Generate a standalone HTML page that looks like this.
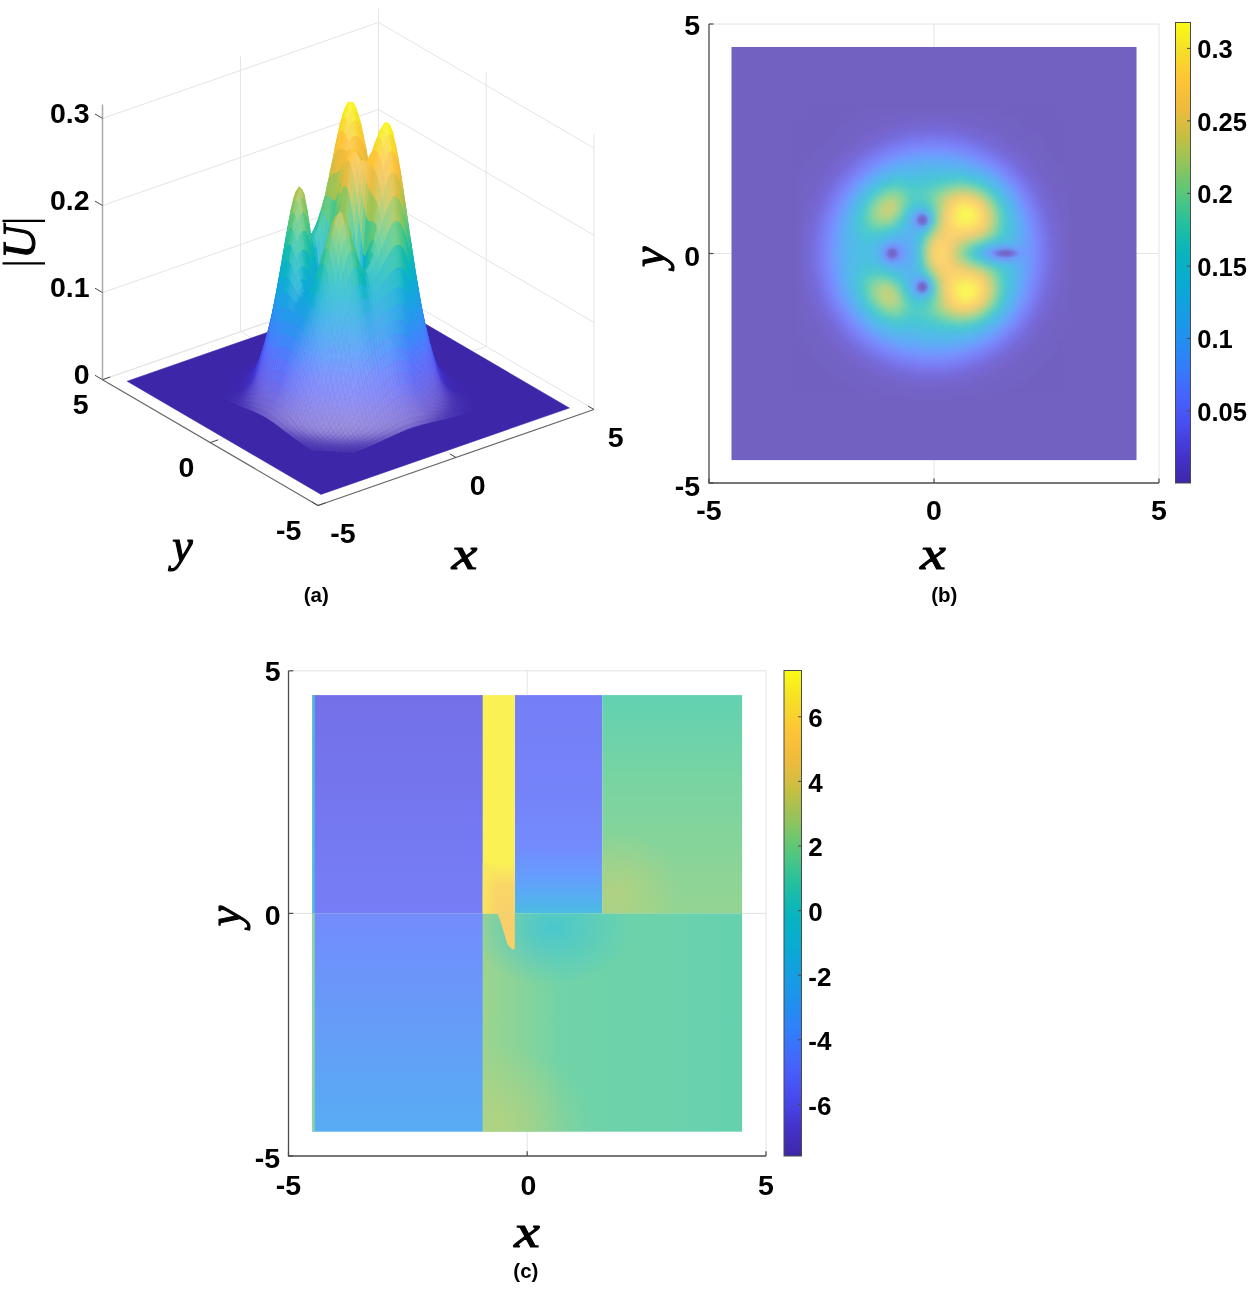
<!DOCTYPE html><html><head><meta charset="utf-8"><title>figure</title><style>html,body{margin:0;padding:0;background:#fff}svg{display:block}</style></head><body><svg width="1248" height="1289" viewBox="0 0 1248 1289"><line x1="934" y1="24.0" x2="934" y2="483.0" stroke="#e4e4e4" stroke-width="1"/><line x1="1159" y1="24.0" x2="1159" y2="483.0" stroke="#e4e4e4" stroke-width="1"/><line x1="709.0" y1="24" x2="1159.0" y2="24" stroke="#e4e4e4" stroke-width="1"/><line x1="709.0" y1="253.5" x2="1159.0" y2="253.5" stroke="#e4e4e4" stroke-width="1"/><rect x="731.5" y="47" width="405" height="413.1" fill="#7261c0"/><defs><filter id="bl" x="-5%" y="-5%" width="110%" height="110%"><feGaussianBlur stdDeviation="2.6"/></filter></defs><g filter="url(#bl)" shape-rendering="crispEdges"><rect x="799" y="111.2" width="6" height="6" fill="#7261c0"/><rect x="805" y="111.2" width="6" height="6" fill="#7261c0"/><rect x="811" y="111.2" width="6" height="6" fill="#7261c0"/><rect x="817" y="111.2" width="6" height="6" fill="#7261c0"/><rect x="823" y="111.2" width="6" height="6" fill="#7261c0"/><rect x="829" y="111.2" width="6" height="6" fill="#7261c0"/><rect x="835" y="111.2" width="6" height="6" fill="#7261c0"/><rect x="841" y="111.2" width="6" height="6" fill="#7261c1"/><rect x="847" y="111.2" width="6" height="6" fill="#7261c1"/><rect x="853" y="111.2" width="6" height="6" fill="#7261c1"/><rect x="859" y="111.2" width="6" height="6" fill="#7262c2"/><rect x="865" y="111.2" width="6" height="6" fill="#7262c2"/><rect x="871" y="111.2" width="6" height="6" fill="#7262c3"/><rect x="877" y="111.2" width="6" height="6" fill="#7362c3"/><rect x="883" y="111.2" width="6" height="6" fill="#7362c4"/><rect x="889" y="111.2" width="6" height="6" fill="#7362c4"/><rect x="895" y="111.2" width="6" height="6" fill="#7363c5"/><rect x="901" y="111.2" width="6" height="6" fill="#7363c6"/><rect x="907" y="111.2" width="6" height="6" fill="#7363c6"/><rect x="913" y="111.2" width="6" height="6" fill="#7363c6"/><rect x="919" y="111.2" width="6" height="6" fill="#7363c7"/><rect x="925" y="111.2" width="6" height="6" fill="#7363c7"/><rect x="931" y="111.2" width="6" height="6" fill="#7363c7"/><rect x="937" y="111.2" width="6" height="6" fill="#7363c7"/><rect x="943" y="111.2" width="6" height="6" fill="#7363c7"/><rect x="949" y="111.2" width="6" height="6" fill="#7363c6"/><rect x="955" y="111.2" width="6" height="6" fill="#7363c6"/><rect x="961" y="111.2" width="6" height="6" fill="#7363c5"/><rect x="967" y="111.2" width="6" height="6" fill="#7363c5"/><rect x="973" y="111.2" width="6" height="6" fill="#7362c4"/><rect x="979" y="111.2" width="6" height="6" fill="#7362c3"/><rect x="985" y="111.2" width="6" height="6" fill="#7262c3"/><rect x="991" y="111.2" width="6" height="6" fill="#7262c2"/><rect x="997" y="111.2" width="6" height="6" fill="#7262c2"/><rect x="1003" y="111.2" width="6" height="6" fill="#7261c1"/><rect x="1009" y="111.2" width="6" height="6" fill="#7261c1"/><rect x="1015" y="111.2" width="6" height="6" fill="#7261c1"/><rect x="1021" y="111.2" width="6" height="6" fill="#7261c0"/><rect x="1027" y="111.2" width="6" height="6" fill="#7261c0"/><rect x="1033" y="111.2" width="6" height="6" fill="#7261c0"/><rect x="1039" y="111.2" width="6" height="6" fill="#7261c0"/><rect x="1045" y="111.2" width="6" height="6" fill="#7261c0"/><rect x="1051" y="111.2" width="6" height="6" fill="#7261c0"/><rect x="1057" y="111.2" width="6" height="6" fill="#7261c0"/><rect x="1063" y="111.2" width="6" height="6" fill="#7261c0"/><rect x="799" y="117.2" width="6" height="6" fill="#7261c0"/><rect x="805" y="117.2" width="6" height="6" fill="#7261c0"/><rect x="811" y="117.2" width="6" height="6" fill="#7261c0"/><rect x="817" y="117.2" width="6" height="6" fill="#7261c0"/><rect x="823" y="117.2" width="6" height="6" fill="#7261c0"/><rect x="829" y="117.2" width="6" height="6" fill="#7261c0"/><rect x="835" y="117.2" width="6" height="6" fill="#7261c1"/><rect x="841" y="117.2" width="6" height="6" fill="#7261c1"/><rect x="847" y="117.2" width="6" height="6" fill="#7261c2"/><rect x="853" y="117.2" width="6" height="6" fill="#7262c2"/><rect x="859" y="117.2" width="6" height="6" fill="#7262c3"/><rect x="865" y="117.2" width="6" height="6" fill="#7362c3"/><rect x="871" y="117.2" width="6" height="6" fill="#7362c4"/><rect x="877" y="117.2" width="6" height="6" fill="#7363c5"/><rect x="883" y="117.2" width="6" height="6" fill="#7363c6"/><rect x="889" y="117.2" width="6" height="6" fill="#7363c7"/><rect x="895" y="117.2" width="6" height="6" fill="#7364c8"/><rect x="901" y="117.2" width="6" height="6" fill="#7364c9"/><rect x="907" y="117.2" width="6" height="6" fill="#7464ca"/><rect x="913" y="117.2" width="6" height="6" fill="#7465ca"/><rect x="919" y="117.2" width="6" height="6" fill="#7465cb"/><rect x="925" y="117.2" width="6" height="6" fill="#7465cb"/><rect x="931" y="117.2" width="6" height="6" fill="#7465cb"/><rect x="937" y="117.2" width="6" height="6" fill="#7465cb"/><rect x="943" y="117.2" width="6" height="6" fill="#7465cb"/><rect x="949" y="117.2" width="6" height="6" fill="#7464ca"/><rect x="955" y="117.2" width="6" height="6" fill="#7364c9"/><rect x="961" y="117.2" width="6" height="6" fill="#7364c8"/><rect x="967" y="117.2" width="6" height="6" fill="#7363c7"/><rect x="973" y="117.2" width="6" height="6" fill="#7363c6"/><rect x="979" y="117.2" width="6" height="6" fill="#7363c5"/><rect x="985" y="117.2" width="6" height="6" fill="#7362c4"/><rect x="991" y="117.2" width="6" height="6" fill="#7362c4"/><rect x="997" y="117.2" width="6" height="6" fill="#7262c3"/><rect x="1003" y="117.2" width="6" height="6" fill="#7262c2"/><rect x="1009" y="117.2" width="6" height="6" fill="#7262c2"/><rect x="1015" y="117.2" width="6" height="6" fill="#7261c1"/><rect x="1021" y="117.2" width="6" height="6" fill="#7261c1"/><rect x="1027" y="117.2" width="6" height="6" fill="#7261c1"/><rect x="1033" y="117.2" width="6" height="6" fill="#7261c0"/><rect x="1039" y="117.2" width="6" height="6" fill="#7261c0"/><rect x="1045" y="117.2" width="6" height="6" fill="#7261c0"/><rect x="1051" y="117.2" width="6" height="6" fill="#7261c0"/><rect x="1057" y="117.2" width="6" height="6" fill="#7261c0"/><rect x="1063" y="117.2" width="6" height="6" fill="#7261c0"/><rect x="799" y="123.2" width="6" height="6" fill="#7261c0"/><rect x="805" y="123.2" width="6" height="6" fill="#7261c0"/><rect x="811" y="123.2" width="6" height="6" fill="#7261c0"/><rect x="817" y="123.2" width="6" height="6" fill="#7261c0"/><rect x="823" y="123.2" width="6" height="6" fill="#7261c1"/><rect x="829" y="123.2" width="6" height="6" fill="#7261c1"/><rect x="835" y="123.2" width="6" height="6" fill="#7261c1"/><rect x="841" y="123.2" width="6" height="6" fill="#7262c2"/><rect x="847" y="123.2" width="6" height="6" fill="#7262c2"/><rect x="853" y="123.2" width="6" height="6" fill="#7362c3"/><rect x="859" y="123.2" width="6" height="6" fill="#7362c4"/><rect x="865" y="123.2" width="6" height="6" fill="#7363c5"/><rect x="871" y="123.2" width="6" height="6" fill="#7363c6"/><rect x="877" y="123.2" width="6" height="6" fill="#7364c8"/><rect x="883" y="123.2" width="6" height="6" fill="#7464c9"/><rect x="889" y="123.2" width="6" height="6" fill="#7465cb"/><rect x="895" y="123.2" width="6" height="6" fill="#7465cd"/><rect x="901" y="123.2" width="6" height="6" fill="#7466ce"/><rect x="907" y="123.2" width="6" height="6" fill="#7566d0"/><rect x="913" y="123.2" width="6" height="6" fill="#7567d1"/><rect x="919" y="123.2" width="6" height="6" fill="#7567d2"/><rect x="925" y="123.2" width="6" height="6" fill="#7567d3"/><rect x="931" y="123.2" width="6" height="6" fill="#7567d3"/><rect x="937" y="123.2" width="6" height="6" fill="#7567d2"/><rect x="943" y="123.2" width="6" height="6" fill="#7567d1"/><rect x="949" y="123.2" width="6" height="6" fill="#7567d0"/><rect x="955" y="123.2" width="6" height="6" fill="#7466cf"/><rect x="961" y="123.2" width="6" height="6" fill="#7466cd"/><rect x="967" y="123.2" width="6" height="6" fill="#7465cc"/><rect x="973" y="123.2" width="6" height="6" fill="#7464ca"/><rect x="979" y="123.2" width="6" height="6" fill="#7364c8"/><rect x="985" y="123.2" width="6" height="6" fill="#7363c7"/><rect x="991" y="123.2" width="6" height="6" fill="#7363c6"/><rect x="997" y="123.2" width="6" height="6" fill="#7362c4"/><rect x="1003" y="123.2" width="6" height="6" fill="#7362c3"/><rect x="1009" y="123.2" width="6" height="6" fill="#7262c3"/><rect x="1015" y="123.2" width="6" height="6" fill="#7262c2"/><rect x="1021" y="123.2" width="6" height="6" fill="#7261c1"/><rect x="1027" y="123.2" width="6" height="6" fill="#7261c1"/><rect x="1033" y="123.2" width="6" height="6" fill="#7261c1"/><rect x="1039" y="123.2" width="6" height="6" fill="#7261c0"/><rect x="1045" y="123.2" width="6" height="6" fill="#7261c0"/><rect x="1051" y="123.2" width="6" height="6" fill="#7261c0"/><rect x="1057" y="123.2" width="6" height="6" fill="#7261c0"/><rect x="1063" y="123.2" width="6" height="6" fill="#7261c0"/><rect x="799" y="129.2" width="6" height="6" fill="#7261c0"/><rect x="805" y="129.2" width="6" height="6" fill="#7261c0"/><rect x="811" y="129.2" width="6" height="6" fill="#7261c0"/><rect x="817" y="129.2" width="6" height="6" fill="#7261c1"/><rect x="823" y="129.2" width="6" height="6" fill="#7261c1"/><rect x="829" y="129.2" width="6" height="6" fill="#7261c1"/><rect x="835" y="129.2" width="6" height="6" fill="#7262c2"/><rect x="841" y="129.2" width="6" height="6" fill="#7262c3"/><rect x="847" y="129.2" width="6" height="6" fill="#7362c4"/><rect x="853" y="129.2" width="6" height="6" fill="#7363c5"/><rect x="859" y="129.2" width="6" height="6" fill="#7363c6"/><rect x="865" y="129.2" width="6" height="6" fill="#7364c8"/><rect x="871" y="129.2" width="6" height="6" fill="#7464ca"/><rect x="877" y="129.2" width="6" height="6" fill="#7465cc"/><rect x="883" y="129.2" width="6" height="6" fill="#7466cf"/><rect x="889" y="129.2" width="6" height="6" fill="#7567d2"/><rect x="895" y="129.2" width="6" height="6" fill="#7568d5"/><rect x="901" y="129.2" width="6" height="6" fill="#7669d7"/><rect x="907" y="129.2" width="6" height="6" fill="#766ad9"/><rect x="913" y="129.2" width="6" height="6" fill="#766bdb"/><rect x="919" y="129.2" width="6" height="6" fill="#766cdc"/><rect x="925" y="129.2" width="6" height="6" fill="#776cdd"/><rect x="931" y="129.2" width="6" height="6" fill="#776cdd"/><rect x="937" y="129.2" width="6" height="6" fill="#776cdd"/><rect x="943" y="129.2" width="6" height="6" fill="#766bdc"/><rect x="949" y="129.2" width="6" height="6" fill="#766ada"/><rect x="955" y="129.2" width="6" height="6" fill="#7669d8"/><rect x="961" y="129.2" width="6" height="6" fill="#7568d5"/><rect x="967" y="129.2" width="6" height="6" fill="#7567d3"/><rect x="973" y="129.2" width="6" height="6" fill="#7566d0"/><rect x="979" y="129.2" width="6" height="6" fill="#7465cd"/><rect x="985" y="129.2" width="6" height="6" fill="#7465cb"/><rect x="991" y="129.2" width="6" height="6" fill="#7364c9"/><rect x="997" y="129.2" width="6" height="6" fill="#7363c7"/><rect x="1003" y="129.2" width="6" height="6" fill="#7363c5"/><rect x="1009" y="129.2" width="6" height="6" fill="#7362c4"/><rect x="1015" y="129.2" width="6" height="6" fill="#7262c3"/><rect x="1021" y="129.2" width="6" height="6" fill="#7262c2"/><rect x="1027" y="129.2" width="6" height="6" fill="#7261c2"/><rect x="1033" y="129.2" width="6" height="6" fill="#7261c1"/><rect x="1039" y="129.2" width="6" height="6" fill="#7261c1"/><rect x="1045" y="129.2" width="6" height="6" fill="#7261c0"/><rect x="1051" y="129.2" width="6" height="6" fill="#7261c0"/><rect x="1057" y="129.2" width="6" height="6" fill="#7261c0"/><rect x="1063" y="129.2" width="6" height="6" fill="#7261c0"/><rect x="799" y="135.2" width="6" height="6" fill="#7261c0"/><rect x="805" y="135.2" width="6" height="6" fill="#7261c0"/><rect x="811" y="135.2" width="6" height="6" fill="#7261c1"/><rect x="817" y="135.2" width="6" height="6" fill="#7261c1"/><rect x="823" y="135.2" width="6" height="6" fill="#7261c1"/><rect x="829" y="135.2" width="6" height="6" fill="#7262c2"/><rect x="835" y="135.2" width="6" height="6" fill="#7262c3"/><rect x="841" y="135.2" width="6" height="6" fill="#7362c4"/><rect x="847" y="135.2" width="6" height="6" fill="#7363c5"/><rect x="853" y="135.2" width="6" height="6" fill="#7363c7"/><rect x="859" y="135.2" width="6" height="6" fill="#7464ca"/><rect x="865" y="135.2" width="6" height="6" fill="#7465cc"/><rect x="871" y="135.2" width="6" height="6" fill="#7566d0"/><rect x="877" y="135.2" width="6" height="6" fill="#7568d4"/><rect x="883" y="135.2" width="6" height="6" fill="#7669d8"/><rect x="889" y="135.2" width="6" height="6" fill="#766bdc"/><rect x="895" y="135.2" width="6" height="6" fill="#776edf"/><rect x="901" y="135.2" width="6" height="6" fill="#7770e3"/><rect x="907" y="135.2" width="6" height="6" fill="#7873e6"/><rect x="913" y="135.2" width="6" height="6" fill="#7874e9"/><rect x="919" y="135.2" width="6" height="6" fill="#7876eb"/><rect x="925" y="135.2" width="6" height="6" fill="#7877ec"/><rect x="931" y="135.2" width="6" height="6" fill="#7877ec"/><rect x="937" y="135.2" width="6" height="6" fill="#7876eb"/><rect x="943" y="135.2" width="6" height="6" fill="#7875ea"/><rect x="949" y="135.2" width="6" height="6" fill="#7873e7"/><rect x="955" y="135.2" width="6" height="6" fill="#7771e4"/><rect x="961" y="135.2" width="6" height="6" fill="#776fe1"/><rect x="967" y="135.2" width="6" height="6" fill="#776cdd"/><rect x="973" y="135.2" width="6" height="6" fill="#766ad9"/><rect x="979" y="135.2" width="6" height="6" fill="#7568d5"/><rect x="985" y="135.2" width="6" height="6" fill="#7567d1"/><rect x="991" y="135.2" width="6" height="6" fill="#7466cd"/><rect x="997" y="135.2" width="6" height="6" fill="#7465ca"/><rect x="1003" y="135.2" width="6" height="6" fill="#7364c8"/><rect x="1009" y="135.2" width="6" height="6" fill="#7363c6"/><rect x="1015" y="135.2" width="6" height="6" fill="#7362c4"/><rect x="1021" y="135.2" width="6" height="6" fill="#7362c3"/><rect x="1027" y="135.2" width="6" height="6" fill="#7262c2"/><rect x="1033" y="135.2" width="6" height="6" fill="#7262c2"/><rect x="1039" y="135.2" width="6" height="6" fill="#7261c1"/><rect x="1045" y="135.2" width="6" height="6" fill="#7261c1"/><rect x="1051" y="135.2" width="6" height="6" fill="#7261c0"/><rect x="1057" y="135.2" width="6" height="6" fill="#7261c0"/><rect x="1063" y="135.2" width="6" height="6" fill="#7261c0"/><rect x="799" y="141.2" width="6" height="6" fill="#7261c0"/><rect x="805" y="141.2" width="6" height="6" fill="#7261c1"/><rect x="811" y="141.2" width="6" height="6" fill="#7261c1"/><rect x="817" y="141.2" width="6" height="6" fill="#7261c1"/><rect x="823" y="141.2" width="6" height="6" fill="#7262c2"/><rect x="829" y="141.2" width="6" height="6" fill="#7262c3"/><rect x="835" y="141.2" width="6" height="6" fill="#7362c4"/><rect x="841" y="141.2" width="6" height="6" fill="#7363c6"/><rect x="847" y="141.2" width="6" height="6" fill="#7364c8"/><rect x="853" y="141.2" width="6" height="6" fill="#7465cb"/><rect x="859" y="141.2" width="6" height="6" fill="#7466cf"/><rect x="865" y="141.2" width="6" height="6" fill="#7568d3"/><rect x="871" y="141.2" width="6" height="6" fill="#7669d8"/><rect x="877" y="141.2" width="6" height="6" fill="#776cdd"/><rect x="883" y="141.2" width="6" height="6" fill="#7771e3"/><rect x="889" y="141.2" width="6" height="6" fill="#7875e9"/><rect x="895" y="141.2" width="6" height="6" fill="#7978ee"/><rect x="901" y="141.2" width="6" height="6" fill="#797cf3"/><rect x="907" y="141.2" width="6" height="6" fill="#797ef5"/><rect x="913" y="141.2" width="6" height="6" fill="#7980f6"/><rect x="919" y="141.2" width="6" height="6" fill="#7982f7"/><rect x="925" y="141.2" width="6" height="6" fill="#7983f7"/><rect x="931" y="141.2" width="6" height="6" fill="#7983f7"/><rect x="937" y="141.2" width="6" height="6" fill="#7982f7"/><rect x="943" y="141.2" width="6" height="6" fill="#7981f6"/><rect x="949" y="141.2" width="6" height="6" fill="#797ff5"/><rect x="955" y="141.2" width="6" height="6" fill="#797df4"/><rect x="961" y="141.2" width="6" height="6" fill="#797af0"/><rect x="967" y="141.2" width="6" height="6" fill="#7876eb"/><rect x="973" y="141.2" width="6" height="6" fill="#7772e5"/><rect x="979" y="141.2" width="6" height="6" fill="#776edf"/><rect x="985" y="141.2" width="6" height="6" fill="#766ada"/><rect x="991" y="141.2" width="6" height="6" fill="#7568d4"/><rect x="997" y="141.2" width="6" height="6" fill="#7566d0"/><rect x="1003" y="141.2" width="6" height="6" fill="#7465cc"/><rect x="1009" y="141.2" width="6" height="6" fill="#7364c9"/><rect x="1015" y="141.2" width="6" height="6" fill="#7363c7"/><rect x="1021" y="141.2" width="6" height="6" fill="#7363c5"/><rect x="1027" y="141.2" width="6" height="6" fill="#7362c3"/><rect x="1033" y="141.2" width="6" height="6" fill="#7262c2"/><rect x="1039" y="141.2" width="6" height="6" fill="#7262c2"/><rect x="1045" y="141.2" width="6" height="6" fill="#7261c1"/><rect x="1051" y="141.2" width="6" height="6" fill="#7261c1"/><rect x="1057" y="141.2" width="6" height="6" fill="#7261c0"/><rect x="1063" y="141.2" width="6" height="6" fill="#7261c0"/><rect x="799" y="147.2" width="6" height="6" fill="#7261c0"/><rect x="805" y="147.2" width="6" height="6" fill="#7261c1"/><rect x="811" y="147.2" width="6" height="6" fill="#7261c1"/><rect x="817" y="147.2" width="6" height="6" fill="#7262c2"/><rect x="823" y="147.2" width="6" height="6" fill="#7262c3"/><rect x="829" y="147.2" width="6" height="6" fill="#7362c4"/><rect x="835" y="147.2" width="6" height="6" fill="#7363c6"/><rect x="841" y="147.2" width="6" height="6" fill="#7364c9"/><rect x="847" y="147.2" width="6" height="6" fill="#7465cc"/><rect x="853" y="147.2" width="6" height="6" fill="#7567d0"/><rect x="859" y="147.2" width="6" height="6" fill="#7669d6"/><rect x="865" y="147.2" width="6" height="6" fill="#766cdc"/><rect x="871" y="147.2" width="6" height="6" fill="#7771e3"/><rect x="877" y="147.2" width="6" height="6" fill="#7876eb"/><rect x="883" y="147.2" width="6" height="6" fill="#797bf2"/><rect x="889" y="147.2" width="6" height="6" fill="#7980f6"/><rect x="895" y="147.2" width="6" height="6" fill="#7984f8"/><rect x="901" y="147.2" width="6" height="6" fill="#7988fa"/><rect x="907" y="147.2" width="6" height="6" fill="#788bfc"/><rect x="913" y="147.2" width="6" height="6" fill="#788dfd"/><rect x="919" y="147.2" width="6" height="6" fill="#778ffd"/><rect x="925" y="147.2" width="6" height="6" fill="#7690fd"/><rect x="931" y="147.2" width="6" height="6" fill="#7690fd"/><rect x="937" y="147.2" width="6" height="6" fill="#7690fd"/><rect x="943" y="147.2" width="6" height="6" fill="#778efd"/><rect x="949" y="147.2" width="6" height="6" fill="#788cfc"/><rect x="955" y="147.2" width="6" height="6" fill="#7889fb"/><rect x="961" y="147.2" width="6" height="6" fill="#7986f9"/><rect x="967" y="147.2" width="6" height="6" fill="#7982f7"/><rect x="973" y="147.2" width="6" height="6" fill="#797df4"/><rect x="979" y="147.2" width="6" height="6" fill="#7878ed"/><rect x="985" y="147.2" width="6" height="6" fill="#7872e6"/><rect x="991" y="147.2" width="6" height="6" fill="#776dde"/><rect x="997" y="147.2" width="6" height="6" fill="#7669d8"/><rect x="1003" y="147.2" width="6" height="6" fill="#7567d2"/><rect x="1009" y="147.2" width="6" height="6" fill="#7466cd"/><rect x="1015" y="147.2" width="6" height="6" fill="#7464ca"/><rect x="1021" y="147.2" width="6" height="6" fill="#7363c7"/><rect x="1027" y="147.2" width="6" height="6" fill="#7363c5"/><rect x="1033" y="147.2" width="6" height="6" fill="#7362c3"/><rect x="1039" y="147.2" width="6" height="6" fill="#7262c2"/><rect x="1045" y="147.2" width="6" height="6" fill="#7261c2"/><rect x="1051" y="147.2" width="6" height="6" fill="#7261c1"/><rect x="1057" y="147.2" width="6" height="6" fill="#7261c1"/><rect x="1063" y="147.2" width="6" height="6" fill="#7261c0"/><rect x="799" y="153.2" width="6" height="6" fill="#7261c1"/><rect x="805" y="153.2" width="6" height="6" fill="#7261c1"/><rect x="811" y="153.2" width="6" height="6" fill="#7262c2"/><rect x="817" y="153.2" width="6" height="6" fill="#7262c3"/><rect x="823" y="153.2" width="6" height="6" fill="#7362c4"/><rect x="829" y="153.2" width="6" height="6" fill="#7363c6"/><rect x="835" y="153.2" width="6" height="6" fill="#7364c9"/><rect x="841" y="153.2" width="6" height="6" fill="#7465cd"/><rect x="847" y="153.2" width="6" height="6" fill="#7567d2"/><rect x="853" y="153.2" width="6" height="6" fill="#7669d8"/><rect x="859" y="153.2" width="6" height="6" fill="#776edf"/><rect x="865" y="153.2" width="6" height="6" fill="#7874e8"/><rect x="871" y="153.2" width="6" height="6" fill="#797bf2"/><rect x="877" y="153.2" width="6" height="6" fill="#7981f6"/><rect x="883" y="153.2" width="6" height="6" fill="#7987fa"/><rect x="889" y="153.2" width="6" height="6" fill="#788dfd"/><rect x="895" y="153.2" width="6" height="6" fill="#7592fd"/><rect x="901" y="153.2" width="6" height="6" fill="#7296fd"/><rect x="907" y="153.2" width="6" height="6" fill="#6f99fd"/><rect x="913" y="153.2" width="6" height="6" fill="#6d9cfd"/><rect x="919" y="153.2" width="6" height="6" fill="#6b9efd"/><rect x="925" y="153.2" width="6" height="6" fill="#6aa0fd"/><rect x="931" y="153.2" width="6" height="6" fill="#69a0fd"/><rect x="937" y="153.2" width="6" height="6" fill="#6a9ffd"/><rect x="943" y="153.2" width="6" height="6" fill="#6b9efd"/><rect x="949" y="153.2" width="6" height="6" fill="#6d9cfd"/><rect x="955" y="153.2" width="6" height="6" fill="#6f99fd"/><rect x="961" y="153.2" width="6" height="6" fill="#7394fd"/><rect x="967" y="153.2" width="6" height="6" fill="#778ffd"/><rect x="973" y="153.2" width="6" height="6" fill="#788afb"/><rect x="979" y="153.2" width="6" height="6" fill="#7984f8"/><rect x="985" y="153.2" width="6" height="6" fill="#797ef4"/><rect x="991" y="153.2" width="6" height="6" fill="#7877ec"/><rect x="997" y="153.2" width="6" height="6" fill="#7770e3"/><rect x="1003" y="153.2" width="6" height="6" fill="#766adb"/><rect x="1009" y="153.2" width="6" height="6" fill="#7568d4"/><rect x="1015" y="153.2" width="6" height="6" fill="#7466ce"/><rect x="1021" y="153.2" width="6" height="6" fill="#7464ca"/><rect x="1027" y="153.2" width="6" height="6" fill="#7363c7"/><rect x="1033" y="153.2" width="6" height="6" fill="#7363c5"/><rect x="1039" y="153.2" width="6" height="6" fill="#7362c3"/><rect x="1045" y="153.2" width="6" height="6" fill="#7262c2"/><rect x="1051" y="153.2" width="6" height="6" fill="#7261c1"/><rect x="1057" y="153.2" width="6" height="6" fill="#7261c1"/><rect x="1063" y="153.2" width="6" height="6" fill="#7261c0"/><rect x="799" y="159.2" width="6" height="6" fill="#7261c1"/><rect x="805" y="159.2" width="6" height="6" fill="#7262c2"/><rect x="811" y="159.2" width="6" height="6" fill="#7262c3"/><rect x="817" y="159.2" width="6" height="6" fill="#7362c4"/><rect x="823" y="159.2" width="6" height="6" fill="#7363c6"/><rect x="829" y="159.2" width="6" height="6" fill="#7364c9"/><rect x="835" y="159.2" width="6" height="6" fill="#7465cd"/><rect x="841" y="159.2" width="6" height="6" fill="#7567d2"/><rect x="847" y="159.2" width="6" height="6" fill="#766ad9"/><rect x="853" y="159.2" width="6" height="6" fill="#776fe2"/><rect x="859" y="159.2" width="6" height="6" fill="#7877ec"/><rect x="865" y="159.2" width="6" height="6" fill="#797ff5"/><rect x="871" y="159.2" width="6" height="6" fill="#7986f9"/><rect x="877" y="159.2" width="6" height="6" fill="#788efd"/><rect x="883" y="159.2" width="6" height="6" fill="#7296fd"/><rect x="889" y="159.2" width="6" height="6" fill="#6c9dfd"/><rect x="895" y="159.2" width="6" height="6" fill="#68a2fc"/><rect x="901" y="159.2" width="6" height="6" fill="#65a5f9"/><rect x="907" y="159.2" width="6" height="6" fill="#63a7f8"/><rect x="913" y="159.2" width="6" height="6" fill="#61a9f7"/><rect x="919" y="159.2" width="6" height="6" fill="#5fabf5"/><rect x="925" y="159.2" width="6" height="6" fill="#5eacf4"/><rect x="931" y="159.2" width="6" height="6" fill="#5dadf4"/><rect x="937" y="159.2" width="6" height="6" fill="#5dadf4"/><rect x="943" y="159.2" width="6" height="6" fill="#5eacf5"/><rect x="949" y="159.2" width="6" height="6" fill="#60aaf6"/><rect x="955" y="159.2" width="6" height="6" fill="#62a8f7"/><rect x="961" y="159.2" width="6" height="6" fill="#65a5fa"/><rect x="967" y="159.2" width="6" height="6" fill="#69a0fc"/><rect x="973" y="159.2" width="6" height="6" fill="#6e9afd"/><rect x="979" y="159.2" width="6" height="6" fill="#7492fd"/><rect x="985" y="159.2" width="6" height="6" fill="#788afb"/><rect x="991" y="159.2" width="6" height="6" fill="#7982f7"/><rect x="997" y="159.2" width="6" height="6" fill="#797af1"/><rect x="1003" y="159.2" width="6" height="6" fill="#7872e6"/><rect x="1009" y="159.2" width="6" height="6" fill="#766cdc"/><rect x="1015" y="159.2" width="6" height="6" fill="#7568d4"/><rect x="1021" y="159.2" width="6" height="6" fill="#7466ce"/><rect x="1027" y="159.2" width="6" height="6" fill="#7464ca"/><rect x="1033" y="159.2" width="6" height="6" fill="#7363c7"/><rect x="1039" y="159.2" width="6" height="6" fill="#7363c5"/><rect x="1045" y="159.2" width="6" height="6" fill="#7262c3"/><rect x="1051" y="159.2" width="6" height="6" fill="#7262c2"/><rect x="1057" y="159.2" width="6" height="6" fill="#7261c1"/><rect x="1063" y="159.2" width="6" height="6" fill="#7261c1"/><rect x="799" y="165.2" width="6" height="6" fill="#7261c2"/><rect x="805" y="165.2" width="6" height="6" fill="#7262c2"/><rect x="811" y="165.2" width="6" height="6" fill="#7362c4"/><rect x="817" y="165.2" width="6" height="6" fill="#7363c5"/><rect x="823" y="165.2" width="6" height="6" fill="#7364c8"/><rect x="829" y="165.2" width="6" height="6" fill="#7465cc"/><rect x="835" y="165.2" width="6" height="6" fill="#7567d2"/><rect x="841" y="165.2" width="6" height="6" fill="#766ad9"/><rect x="847" y="165.2" width="6" height="6" fill="#7770e2"/><rect x="853" y="165.2" width="6" height="6" fill="#7978ee"/><rect x="859" y="165.2" width="6" height="6" fill="#7981f6"/><rect x="865" y="165.2" width="6" height="6" fill="#788afb"/><rect x="871" y="165.2" width="6" height="6" fill="#7394fd"/><rect x="877" y="165.2" width="6" height="6" fill="#6b9efd"/><rect x="883" y="165.2" width="6" height="6" fill="#64a6f9"/><rect x="889" y="165.2" width="6" height="6" fill="#5eacf5"/><rect x="895" y="165.2" width="6" height="6" fill="#5baff2"/><rect x="901" y="165.2" width="6" height="6" fill="#5ab1f1"/><rect x="907" y="165.2" width="6" height="6" fill="#59b2f0"/><rect x="913" y="165.2" width="6" height="6" fill="#58b3ef"/><rect x="919" y="165.2" width="6" height="6" fill="#57b4ee"/><rect x="925" y="165.2" width="6" height="6" fill="#56b6ed"/><rect x="931" y="165.2" width="6" height="6" fill="#55b6ec"/><rect x="937" y="165.2" width="6" height="6" fill="#55b7ec"/><rect x="943" y="165.2" width="6" height="6" fill="#55b6ec"/><rect x="949" y="165.2" width="6" height="6" fill="#56b6ec"/><rect x="955" y="165.2" width="6" height="6" fill="#57b5ee"/><rect x="961" y="165.2" width="6" height="6" fill="#59b3ef"/><rect x="967" y="165.2" width="6" height="6" fill="#5baff2"/><rect x="973" y="165.2" width="6" height="6" fill="#60aaf6"/><rect x="979" y="165.2" width="6" height="6" fill="#66a3fb"/><rect x="985" y="165.2" width="6" height="6" fill="#6e9afd"/><rect x="991" y="165.2" width="6" height="6" fill="#7690fd"/><rect x="997" y="165.2" width="6" height="6" fill="#7986f9"/><rect x="1003" y="165.2" width="6" height="6" fill="#797df4"/><rect x="1009" y="165.2" width="6" height="6" fill="#7873e7"/><rect x="1015" y="165.2" width="6" height="6" fill="#776cdd"/><rect x="1021" y="165.2" width="6" height="6" fill="#7568d4"/><rect x="1027" y="165.2" width="6" height="6" fill="#7466ce"/><rect x="1033" y="165.2" width="6" height="6" fill="#7364c9"/><rect x="1039" y="165.2" width="6" height="6" fill="#7363c6"/><rect x="1045" y="165.2" width="6" height="6" fill="#7362c4"/><rect x="1051" y="165.2" width="6" height="6" fill="#7262c3"/><rect x="1057" y="165.2" width="6" height="6" fill="#7262c2"/><rect x="1063" y="165.2" width="6" height="6" fill="#7261c1"/><rect x="799" y="171.2" width="6" height="6" fill="#7262c2"/><rect x="805" y="171.2" width="6" height="6" fill="#7262c3"/><rect x="811" y="171.2" width="6" height="6" fill="#7363c5"/><rect x="817" y="171.2" width="6" height="6" fill="#7363c7"/><rect x="823" y="171.2" width="6" height="6" fill="#7465cb"/><rect x="829" y="171.2" width="6" height="6" fill="#7567d0"/><rect x="835" y="171.2" width="6" height="6" fill="#7669d8"/><rect x="841" y="171.2" width="6" height="6" fill="#7770e2"/><rect x="847" y="171.2" width="6" height="6" fill="#7978ee"/><rect x="853" y="171.2" width="6" height="6" fill="#7982f7"/><rect x="859" y="171.2" width="6" height="6" fill="#788cfd"/><rect x="865" y="171.2" width="6" height="6" fill="#7098fd"/><rect x="871" y="171.2" width="6" height="6" fill="#66a3fa"/><rect x="877" y="171.2" width="6" height="6" fill="#5dadf4"/><rect x="883" y="171.2" width="6" height="6" fill="#58b3ef"/><rect x="889" y="171.2" width="6" height="6" fill="#54b8eb"/><rect x="895" y="171.2" width="6" height="6" fill="#52bae8"/><rect x="901" y="171.2" width="6" height="6" fill="#51bbe7"/><rect x="907" y="171.2" width="6" height="6" fill="#51bbe7"/><rect x="913" y="171.2" width="6" height="6" fill="#51bce6"/><rect x="919" y="171.2" width="6" height="6" fill="#4fbde4"/><rect x="925" y="171.2" width="6" height="6" fill="#4ebee3"/><rect x="931" y="171.2" width="6" height="6" fill="#4dbfe1"/><rect x="937" y="171.2" width="6" height="6" fill="#4dc0e0"/><rect x="943" y="171.2" width="6" height="6" fill="#4cc1e0"/><rect x="949" y="171.2" width="6" height="6" fill="#4cc1df"/><rect x="955" y="171.2" width="6" height="6" fill="#4cc1e0"/><rect x="961" y="171.2" width="6" height="6" fill="#4ebfe2"/><rect x="967" y="171.2" width="6" height="6" fill="#50bce5"/><rect x="973" y="171.2" width="6" height="6" fill="#54b8eb"/><rect x="979" y="171.2" width="6" height="6" fill="#59b2f0"/><rect x="985" y="171.2" width="6" height="6" fill="#5fabf6"/><rect x="991" y="171.2" width="6" height="6" fill="#69a0fc"/><rect x="997" y="171.2" width="6" height="6" fill="#7394fd"/><rect x="1003" y="171.2" width="6" height="6" fill="#7988fa"/><rect x="1009" y="171.2" width="6" height="6" fill="#797df4"/><rect x="1015" y="171.2" width="6" height="6" fill="#7873e7"/><rect x="1021" y="171.2" width="6" height="6" fill="#766bdc"/><rect x="1027" y="171.2" width="6" height="6" fill="#7568d3"/><rect x="1033" y="171.2" width="6" height="6" fill="#7465cd"/><rect x="1039" y="171.2" width="6" height="6" fill="#7364c8"/><rect x="1045" y="171.2" width="6" height="6" fill="#7363c5"/><rect x="1051" y="171.2" width="6" height="6" fill="#7362c4"/><rect x="1057" y="171.2" width="6" height="6" fill="#7262c2"/><rect x="1063" y="171.2" width="6" height="6" fill="#7261c1"/><rect x="799" y="177.2" width="6" height="6" fill="#7262c3"/><rect x="805" y="177.2" width="6" height="6" fill="#7362c4"/><rect x="811" y="177.2" width="6" height="6" fill="#7363c6"/><rect x="817" y="177.2" width="6" height="6" fill="#7464ca"/><rect x="823" y="177.2" width="6" height="6" fill="#7466cf"/><rect x="829" y="177.2" width="6" height="6" fill="#7669d6"/><rect x="835" y="177.2" width="6" height="6" fill="#776ee0"/><rect x="841" y="177.2" width="6" height="6" fill="#7877ec"/><rect x="847" y="177.2" width="6" height="6" fill="#7981f7"/><rect x="853" y="177.2" width="6" height="6" fill="#788dfd"/><rect x="859" y="177.2" width="6" height="6" fill="#6e9afd"/><rect x="865" y="177.2" width="6" height="6" fill="#63a7f8"/><rect x="871" y="177.2" width="6" height="6" fill="#5ab1f1"/><rect x="877" y="177.2" width="6" height="6" fill="#53b9ea"/><rect x="883" y="177.2" width="6" height="6" fill="#4dbfe2"/><rect x="889" y="177.2" width="6" height="6" fill="#4ac3db"/><rect x="895" y="177.2" width="6" height="6" fill="#4ac5d9"/><rect x="901" y="177.2" width="6" height="6" fill="#4ac4d9"/><rect x="907" y="177.2" width="6" height="6" fill="#4ac3db"/><rect x="913" y="177.2" width="6" height="6" fill="#4ac3db"/><rect x="919" y="177.2" width="6" height="6" fill="#4ac4da"/><rect x="925" y="177.2" width="6" height="6" fill="#4ac5d7"/><rect x="931" y="177.2" width="6" height="6" fill="#4ac7d4"/><rect x="937" y="177.2" width="6" height="6" fill="#4ac8d1"/><rect x="943" y="177.2" width="6" height="6" fill="#4bc9cf"/><rect x="949" y="177.2" width="6" height="6" fill="#4dcacb"/><rect x="955" y="177.2" width="6" height="6" fill="#4fcbca"/><rect x="961" y="177.2" width="6" height="6" fill="#4dcacc"/><rect x="967" y="177.2" width="6" height="6" fill="#4ac8d1"/><rect x="973" y="177.2" width="6" height="6" fill="#4ac5d8"/><rect x="979" y="177.2" width="6" height="6" fill="#4dc0e1"/><rect x="985" y="177.2" width="6" height="6" fill="#54b8ea"/><rect x="991" y="177.2" width="6" height="6" fill="#5baff2"/><rect x="997" y="177.2" width="6" height="6" fill="#66a3fa"/><rect x="1003" y="177.2" width="6" height="6" fill="#7295fd"/><rect x="1009" y="177.2" width="6" height="6" fill="#7988fa"/><rect x="1015" y="177.2" width="6" height="6" fill="#797cf3"/><rect x="1021" y="177.2" width="6" height="6" fill="#7772e5"/><rect x="1027" y="177.2" width="6" height="6" fill="#766ada"/><rect x="1033" y="177.2" width="6" height="6" fill="#7567d1"/><rect x="1039" y="177.2" width="6" height="6" fill="#7465cb"/><rect x="1045" y="177.2" width="6" height="6" fill="#7363c7"/><rect x="1051" y="177.2" width="6" height="6" fill="#7363c5"/><rect x="1057" y="177.2" width="6" height="6" fill="#7262c3"/><rect x="1063" y="177.2" width="6" height="6" fill="#7262c2"/><rect x="799" y="183.2" width="6" height="6" fill="#7362c3"/><rect x="805" y="183.2" width="6" height="6" fill="#7363c5"/><rect x="811" y="183.2" width="6" height="6" fill="#7364c8"/><rect x="817" y="183.2" width="6" height="6" fill="#7465cc"/><rect x="823" y="183.2" width="6" height="6" fill="#7568d3"/><rect x="829" y="183.2" width="6" height="6" fill="#766cdc"/><rect x="835" y="183.2" width="6" height="6" fill="#7875e9"/><rect x="841" y="183.2" width="6" height="6" fill="#797ff5"/><rect x="847" y="183.2" width="6" height="6" fill="#788bfc"/><rect x="853" y="183.2" width="6" height="6" fill="#6f99fd"/><rect x="859" y="183.2" width="6" height="6" fill="#63a7f8"/><rect x="865" y="183.2" width="6" height="6" fill="#58b3ef"/><rect x="871" y="183.2" width="6" height="6" fill="#50bde5"/><rect x="877" y="183.2" width="6" height="6" fill="#4ac4d9"/><rect x="883" y="183.2" width="6" height="6" fill="#4bc9ce"/><rect x="889" y="183.2" width="6" height="6" fill="#54cdc4"/><rect x="895" y="183.2" width="6" height="6" fill="#55cdc3"/><rect x="901" y="183.2" width="6" height="6" fill="#51cbc8"/><rect x="907" y="183.2" width="6" height="6" fill="#4bc9ce"/><rect x="913" y="183.2" width="6" height="6" fill="#4ac8d0"/><rect x="919" y="183.2" width="6" height="6" fill="#4bc9ce"/><rect x="925" y="183.2" width="6" height="6" fill="#4fcbc9"/><rect x="931" y="183.2" width="6" height="6" fill="#55cdc3"/><rect x="937" y="183.2" width="6" height="6" fill="#5cd0bc"/><rect x="943" y="183.2" width="6" height="6" fill="#67d2b3"/><rect x="949" y="183.2" width="6" height="6" fill="#73d4ab"/><rect x="955" y="183.2" width="6" height="6" fill="#7ad5a6"/><rect x="961" y="183.2" width="6" height="6" fill="#7ad5a6"/><rect x="967" y="183.2" width="6" height="6" fill="#71d3ac"/><rect x="973" y="183.2" width="6" height="6" fill="#5fd1b9"/><rect x="979" y="183.2" width="6" height="6" fill="#50cbc9"/><rect x="985" y="183.2" width="6" height="6" fill="#4ac5d9"/><rect x="991" y="183.2" width="6" height="6" fill="#51bce6"/><rect x="997" y="183.2" width="6" height="6" fill="#5ab1f1"/><rect x="1003" y="183.2" width="6" height="6" fill="#66a3fa"/><rect x="1009" y="183.2" width="6" height="6" fill="#7394fd"/><rect x="1015" y="183.2" width="6" height="6" fill="#7985f9"/><rect x="1021" y="183.2" width="6" height="6" fill="#7979ef"/><rect x="1027" y="183.2" width="6" height="6" fill="#776fe1"/><rect x="1033" y="183.2" width="6" height="6" fill="#7669d6"/><rect x="1039" y="183.2" width="6" height="6" fill="#7466ce"/><rect x="1045" y="183.2" width="6" height="6" fill="#7364c9"/><rect x="1051" y="183.2" width="6" height="6" fill="#7363c6"/><rect x="1057" y="183.2" width="6" height="6" fill="#7362c4"/><rect x="1063" y="183.2" width="6" height="6" fill="#7262c2"/><rect x="799" y="189.2" width="6" height="6" fill="#7362c4"/><rect x="805" y="189.2" width="6" height="6" fill="#7363c6"/><rect x="811" y="189.2" width="6" height="6" fill="#7464ca"/><rect x="817" y="189.2" width="6" height="6" fill="#7566d0"/><rect x="823" y="189.2" width="6" height="6" fill="#7669d8"/><rect x="829" y="189.2" width="6" height="6" fill="#7771e4"/><rect x="835" y="189.2" width="6" height="6" fill="#797cf3"/><rect x="841" y="189.2" width="6" height="6" fill="#7987fa"/><rect x="847" y="189.2" width="6" height="6" fill="#7296fd"/><rect x="853" y="189.2" width="6" height="6" fill="#65a5f9"/><rect x="859" y="189.2" width="6" height="6" fill="#59b2f0"/><rect x="865" y="189.2" width="6" height="6" fill="#4fbde4"/><rect x="871" y="189.2" width="6" height="6" fill="#4ac6d5"/><rect x="877" y="189.2" width="6" height="6" fill="#56cec2"/><rect x="883" y="189.2" width="6" height="6" fill="#6cd3b0"/><rect x="889" y="189.2" width="6" height="6" fill="#7ad5a6"/><rect x="895" y="189.2" width="6" height="6" fill="#77d4a8"/><rect x="901" y="189.2" width="6" height="6" fill="#65d2b5"/><rect x="907" y="189.2" width="6" height="6" fill="#56cec1"/><rect x="913" y="189.2" width="6" height="6" fill="#52ccc7"/><rect x="919" y="189.2" width="6" height="6" fill="#54cdc4"/><rect x="925" y="189.2" width="6" height="6" fill="#5bd0bc"/><rect x="931" y="189.2" width="6" height="6" fill="#6ad2b1"/><rect x="937" y="189.2" width="6" height="6" fill="#7fd6a3"/><rect x="943" y="189.2" width="6" height="6" fill="#96d595"/><rect x="949" y="189.2" width="6" height="6" fill="#add488"/><rect x="955" y="189.2" width="6" height="6" fill="#bcd381"/><rect x="961" y="189.2" width="6" height="6" fill="#c1d27f"/><rect x="967" y="189.2" width="6" height="6" fill="#b8d383"/><rect x="973" y="189.2" width="6" height="6" fill="#a0d58f"/><rect x="979" y="189.2" width="6" height="6" fill="#7ed5a3"/><rect x="985" y="189.2" width="6" height="6" fill="#5acfbe"/><rect x="991" y="189.2" width="6" height="6" fill="#4ac6d5"/><rect x="997" y="189.2" width="6" height="6" fill="#51bce6"/><rect x="1003" y="189.2" width="6" height="6" fill="#5baff2"/><rect x="1009" y="189.2" width="6" height="6" fill="#69a0fc"/><rect x="1015" y="189.2" width="6" height="6" fill="#778ffd"/><rect x="1021" y="189.2" width="6" height="6" fill="#7981f6"/><rect x="1027" y="189.2" width="6" height="6" fill="#7875e9"/><rect x="1033" y="189.2" width="6" height="6" fill="#766cdc"/><rect x="1039" y="189.2" width="6" height="6" fill="#7567d2"/><rect x="1045" y="189.2" width="6" height="6" fill="#7465cc"/><rect x="1051" y="189.2" width="6" height="6" fill="#7363c7"/><rect x="1057" y="189.2" width="6" height="6" fill="#7363c5"/><rect x="1063" y="189.2" width="6" height="6" fill="#7262c3"/><rect x="799" y="195.2" width="6" height="6" fill="#7363c5"/><rect x="805" y="195.2" width="6" height="6" fill="#7364c8"/><rect x="811" y="195.2" width="6" height="6" fill="#7465cd"/><rect x="817" y="195.2" width="6" height="6" fill="#7568d4"/><rect x="823" y="195.2" width="6" height="6" fill="#776dde"/><rect x="829" y="195.2" width="6" height="6" fill="#7877ec"/><rect x="835" y="195.2" width="6" height="6" fill="#7982f7"/><rect x="841" y="195.2" width="6" height="6" fill="#7690fd"/><rect x="847" y="195.2" width="6" height="6" fill="#69a0fc"/><rect x="853" y="195.2" width="6" height="6" fill="#5baff2"/><rect x="859" y="195.2" width="6" height="6" fill="#51bbe7"/><rect x="865" y="195.2" width="6" height="6" fill="#4ac6d6"/><rect x="871" y="195.2" width="6" height="6" fill="#59cfbf"/><rect x="877" y="195.2" width="6" height="6" fill="#7bd5a5"/><rect x="883" y="195.2" width="6" height="6" fill="#9ad592"/><rect x="889" y="195.2" width="6" height="6" fill="#a6d48c"/><rect x="895" y="195.2" width="6" height="6" fill="#98d594"/><rect x="901" y="195.2" width="6" height="6" fill="#77d4a8"/><rect x="907" y="195.2" width="6" height="6" fill="#5bcfbd"/><rect x="913" y="195.2" width="6" height="6" fill="#52ccc6"/><rect x="919" y="195.2" width="6" height="6" fill="#54cdc4"/><rect x="925" y="195.2" width="6" height="6" fill="#5ed1b9"/><rect x="931" y="195.2" width="6" height="6" fill="#7ad5a6"/><rect x="937" y="195.2" width="6" height="6" fill="#9fd590"/><rect x="943" y="195.2" width="6" height="6" fill="#c6d27c"/><rect x="949" y="195.2" width="6" height="6" fill="#e3cf73"/><rect x="955" y="195.2" width="6" height="6" fill="#f3cd71"/><rect x="961" y="195.2" width="6" height="6" fill="#f5cf70"/><rect x="967" y="195.2" width="6" height="6" fill="#f3cd71"/><rect x="973" y="195.2" width="6" height="6" fill="#e1cf74"/><rect x="979" y="195.2" width="6" height="6" fill="#bdd380"/><rect x="985" y="195.2" width="6" height="6" fill="#89d69c"/><rect x="991" y="195.2" width="6" height="6" fill="#59cfbe"/><rect x="997" y="195.2" width="6" height="6" fill="#4ac5d9"/><rect x="1003" y="195.2" width="6" height="6" fill="#54b8ea"/><rect x="1009" y="195.2" width="6" height="6" fill="#60aaf6"/><rect x="1015" y="195.2" width="6" height="6" fill="#6f99fd"/><rect x="1021" y="195.2" width="6" height="6" fill="#7989fa"/><rect x="1027" y="195.2" width="6" height="6" fill="#797cf3"/><rect x="1033" y="195.2" width="6" height="6" fill="#7770e2"/><rect x="1039" y="195.2" width="6" height="6" fill="#7669d7"/><rect x="1045" y="195.2" width="6" height="6" fill="#7466ce"/><rect x="1051" y="195.2" width="6" height="6" fill="#7364c9"/><rect x="1057" y="195.2" width="6" height="6" fill="#7363c6"/><rect x="1063" y="195.2" width="6" height="6" fill="#7362c4"/><rect x="799" y="201.2" width="6" height="6" fill="#7363c6"/><rect x="805" y="201.2" width="6" height="6" fill="#7464ca"/><rect x="811" y="201.2" width="6" height="6" fill="#7466cf"/><rect x="817" y="201.2" width="6" height="6" fill="#7669d8"/><rect x="823" y="201.2" width="6" height="6" fill="#7771e4"/><rect x="829" y="201.2" width="6" height="6" fill="#797df4"/><rect x="835" y="201.2" width="6" height="6" fill="#7889fb"/><rect x="841" y="201.2" width="6" height="6" fill="#6f99fd"/><rect x="847" y="201.2" width="6" height="6" fill="#61a9f7"/><rect x="853" y="201.2" width="6" height="6" fill="#55b6ec"/><rect x="859" y="201.2" width="6" height="6" fill="#4ac3dd"/><rect x="865" y="201.2" width="6" height="6" fill="#52ccc7"/><rect x="871" y="201.2" width="6" height="6" fill="#76d4a9"/><rect x="877" y="201.2" width="6" height="6" fill="#a1d58f"/><rect x="883" y="201.2" width="6" height="6" fill="#bed380"/><rect x="889" y="201.2" width="6" height="6" fill="#c2d27e"/><rect x="895" y="201.2" width="6" height="6" fill="#a8d48a"/><rect x="901" y="201.2" width="6" height="6" fill="#77d4a8"/><rect x="907" y="201.2" width="6" height="6" fill="#52ccc6"/><rect x="913" y="201.2" width="6" height="6" fill="#4ac7d3"/><rect x="919" y="201.2" width="6" height="6" fill="#4ac7d3"/><rect x="925" y="201.2" width="6" height="6" fill="#53ccc5"/><rect x="931" y="201.2" width="6" height="6" fill="#75d4aa"/><rect x="937" y="201.2" width="6" height="6" fill="#abd489"/><rect x="943" y="201.2" width="6" height="6" fill="#dfcf74"/><rect x="949" y="201.2" width="6" height="6" fill="#f8d16f"/><rect x="955" y="201.2" width="6" height="6" fill="#fcdb68"/><rect x="961" y="201.2" width="6" height="6" fill="#fae264"/><rect x="967" y="201.2" width="6" height="6" fill="#fbde66"/><rect x="973" y="201.2" width="6" height="6" fill="#fdd36d"/><rect x="979" y="201.2" width="6" height="6" fill="#eccd72"/><rect x="985" y="201.2" width="6" height="6" fill="#bad382"/><rect x="991" y="201.2" width="6" height="6" fill="#7bd5a5"/><rect x="997" y="201.2" width="6" height="6" fill="#4fcbca"/><rect x="1003" y="201.2" width="6" height="6" fill="#4dc0e1"/><rect x="1009" y="201.2" width="6" height="6" fill="#59b2f0"/><rect x="1015" y="201.2" width="6" height="6" fill="#67a2fb"/><rect x="1021" y="201.2" width="6" height="6" fill="#7690fd"/><rect x="1027" y="201.2" width="6" height="6" fill="#7981f7"/><rect x="1033" y="201.2" width="6" height="6" fill="#7875e9"/><rect x="1039" y="201.2" width="6" height="6" fill="#766bdc"/><rect x="1045" y="201.2" width="6" height="6" fill="#7567d2"/><rect x="1051" y="201.2" width="6" height="6" fill="#7465cb"/><rect x="1057" y="201.2" width="6" height="6" fill="#7363c7"/><rect x="1063" y="201.2" width="6" height="6" fill="#7362c4"/><rect x="799" y="207.2" width="6" height="6" fill="#7363c7"/><rect x="805" y="207.2" width="6" height="6" fill="#7465cb"/><rect x="811" y="207.2" width="6" height="6" fill="#7567d2"/><rect x="817" y="207.2" width="6" height="6" fill="#766cdc"/><rect x="823" y="207.2" width="6" height="6" fill="#7876ea"/><rect x="829" y="207.2" width="6" height="6" fill="#7982f7"/><rect x="835" y="207.2" width="6" height="6" fill="#7690fd"/><rect x="841" y="207.2" width="6" height="6" fill="#69a0fc"/><rect x="847" y="207.2" width="6" height="6" fill="#5baff2"/><rect x="853" y="207.2" width="6" height="6" fill="#50bce6"/><rect x="859" y="207.2" width="6" height="6" fill="#4ac7d4"/><rect x="865" y="207.2" width="6" height="6" fill="#5dd1ba"/><rect x="871" y="207.2" width="6" height="6" fill="#8bd69b"/><rect x="877" y="207.2" width="6" height="6" fill="#b4d485"/><rect x="883" y="207.2" width="6" height="6" fill="#cad17a"/><rect x="889" y="207.2" width="6" height="6" fill="#c7d27c"/><rect x="895" y="207.2" width="6" height="6" fill="#9fd590"/><rect x="901" y="207.2" width="6" height="6" fill="#60d1b8"/><rect x="907" y="207.2" width="6" height="6" fill="#4ac5d7"/><rect x="913" y="207.2" width="6" height="6" fill="#51bbe7"/><rect x="919" y="207.2" width="6" height="6" fill="#55b6ec"/><rect x="925" y="207.2" width="6" height="6" fill="#4ac3dc"/><rect x="931" y="207.2" width="6" height="6" fill="#64d1b6"/><rect x="937" y="207.2" width="6" height="6" fill="#add488"/><rect x="943" y="207.2" width="6" height="6" fill="#ecce72"/><rect x="949" y="207.2" width="6" height="6" fill="#fdd76b"/><rect x="955" y="207.2" width="6" height="6" fill="#f9e960"/><rect x="961" y="207.2" width="6" height="6" fill="#faf459"/><rect x="967" y="207.2" width="6" height="6" fill="#faf35a"/><rect x="973" y="207.2" width="6" height="6" fill="#fae463"/><rect x="979" y="207.2" width="6" height="6" fill="#fad26e"/><rect x="985" y="207.2" width="6" height="6" fill="#dad075"/><rect x="991" y="207.2" width="6" height="6" fill="#98d594"/><rect x="997" y="207.2" width="6" height="6" fill="#5bd0bc"/><rect x="1003" y="207.2" width="6" height="6" fill="#4ac4d9"/><rect x="1009" y="207.2" width="6" height="6" fill="#55b7eb"/><rect x="1015" y="207.2" width="6" height="6" fill="#61a9f7"/><rect x="1021" y="207.2" width="6" height="6" fill="#7097fd"/><rect x="1027" y="207.2" width="6" height="6" fill="#7987fa"/><rect x="1033" y="207.2" width="6" height="6" fill="#797af0"/><rect x="1039" y="207.2" width="6" height="6" fill="#776ee0"/><rect x="1045" y="207.2" width="6" height="6" fill="#7568d5"/><rect x="1051" y="207.2" width="6" height="6" fill="#7465cd"/><rect x="1057" y="207.2" width="6" height="6" fill="#7364c8"/><rect x="1063" y="207.2" width="6" height="6" fill="#7363c5"/><rect x="799" y="213.2" width="6" height="6" fill="#7364c8"/><rect x="805" y="213.2" width="6" height="6" fill="#7466cd"/><rect x="811" y="213.2" width="6" height="6" fill="#7568d5"/><rect x="817" y="213.2" width="6" height="6" fill="#776fe1"/><rect x="823" y="213.2" width="6" height="6" fill="#797af0"/><rect x="829" y="213.2" width="6" height="6" fill="#7987f9"/><rect x="835" y="213.2" width="6" height="6" fill="#7296fd"/><rect x="841" y="213.2" width="6" height="6" fill="#64a6f9"/><rect x="847" y="213.2" width="6" height="6" fill="#58b4ee"/><rect x="853" y="213.2" width="6" height="6" fill="#4dc0e1"/><rect x="859" y="213.2" width="6" height="6" fill="#4ac9cf"/><rect x="865" y="213.2" width="6" height="6" fill="#65d2b4"/><rect x="871" y="213.2" width="6" height="6" fill="#8dd69a"/><rect x="877" y="213.2" width="6" height="6" fill="#add488"/><rect x="883" y="213.2" width="6" height="6" fill="#bcd381"/><rect x="889" y="213.2" width="6" height="6" fill="#aed487"/><rect x="895" y="213.2" width="6" height="6" fill="#7dd5a4"/><rect x="901" y="213.2" width="6" height="6" fill="#4dcacc"/><rect x="907" y="213.2" width="6" height="6" fill="#50bce6"/><rect x="913" y="213.2" width="6" height="6" fill="#6aa0fd"/><rect x="919" y="213.2" width="6" height="6" fill="#797bf1"/><rect x="925" y="213.2" width="6" height="6" fill="#63a7f8"/><rect x="931" y="213.2" width="6" height="6" fill="#55cdc3"/><rect x="937" y="213.2" width="6" height="6" fill="#add488"/><rect x="943" y="213.2" width="6" height="6" fill="#f2cd72"/><rect x="949" y="213.2" width="6" height="6" fill="#fcdc68"/><rect x="955" y="213.2" width="6" height="6" fill="#f9ee5d"/><rect x="961" y="213.2" width="6" height="6" fill="#faf856"/><rect x="967" y="213.2" width="6" height="6" fill="#faf857"/><rect x="973" y="213.2" width="6" height="6" fill="#f9ec5e"/><rect x="979" y="213.2" width="6" height="6" fill="#fed56b"/><rect x="985" y="213.2" width="6" height="6" fill="#e6ce73"/><rect x="991" y="213.2" width="6" height="6" fill="#a7d48b"/><rect x="997" y="213.2" width="6" height="6" fill="#67d2b3"/><rect x="1003" y="213.2" width="6" height="6" fill="#4ac7d4"/><rect x="1009" y="213.2" width="6" height="6" fill="#51bbe7"/><rect x="1015" y="213.2" width="6" height="6" fill="#5daef3"/><rect x="1021" y="213.2" width="6" height="6" fill="#6c9dfd"/><rect x="1027" y="213.2" width="6" height="6" fill="#788cfc"/><rect x="1033" y="213.2" width="6" height="6" fill="#797ef5"/><rect x="1039" y="213.2" width="6" height="6" fill="#7772e5"/><rect x="1045" y="213.2" width="6" height="6" fill="#7669d8"/><rect x="1051" y="213.2" width="6" height="6" fill="#7466cf"/><rect x="1057" y="213.2" width="6" height="6" fill="#7364c9"/><rect x="1063" y="213.2" width="6" height="6" fill="#7363c6"/><rect x="799" y="219.2" width="6" height="6" fill="#7364c9"/><rect x="805" y="219.2" width="6" height="6" fill="#7466cf"/><rect x="811" y="219.2" width="6" height="6" fill="#7669d8"/><rect x="817" y="219.2" width="6" height="6" fill="#7772e5"/><rect x="823" y="219.2" width="6" height="6" fill="#797ef4"/><rect x="829" y="219.2" width="6" height="6" fill="#788bfc"/><rect x="835" y="219.2" width="6" height="6" fill="#6e9bfd"/><rect x="841" y="219.2" width="6" height="6" fill="#60aaf6"/><rect x="847" y="219.2" width="6" height="6" fill="#55b6ec"/><rect x="853" y="219.2" width="6" height="6" fill="#4bc1df"/><rect x="859" y="219.2" width="6" height="6" fill="#4bc9ce"/><rect x="865" y="219.2" width="6" height="6" fill="#5fd1b8"/><rect x="871" y="219.2" width="6" height="6" fill="#7cd5a4"/><rect x="877" y="219.2" width="6" height="6" fill="#90d599"/><rect x="883" y="219.2" width="6" height="6" fill="#93d597"/><rect x="889" y="219.2" width="6" height="6" fill="#7dd5a4"/><rect x="895" y="219.2" width="6" height="6" fill="#59cfbf"/><rect x="901" y="219.2" width="6" height="6" fill="#4ac4da"/><rect x="907" y="219.2" width="6" height="6" fill="#56b5ed"/><rect x="913" y="219.2" width="6" height="6" fill="#7395fd"/><rect x="919" y="219.2" width="6" height="6" fill="#766cdc"/><rect x="925" y="219.2" width="6" height="6" fill="#69a0fd"/><rect x="931" y="219.2" width="6" height="6" fill="#57cec1"/><rect x="937" y="219.2" width="6" height="6" fill="#b7d383"/><rect x="943" y="219.2" width="6" height="6" fill="#f4ce71"/><rect x="949" y="219.2" width="6" height="6" fill="#fcdb68"/><rect x="955" y="219.2" width="6" height="6" fill="#f9e960"/><rect x="961" y="219.2" width="6" height="6" fill="#f9f05c"/><rect x="967" y="219.2" width="6" height="6" fill="#f9ef5c"/><rect x="973" y="219.2" width="6" height="6" fill="#f9e562"/><rect x="979" y="219.2" width="6" height="6" fill="#fdd36d"/><rect x="985" y="219.2" width="6" height="6" fill="#e2cf74"/><rect x="991" y="219.2" width="6" height="6" fill="#a7d48c"/><rect x="997" y="219.2" width="6" height="6" fill="#69d2b2"/><rect x="1003" y="219.2" width="6" height="6" fill="#4ac8d1"/><rect x="1009" y="219.2" width="6" height="6" fill="#50bde5"/><rect x="1015" y="219.2" width="6" height="6" fill="#5bb0f1"/><rect x="1021" y="219.2" width="6" height="6" fill="#68a1fc"/><rect x="1027" y="219.2" width="6" height="6" fill="#7690fd"/><rect x="1033" y="219.2" width="6" height="6" fill="#7981f7"/><rect x="1039" y="219.2" width="6" height="6" fill="#7875e9"/><rect x="1045" y="219.2" width="6" height="6" fill="#766bdb"/><rect x="1051" y="219.2" width="6" height="6" fill="#7567d1"/><rect x="1057" y="219.2" width="6" height="6" fill="#7465ca"/><rect x="1063" y="219.2" width="6" height="6" fill="#7363c6"/><rect x="799" y="225.2" width="6" height="6" fill="#7464ca"/><rect x="805" y="225.2" width="6" height="6" fill="#7567d1"/><rect x="811" y="225.2" width="6" height="6" fill="#766bdb"/><rect x="817" y="225.2" width="6" height="6" fill="#7874e8"/><rect x="823" y="225.2" width="6" height="6" fill="#7981f6"/><rect x="829" y="225.2" width="6" height="6" fill="#788efd"/><rect x="835" y="225.2" width="6" height="6" fill="#6b9ffd"/><rect x="841" y="225.2" width="6" height="6" fill="#5dadf4"/><rect x="847" y="225.2" width="6" height="6" fill="#54b8eb"/><rect x="853" y="225.2" width="6" height="6" fill="#4cc1df"/><rect x="859" y="225.2" width="6" height="6" fill="#4ac8d2"/><rect x="865" y="225.2" width="6" height="6" fill="#55cdc3"/><rect x="871" y="225.2" width="6" height="6" fill="#5ed1ba"/><rect x="877" y="225.2" width="6" height="6" fill="#64d2b5"/><rect x="883" y="225.2" width="6" height="6" fill="#5cd0bb"/><rect x="889" y="225.2" width="6" height="6" fill="#52ccc7"/><rect x="895" y="225.2" width="6" height="6" fill="#4ac6d6"/><rect x="901" y="225.2" width="6" height="6" fill="#50bde5"/><rect x="907" y="225.2" width="6" height="6" fill="#58b4ee"/><rect x="913" y="225.2" width="6" height="6" fill="#5eacf4"/><rect x="919" y="225.2" width="6" height="6" fill="#60aaf6"/><rect x="925" y="225.2" width="6" height="6" fill="#4cc1e0"/><rect x="931" y="225.2" width="6" height="6" fill="#7ad5a6"/><rect x="937" y="225.2" width="6" height="6" fill="#cfd178"/><rect x="943" y="225.2" width="6" height="6" fill="#f6cf70"/><rect x="949" y="225.2" width="6" height="6" fill="#fed56b"/><rect x="955" y="225.2" width="6" height="6" fill="#fcdd67"/><rect x="961" y="225.2" width="6" height="6" fill="#fbdf66"/><rect x="967" y="225.2" width="6" height="6" fill="#fcdc67"/><rect x="973" y="225.2" width="6" height="6" fill="#fed46c"/><rect x="979" y="225.2" width="6" height="6" fill="#f4ce70"/><rect x="985" y="225.2" width="6" height="6" fill="#d0d177"/><rect x="991" y="225.2" width="6" height="6" fill="#98d594"/><rect x="997" y="225.2" width="6" height="6" fill="#62d1b7"/><rect x="1003" y="225.2" width="6" height="6" fill="#4ac7d2"/><rect x="1009" y="225.2" width="6" height="6" fill="#4fbde4"/><rect x="1015" y="225.2" width="6" height="6" fill="#59b2f0"/><rect x="1021" y="225.2" width="6" height="6" fill="#66a4fa"/><rect x="1027" y="225.2" width="6" height="6" fill="#7493fd"/><rect x="1033" y="225.2" width="6" height="6" fill="#7984f8"/><rect x="1039" y="225.2" width="6" height="6" fill="#7878ed"/><rect x="1045" y="225.2" width="6" height="6" fill="#776dde"/><rect x="1051" y="225.2" width="6" height="6" fill="#7568d3"/><rect x="1057" y="225.2" width="6" height="6" fill="#7465cc"/><rect x="1063" y="225.2" width="6" height="6" fill="#7363c7"/><rect x="799" y="231.2" width="6" height="6" fill="#7465cb"/><rect x="805" y="231.2" width="6" height="6" fill="#7567d2"/><rect x="811" y="231.2" width="6" height="6" fill="#776cdd"/><rect x="817" y="231.2" width="6" height="6" fill="#7876eb"/><rect x="823" y="231.2" width="6" height="6" fill="#7983f7"/><rect x="829" y="231.2" width="6" height="6" fill="#7591fd"/><rect x="835" y="231.2" width="6" height="6" fill="#68a1fc"/><rect x="841" y="231.2" width="6" height="6" fill="#5caef3"/><rect x="847" y="231.2" width="6" height="6" fill="#54b8eb"/><rect x="853" y="231.2" width="6" height="6" fill="#4dc0e1"/><rect x="859" y="231.2" width="6" height="6" fill="#4ac5d7"/><rect x="865" y="231.2" width="6" height="6" fill="#4ac8d1"/><rect x="871" y="231.2" width="6" height="6" fill="#4ac9cf"/><rect x="877" y="231.2" width="6" height="6" fill="#4ac8d2"/><rect x="883" y="231.2" width="6" height="6" fill="#4ac5d9"/><rect x="889" y="231.2" width="6" height="6" fill="#4cc1e0"/><rect x="895" y="231.2" width="6" height="6" fill="#51bbe7"/><rect x="901" y="231.2" width="6" height="6" fill="#57b5ed"/><rect x="907" y="231.2" width="6" height="6" fill="#59b2f0"/><rect x="913" y="231.2" width="6" height="6" fill="#55b6ec"/><rect x="919" y="231.2" width="6" height="6" fill="#4ac2de"/><rect x="925" y="231.2" width="6" height="6" fill="#5fd1b9"/><rect x="931" y="231.2" width="6" height="6" fill="#afd487"/><rect x="937" y="231.2" width="6" height="6" fill="#e8ce73"/><rect x="943" y="231.2" width="6" height="6" fill="#f8d06f"/><rect x="949" y="231.2" width="6" height="6" fill="#fad26e"/><rect x="955" y="231.2" width="6" height="6" fill="#fad16e"/><rect x="961" y="231.2" width="6" height="6" fill="#f8d06f"/><rect x="967" y="231.2" width="6" height="6" fill="#f4ce71"/><rect x="973" y="231.2" width="6" height="6" fill="#e8ce73"/><rect x="979" y="231.2" width="6" height="6" fill="#d1d177"/><rect x="985" y="231.2" width="6" height="6" fill="#a9d48a"/><rect x="991" y="231.2" width="6" height="6" fill="#7ad5a6"/><rect x="997" y="231.2" width="6" height="6" fill="#56cec2"/><rect x="1003" y="231.2" width="6" height="6" fill="#4ac6d7"/><rect x="1009" y="231.2" width="6" height="6" fill="#50bce5"/><rect x="1015" y="231.2" width="6" height="6" fill="#59b2f0"/><rect x="1021" y="231.2" width="6" height="6" fill="#64a5f9"/><rect x="1027" y="231.2" width="6" height="6" fill="#7296fd"/><rect x="1033" y="231.2" width="6" height="6" fill="#7987f9"/><rect x="1039" y="231.2" width="6" height="6" fill="#797af0"/><rect x="1045" y="231.2" width="6" height="6" fill="#776ee0"/><rect x="1051" y="231.2" width="6" height="6" fill="#7568d5"/><rect x="1057" y="231.2" width="6" height="6" fill="#7465cd"/><rect x="1063" y="231.2" width="6" height="6" fill="#7364c8"/><rect x="799" y="237.2" width="6" height="6" fill="#7465cc"/><rect x="805" y="237.2" width="6" height="6" fill="#7568d3"/><rect x="811" y="237.2" width="6" height="6" fill="#776dde"/><rect x="817" y="237.2" width="6" height="6" fill="#7978ee"/><rect x="823" y="237.2" width="6" height="6" fill="#7985f8"/><rect x="829" y="237.2" width="6" height="6" fill="#7493fd"/><rect x="835" y="237.2" width="6" height="6" fill="#67a2fb"/><rect x="841" y="237.2" width="6" height="6" fill="#5caff2"/><rect x="847" y="237.2" width="6" height="6" fill="#54b7eb"/><rect x="853" y="237.2" width="6" height="6" fill="#4ebee3"/><rect x="859" y="237.2" width="6" height="6" fill="#4ac3dd"/><rect x="865" y="237.2" width="6" height="6" fill="#4ac4db"/><rect x="871" y="237.2" width="6" height="6" fill="#4ac3dd"/><rect x="877" y="237.2" width="6" height="6" fill="#4fbee3"/><rect x="883" y="237.2" width="6" height="6" fill="#54b7eb"/><rect x="889" y="237.2" width="6" height="6" fill="#59b2f0"/><rect x="895" y="237.2" width="6" height="6" fill="#5baff2"/><rect x="901" y="237.2" width="6" height="6" fill="#5daef3"/><rect x="907" y="237.2" width="6" height="6" fill="#5baff2"/><rect x="913" y="237.2" width="6" height="6" fill="#53bae9"/><rect x="919" y="237.2" width="6" height="6" fill="#4ac9cf"/><rect x="925" y="237.2" width="6" height="6" fill="#8fd699"/><rect x="931" y="237.2" width="6" height="6" fill="#ddcf74"/><rect x="937" y="237.2" width="6" height="6" fill="#f7d06f"/><rect x="943" y="237.2" width="6" height="6" fill="#f9d16e"/><rect x="949" y="237.2" width="6" height="6" fill="#f5cf70"/><rect x="955" y="237.2" width="6" height="6" fill="#e9ce73"/><rect x="961" y="237.2" width="6" height="6" fill="#d8d075"/><rect x="967" y="237.2" width="6" height="6" fill="#c1d27e"/><rect x="973" y="237.2" width="6" height="6" fill="#a4d58d"/><rect x="979" y="237.2" width="6" height="6" fill="#85d69f"/><rect x="985" y="237.2" width="6" height="6" fill="#68d2b3"/><rect x="991" y="237.2" width="6" height="6" fill="#51ccc7"/><rect x="997" y="237.2" width="6" height="6" fill="#4ac6d5"/><rect x="1003" y="237.2" width="6" height="6" fill="#4cc1e0"/><rect x="1009" y="237.2" width="6" height="6" fill="#53b9e9"/><rect x="1015" y="237.2" width="6" height="6" fill="#5ab1f1"/><rect x="1021" y="237.2" width="6" height="6" fill="#64a6f9"/><rect x="1027" y="237.2" width="6" height="6" fill="#7197fd"/><rect x="1033" y="237.2" width="6" height="6" fill="#7988fa"/><rect x="1039" y="237.2" width="6" height="6" fill="#797bf2"/><rect x="1045" y="237.2" width="6" height="6" fill="#7770e2"/><rect x="1051" y="237.2" width="6" height="6" fill="#7669d6"/><rect x="1057" y="237.2" width="6" height="6" fill="#7466cd"/><rect x="1063" y="237.2" width="6" height="6" fill="#7364c8"/><rect x="799" y="243.2" width="6" height="6" fill="#7465cc"/><rect x="805" y="243.2" width="6" height="6" fill="#7568d4"/><rect x="811" y="243.2" width="6" height="6" fill="#776edf"/><rect x="817" y="243.2" width="6" height="6" fill="#7979ef"/><rect x="823" y="243.2" width="6" height="6" fill="#7986f9"/><rect x="829" y="243.2" width="6" height="6" fill="#7394fd"/><rect x="835" y="243.2" width="6" height="6" fill="#66a3fa"/><rect x="841" y="243.2" width="6" height="6" fill="#5caff2"/><rect x="847" y="243.2" width="6" height="6" fill="#55b7ec"/><rect x="853" y="243.2" width="6" height="6" fill="#50bde5"/><rect x="859" y="243.2" width="6" height="6" fill="#4dc0e1"/><rect x="865" y="243.2" width="6" height="6" fill="#4dbfe2"/><rect x="871" y="243.2" width="6" height="6" fill="#50bce6"/><rect x="877" y="243.2" width="6" height="6" fill="#57b4ee"/><rect x="883" y="243.2" width="6" height="6" fill="#65a4fa"/><rect x="889" y="243.2" width="6" height="6" fill="#7690fd"/><rect x="895" y="243.2" width="6" height="6" fill="#6d9bfd"/><rect x="901" y="243.2" width="6" height="6" fill="#64a5f9"/><rect x="907" y="243.2" width="6" height="6" fill="#5dadf4"/><rect x="913" y="243.2" width="6" height="6" fill="#52bbe7"/><rect x="919" y="243.2" width="6" height="6" fill="#54cdc4"/><rect x="925" y="243.2" width="6" height="6" fill="#b1d486"/><rect x="931" y="243.2" width="6" height="6" fill="#f4ce71"/><rect x="937" y="243.2" width="6" height="6" fill="#fdd36d"/><rect x="943" y="243.2" width="6" height="6" fill="#fad26e"/><rect x="949" y="243.2" width="6" height="6" fill="#edcd72"/><rect x="955" y="243.2" width="6" height="6" fill="#cdd179"/><rect x="961" y="243.2" width="6" height="6" fill="#a5d58c"/><rect x="967" y="243.2" width="6" height="6" fill="#7cd5a4"/><rect x="973" y="243.2" width="6" height="6" fill="#59cfbf"/><rect x="979" y="243.2" width="6" height="6" fill="#4ac7d4"/><rect x="985" y="243.2" width="6" height="6" fill="#4ebfe2"/><rect x="991" y="243.2" width="6" height="6" fill="#56b6ed"/><rect x="997" y="243.2" width="6" height="6" fill="#5baff2"/><rect x="1003" y="243.2" width="6" height="6" fill="#5eacf5"/><rect x="1009" y="243.2" width="6" height="6" fill="#5facf5"/><rect x="1015" y="243.2" width="6" height="6" fill="#60aaf6"/><rect x="1021" y="243.2" width="6" height="6" fill="#66a3fa"/><rect x="1027" y="243.2" width="6" height="6" fill="#7197fd"/><rect x="1033" y="243.2" width="6" height="6" fill="#7889fb"/><rect x="1039" y="243.2" width="6" height="6" fill="#797cf4"/><rect x="1045" y="243.2" width="6" height="6" fill="#7770e3"/><rect x="1051" y="243.2" width="6" height="6" fill="#7669d7"/><rect x="1057" y="243.2" width="6" height="6" fill="#7466ce"/><rect x="1063" y="243.2" width="6" height="6" fill="#7364c8"/><rect x="799" y="249.2" width="6" height="6" fill="#7465cc"/><rect x="805" y="249.2" width="6" height="6" fill="#7568d4"/><rect x="811" y="249.2" width="6" height="6" fill="#776ee0"/><rect x="817" y="249.2" width="6" height="6" fill="#797af0"/><rect x="823" y="249.2" width="6" height="6" fill="#7986f9"/><rect x="829" y="249.2" width="6" height="6" fill="#7295fd"/><rect x="835" y="249.2" width="6" height="6" fill="#66a4fa"/><rect x="841" y="249.2" width="6" height="6" fill="#5baff2"/><rect x="847" y="249.2" width="6" height="6" fill="#55b7ec"/><rect x="853" y="249.2" width="6" height="6" fill="#50bce6"/><rect x="859" y="249.2" width="6" height="6" fill="#4ebee3"/><rect x="865" y="249.2" width="6" height="6" fill="#4fbde4"/><rect x="871" y="249.2" width="6" height="6" fill="#53b9e9"/><rect x="877" y="249.2" width="6" height="6" fill="#5baff2"/><rect x="883" y="249.2" width="6" height="6" fill="#788afb"/><rect x="889" y="249.2" width="6" height="6" fill="#7466cf"/><rect x="895" y="249.2" width="6" height="6" fill="#7982f7"/><rect x="901" y="249.2" width="6" height="6" fill="#69a0fc"/><rect x="907" y="249.2" width="6" height="6" fill="#5fabf5"/><rect x="913" y="249.2" width="6" height="6" fill="#51bbe7"/><rect x="919" y="249.2" width="6" height="6" fill="#58cfbf"/><rect x="925" y="249.2" width="6" height="6" fill="#bfd380"/><rect x="931" y="249.2" width="6" height="6" fill="#f8d06f"/><rect x="937" y="249.2" width="6" height="6" fill="#fdd66b"/><rect x="943" y="249.2" width="6" height="6" fill="#fad26e"/><rect x="949" y="249.2" width="6" height="6" fill="#e6ce73"/><rect x="955" y="249.2" width="6" height="6" fill="#bad381"/><rect x="961" y="249.2" width="6" height="6" fill="#88d69d"/><rect x="967" y="249.2" width="6" height="6" fill="#5acfbd"/><rect x="973" y="249.2" width="6" height="6" fill="#4ac5d8"/><rect x="979" y="249.2" width="6" height="6" fill="#55b7eb"/><rect x="985" y="249.2" width="6" height="6" fill="#65a5f9"/><rect x="991" y="249.2" width="6" height="6" fill="#7889fb"/><rect x="997" y="249.2" width="6" height="6" fill="#7772e5"/><rect x="1003" y="249.2" width="6" height="6" fill="#766bdc"/><rect x="1009" y="249.2" width="6" height="6" fill="#797df4"/><rect x="1015" y="249.2" width="6" height="6" fill="#7493fd"/><rect x="1021" y="249.2" width="6" height="6" fill="#6d9cfd"/><rect x="1027" y="249.2" width="6" height="6" fill="#7296fd"/><rect x="1033" y="249.2" width="6" height="6" fill="#7889fb"/><rect x="1039" y="249.2" width="6" height="6" fill="#797df4"/><rect x="1045" y="249.2" width="6" height="6" fill="#7771e3"/><rect x="1051" y="249.2" width="6" height="6" fill="#7669d7"/><rect x="1057" y="249.2" width="6" height="6" fill="#7466ce"/><rect x="1063" y="249.2" width="6" height="6" fill="#7364c8"/><rect x="799" y="255.2" width="6" height="6" fill="#7465cc"/><rect x="805" y="255.2" width="6" height="6" fill="#7568d4"/><rect x="811" y="255.2" width="6" height="6" fill="#776ee0"/><rect x="817" y="255.2" width="6" height="6" fill="#7979f0"/><rect x="823" y="255.2" width="6" height="6" fill="#7986f9"/><rect x="829" y="255.2" width="6" height="6" fill="#7395fd"/><rect x="835" y="255.2" width="6" height="6" fill="#66a4fa"/><rect x="841" y="255.2" width="6" height="6" fill="#5baff2"/><rect x="847" y="255.2" width="6" height="6" fill="#55b7ec"/><rect x="853" y="255.2" width="6" height="6" fill="#50bde5"/><rect x="859" y="255.2" width="6" height="6" fill="#4dbfe1"/><rect x="865" y="255.2" width="6" height="6" fill="#4ebfe2"/><rect x="871" y="255.2" width="6" height="6" fill="#51bbe7"/><rect x="877" y="255.2" width="6" height="6" fill="#59b2f0"/><rect x="883" y="255.2" width="6" height="6" fill="#7098fd"/><rect x="889" y="255.2" width="6" height="6" fill="#797af1"/><rect x="895" y="255.2" width="6" height="6" fill="#778efd"/><rect x="901" y="255.2" width="6" height="6" fill="#66a3fa"/><rect x="907" y="255.2" width="6" height="6" fill="#5eacf4"/><rect x="913" y="255.2" width="6" height="6" fill="#51bbe7"/><rect x="919" y="255.2" width="6" height="6" fill="#57cec1"/><rect x="925" y="255.2" width="6" height="6" fill="#b9d382"/><rect x="931" y="255.2" width="6" height="6" fill="#f6cf70"/><rect x="937" y="255.2" width="6" height="6" fill="#fed56c"/><rect x="943" y="255.2" width="6" height="6" fill="#fad26e"/><rect x="949" y="255.2" width="6" height="6" fill="#e9ce73"/><rect x="955" y="255.2" width="6" height="6" fill="#c2d27e"/><rect x="961" y="255.2" width="6" height="6" fill="#94d596"/><rect x="967" y="255.2" width="6" height="6" fill="#68d2b3"/><rect x="973" y="255.2" width="6" height="6" fill="#4ac9cf"/><rect x="979" y="255.2" width="6" height="6" fill="#4ebfe2"/><rect x="985" y="255.2" width="6" height="6" fill="#59b2ef"/><rect x="991" y="255.2" width="6" height="6" fill="#67a3fb"/><rect x="997" y="255.2" width="6" height="6" fill="#7493fd"/><rect x="1003" y="255.2" width="6" height="6" fill="#778ffd"/><rect x="1009" y="255.2" width="6" height="6" fill="#7098fd"/><rect x="1015" y="255.2" width="6" height="6" fill="#69a1fc"/><rect x="1021" y="255.2" width="6" height="6" fill="#69a0fc"/><rect x="1027" y="255.2" width="6" height="6" fill="#7196fd"/><rect x="1033" y="255.2" width="6" height="6" fill="#7889fb"/><rect x="1039" y="255.2" width="6" height="6" fill="#797df4"/><rect x="1045" y="255.2" width="6" height="6" fill="#7771e3"/><rect x="1051" y="255.2" width="6" height="6" fill="#7669d7"/><rect x="1057" y="255.2" width="6" height="6" fill="#7466ce"/><rect x="1063" y="255.2" width="6" height="6" fill="#7364c8"/><rect x="799" y="261.2" width="6" height="6" fill="#7465cc"/><rect x="805" y="261.2" width="6" height="6" fill="#7568d4"/><rect x="811" y="261.2" width="6" height="6" fill="#776edf"/><rect x="817" y="261.2" width="6" height="6" fill="#7979ef"/><rect x="823" y="261.2" width="6" height="6" fill="#7985f9"/><rect x="829" y="261.2" width="6" height="6" fill="#7394fd"/><rect x="835" y="261.2" width="6" height="6" fill="#66a3fb"/><rect x="841" y="261.2" width="6" height="6" fill="#5baff2"/><rect x="847" y="261.2" width="6" height="6" fill="#54b8eb"/><rect x="853" y="261.2" width="6" height="6" fill="#4ebee3"/><rect x="859" y="261.2" width="6" height="6" fill="#4bc2de"/><rect x="865" y="261.2" width="6" height="6" fill="#4ac3dd"/><rect x="871" y="261.2" width="6" height="6" fill="#4cc1e0"/><rect x="877" y="261.2" width="6" height="6" fill="#51bbe7"/><rect x="883" y="261.2" width="6" height="6" fill="#59b2ef"/><rect x="889" y="261.2" width="6" height="6" fill="#60aaf6"/><rect x="895" y="261.2" width="6" height="6" fill="#60aaf6"/><rect x="901" y="261.2" width="6" height="6" fill="#5fabf5"/><rect x="907" y="261.2" width="6" height="6" fill="#5baff2"/><rect x="913" y="261.2" width="6" height="6" fill="#52bbe7"/><rect x="919" y="261.2" width="6" height="6" fill="#50cbc8"/><rect x="925" y="261.2" width="6" height="6" fill="#a1d58f"/><rect x="931" y="261.2" width="6" height="6" fill="#eace73"/><rect x="937" y="261.2" width="6" height="6" fill="#fad26e"/><rect x="943" y="261.2" width="6" height="6" fill="#fad16e"/><rect x="949" y="261.2" width="6" height="6" fill="#f3cd71"/><rect x="955" y="261.2" width="6" height="6" fill="#ddcf74"/><rect x="961" y="261.2" width="6" height="6" fill="#c2d27e"/><rect x="967" y="261.2" width="6" height="6" fill="#a2d58e"/><rect x="973" y="261.2" width="6" height="6" fill="#80d6a2"/><rect x="979" y="261.2" width="6" height="6" fill="#61d1b8"/><rect x="985" y="261.2" width="6" height="6" fill="#4fcbc9"/><rect x="991" y="261.2" width="6" height="6" fill="#4ac5d7"/><rect x="997" y="261.2" width="6" height="6" fill="#4cc0e0"/><rect x="1003" y="261.2" width="6" height="6" fill="#51bbe7"/><rect x="1009" y="261.2" width="6" height="6" fill="#56b6ec"/><rect x="1015" y="261.2" width="6" height="6" fill="#5baff2"/><rect x="1021" y="261.2" width="6" height="6" fill="#64a5f9"/><rect x="1027" y="261.2" width="6" height="6" fill="#7097fd"/><rect x="1033" y="261.2" width="6" height="6" fill="#7989fb"/><rect x="1039" y="261.2" width="6" height="6" fill="#797cf3"/><rect x="1045" y="261.2" width="6" height="6" fill="#7770e2"/><rect x="1051" y="261.2" width="6" height="6" fill="#7669d6"/><rect x="1057" y="261.2" width="6" height="6" fill="#7466ce"/><rect x="1063" y="261.2" width="6" height="6" fill="#7364c8"/><rect x="799" y="267.2" width="6" height="6" fill="#7465cb"/><rect x="805" y="267.2" width="6" height="6" fill="#7567d3"/><rect x="811" y="267.2" width="6" height="6" fill="#776ddd"/><rect x="817" y="267.2" width="6" height="6" fill="#7877ed"/><rect x="823" y="267.2" width="6" height="6" fill="#7984f8"/><rect x="829" y="267.2" width="6" height="6" fill="#7592fd"/><rect x="835" y="267.2" width="6" height="6" fill="#68a2fb"/><rect x="841" y="267.2" width="6" height="6" fill="#5caff2"/><rect x="847" y="267.2" width="6" height="6" fill="#54b8eb"/><rect x="853" y="267.2" width="6" height="6" fill="#4dc0e1"/><rect x="859" y="267.2" width="6" height="6" fill="#4ac5d8"/><rect x="865" y="267.2" width="6" height="6" fill="#4ac7d2"/><rect x="871" y="267.2" width="6" height="6" fill="#4ac8d2"/><rect x="877" y="267.2" width="6" height="6" fill="#4ac6d6"/><rect x="883" y="267.2" width="6" height="6" fill="#4bc2de"/><rect x="889" y="267.2" width="6" height="6" fill="#50bde5"/><rect x="895" y="267.2" width="6" height="6" fill="#54b8eb"/><rect x="901" y="267.2" width="6" height="6" fill="#58b3ef"/><rect x="907" y="267.2" width="6" height="6" fill="#59b2f0"/><rect x="913" y="267.2" width="6" height="6" fill="#53b9ea"/><rect x="919" y="267.2" width="6" height="6" fill="#4ac6d5"/><rect x="925" y="267.2" width="6" height="6" fill="#76d4a9"/><rect x="931" y="267.2" width="6" height="6" fill="#c6d27c"/><rect x="937" y="267.2" width="6" height="6" fill="#f2cd71"/><rect x="943" y="267.2" width="6" height="6" fill="#f8d16f"/><rect x="949" y="267.2" width="6" height="6" fill="#f8d06f"/><rect x="955" y="267.2" width="6" height="6" fill="#f5cf70"/><rect x="961" y="267.2" width="6" height="6" fill="#f0cd72"/><rect x="967" y="267.2" width="6" height="6" fill="#e3cf73"/><rect x="973" y="267.2" width="6" height="6" fill="#d1d177"/><rect x="979" y="267.2" width="6" height="6" fill="#b4d484"/><rect x="985" y="267.2" width="6" height="6" fill="#90d599"/><rect x="991" y="267.2" width="6" height="6" fill="#68d2b2"/><rect x="997" y="267.2" width="6" height="6" fill="#4fcbc9"/><rect x="1003" y="267.2" width="6" height="6" fill="#4ac4da"/><rect x="1009" y="267.2" width="6" height="6" fill="#51bbe6"/><rect x="1015" y="267.2" width="6" height="6" fill="#59b2f0"/><rect x="1021" y="267.2" width="6" height="6" fill="#64a6f9"/><rect x="1027" y="267.2" width="6" height="6" fill="#7196fd"/><rect x="1033" y="267.2" width="6" height="6" fill="#7987fa"/><rect x="1039" y="267.2" width="6" height="6" fill="#797bf1"/><rect x="1045" y="267.2" width="6" height="6" fill="#776fe1"/><rect x="1051" y="267.2" width="6" height="6" fill="#7568d5"/><rect x="1057" y="267.2" width="6" height="6" fill="#7465cd"/><rect x="1063" y="267.2" width="6" height="6" fill="#7364c8"/><rect x="799" y="273.2" width="6" height="6" fill="#7465cb"/><rect x="805" y="273.2" width="6" height="6" fill="#7567d1"/><rect x="811" y="273.2" width="6" height="6" fill="#766bdc"/><rect x="817" y="273.2" width="6" height="6" fill="#7875ea"/><rect x="823" y="273.2" width="6" height="6" fill="#7982f7"/><rect x="829" y="273.2" width="6" height="6" fill="#7790fd"/><rect x="835" y="273.2" width="6" height="6" fill="#69a0fd"/><rect x="841" y="273.2" width="6" height="6" fill="#5caef3"/><rect x="847" y="273.2" width="6" height="6" fill="#54b8eb"/><rect x="853" y="273.2" width="6" height="6" fill="#4bc2df"/><rect x="859" y="273.2" width="6" height="6" fill="#4ac8d2"/><rect x="865" y="273.2" width="6" height="6" fill="#53ccc5"/><rect x="871" y="273.2" width="6" height="6" fill="#5acfbe"/><rect x="877" y="273.2" width="6" height="6" fill="#5bd0bc"/><rect x="883" y="273.2" width="6" height="6" fill="#55cdc3"/><rect x="889" y="273.2" width="6" height="6" fill="#4ac9cf"/><rect x="895" y="273.2" width="6" height="6" fill="#4ac4db"/><rect x="901" y="273.2" width="6" height="6" fill="#51bbe7"/><rect x="907" y="273.2" width="6" height="6" fill="#57b4ee"/><rect x="913" y="273.2" width="6" height="6" fill="#58b3ef"/><rect x="919" y="273.2" width="6" height="6" fill="#53b9ea"/><rect x="925" y="273.2" width="6" height="6" fill="#4ac9cf"/><rect x="931" y="273.2" width="6" height="6" fill="#91d598"/><rect x="937" y="273.2" width="6" height="6" fill="#dbd074"/><rect x="943" y="273.2" width="6" height="6" fill="#f7d06f"/><rect x="949" y="273.2" width="6" height="6" fill="#fdd46c"/><rect x="955" y="273.2" width="6" height="6" fill="#fdd66b"/><rect x="961" y="273.2" width="6" height="6" fill="#fdd66b"/><rect x="967" y="273.2" width="6" height="6" fill="#fdd46c"/><rect x="973" y="273.2" width="6" height="6" fill="#f8d06f"/><rect x="979" y="273.2" width="6" height="6" fill="#eace73"/><rect x="985" y="273.2" width="6" height="6" fill="#c2d27e"/><rect x="991" y="273.2" width="6" height="6" fill="#8dd69a"/><rect x="997" y="273.2" width="6" height="6" fill="#5dd0bb"/><rect x="1003" y="273.2" width="6" height="6" fill="#4ac7d4"/><rect x="1009" y="273.2" width="6" height="6" fill="#4fbde4"/><rect x="1015" y="273.2" width="6" height="6" fill="#59b2f0"/><rect x="1021" y="273.2" width="6" height="6" fill="#65a4fa"/><rect x="1027" y="273.2" width="6" height="6" fill="#7394fd"/><rect x="1033" y="273.2" width="6" height="6" fill="#7985f9"/><rect x="1039" y="273.2" width="6" height="6" fill="#7979ee"/><rect x="1045" y="273.2" width="6" height="6" fill="#776ddf"/><rect x="1051" y="273.2" width="6" height="6" fill="#7568d4"/><rect x="1057" y="273.2" width="6" height="6" fill="#7465cc"/><rect x="1063" y="273.2" width="6" height="6" fill="#7363c7"/><rect x="799" y="279.2" width="6" height="6" fill="#7464ca"/><rect x="805" y="279.2" width="6" height="6" fill="#7566d0"/><rect x="811" y="279.2" width="6" height="6" fill="#766ad9"/><rect x="817" y="279.2" width="6" height="6" fill="#7873e6"/><rect x="823" y="279.2" width="6" height="6" fill="#797ff5"/><rect x="829" y="279.2" width="6" height="6" fill="#788cfc"/><rect x="835" y="279.2" width="6" height="6" fill="#6c9dfd"/><rect x="841" y="279.2" width="6" height="6" fill="#5eacf5"/><rect x="847" y="279.2" width="6" height="6" fill="#55b7eb"/><rect x="853" y="279.2" width="6" height="6" fill="#4bc2de"/><rect x="859" y="279.2" width="6" height="6" fill="#4bc9ce"/><rect x="865" y="279.2" width="6" height="6" fill="#5ed1b9"/><rect x="871" y="279.2" width="6" height="6" fill="#77d4a8"/><rect x="877" y="279.2" width="6" height="6" fill="#87d69d"/><rect x="883" y="279.2" width="6" height="6" fill="#86d69e"/><rect x="889" y="279.2" width="6" height="6" fill="#71d3ac"/><rect x="895" y="279.2" width="6" height="6" fill="#54cdc4"/><rect x="901" y="279.2" width="6" height="6" fill="#4ac3dd"/><rect x="907" y="279.2" width="6" height="6" fill="#56b6ed"/><rect x="913" y="279.2" width="6" height="6" fill="#69a0fc"/><rect x="919" y="279.2" width="6" height="6" fill="#7985f9"/><rect x="925" y="279.2" width="6" height="6" fill="#5baff2"/><rect x="931" y="279.2" width="6" height="6" fill="#61d1b8"/><rect x="937" y="279.2" width="6" height="6" fill="#c0d27f"/><rect x="943" y="279.2" width="6" height="6" fill="#f4ce70"/><rect x="949" y="279.2" width="6" height="6" fill="#fdd969"/><rect x="955" y="279.2" width="6" height="6" fill="#f9e463"/><rect x="961" y="279.2" width="6" height="6" fill="#f9e960"/><rect x="967" y="279.2" width="6" height="6" fill="#f9e761"/><rect x="973" y="279.2" width="6" height="6" fill="#fbde66"/><rect x="979" y="279.2" width="6" height="6" fill="#fad26e"/><rect x="985" y="279.2" width="6" height="6" fill="#dccf74"/><rect x="991" y="279.2" width="6" height="6" fill="#a2d58e"/><rect x="997" y="279.2" width="6" height="6" fill="#67d2b3"/><rect x="1003" y="279.2" width="6" height="6" fill="#4ac8d2"/><rect x="1009" y="279.2" width="6" height="6" fill="#4fbde4"/><rect x="1015" y="279.2" width="6" height="6" fill="#5ab1f1"/><rect x="1021" y="279.2" width="6" height="6" fill="#67a2fb"/><rect x="1027" y="279.2" width="6" height="6" fill="#7591fd"/><rect x="1033" y="279.2" width="6" height="6" fill="#7983f7"/><rect x="1039" y="279.2" width="6" height="6" fill="#7876eb"/><rect x="1045" y="279.2" width="6" height="6" fill="#766cdc"/><rect x="1051" y="279.2" width="6" height="6" fill="#7567d2"/><rect x="1057" y="279.2" width="6" height="6" fill="#7465cb"/><rect x="1063" y="279.2" width="6" height="6" fill="#7363c7"/><rect x="799" y="285.2" width="6" height="6" fill="#7364c9"/><rect x="805" y="285.2" width="6" height="6" fill="#7466ce"/><rect x="811" y="285.2" width="6" height="6" fill="#7669d6"/><rect x="817" y="285.2" width="6" height="6" fill="#7770e2"/><rect x="823" y="285.2" width="6" height="6" fill="#797cf3"/><rect x="829" y="285.2" width="6" height="6" fill="#7988fa"/><rect x="835" y="285.2" width="6" height="6" fill="#7098fd"/><rect x="841" y="285.2" width="6" height="6" fill="#62a8f7"/><rect x="847" y="285.2" width="6" height="6" fill="#57b5ed"/><rect x="853" y="285.2" width="6" height="6" fill="#4cc1e0"/><rect x="859" y="285.2" width="6" height="6" fill="#4bc9ce"/><rect x="865" y="285.2" width="6" height="6" fill="#66d2b4"/><rect x="871" y="285.2" width="6" height="6" fill="#8bd69b"/><rect x="877" y="285.2" width="6" height="6" fill="#a9d48a"/><rect x="883" y="285.2" width="6" height="6" fill="#b5d384"/><rect x="889" y="285.2" width="6" height="6" fill="#a3d58e"/><rect x="895" y="285.2" width="6" height="6" fill="#74d4aa"/><rect x="901" y="285.2" width="6" height="6" fill="#4ac8d0"/><rect x="907" y="285.2" width="6" height="6" fill="#53bae9"/><rect x="913" y="285.2" width="6" height="6" fill="#7395fd"/><rect x="919" y="285.2" width="6" height="6" fill="#7568d4"/><rect x="925" y="285.2" width="6" height="6" fill="#6d9cfd"/><rect x="931" y="285.2" width="6" height="6" fill="#53cdc5"/><rect x="937" y="285.2" width="6" height="6" fill="#b0d486"/><rect x="943" y="285.2" width="6" height="6" fill="#f3cd71"/><rect x="949" y="285.2" width="6" height="6" fill="#fcdc68"/><rect x="955" y="285.2" width="6" height="6" fill="#f9ed5d"/><rect x="961" y="285.2" width="6" height="6" fill="#faf658"/><rect x="967" y="285.2" width="6" height="6" fill="#faf558"/><rect x="973" y="285.2" width="6" height="6" fill="#f9eb5f"/><rect x="979" y="285.2" width="6" height="6" fill="#fed56c"/><rect x="985" y="285.2" width="6" height="6" fill="#e6ce73"/><rect x="991" y="285.2" width="6" height="6" fill="#a9d48a"/><rect x="997" y="285.2" width="6" height="6" fill="#69d2b2"/><rect x="1003" y="285.2" width="6" height="6" fill="#4ac7d2"/><rect x="1009" y="285.2" width="6" height="6" fill="#50bce6"/><rect x="1015" y="285.2" width="6" height="6" fill="#5caff2"/><rect x="1021" y="285.2" width="6" height="6" fill="#6a9ffd"/><rect x="1027" y="285.2" width="6" height="6" fill="#788dfd"/><rect x="1033" y="285.2" width="6" height="6" fill="#7980f5"/><rect x="1039" y="285.2" width="6" height="6" fill="#7873e7"/><rect x="1045" y="285.2" width="6" height="6" fill="#766ada"/><rect x="1051" y="285.2" width="6" height="6" fill="#7566d0"/><rect x="1057" y="285.2" width="6" height="6" fill="#7464ca"/><rect x="1063" y="285.2" width="6" height="6" fill="#7363c6"/><rect x="799" y="291.2" width="6" height="6" fill="#7364c7"/><rect x="805" y="291.2" width="6" height="6" fill="#7465cc"/><rect x="811" y="291.2" width="6" height="6" fill="#7568d4"/><rect x="817" y="291.2" width="6" height="6" fill="#776dde"/><rect x="823" y="291.2" width="6" height="6" fill="#7877ed"/><rect x="829" y="291.2" width="6" height="6" fill="#7984f8"/><rect x="835" y="291.2" width="6" height="6" fill="#7592fd"/><rect x="841" y="291.2" width="6" height="6" fill="#67a3fb"/><rect x="847" y="291.2" width="6" height="6" fill="#5ab1f1"/><rect x="853" y="291.2" width="6" height="6" fill="#4fbde4"/><rect x="859" y="291.2" width="6" height="6" fill="#4ac7d2"/><rect x="865" y="291.2" width="6" height="6" fill="#60d1b8"/><rect x="871" y="291.2" width="6" height="6" fill="#8cd69b"/><rect x="877" y="291.2" width="6" height="6" fill="#b2d485"/><rect x="883" y="291.2" width="6" height="6" fill="#c7d27b"/><rect x="889" y="291.2" width="6" height="6" fill="#c2d27e"/><rect x="895" y="291.2" width="6" height="6" fill="#95d596"/><rect x="901" y="291.2" width="6" height="6" fill="#59cfbf"/><rect x="907" y="291.2" width="6" height="6" fill="#4ac3dd"/><rect x="913" y="291.2" width="6" height="6" fill="#59b2f0"/><rect x="919" y="291.2" width="6" height="6" fill="#66a3fa"/><rect x="925" y="291.2" width="6" height="6" fill="#53b9e9"/><rect x="931" y="291.2" width="6" height="6" fill="#5cd0bc"/><rect x="937" y="291.2" width="6" height="6" fill="#add488"/><rect x="943" y="291.2" width="6" height="6" fill="#efcd72"/><rect x="949" y="291.2" width="6" height="6" fill="#fdda69"/><rect x="955" y="291.2" width="6" height="6" fill="#f9ec5e"/><rect x="961" y="291.2" width="6" height="6" fill="#faf757"/><rect x="967" y="291.2" width="6" height="6" fill="#faf757"/><rect x="973" y="291.2" width="6" height="6" fill="#f9e960"/><rect x="979" y="291.2" width="6" height="6" fill="#fdd46c"/><rect x="985" y="291.2" width="6" height="6" fill="#e1cf74"/><rect x="991" y="291.2" width="6" height="6" fill="#a1d58f"/><rect x="997" y="291.2" width="6" height="6" fill="#61d1b7"/><rect x="1003" y="291.2" width="6" height="6" fill="#4ac6d6"/><rect x="1009" y="291.2" width="6" height="6" fill="#53b9e9"/><rect x="1015" y="291.2" width="6" height="6" fill="#5fabf5"/><rect x="1021" y="291.2" width="6" height="6" fill="#6e9afd"/><rect x="1027" y="291.2" width="6" height="6" fill="#7889fb"/><rect x="1033" y="291.2" width="6" height="6" fill="#797cf3"/><rect x="1039" y="291.2" width="6" height="6" fill="#7770e2"/><rect x="1045" y="291.2" width="6" height="6" fill="#7669d6"/><rect x="1051" y="291.2" width="6" height="6" fill="#7466ce"/><rect x="1057" y="291.2" width="6" height="6" fill="#7364c8"/><rect x="1063" y="291.2" width="6" height="6" fill="#7363c5"/><rect x="799" y="297.2" width="6" height="6" fill="#7363c6"/><rect x="805" y="297.2" width="6" height="6" fill="#7464ca"/><rect x="811" y="297.2" width="6" height="6" fill="#7567d1"/><rect x="817" y="297.2" width="6" height="6" fill="#766ada"/><rect x="823" y="297.2" width="6" height="6" fill="#7873e7"/><rect x="829" y="297.2" width="6" height="6" fill="#797ff5"/><rect x="835" y="297.2" width="6" height="6" fill="#788cfc"/><rect x="841" y="297.2" width="6" height="6" fill="#6d9cfd"/><rect x="847" y="297.2" width="6" height="6" fill="#5fabf5"/><rect x="853" y="297.2" width="6" height="6" fill="#54b8eb"/><rect x="859" y="297.2" width="6" height="6" fill="#4ac4db"/><rect x="865" y="297.2" width="6" height="6" fill="#54cdc4"/><rect x="871" y="297.2" width="6" height="6" fill="#79d5a7"/><rect x="877" y="297.2" width="6" height="6" fill="#a3d58e"/><rect x="883" y="297.2" width="6" height="6" fill="#bed380"/><rect x="889" y="297.2" width="6" height="6" fill="#c1d27e"/><rect x="895" y="297.2" width="6" height="6" fill="#a4d58d"/><rect x="901" y="297.2" width="6" height="6" fill="#6dd3af"/><rect x="907" y="297.2" width="6" height="6" fill="#4bc9ce"/><rect x="913" y="297.2" width="6" height="6" fill="#4ac4db"/><rect x="919" y="297.2" width="6" height="6" fill="#4ac3dc"/><rect x="925" y="297.2" width="6" height="6" fill="#4bc9ce"/><rect x="931" y="297.2" width="6" height="6" fill="#6fd3ae"/><rect x="937" y="297.2" width="6" height="6" fill="#add488"/><rect x="943" y="297.2" width="6" height="6" fill="#e5ce73"/><rect x="949" y="297.2" width="6" height="6" fill="#fcd36d"/><rect x="955" y="297.2" width="6" height="6" fill="#fae264"/><rect x="961" y="297.2" width="6" height="6" fill="#f9eb5f"/><rect x="967" y="297.2" width="6" height="6" fill="#f9e861"/><rect x="973" y="297.2" width="6" height="6" fill="#fcdb68"/><rect x="979" y="297.2" width="6" height="6" fill="#f5cf70"/><rect x="985" y="297.2" width="6" height="6" fill="#cbd17a"/><rect x="991" y="297.2" width="6" height="6" fill="#89d69c"/><rect x="997" y="297.2" width="6" height="6" fill="#55cdc3"/><rect x="1003" y="297.2" width="6" height="6" fill="#4bc2de"/><rect x="1009" y="297.2" width="6" height="6" fill="#57b4ee"/><rect x="1015" y="297.2" width="6" height="6" fill="#65a5f9"/><rect x="1021" y="297.2" width="6" height="6" fill="#7493fd"/><rect x="1027" y="297.2" width="6" height="6" fill="#7984f8"/><rect x="1033" y="297.2" width="6" height="6" fill="#7877ec"/><rect x="1039" y="297.2" width="6" height="6" fill="#776ddd"/><rect x="1045" y="297.2" width="6" height="6" fill="#7568d3"/><rect x="1051" y="297.2" width="6" height="6" fill="#7465cc"/><rect x="1057" y="297.2" width="6" height="6" fill="#7363c7"/><rect x="1063" y="297.2" width="6" height="6" fill="#7363c5"/><rect x="799" y="303.2" width="6" height="6" fill="#7363c5"/><rect x="805" y="303.2" width="6" height="6" fill="#7364c9"/><rect x="811" y="303.2" width="6" height="6" fill="#7466ce"/><rect x="817" y="303.2" width="6" height="6" fill="#7568d6"/><rect x="823" y="303.2" width="6" height="6" fill="#776fe0"/><rect x="829" y="303.2" width="6" height="6" fill="#7979ef"/><rect x="835" y="303.2" width="6" height="6" fill="#7985f9"/><rect x="841" y="303.2" width="6" height="6" fill="#7493fd"/><rect x="847" y="303.2" width="6" height="6" fill="#66a3fb"/><rect x="853" y="303.2" width="6" height="6" fill="#5ab1f1"/><rect x="859" y="303.2" width="6" height="6" fill="#50bde5"/><rect x="865" y="303.2" width="6" height="6" fill="#4ac7d4"/><rect x="871" y="303.2" width="6" height="6" fill="#5bd0bc"/><rect x="877" y="303.2" width="6" height="6" fill="#7fd6a2"/><rect x="883" y="303.2" width="6" height="6" fill="#9ed590"/><rect x="889" y="303.2" width="6" height="6" fill="#a8d48b"/><rect x="895" y="303.2" width="6" height="6" fill="#97d594"/><rect x="901" y="303.2" width="6" height="6" fill="#74d4aa"/><rect x="907" y="303.2" width="6" height="6" fill="#57cec1"/><rect x="913" y="303.2" width="6" height="6" fill="#4dcacc"/><rect x="919" y="303.2" width="6" height="6" fill="#4fcbca"/><rect x="925" y="303.2" width="6" height="6" fill="#5acfbd"/><rect x="931" y="303.2" width="6" height="6" fill="#79d5a6"/><rect x="937" y="303.2" width="6" height="6" fill="#a6d58c"/><rect x="943" y="303.2" width="6" height="6" fill="#d4d075"/><rect x="949" y="303.2" width="6" height="6" fill="#f2cd71"/><rect x="955" y="303.2" width="6" height="6" fill="#fad26e"/><rect x="961" y="303.2" width="6" height="6" fill="#fdd46c"/><rect x="967" y="303.2" width="6" height="6" fill="#fbd26d"/><rect x="973" y="303.2" width="6" height="6" fill="#f4ce71"/><rect x="979" y="303.2" width="6" height="6" fill="#d5d075"/><rect x="985" y="303.2" width="6" height="6" fill="#a0d590"/><rect x="991" y="303.2" width="6" height="6" fill="#67d2b3"/><rect x="997" y="303.2" width="6" height="6" fill="#4ac7d2"/><rect x="1003" y="303.2" width="6" height="6" fill="#51bce6"/><rect x="1009" y="303.2" width="6" height="6" fill="#5caef3"/><rect x="1015" y="303.2" width="6" height="6" fill="#6b9dfd"/><rect x="1021" y="303.2" width="6" height="6" fill="#788cfc"/><rect x="1027" y="303.2" width="6" height="6" fill="#797ef5"/><rect x="1033" y="303.2" width="6" height="6" fill="#7872e5"/><rect x="1039" y="303.2" width="6" height="6" fill="#766ad9"/><rect x="1045" y="303.2" width="6" height="6" fill="#7566d0"/><rect x="1051" y="303.2" width="6" height="6" fill="#7464ca"/><rect x="1057" y="303.2" width="6" height="6" fill="#7363c6"/><rect x="1063" y="303.2" width="6" height="6" fill="#7362c4"/><rect x="799" y="309.2" width="6" height="6" fill="#7362c5"/><rect x="805" y="309.2" width="6" height="6" fill="#7363c7"/><rect x="811" y="309.2" width="6" height="6" fill="#7465cb"/><rect x="817" y="309.2" width="6" height="6" fill="#7567d1"/><rect x="823" y="309.2" width="6" height="6" fill="#766bdb"/><rect x="829" y="309.2" width="6" height="6" fill="#7873e7"/><rect x="835" y="309.2" width="6" height="6" fill="#797ef5"/><rect x="841" y="309.2" width="6" height="6" fill="#788afb"/><rect x="847" y="309.2" width="6" height="6" fill="#6f99fd"/><rect x="853" y="309.2" width="6" height="6" fill="#62a8f7"/><rect x="859" y="309.2" width="6" height="6" fill="#57b4ee"/><rect x="865" y="309.2" width="6" height="6" fill="#4dbfe2"/><rect x="871" y="309.2" width="6" height="6" fill="#4ac8d2"/><rect x="877" y="309.2" width="6" height="6" fill="#59cfbe"/><rect x="883" y="309.2" width="6" height="6" fill="#71d3ac"/><rect x="889" y="309.2" width="6" height="6" fill="#7ed5a3"/><rect x="895" y="309.2" width="6" height="6" fill="#79d5a6"/><rect x="901" y="309.2" width="6" height="6" fill="#65d2b5"/><rect x="907" y="309.2" width="6" height="6" fill="#56cdc2"/><rect x="913" y="309.2" width="6" height="6" fill="#51ccc7"/><rect x="919" y="309.2" width="6" height="6" fill="#54cdc4"/><rect x="925" y="309.2" width="6" height="6" fill="#5dd0ba"/><rect x="931" y="309.2" width="6" height="6" fill="#73d4ab"/><rect x="937" y="309.2" width="6" height="6" fill="#8ed699"/><rect x="943" y="309.2" width="6" height="6" fill="#acd488"/><rect x="949" y="309.2" width="6" height="6" fill="#c6d27c"/><rect x="955" y="309.2" width="6" height="6" fill="#d8d075"/><rect x="961" y="309.2" width="6" height="6" fill="#ddcf74"/><rect x="967" y="309.2" width="6" height="6" fill="#d6d075"/><rect x="973" y="309.2" width="6" height="6" fill="#bfd37f"/><rect x="979" y="309.2" width="6" height="6" fill="#99d593"/><rect x="985" y="309.2" width="6" height="6" fill="#6cd3af"/><rect x="991" y="309.2" width="6" height="6" fill="#4ccacc"/><rect x="997" y="309.2" width="6" height="6" fill="#4dc0e1"/><rect x="1003" y="309.2" width="6" height="6" fill="#58b3ef"/><rect x="1009" y="309.2" width="6" height="6" fill="#65a5fa"/><rect x="1015" y="309.2" width="6" height="6" fill="#7393fd"/><rect x="1021" y="309.2" width="6" height="6" fill="#7984f8"/><rect x="1027" y="309.2" width="6" height="6" fill="#7878ed"/><rect x="1033" y="309.2" width="6" height="6" fill="#776ddf"/><rect x="1039" y="309.2" width="6" height="6" fill="#7568d4"/><rect x="1045" y="309.2" width="6" height="6" fill="#7465cd"/><rect x="1051" y="309.2" width="6" height="6" fill="#7364c8"/><rect x="1057" y="309.2" width="6" height="6" fill="#7363c5"/><rect x="1063" y="309.2" width="6" height="6" fill="#7362c3"/><rect x="799" y="315.2" width="6" height="6" fill="#7362c4"/><rect x="805" y="315.2" width="6" height="6" fill="#7363c6"/><rect x="811" y="315.2" width="6" height="6" fill="#7364c9"/><rect x="817" y="315.2" width="6" height="6" fill="#7466ce"/><rect x="823" y="315.2" width="6" height="6" fill="#7568d5"/><rect x="829" y="315.2" width="6" height="6" fill="#776edf"/><rect x="835" y="315.2" width="6" height="6" fill="#7877ed"/><rect x="841" y="315.2" width="6" height="6" fill="#7982f7"/><rect x="847" y="315.2" width="6" height="6" fill="#778efd"/><rect x="853" y="315.2" width="6" height="6" fill="#6c9dfd"/><rect x="859" y="315.2" width="6" height="6" fill="#5faaf6"/><rect x="865" y="315.2" width="6" height="6" fill="#56b5ed"/><rect x="871" y="315.2" width="6" height="6" fill="#4ebfe2"/><rect x="877" y="315.2" width="6" height="6" fill="#4ac6d6"/><rect x="883" y="315.2" width="6" height="6" fill="#4fcbca"/><rect x="889" y="315.2" width="6" height="6" fill="#57cec1"/><rect x="895" y="315.2" width="6" height="6" fill="#58cec0"/><rect x="901" y="315.2" width="6" height="6" fill="#52ccc6"/><rect x="907" y="315.2" width="6" height="6" fill="#4ccacd"/><rect x="913" y="315.2" width="6" height="6" fill="#4ac9cf"/><rect x="919" y="315.2" width="6" height="6" fill="#4dcacb"/><rect x="925" y="315.2" width="6" height="6" fill="#54cdc4"/><rect x="931" y="315.2" width="6" height="6" fill="#5bd0bc"/><rect x="937" y="315.2" width="6" height="6" fill="#69d2b1"/><rect x="943" y="315.2" width="6" height="6" fill="#7ad5a6"/><rect x="949" y="315.2" width="6" height="6" fill="#8ad69c"/><rect x="955" y="315.2" width="6" height="6" fill="#95d595"/><rect x="961" y="315.2" width="6" height="6" fill="#97d594"/><rect x="967" y="315.2" width="6" height="6" fill="#8dd69a"/><rect x="973" y="315.2" width="6" height="6" fill="#79d5a7"/><rect x="979" y="315.2" width="6" height="6" fill="#5dd0ba"/><rect x="985" y="315.2" width="6" height="6" fill="#4ac9cf"/><rect x="991" y="315.2" width="6" height="6" fill="#4cc1e0"/><rect x="997" y="315.2" width="6" height="6" fill="#56b6ed"/><rect x="1003" y="315.2" width="6" height="6" fill="#61a9f7"/><rect x="1009" y="315.2" width="6" height="6" fill="#6f99fd"/><rect x="1015" y="315.2" width="6" height="6" fill="#7889fb"/><rect x="1021" y="315.2" width="6" height="6" fill="#797df4"/><rect x="1027" y="315.2" width="6" height="6" fill="#7771e4"/><rect x="1033" y="315.2" width="6" height="6" fill="#766ad9"/><rect x="1039" y="315.2" width="6" height="6" fill="#7566d0"/><rect x="1045" y="315.2" width="6" height="6" fill="#7464ca"/><rect x="1051" y="315.2" width="6" height="6" fill="#7363c6"/><rect x="1057" y="315.2" width="6" height="6" fill="#7362c4"/><rect x="1063" y="315.2" width="6" height="6" fill="#7262c3"/><rect x="799" y="321.2" width="6" height="6" fill="#7262c3"/><rect x="805" y="321.2" width="6" height="6" fill="#7363c5"/><rect x="811" y="321.2" width="6" height="6" fill="#7363c7"/><rect x="817" y="321.2" width="6" height="6" fill="#7465cb"/><rect x="823" y="321.2" width="6" height="6" fill="#7567d0"/><rect x="829" y="321.2" width="6" height="6" fill="#7669d9"/><rect x="835" y="321.2" width="6" height="6" fill="#7771e3"/><rect x="841" y="321.2" width="6" height="6" fill="#797af1"/><rect x="847" y="321.2" width="6" height="6" fill="#7985f8"/><rect x="853" y="321.2" width="6" height="6" fill="#7691fd"/><rect x="859" y="321.2" width="6" height="6" fill="#6b9efd"/><rect x="865" y="321.2" width="6" height="6" fill="#60aaf6"/><rect x="871" y="321.2" width="6" height="6" fill="#58b4ee"/><rect x="877" y="321.2" width="6" height="6" fill="#51bbe7"/><rect x="883" y="321.2" width="6" height="6" fill="#4bc2df"/><rect x="889" y="321.2" width="6" height="6" fill="#4ac5d8"/><rect x="895" y="321.2" width="6" height="6" fill="#4ac6d6"/><rect x="901" y="321.2" width="6" height="6" fill="#4ac5d7"/><rect x="907" y="321.2" width="6" height="6" fill="#4ac5d9"/><rect x="913" y="321.2" width="6" height="6" fill="#4ac5d9"/><rect x="919" y="321.2" width="6" height="6" fill="#4ac6d6"/><rect x="925" y="321.2" width="6" height="6" fill="#4ac7d2"/><rect x="931" y="321.2" width="6" height="6" fill="#4ac9cf"/><rect x="937" y="321.2" width="6" height="6" fill="#4fcbc9"/><rect x="943" y="321.2" width="6" height="6" fill="#54cdc4"/><rect x="949" y="321.2" width="6" height="6" fill="#59cfbf"/><rect x="955" y="321.2" width="6" height="6" fill="#5bd0bc"/><rect x="961" y="321.2" width="6" height="6" fill="#5acfbd"/><rect x="967" y="321.2" width="6" height="6" fill="#55cdc3"/><rect x="973" y="321.2" width="6" height="6" fill="#4ccacd"/><rect x="979" y="321.2" width="6" height="6" fill="#4ac5d8"/><rect x="985" y="321.2" width="6" height="6" fill="#4fbee3"/><rect x="991" y="321.2" width="6" height="6" fill="#57b5ee"/><rect x="997" y="321.2" width="6" height="6" fill="#60a9f6"/><rect x="1003" y="321.2" width="6" height="6" fill="#6d9cfd"/><rect x="1009" y="321.2" width="6" height="6" fill="#788cfd"/><rect x="1015" y="321.2" width="6" height="6" fill="#7980f6"/><rect x="1021" y="321.2" width="6" height="6" fill="#7875e9"/><rect x="1027" y="321.2" width="6" height="6" fill="#766cdc"/><rect x="1033" y="321.2" width="6" height="6" fill="#7568d3"/><rect x="1039" y="321.2" width="6" height="6" fill="#7465cc"/><rect x="1045" y="321.2" width="6" height="6" fill="#7364c8"/><rect x="1051" y="321.2" width="6" height="6" fill="#7363c5"/><rect x="1057" y="321.2" width="6" height="6" fill="#7362c3"/><rect x="1063" y="321.2" width="6" height="6" fill="#7262c2"/><rect x="799" y="327.2" width="6" height="6" fill="#7262c2"/><rect x="805" y="327.2" width="6" height="6" fill="#7362c4"/><rect x="811" y="327.2" width="6" height="6" fill="#7363c5"/><rect x="817" y="327.2" width="6" height="6" fill="#7364c8"/><rect x="823" y="327.2" width="6" height="6" fill="#7465cc"/><rect x="829" y="327.2" width="6" height="6" fill="#7567d3"/><rect x="835" y="327.2" width="6" height="6" fill="#766bdb"/><rect x="841" y="327.2" width="6" height="6" fill="#7872e6"/><rect x="847" y="327.2" width="6" height="6" fill="#797cf3"/><rect x="853" y="327.2" width="6" height="6" fill="#7986f9"/><rect x="859" y="327.2" width="6" height="6" fill="#7691fd"/><rect x="865" y="327.2" width="6" height="6" fill="#6c9dfd"/><rect x="871" y="327.2" width="6" height="6" fill="#63a7f8"/><rect x="877" y="327.2" width="6" height="6" fill="#5bb0f2"/><rect x="883" y="327.2" width="6" height="6" fill="#56b6ed"/><rect x="889" y="327.2" width="6" height="6" fill="#52bae8"/><rect x="895" y="327.2" width="6" height="6" fill="#50bde5"/><rect x="901" y="327.2" width="6" height="6" fill="#4fbde4"/><rect x="907" y="327.2" width="6" height="6" fill="#4fbde4"/><rect x="913" y="327.2" width="6" height="6" fill="#4fbee3"/><rect x="919" y="327.2" width="6" height="6" fill="#4dc0e1"/><rect x="925" y="327.2" width="6" height="6" fill="#4bc1df"/><rect x="931" y="327.2" width="6" height="6" fill="#4ac3dd"/><rect x="937" y="327.2" width="6" height="6" fill="#4ac4db"/><rect x="943" y="327.2" width="6" height="6" fill="#4ac5d9"/><rect x="949" y="327.2" width="6" height="6" fill="#4ac5d8"/><rect x="955" y="327.2" width="6" height="6" fill="#4ac5d8"/><rect x="961" y="327.2" width="6" height="6" fill="#4ac4da"/><rect x="967" y="327.2" width="6" height="6" fill="#4bc2de"/><rect x="973" y="327.2" width="6" height="6" fill="#4fbee3"/><rect x="979" y="327.2" width="6" height="6" fill="#54b8eb"/><rect x="985" y="327.2" width="6" height="6" fill="#5ab1f1"/><rect x="991" y="327.2" width="6" height="6" fill="#63a7f8"/><rect x="997" y="327.2" width="6" height="6" fill="#6e9bfd"/><rect x="1003" y="327.2" width="6" height="6" fill="#788dfd"/><rect x="1009" y="327.2" width="6" height="6" fill="#7982f7"/><rect x="1015" y="327.2" width="6" height="6" fill="#7877ec"/><rect x="1021" y="327.2" width="6" height="6" fill="#776edf"/><rect x="1027" y="327.2" width="6" height="6" fill="#7668d6"/><rect x="1033" y="327.2" width="6" height="6" fill="#7466ce"/><rect x="1039" y="327.2" width="6" height="6" fill="#7364c9"/><rect x="1045" y="327.2" width="6" height="6" fill="#7363c6"/><rect x="1051" y="327.2" width="6" height="6" fill="#7362c4"/><rect x="1057" y="327.2" width="6" height="6" fill="#7262c3"/><rect x="1063" y="327.2" width="6" height="6" fill="#7261c2"/><rect x="799" y="333.2" width="6" height="6" fill="#7262c2"/><rect x="805" y="333.2" width="6" height="6" fill="#7262c3"/><rect x="811" y="333.2" width="6" height="6" fill="#7362c4"/><rect x="817" y="333.2" width="6" height="6" fill="#7363c6"/><rect x="823" y="333.2" width="6" height="6" fill="#7364c9"/><rect x="829" y="333.2" width="6" height="6" fill="#7466ce"/><rect x="835" y="333.2" width="6" height="6" fill="#7568d4"/><rect x="841" y="333.2" width="6" height="6" fill="#766cdc"/><rect x="847" y="333.2" width="6" height="6" fill="#7873e7"/><rect x="853" y="333.2" width="6" height="6" fill="#797cf3"/><rect x="859" y="333.2" width="6" height="6" fill="#7985f9"/><rect x="865" y="333.2" width="6" height="6" fill="#778ffd"/><rect x="871" y="333.2" width="6" height="6" fill="#6f99fd"/><rect x="877" y="333.2" width="6" height="6" fill="#67a2fb"/><rect x="883" y="333.2" width="6" height="6" fill="#60aaf6"/><rect x="889" y="333.2" width="6" height="6" fill="#5baff2"/><rect x="895" y="333.2" width="6" height="6" fill="#59b2f0"/><rect x="901" y="333.2" width="6" height="6" fill="#58b4ee"/><rect x="907" y="333.2" width="6" height="6" fill="#57b5ee"/><rect x="913" y="333.2" width="6" height="6" fill="#56b6ed"/><rect x="919" y="333.2" width="6" height="6" fill="#54b8eb"/><rect x="925" y="333.2" width="6" height="6" fill="#53b9ea"/><rect x="931" y="333.2" width="6" height="6" fill="#52bae8"/><rect x="937" y="333.2" width="6" height="6" fill="#52bbe8"/><rect x="943" y="333.2" width="6" height="6" fill="#51bbe7"/><rect x="949" y="333.2" width="6" height="6" fill="#52bbe7"/><rect x="955" y="333.2" width="6" height="6" fill="#52bae9"/><rect x="961" y="333.2" width="6" height="6" fill="#54b8eb"/><rect x="967" y="333.2" width="6" height="6" fill="#57b5ed"/><rect x="973" y="333.2" width="6" height="6" fill="#5ab0f1"/><rect x="979" y="333.2" width="6" height="6" fill="#60aaf6"/><rect x="985" y="333.2" width="6" height="6" fill="#68a1fc"/><rect x="991" y="333.2" width="6" height="6" fill="#7197fd"/><rect x="997" y="333.2" width="6" height="6" fill="#788bfc"/><rect x="1003" y="333.2" width="6" height="6" fill="#7981f6"/><rect x="1009" y="333.2" width="6" height="6" fill="#7877ed"/><rect x="1015" y="333.2" width="6" height="6" fill="#776fe1"/><rect x="1021" y="333.2" width="6" height="6" fill="#7669d7"/><rect x="1027" y="333.2" width="6" height="6" fill="#7566d0"/><rect x="1033" y="333.2" width="6" height="6" fill="#7465ca"/><rect x="1039" y="333.2" width="6" height="6" fill="#7363c7"/><rect x="1045" y="333.2" width="6" height="6" fill="#7363c5"/><rect x="1051" y="333.2" width="6" height="6" fill="#7262c3"/><rect x="1057" y="333.2" width="6" height="6" fill="#7262c2"/><rect x="1063" y="333.2" width="6" height="6" fill="#7261c1"/><rect x="799" y="339.2" width="6" height="6" fill="#7261c1"/><rect x="805" y="339.2" width="6" height="6" fill="#7262c2"/><rect x="811" y="339.2" width="6" height="6" fill="#7262c3"/><rect x="817" y="339.2" width="6" height="6" fill="#7363c5"/><rect x="823" y="339.2" width="6" height="6" fill="#7363c7"/><rect x="829" y="339.2" width="6" height="6" fill="#7464ca"/><rect x="835" y="339.2" width="6" height="6" fill="#7466cf"/><rect x="841" y="339.2" width="6" height="6" fill="#7568d5"/><rect x="847" y="339.2" width="6" height="6" fill="#776cdd"/><rect x="853" y="339.2" width="6" height="6" fill="#7873e6"/><rect x="859" y="339.2" width="6" height="6" fill="#797bf2"/><rect x="865" y="339.2" width="6" height="6" fill="#7983f7"/><rect x="871" y="339.2" width="6" height="6" fill="#788bfc"/><rect x="877" y="339.2" width="6" height="6" fill="#7493fd"/><rect x="883" y="339.2" width="6" height="6" fill="#6d9bfd"/><rect x="889" y="339.2" width="6" height="6" fill="#68a2fb"/><rect x="895" y="339.2" width="6" height="6" fill="#64a6f9"/><rect x="901" y="339.2" width="6" height="6" fill="#61a9f7"/><rect x="907" y="339.2" width="6" height="6" fill="#5fabf5"/><rect x="913" y="339.2" width="6" height="6" fill="#5dadf4"/><rect x="919" y="339.2" width="6" height="6" fill="#5caff2"/><rect x="925" y="339.2" width="6" height="6" fill="#5bb0f1"/><rect x="931" y="339.2" width="6" height="6" fill="#5ab1f1"/><rect x="937" y="339.2" width="6" height="6" fill="#5ab1f1"/><rect x="943" y="339.2" width="6" height="6" fill="#5ab0f1"/><rect x="949" y="339.2" width="6" height="6" fill="#5bb0f2"/><rect x="955" y="339.2" width="6" height="6" fill="#5caef3"/><rect x="961" y="339.2" width="6" height="6" fill="#5fabf5"/><rect x="967" y="339.2" width="6" height="6" fill="#63a7f8"/><rect x="973" y="339.2" width="6" height="6" fill="#68a1fc"/><rect x="979" y="339.2" width="6" height="6" fill="#6f99fd"/><rect x="985" y="339.2" width="6" height="6" fill="#7691fd"/><rect x="991" y="339.2" width="6" height="6" fill="#7988fa"/><rect x="997" y="339.2" width="6" height="6" fill="#797ff5"/><rect x="1003" y="339.2" width="6" height="6" fill="#7877eb"/><rect x="1009" y="339.2" width="6" height="6" fill="#776fe1"/><rect x="1015" y="339.2" width="6" height="6" fill="#7669d8"/><rect x="1021" y="339.2" width="6" height="6" fill="#7567d1"/><rect x="1027" y="339.2" width="6" height="6" fill="#7465cb"/><rect x="1033" y="339.2" width="6" height="6" fill="#7364c8"/><rect x="1039" y="339.2" width="6" height="6" fill="#7363c5"/><rect x="1045" y="339.2" width="6" height="6" fill="#7362c4"/><rect x="1051" y="339.2" width="6" height="6" fill="#7262c2"/><rect x="1057" y="339.2" width="6" height="6" fill="#7261c1"/><rect x="1063" y="339.2" width="6" height="6" fill="#7261c1"/><rect x="799" y="345.2" width="6" height="6" fill="#7261c1"/><rect x="805" y="345.2" width="6" height="6" fill="#7261c1"/><rect x="811" y="345.2" width="6" height="6" fill="#7262c2"/><rect x="817" y="345.2" width="6" height="6" fill="#7362c3"/><rect x="823" y="345.2" width="6" height="6" fill="#7363c5"/><rect x="829" y="345.2" width="6" height="6" fill="#7363c7"/><rect x="835" y="345.2" width="6" height="6" fill="#7464ca"/><rect x="841" y="345.2" width="6" height="6" fill="#7466cf"/><rect x="847" y="345.2" width="6" height="6" fill="#7568d5"/><rect x="853" y="345.2" width="6" height="6" fill="#766bdc"/><rect x="859" y="345.2" width="6" height="6" fill="#7771e4"/><rect x="865" y="345.2" width="6" height="6" fill="#7978ee"/><rect x="871" y="345.2" width="6" height="6" fill="#797ff5"/><rect x="877" y="345.2" width="6" height="6" fill="#7986f9"/><rect x="883" y="345.2" width="6" height="6" fill="#788cfd"/><rect x="889" y="345.2" width="6" height="6" fill="#7492fd"/><rect x="895" y="345.2" width="6" height="6" fill="#7098fd"/><rect x="901" y="345.2" width="6" height="6" fill="#6d9cfd"/><rect x="907" y="345.2" width="6" height="6" fill="#6a9ffd"/><rect x="913" y="345.2" width="6" height="6" fill="#68a1fc"/><rect x="919" y="345.2" width="6" height="6" fill="#66a3fa"/><rect x="925" y="345.2" width="6" height="6" fill="#65a5f9"/><rect x="931" y="345.2" width="6" height="6" fill="#64a5f9"/><rect x="937" y="345.2" width="6" height="6" fill="#65a5f9"/><rect x="943" y="345.2" width="6" height="6" fill="#65a4fa"/><rect x="949" y="345.2" width="6" height="6" fill="#67a2fb"/><rect x="955" y="345.2" width="6" height="6" fill="#6aa0fd"/><rect x="961" y="345.2" width="6" height="6" fill="#6d9cfd"/><rect x="967" y="345.2" width="6" height="6" fill="#7196fd"/><rect x="973" y="345.2" width="6" height="6" fill="#7690fd"/><rect x="979" y="345.2" width="6" height="6" fill="#788afb"/><rect x="985" y="345.2" width="6" height="6" fill="#7983f7"/><rect x="991" y="345.2" width="6" height="6" fill="#797cf3"/><rect x="997" y="345.2" width="6" height="6" fill="#7874e8"/><rect x="1003" y="345.2" width="6" height="6" fill="#776edf"/><rect x="1009" y="345.2" width="6" height="6" fill="#7669d7"/><rect x="1015" y="345.2" width="6" height="6" fill="#7567d1"/><rect x="1021" y="345.2" width="6" height="6" fill="#7465cc"/><rect x="1027" y="345.2" width="6" height="6" fill="#7364c8"/><rect x="1033" y="345.2" width="6" height="6" fill="#7363c6"/><rect x="1039" y="345.2" width="6" height="6" fill="#7362c4"/><rect x="1045" y="345.2" width="6" height="6" fill="#7262c3"/><rect x="1051" y="345.2" width="6" height="6" fill="#7262c2"/><rect x="1057" y="345.2" width="6" height="6" fill="#7261c1"/><rect x="1063" y="345.2" width="6" height="6" fill="#7261c1"/><rect x="799" y="351.2" width="6" height="6" fill="#7261c1"/><rect x="805" y="351.2" width="6" height="6" fill="#7261c1"/><rect x="811" y="351.2" width="6" height="6" fill="#7262c2"/><rect x="817" y="351.2" width="6" height="6" fill="#7262c2"/><rect x="823" y="351.2" width="6" height="6" fill="#7362c4"/><rect x="829" y="351.2" width="6" height="6" fill="#7363c5"/><rect x="835" y="351.2" width="6" height="6" fill="#7363c7"/><rect x="841" y="351.2" width="6" height="6" fill="#7464ca"/><rect x="847" y="351.2" width="6" height="6" fill="#7466ce"/><rect x="853" y="351.2" width="6" height="6" fill="#7568d3"/><rect x="859" y="351.2" width="6" height="6" fill="#766ada"/><rect x="865" y="351.2" width="6" height="6" fill="#776fe1"/><rect x="871" y="351.2" width="6" height="6" fill="#7874e9"/><rect x="877" y="351.2" width="6" height="6" fill="#797bf1"/><rect x="883" y="351.2" width="6" height="6" fill="#7980f6"/><rect x="889" y="351.2" width="6" height="6" fill="#7985f9"/><rect x="895" y="351.2" width="6" height="6" fill="#7889fb"/><rect x="901" y="351.2" width="6" height="6" fill="#788dfd"/><rect x="907" y="351.2" width="6" height="6" fill="#7690fd"/><rect x="913" y="351.2" width="6" height="6" fill="#7493fd"/><rect x="919" y="351.2" width="6" height="6" fill="#7295fd"/><rect x="925" y="351.2" width="6" height="6" fill="#7196fd"/><rect x="931" y="351.2" width="6" height="6" fill="#7197fd"/><rect x="937" y="351.2" width="6" height="6" fill="#7196fd"/><rect x="943" y="351.2" width="6" height="6" fill="#7295fd"/><rect x="949" y="351.2" width="6" height="6" fill="#7493fd"/><rect x="955" y="351.2" width="6" height="6" fill="#7790fd"/><rect x="961" y="351.2" width="6" height="6" fill="#788cfc"/><rect x="967" y="351.2" width="6" height="6" fill="#7987fa"/><rect x="973" y="351.2" width="6" height="6" fill="#7982f7"/><rect x="979" y="351.2" width="6" height="6" fill="#797df4"/><rect x="985" y="351.2" width="6" height="6" fill="#7877ec"/><rect x="991" y="351.2" width="6" height="6" fill="#7771e4"/><rect x="997" y="351.2" width="6" height="6" fill="#766cdc"/><rect x="1003" y="351.2" width="6" height="6" fill="#7568d5"/><rect x="1009" y="351.2" width="6" height="6" fill="#7566d0"/><rect x="1015" y="351.2" width="6" height="6" fill="#7465cb"/><rect x="1021" y="351.2" width="6" height="6" fill="#7364c8"/><rect x="1027" y="351.2" width="6" height="6" fill="#7363c6"/><rect x="1033" y="351.2" width="6" height="6" fill="#7362c4"/><rect x="1039" y="351.2" width="6" height="6" fill="#7262c3"/><rect x="1045" y="351.2" width="6" height="6" fill="#7262c2"/><rect x="1051" y="351.2" width="6" height="6" fill="#7261c1"/><rect x="1057" y="351.2" width="6" height="6" fill="#7261c1"/><rect x="1063" y="351.2" width="6" height="6" fill="#7261c0"/><rect x="799" y="357.2" width="6" height="6" fill="#7261c0"/><rect x="805" y="357.2" width="6" height="6" fill="#7261c1"/><rect x="811" y="357.2" width="6" height="6" fill="#7261c1"/><rect x="817" y="357.2" width="6" height="6" fill="#7262c2"/><rect x="823" y="357.2" width="6" height="6" fill="#7262c3"/><rect x="829" y="357.2" width="6" height="6" fill="#7362c4"/><rect x="835" y="357.2" width="6" height="6" fill="#7363c5"/><rect x="841" y="357.2" width="6" height="6" fill="#7363c7"/><rect x="847" y="357.2" width="6" height="6" fill="#7464ca"/><rect x="853" y="357.2" width="6" height="6" fill="#7465cd"/><rect x="859" y="357.2" width="6" height="6" fill="#7567d1"/><rect x="865" y="357.2" width="6" height="6" fill="#7669d7"/><rect x="871" y="357.2" width="6" height="6" fill="#766cdc"/><rect x="877" y="357.2" width="6" height="6" fill="#7770e2"/><rect x="883" y="357.2" width="6" height="6" fill="#7875e9"/><rect x="889" y="357.2" width="6" height="6" fill="#7979ef"/><rect x="895" y="357.2" width="6" height="6" fill="#797df4"/><rect x="901" y="357.2" width="6" height="6" fill="#7980f6"/><rect x="907" y="357.2" width="6" height="6" fill="#7983f7"/><rect x="913" y="357.2" width="6" height="6" fill="#7985f9"/><rect x="919" y="357.2" width="6" height="6" fill="#7987fa"/><rect x="925" y="357.2" width="6" height="6" fill="#7988fa"/><rect x="931" y="357.2" width="6" height="6" fill="#7989fa"/><rect x="937" y="357.2" width="6" height="6" fill="#7988fa"/><rect x="943" y="357.2" width="6" height="6" fill="#7987f9"/><rect x="949" y="357.2" width="6" height="6" fill="#7985f8"/><rect x="955" y="357.2" width="6" height="6" fill="#7982f7"/><rect x="961" y="357.2" width="6" height="6" fill="#797ff5"/><rect x="967" y="357.2" width="6" height="6" fill="#797bf2"/><rect x="973" y="357.2" width="6" height="6" fill="#7876eb"/><rect x="979" y="357.2" width="6" height="6" fill="#7772e5"/><rect x="985" y="357.2" width="6" height="6" fill="#776dde"/><rect x="991" y="357.2" width="6" height="6" fill="#7669d8"/><rect x="997" y="357.2" width="6" height="6" fill="#7568d3"/><rect x="1003" y="357.2" width="6" height="6" fill="#7466ce"/><rect x="1009" y="357.2" width="6" height="6" fill="#7465cb"/><rect x="1015" y="357.2" width="6" height="6" fill="#7364c8"/><rect x="1021" y="357.2" width="6" height="6" fill="#7363c6"/><rect x="1027" y="357.2" width="6" height="6" fill="#7362c4"/><rect x="1033" y="357.2" width="6" height="6" fill="#7262c3"/><rect x="1039" y="357.2" width="6" height="6" fill="#7262c2"/><rect x="1045" y="357.2" width="6" height="6" fill="#7261c1"/><rect x="1051" y="357.2" width="6" height="6" fill="#7261c1"/><rect x="1057" y="357.2" width="6" height="6" fill="#7261c0"/><rect x="1063" y="357.2" width="6" height="6" fill="#7261c0"/><rect x="799" y="363.2" width="6" height="6" fill="#7261c0"/><rect x="805" y="363.2" width="6" height="6" fill="#7261c0"/><rect x="811" y="363.2" width="6" height="6" fill="#7261c1"/><rect x="817" y="363.2" width="6" height="6" fill="#7261c1"/><rect x="823" y="363.2" width="6" height="6" fill="#7262c2"/><rect x="829" y="363.2" width="6" height="6" fill="#7262c3"/><rect x="835" y="363.2" width="6" height="6" fill="#7362c4"/><rect x="841" y="363.2" width="6" height="6" fill="#7363c5"/><rect x="847" y="363.2" width="6" height="6" fill="#7363c6"/><rect x="853" y="363.2" width="6" height="6" fill="#7364c9"/><rect x="859" y="363.2" width="6" height="6" fill="#7465cb"/><rect x="865" y="363.2" width="6" height="6" fill="#7466cf"/><rect x="871" y="363.2" width="6" height="6" fill="#7568d3"/><rect x="877" y="363.2" width="6" height="6" fill="#7669d7"/><rect x="883" y="363.2" width="6" height="6" fill="#766bdc"/><rect x="889" y="363.2" width="6" height="6" fill="#776fe1"/><rect x="895" y="363.2" width="6" height="6" fill="#7872e5"/><rect x="901" y="363.2" width="6" height="6" fill="#7875e9"/><rect x="907" y="363.2" width="6" height="6" fill="#7877ed"/><rect x="913" y="363.2" width="6" height="6" fill="#7979f0"/><rect x="919" y="363.2" width="6" height="6" fill="#797bf2"/><rect x="925" y="363.2" width="6" height="6" fill="#797cf3"/><rect x="931" y="363.2" width="6" height="6" fill="#797cf3"/><rect x="937" y="363.2" width="6" height="6" fill="#797cf3"/><rect x="943" y="363.2" width="6" height="6" fill="#797af1"/><rect x="949" y="363.2" width="6" height="6" fill="#7978ee"/><rect x="955" y="363.2" width="6" height="6" fill="#7876eb"/><rect x="961" y="363.2" width="6" height="6" fill="#7873e7"/><rect x="967" y="363.2" width="6" height="6" fill="#7770e2"/><rect x="973" y="363.2" width="6" height="6" fill="#776cdd"/><rect x="979" y="363.2" width="6" height="6" fill="#766ad9"/><rect x="985" y="363.2" width="6" height="6" fill="#7568d4"/><rect x="991" y="363.2" width="6" height="6" fill="#7567d0"/><rect x="997" y="363.2" width="6" height="6" fill="#7465cc"/><rect x="1003" y="363.2" width="6" height="6" fill="#7464c9"/><rect x="1009" y="363.2" width="6" height="6" fill="#7363c7"/><rect x="1015" y="363.2" width="6" height="6" fill="#7363c5"/><rect x="1021" y="363.2" width="6" height="6" fill="#7362c4"/><rect x="1027" y="363.2" width="6" height="6" fill="#7262c3"/><rect x="1033" y="363.2" width="6" height="6" fill="#7262c2"/><rect x="1039" y="363.2" width="6" height="6" fill="#7261c1"/><rect x="1045" y="363.2" width="6" height="6" fill="#7261c1"/><rect x="1051" y="363.2" width="6" height="6" fill="#7261c0"/><rect x="1057" y="363.2" width="6" height="6" fill="#7261c0"/><rect x="1063" y="363.2" width="6" height="6" fill="#7261c0"/><rect x="799" y="369.2" width="6" height="6" fill="#7261c0"/><rect x="805" y="369.2" width="6" height="6" fill="#7261c0"/><rect x="811" y="369.2" width="6" height="6" fill="#7261c0"/><rect x="817" y="369.2" width="6" height="6" fill="#7261c1"/><rect x="823" y="369.2" width="6" height="6" fill="#7261c1"/><rect x="829" y="369.2" width="6" height="6" fill="#7262c2"/><rect x="835" y="369.2" width="6" height="6" fill="#7262c2"/><rect x="841" y="369.2" width="6" height="6" fill="#7362c3"/><rect x="847" y="369.2" width="6" height="6" fill="#7362c4"/><rect x="853" y="369.2" width="6" height="6" fill="#7363c6"/><rect x="859" y="369.2" width="6" height="6" fill="#7364c7"/><rect x="865" y="369.2" width="6" height="6" fill="#7464ca"/><rect x="871" y="369.2" width="6" height="6" fill="#7465cc"/><rect x="877" y="369.2" width="6" height="6" fill="#7466cf"/><rect x="883" y="369.2" width="6" height="6" fill="#7567d2"/><rect x="889" y="369.2" width="6" height="6" fill="#7668d6"/><rect x="895" y="369.2" width="6" height="6" fill="#766ad9"/><rect x="901" y="369.2" width="6" height="6" fill="#766bdc"/><rect x="907" y="369.2" width="6" height="6" fill="#776dde"/><rect x="913" y="369.2" width="6" height="6" fill="#776fe0"/><rect x="919" y="369.2" width="6" height="6" fill="#7770e2"/><rect x="925" y="369.2" width="6" height="6" fill="#7770e3"/><rect x="931" y="369.2" width="6" height="6" fill="#7770e3"/><rect x="937" y="369.2" width="6" height="6" fill="#7770e2"/><rect x="943" y="369.2" width="6" height="6" fill="#776fe1"/><rect x="949" y="369.2" width="6" height="6" fill="#776edf"/><rect x="955" y="369.2" width="6" height="6" fill="#776cdd"/><rect x="961" y="369.2" width="6" height="6" fill="#766ada"/><rect x="967" y="369.2" width="6" height="6" fill="#7669d7"/><rect x="973" y="369.2" width="6" height="6" fill="#7568d3"/><rect x="979" y="369.2" width="6" height="6" fill="#7566d0"/><rect x="985" y="369.2" width="6" height="6" fill="#7465cd"/><rect x="991" y="369.2" width="6" height="6" fill="#7465ca"/><rect x="997" y="369.2" width="6" height="6" fill="#7364c8"/><rect x="1003" y="369.2" width="6" height="6" fill="#7363c6"/><rect x="1009" y="369.2" width="6" height="6" fill="#7363c5"/><rect x="1015" y="369.2" width="6" height="6" fill="#7362c4"/><rect x="1021" y="369.2" width="6" height="6" fill="#7262c3"/><rect x="1027" y="369.2" width="6" height="6" fill="#7262c2"/><rect x="1033" y="369.2" width="6" height="6" fill="#7261c1"/><rect x="1039" y="369.2" width="6" height="6" fill="#7261c1"/><rect x="1045" y="369.2" width="6" height="6" fill="#7261c0"/><rect x="1051" y="369.2" width="6" height="6" fill="#7261c0"/><rect x="1057" y="369.2" width="6" height="6" fill="#7261c0"/><rect x="1063" y="369.2" width="6" height="6" fill="#7261c0"/><rect x="799" y="375.2" width="6" height="6" fill="#7261c0"/><rect x="805" y="375.2" width="6" height="6" fill="#7261c0"/><rect x="811" y="375.2" width="6" height="6" fill="#7261c0"/><rect x="817" y="375.2" width="6" height="6" fill="#7261c0"/><rect x="823" y="375.2" width="6" height="6" fill="#7261c1"/><rect x="829" y="375.2" width="6" height="6" fill="#7261c1"/><rect x="835" y="375.2" width="6" height="6" fill="#7261c2"/><rect x="841" y="375.2" width="6" height="6" fill="#7262c2"/><rect x="847" y="375.2" width="6" height="6" fill="#7262c3"/><rect x="853" y="375.2" width="6" height="6" fill="#7362c4"/><rect x="859" y="375.2" width="6" height="6" fill="#7363c5"/><rect x="865" y="375.2" width="6" height="6" fill="#7363c6"/><rect x="871" y="375.2" width="6" height="6" fill="#7364c8"/><rect x="877" y="375.2" width="6" height="6" fill="#7464ca"/><rect x="883" y="375.2" width="6" height="6" fill="#7465cc"/><rect x="889" y="375.2" width="6" height="6" fill="#7466ce"/><rect x="895" y="375.2" width="6" height="6" fill="#7566d0"/><rect x="901" y="375.2" width="6" height="6" fill="#7567d2"/><rect x="907" y="375.2" width="6" height="6" fill="#7568d4"/><rect x="913" y="375.2" width="6" height="6" fill="#7568d5"/><rect x="919" y="375.2" width="6" height="6" fill="#7669d6"/><rect x="925" y="375.2" width="6" height="6" fill="#7669d7"/><rect x="931" y="375.2" width="6" height="6" fill="#7669d7"/><rect x="937" y="375.2" width="6" height="6" fill="#7669d6"/><rect x="943" y="375.2" width="6" height="6" fill="#7568d5"/><rect x="949" y="375.2" width="6" height="6" fill="#7568d4"/><rect x="955" y="375.2" width="6" height="6" fill="#7567d2"/><rect x="961" y="375.2" width="6" height="6" fill="#7567d0"/><rect x="967" y="375.2" width="6" height="6" fill="#7466ce"/><rect x="973" y="375.2" width="6" height="6" fill="#7465cc"/><rect x="979" y="375.2" width="6" height="6" fill="#7464ca"/><rect x="985" y="375.2" width="6" height="6" fill="#7364c8"/><rect x="991" y="375.2" width="6" height="6" fill="#7363c7"/><rect x="997" y="375.2" width="6" height="6" fill="#7363c5"/><rect x="1003" y="375.2" width="6" height="6" fill="#7362c4"/><rect x="1009" y="375.2" width="6" height="6" fill="#7262c3"/><rect x="1015" y="375.2" width="6" height="6" fill="#7262c2"/><rect x="1021" y="375.2" width="6" height="6" fill="#7262c2"/><rect x="1027" y="375.2" width="6" height="6" fill="#7261c1"/><rect x="1033" y="375.2" width="6" height="6" fill="#7261c1"/><rect x="1039" y="375.2" width="6" height="6" fill="#7261c0"/><rect x="1045" y="375.2" width="6" height="6" fill="#7261c0"/><rect x="1051" y="375.2" width="6" height="6" fill="#7261c0"/><rect x="1057" y="375.2" width="6" height="6" fill="#7261c0"/><rect x="1063" y="375.2" width="6" height="6" fill="#7261c0"/><rect x="799" y="381.2" width="6" height="6" fill="#7261c0"/><rect x="805" y="381.2" width="6" height="6" fill="#7261c0"/><rect x="811" y="381.2" width="6" height="6" fill="#7261c0"/><rect x="817" y="381.2" width="6" height="6" fill="#7261c0"/><rect x="823" y="381.2" width="6" height="6" fill="#7261c0"/><rect x="829" y="381.2" width="6" height="6" fill="#7261c1"/><rect x="835" y="381.2" width="6" height="6" fill="#7261c1"/><rect x="841" y="381.2" width="6" height="6" fill="#7261c1"/><rect x="847" y="381.2" width="6" height="6" fill="#7262c2"/><rect x="853" y="381.2" width="6" height="6" fill="#7262c3"/><rect x="859" y="381.2" width="6" height="6" fill="#7362c3"/><rect x="865" y="381.2" width="6" height="6" fill="#7362c4"/><rect x="871" y="381.2" width="6" height="6" fill="#7363c5"/><rect x="877" y="381.2" width="6" height="6" fill="#7363c6"/><rect x="883" y="381.2" width="6" height="6" fill="#7363c7"/><rect x="889" y="381.2" width="6" height="6" fill="#7364c8"/><rect x="895" y="381.2" width="6" height="6" fill="#7464ca"/><rect x="901" y="381.2" width="6" height="6" fill="#7465cb"/><rect x="907" y="381.2" width="6" height="6" fill="#7465cc"/><rect x="913" y="381.2" width="6" height="6" fill="#7465cd"/><rect x="919" y="381.2" width="6" height="6" fill="#7466ce"/><rect x="925" y="381.2" width="6" height="6" fill="#7466ce"/><rect x="931" y="381.2" width="6" height="6" fill="#7466ce"/><rect x="937" y="381.2" width="6" height="6" fill="#7466ce"/><rect x="943" y="381.2" width="6" height="6" fill="#7466cd"/><rect x="949" y="381.2" width="6" height="6" fill="#7465cc"/><rect x="955" y="381.2" width="6" height="6" fill="#7465cb"/><rect x="961" y="381.2" width="6" height="6" fill="#7464ca"/><rect x="967" y="381.2" width="6" height="6" fill="#7364c9"/><rect x="973" y="381.2" width="6" height="6" fill="#7364c8"/><rect x="979" y="381.2" width="6" height="6" fill="#7363c6"/><rect x="985" y="381.2" width="6" height="6" fill="#7363c5"/><rect x="991" y="381.2" width="6" height="6" fill="#7362c4"/><rect x="997" y="381.2" width="6" height="6" fill="#7362c3"/><rect x="1003" y="381.2" width="6" height="6" fill="#7262c3"/><rect x="1009" y="381.2" width="6" height="6" fill="#7262c2"/><rect x="1015" y="381.2" width="6" height="6" fill="#7261c2"/><rect x="1021" y="381.2" width="6" height="6" fill="#7261c1"/><rect x="1027" y="381.2" width="6" height="6" fill="#7261c1"/><rect x="1033" y="381.2" width="6" height="6" fill="#7261c0"/><rect x="1039" y="381.2" width="6" height="6" fill="#7261c0"/><rect x="1045" y="381.2" width="6" height="6" fill="#7261c0"/><rect x="1051" y="381.2" width="6" height="6" fill="#7261c0"/><rect x="1057" y="381.2" width="6" height="6" fill="#7261c0"/><rect x="1063" y="381.2" width="6" height="6" fill="#7261c0"/><rect x="799" y="387.2" width="6" height="6" fill="#7261c0"/><rect x="805" y="387.2" width="6" height="6" fill="#7261c0"/><rect x="811" y="387.2" width="6" height="6" fill="#7261c0"/><rect x="817" y="387.2" width="6" height="6" fill="#7261c0"/><rect x="823" y="387.2" width="6" height="6" fill="#7261c0"/><rect x="829" y="387.2" width="6" height="6" fill="#7261c0"/><rect x="835" y="387.2" width="6" height="6" fill="#7261c1"/><rect x="841" y="387.2" width="6" height="6" fill="#7261c1"/><rect x="847" y="387.2" width="6" height="6" fill="#7261c1"/><rect x="853" y="387.2" width="6" height="6" fill="#7261c2"/><rect x="859" y="387.2" width="6" height="6" fill="#7262c2"/><rect x="865" y="387.2" width="6" height="6" fill="#7262c3"/><rect x="871" y="387.2" width="6" height="6" fill="#7362c3"/><rect x="877" y="387.2" width="6" height="6" fill="#7362c4"/><rect x="883" y="387.2" width="6" height="6" fill="#7363c5"/><rect x="889" y="387.2" width="6" height="6" fill="#7363c5"/><rect x="895" y="387.2" width="6" height="6" fill="#7363c6"/><rect x="901" y="387.2" width="6" height="6" fill="#7363c7"/><rect x="907" y="387.2" width="6" height="6" fill="#7364c7"/><rect x="913" y="387.2" width="6" height="6" fill="#7364c8"/><rect x="919" y="387.2" width="6" height="6" fill="#7364c8"/><rect x="925" y="387.2" width="6" height="6" fill="#7364c9"/><rect x="931" y="387.2" width="6" height="6" fill="#7364c9"/><rect x="937" y="387.2" width="6" height="6" fill="#7364c8"/><rect x="943" y="387.2" width="6" height="6" fill="#7364c8"/><rect x="949" y="387.2" width="6" height="6" fill="#7364c8"/><rect x="955" y="387.2" width="6" height="6" fill="#7363c7"/><rect x="961" y="387.2" width="6" height="6" fill="#7363c6"/><rect x="967" y="387.2" width="6" height="6" fill="#7363c6"/><rect x="973" y="387.2" width="6" height="6" fill="#7363c5"/><rect x="979" y="387.2" width="6" height="6" fill="#7362c4"/><rect x="985" y="387.2" width="6" height="6" fill="#7362c3"/><rect x="991" y="387.2" width="6" height="6" fill="#7262c3"/><rect x="997" y="387.2" width="6" height="6" fill="#7262c2"/><rect x="1003" y="387.2" width="6" height="6" fill="#7262c2"/><rect x="1009" y="387.2" width="6" height="6" fill="#7261c1"/><rect x="1015" y="387.2" width="6" height="6" fill="#7261c1"/><rect x="1021" y="387.2" width="6" height="6" fill="#7261c1"/><rect x="1027" y="387.2" width="6" height="6" fill="#7261c0"/><rect x="1033" y="387.2" width="6" height="6" fill="#7261c0"/><rect x="1039" y="387.2" width="6" height="6" fill="#7261c0"/><rect x="1045" y="387.2" width="6" height="6" fill="#7261c0"/><rect x="1051" y="387.2" width="6" height="6" fill="#7261c0"/><rect x="1057" y="387.2" width="6" height="6" fill="#7261c0"/><rect x="1063" y="387.2" width="6" height="6" fill="#7261c0"/><rect x="799" y="393.2" width="6" height="6" fill="#7261c0"/><rect x="805" y="393.2" width="6" height="6" fill="#7261c0"/><rect x="811" y="393.2" width="6" height="6" fill="#7261c0"/><rect x="817" y="393.2" width="6" height="6" fill="#7261c0"/><rect x="823" y="393.2" width="6" height="6" fill="#7261c0"/><rect x="829" y="393.2" width="6" height="6" fill="#7261c0"/><rect x="835" y="393.2" width="6" height="6" fill="#7261c0"/><rect x="841" y="393.2" width="6" height="6" fill="#7261c0"/><rect x="847" y="393.2" width="6" height="6" fill="#7261c1"/><rect x="853" y="393.2" width="6" height="6" fill="#7261c1"/><rect x="859" y="393.2" width="6" height="6" fill="#7261c1"/><rect x="865" y="393.2" width="6" height="6" fill="#7262c2"/><rect x="871" y="393.2" width="6" height="6" fill="#7262c2"/><rect x="877" y="393.2" width="6" height="6" fill="#7262c2"/><rect x="883" y="393.2" width="6" height="6" fill="#7262c3"/><rect x="889" y="393.2" width="6" height="6" fill="#7362c3"/><rect x="895" y="393.2" width="6" height="6" fill="#7362c4"/><rect x="901" y="393.2" width="6" height="6" fill="#7362c4"/><rect x="907" y="393.2" width="6" height="6" fill="#7363c5"/><rect x="913" y="393.2" width="6" height="6" fill="#7363c5"/><rect x="919" y="393.2" width="6" height="6" fill="#7363c5"/><rect x="925" y="393.2" width="6" height="6" fill="#7363c5"/><rect x="931" y="393.2" width="6" height="6" fill="#7363c5"/><rect x="937" y="393.2" width="6" height="6" fill="#7363c5"/><rect x="943" y="393.2" width="6" height="6" fill="#7363c5"/><rect x="949" y="393.2" width="6" height="6" fill="#7363c5"/><rect x="955" y="393.2" width="6" height="6" fill="#7362c4"/><rect x="961" y="393.2" width="6" height="6" fill="#7362c4"/><rect x="967" y="393.2" width="6" height="6" fill="#7362c4"/><rect x="973" y="393.2" width="6" height="6" fill="#7262c3"/><rect x="979" y="393.2" width="6" height="6" fill="#7262c3"/><rect x="985" y="393.2" width="6" height="6" fill="#7262c2"/><rect x="991" y="393.2" width="6" height="6" fill="#7262c2"/><rect x="997" y="393.2" width="6" height="6" fill="#7261c1"/><rect x="1003" y="393.2" width="6" height="6" fill="#7261c1"/><rect x="1009" y="393.2" width="6" height="6" fill="#7261c1"/><rect x="1015" y="393.2" width="6" height="6" fill="#7261c0"/><rect x="1021" y="393.2" width="6" height="6" fill="#7261c0"/><rect x="1027" y="393.2" width="6" height="6" fill="#7261c0"/><rect x="1033" y="393.2" width="6" height="6" fill="#7261c0"/><rect x="1039" y="393.2" width="6" height="6" fill="#7261c0"/><rect x="1045" y="393.2" width="6" height="6" fill="#7261c0"/><rect x="1051" y="393.2" width="6" height="6" fill="#7261c0"/><rect x="1057" y="393.2" width="6" height="6" fill="#7261c0"/><rect x="1063" y="393.2" width="6" height="6" fill="#7261c0"/></g><defs><radialGradient id="dot"><stop offset="0" stop-color="#7261c0" stop-opacity="0.95"/><stop offset="0.45" stop-color="#7261c0" stop-opacity="0.6"/><stop offset="1" stop-color="#7261c0" stop-opacity="0"/></radialGradient></defs><ellipse cx="922.3" cy="220" rx="6.8" ry="6.9" fill="url(#dot)"/><ellipse cx="922.3" cy="287" rx="6.8" ry="6.9" fill="url(#dot)"/><ellipse cx="892.1" cy="253.5" rx="6.8" ry="6.9" fill="url(#dot)"/><ellipse cx="1006" cy="253.5" rx="13.5" ry="4.6" fill="url(#dot)"/><path d="M709.0 24.0V483.0H1159.0" fill="none" stroke="#4a4a4a" stroke-width="1.3"/><line x1="709.0" y1="483" x2="713.5" y2="483" stroke="#4a4a4a" stroke-width="1.2"/><line x1="709" y1="483.0" x2="709" y2="478.5" stroke="#4a4a4a" stroke-width="1.2"/><line x1="709.0" y1="253.5" x2="713.5" y2="253.5" stroke="#4a4a4a" stroke-width="1.2"/><line x1="934" y1="483.0" x2="934" y2="478.5" stroke="#4a4a4a" stroke-width="1.2"/><line x1="709.0" y1="24" x2="713.5" y2="24" stroke="#4a4a4a" stroke-width="1.2"/><line x1="1159" y1="483.0" x2="1159" y2="478.5" stroke="#4a4a4a" stroke-width="1.2"/><text x="700" y="35" font-size="28.5" text-anchor="end" style="font-family:'Liberation Sans',Arial,sans-serif;font-weight:bold" >5</text><text x="700" y="265.5" font-size="28.5" text-anchor="end" style="font-family:'Liberation Sans',Arial,sans-serif;font-weight:bold" >0</text><text x="700" y="495.5" font-size="28.5" text-anchor="end" style="font-family:'Liberation Sans',Arial,sans-serif;font-weight:bold" >-5</text><text x="709" y="520" font-size="28.5" text-anchor="middle" style="font-family:'Liberation Sans',Arial,sans-serif;font-weight:bold" >-5</text><text x="934" y="520" font-size="28.5" text-anchor="middle" style="font-family:'Liberation Sans',Arial,sans-serif;font-weight:bold" >0</text><text x="1159" y="520" font-size="28.5" text-anchor="middle" style="font-family:'Liberation Sans',Arial,sans-serif;font-weight:bold" >5</text><defs><linearGradient id="cbg" x1="0" y1="0" x2="0" y2="1"><stop offset="0.0000" stop-color="#f9fb15"/><stop offset="0.0312" stop-color="#f8ec1e"/><stop offset="0.0625" stop-color="#f6de27"/><stop offset="0.0938" stop-color="#fad12e"/><stop offset="0.1250" stop-color="#fec436"/><stop offset="0.1562" stop-color="#f6bf39"/><stop offset="0.1875" stop-color="#eebb3d"/><stop offset="0.2188" stop-color="#dabd40"/><stop offset="0.2500" stop-color="#c4bf42"/><stop offset="0.2812" stop-color="#a8c250"/><stop offset="0.3125" stop-color="#8dc45d"/><stop offset="0.3438" stop-color="#70c66d"/><stop offset="0.3750" stop-color="#54c77d"/><stop offset="0.4062" stop-color="#3cc38e"/><stop offset="0.4375" stop-color="#23c09f"/><stop offset="0.4688" stop-color="#15baae"/><stop offset="0.5000" stop-color="#08b5bd"/><stop offset="0.5312" stop-color="#08b0c7"/><stop offset="0.5625" stop-color="#08acd2"/><stop offset="0.5938" stop-color="#0ea5da"/><stop offset="0.6250" stop-color="#149ee3"/><stop offset="0.6562" stop-color="#1b97e9"/><stop offset="0.6875" stop-color="#218fef"/><stop offset="0.7188" stop-color="#2a86f6"/><stop offset="0.7500" stop-color="#337cfc"/><stop offset="0.7812" stop-color="#3d6ffc"/><stop offset="0.8125" stop-color="#4663fc"/><stop offset="0.8438" stop-color="#4757f6"/><stop offset="0.8750" stop-color="#484cf0"/><stop offset="0.9062" stop-color="#4640de"/><stop offset="0.9375" stop-color="#4434cd"/><stop offset="0.9688" stop-color="#412dbb"/><stop offset="1.0000" stop-color="#3e26a8"/></linearGradient></defs><rect x="1175.5" y="22.5" width="15.0" height="460.5" fill="url(#cbg)" stroke="#4a4a4a" stroke-width="1"/><line x1="1187.0" y1="48.4" x2="1190.5" y2="48.4" stroke="#4a4a4a" stroke-width="1"/><text x="1197.3" y="58" font-size="25.5" text-anchor="start" style="font-family:'Liberation Sans',Arial,sans-serif;font-weight:bold" >0.3</text><line x1="1187.0" y1="120.9" x2="1190.5" y2="120.9" stroke="#4a4a4a" stroke-width="1"/><text x="1197.3" y="130.5" font-size="25.5" text-anchor="start" style="font-family:'Liberation Sans',Arial,sans-serif;font-weight:bold" >0.25</text><line x1="1187.0" y1="193.4" x2="1190.5" y2="193.4" stroke="#4a4a4a" stroke-width="1"/><text x="1197.3" y="203" font-size="25.5" text-anchor="start" style="font-family:'Liberation Sans',Arial,sans-serif;font-weight:bold" >0.2</text><line x1="1187.0" y1="266" x2="1190.5" y2="266" stroke="#4a4a4a" stroke-width="1"/><text x="1197.3" y="275.6" font-size="25.5" text-anchor="start" style="font-family:'Liberation Sans',Arial,sans-serif;font-weight:bold" >0.15</text><line x1="1187.0" y1="338.5" x2="1190.5" y2="338.5" stroke="#4a4a4a" stroke-width="1"/><text x="1197.3" y="348.1" font-size="25.5" text-anchor="start" style="font-family:'Liberation Sans',Arial,sans-serif;font-weight:bold" >0.1</text><line x1="1187.0" y1="411.1" x2="1190.5" y2="411.1" stroke="#4a4a4a" stroke-width="1"/><text x="1197.3" y="420.7" font-size="25.5" text-anchor="start" style="font-family:'Liberation Sans',Arial,sans-serif;font-weight:bold" >0.05</text><text transform="translate(933,569) scale(1.25,1)" font-size="46" text-anchor="middle" style="font-family:'Liberation Serif','Times New Roman',serif;font-style:italic;stroke:#000;stroke-width:1.1px">x</text><text transform="translate(664,256.7) rotate(-90)" font-size="46" text-anchor="middle" style="font-family:'Liberation Serif','Times New Roman',serif;font-style:italic;stroke:#000;stroke-width:1.1px">y</text><text x="944.3" y="602.3" font-size="20.5" text-anchor="middle" style="font-family:'Liberation Sans',Arial,sans-serif;font-weight:bold" >(b)</text><line x1="527.2" y1="670.8" x2="527.2" y2="1156.0" stroke="#e4e4e4" stroke-width="1"/><line x1="766" y1="670.8" x2="766" y2="1156.0" stroke="#e4e4e4" stroke-width="1"/><line x1="288.5" y1="670.8" x2="766.0" y2="670.8" stroke="#e4e4e4" stroke-width="1"/><line x1="288.5" y1="913.4" x2="766.0" y2="913.4" stroke="#e4e4e4" stroke-width="1"/><defs><linearGradient id="cA" x1="0" y1="0" x2="0" y2="1"><stop offset="0" stop-color="#7470e8"/><stop offset="1" stop-color="#757ef6"/></linearGradient><linearGradient id="cB" x1="0" y1="0" x2="0" y2="1"><stop offset="0" stop-color="#738cfd"/><stop offset="1" stop-color="#58acf3"/></linearGradient><linearGradient id="cM" x1="0" y1="0" x2="0" y2="1"><stop offset="0" stop-color="#757ef6"/><stop offset="0.45" stop-color="#7583f9"/><stop offset="0.7" stop-color="#738cfd"/><stop offset="0.82" stop-color="#669cfd"/><stop offset="0.9" stop-color="#5aa9f5"/><stop offset="1" stop-color="#4abce3"/></linearGradient><linearGradient id="cR" x1="0" y1="0" x2="0" y2="1"><stop offset="0" stop-color="#62d1b2"/><stop offset="0.4" stop-color="#79d4a1"/><stop offset="1" stop-color="#94d492"/></linearGradient><linearGradient id="cL" x1="0" y1="0" x2="1" y2="0"><stop offset="0" stop-color="#9dd48d"/><stop offset="0.3" stop-color="#71d3a7"/><stop offset="1" stop-color="#66d1af"/></linearGradient><linearGradient id="cSo" x1="0" y1="0" x2="1" y2="0"><stop offset="0" stop-color="#f8e85c"/><stop offset="0.5" stop-color="#fdd765"/><stop offset="1" stop-color="#f9d06a"/></linearGradient><linearGradient id="cSf" x1="0" y1="0" x2="0" y2="1"><stop offset="0" stop-color="#f9f156"/><stop offset="1" stop-color="#fed368"/></linearGradient><radialGradient id="gCy" cx="0.5" cy="0.5" r="0.5"><stop offset="0" stop-color="#45c6d2" stop-opacity="0.9"/><stop offset="1" stop-color="#45c6d2" stop-opacity="0"/></radialGradient><radialGradient id="gYg" cx="0.5" cy="0.5" r="0.5"><stop offset="0" stop-color="#b7d27f" stop-opacity="0.8"/><stop offset="1" stop-color="#b7d27f" stop-opacity="0"/></radialGradient><radialGradient id="gRy" cx="0.5" cy="0.5" r="0.5"><stop offset="0" stop-color="#bcd17c" stop-opacity="0.75"/><stop offset="1" stop-color="#bcd17c" stop-opacity="0"/></radialGradient><clipPath id="kL"><rect x="482.8" y="913.4" width="259.3" height="218.3"/></clipPath><clipPath id="kR"><rect x="602.2" y="695.1" width="139.9" height="218.3"/></clipPath></defs><rect x="312.4" y="695.1" width="170.5" height="218.3" fill="url(#cA)"/><rect x="312.4" y="913.4" width="170.5" height="218.3" fill="url(#cB)"/><rect x="514.8" y="695.1" width="87.4" height="218.3" fill="url(#cM)"/><rect x="602.2" y="695.1" width="139.9" height="218.3" fill="url(#cR)"/><rect x="482.8" y="913.4" width="259.3" height="218.3" fill="url(#cL)"/><g clip-path="url(#kL)"><ellipse cx="551.1" cy="928" rx="81.2" ry="58.2" fill="url(#gCy)"/><ellipse cx="498.6" cy="1122" rx="90.7" ry="77.6" fill="url(#gYg)"/></g><g clip-path="url(#kR)"><ellipse cx="618" cy="894" rx="62.1" ry="63.1" fill="url(#gRy)"/></g><rect x="482.8" y="695.1" width="32" height="218.3" fill="#faf255"/><defs><linearGradient id="cSo2" x1="0" y1="0" x2="0" y2="1"><stop offset="0" stop-color="#fad16a" stop-opacity="0"/><stop offset="0.45" stop-color="#fad16a" stop-opacity="0.85"/><stop offset="1" stop-color="#f9d06a" stop-opacity="1"/></linearGradient><linearGradient id="cSo3" x1="0" y1="0" x2="1" y2="0"><stop offset="0" stop-color="#f8e85c" stop-opacity="0.9"/><stop offset="0.45" stop-color="#f8e85c" stop-opacity="0"/></linearGradient></defs><rect x="482.8" y="862.5" width="32" height="50.9" fill="url(#cSo2)"/><rect x="482.8" y="862.5" width="32" height="50.9" fill="url(#cSo3)"/><path d="M497.6 913.4H514.8V948.3Q512.9 952.2 507.2 943.5L501 923.1Z" fill="#f8cf6b"/><rect x="312.4" y="695.1" width="2.4" height="218.3" fill="#4bbbe4"/><rect x="312.4" y="913.4" width="2.4" height="218.3" fill="#86d599"/><path d="M288.5 670.8V1156.0H766.0" fill="none" stroke="#4a4a4a" stroke-width="1.3"/><line x1="288.5" y1="1156" x2="293.3" y2="1156" stroke="#4a4a4a" stroke-width="1.2"/><line x1="288.5" y1="1156.0" x2="288.5" y2="1151.2" stroke="#4a4a4a" stroke-width="1.2"/><line x1="288.5" y1="913.4" x2="293.3" y2="913.4" stroke="#4a4a4a" stroke-width="1.2"/><line x1="527.2" y1="1156.0" x2="527.2" y2="1151.2" stroke="#4a4a4a" stroke-width="1.2"/><line x1="288.5" y1="670.8" x2="293.3" y2="670.8" stroke="#4a4a4a" stroke-width="1.2"/><line x1="766" y1="1156.0" x2="766" y2="1151.2" stroke="#4a4a4a" stroke-width="1.2"/><text x="280.5" y="681.3" font-size="28.5" text-anchor="end" style="font-family:'Liberation Sans',Arial,sans-serif;font-weight:bold" >5</text><text x="280.5" y="924.8" font-size="28.5" text-anchor="end" style="font-family:'Liberation Sans',Arial,sans-serif;font-weight:bold" >0</text><text x="280" y="1168.2" font-size="28.5" text-anchor="end" style="font-family:'Liberation Sans',Arial,sans-serif;font-weight:bold" >-5</text><text x="288.5" y="1194.6" font-size="28.5" text-anchor="middle" style="font-family:'Liberation Sans',Arial,sans-serif;font-weight:bold" >-5</text><text x="528.5" y="1194.6" font-size="28.5" text-anchor="middle" style="font-family:'Liberation Sans',Arial,sans-serif;font-weight:bold" >0</text><text x="766" y="1195" font-size="28.5" text-anchor="middle" style="font-family:'Liberation Sans',Arial,sans-serif;font-weight:bold" >5</text><defs><linearGradient id="ccg" x1="0" y1="0" x2="0" y2="1"><stop offset="0.0000" stop-color="#f9fb15"/><stop offset="0.0312" stop-color="#f8ec1e"/><stop offset="0.0625" stop-color="#f6de27"/><stop offset="0.0938" stop-color="#fad12e"/><stop offset="0.1250" stop-color="#fec436"/><stop offset="0.1562" stop-color="#f6bf39"/><stop offset="0.1875" stop-color="#eebb3d"/><stop offset="0.2188" stop-color="#dabd40"/><stop offset="0.2500" stop-color="#c4bf42"/><stop offset="0.2812" stop-color="#a8c250"/><stop offset="0.3125" stop-color="#8dc45d"/><stop offset="0.3438" stop-color="#70c66d"/><stop offset="0.3750" stop-color="#54c77d"/><stop offset="0.4062" stop-color="#3cc38e"/><stop offset="0.4375" stop-color="#23c09f"/><stop offset="0.4688" stop-color="#15baae"/><stop offset="0.5000" stop-color="#08b5bd"/><stop offset="0.5312" stop-color="#08b0c7"/><stop offset="0.5625" stop-color="#08acd2"/><stop offset="0.5938" stop-color="#0ea5da"/><stop offset="0.6250" stop-color="#149ee3"/><stop offset="0.6562" stop-color="#1b97e9"/><stop offset="0.6875" stop-color="#218fef"/><stop offset="0.7188" stop-color="#2a86f6"/><stop offset="0.7500" stop-color="#337cfc"/><stop offset="0.7812" stop-color="#3d6ffc"/><stop offset="0.8125" stop-color="#4663fc"/><stop offset="0.8438" stop-color="#4757f6"/><stop offset="0.8750" stop-color="#484cf0"/><stop offset="0.9062" stop-color="#4640de"/><stop offset="0.9375" stop-color="#4434cd"/><stop offset="0.9688" stop-color="#412dbb"/><stop offset="1.0000" stop-color="#3e26a8"/></linearGradient></defs><rect x="784.0" y="670.5" width="17.5" height="485.5" fill="url(#ccg)" stroke="#4a4a4a" stroke-width="1"/><line x1="798.0" y1="716.8" x2="801.5" y2="716.8" stroke="#4a4a4a" stroke-width="1"/><text x="808.3" y="727.1" font-size="26" text-anchor="start" style="font-family:'Liberation Sans',Arial,sans-serif;font-weight:bold" >6</text><line x1="798.0" y1="781.4" x2="801.5" y2="781.4" stroke="#4a4a4a" stroke-width="1"/><text x="808.3" y="791.7" font-size="26" text-anchor="start" style="font-family:'Liberation Sans',Arial,sans-serif;font-weight:bold" >4</text><line x1="798.0" y1="846" x2="801.5" y2="846" stroke="#4a4a4a" stroke-width="1"/><text x="808.3" y="856.3" font-size="26" text-anchor="start" style="font-family:'Liberation Sans',Arial,sans-serif;font-weight:bold" >2</text><line x1="798.0" y1="910.6" x2="801.5" y2="910.6" stroke="#4a4a4a" stroke-width="1"/><text x="808.3" y="920.9" font-size="26" text-anchor="start" style="font-family:'Liberation Sans',Arial,sans-serif;font-weight:bold" >0</text><line x1="798.0" y1="975.2" x2="801.5" y2="975.2" stroke="#4a4a4a" stroke-width="1"/><text x="808.3" y="985.5" font-size="26" text-anchor="start" style="font-family:'Liberation Sans',Arial,sans-serif;font-weight:bold" >-2</text><line x1="798.0" y1="1039.8" x2="801.5" y2="1039.8" stroke="#4a4a4a" stroke-width="1"/><text x="808.3" y="1050.1" font-size="26" text-anchor="start" style="font-family:'Liberation Sans',Arial,sans-serif;font-weight:bold" >-4</text><line x1="798.0" y1="1104.4" x2="801.5" y2="1104.4" stroke="#4a4a4a" stroke-width="1"/><text x="808.3" y="1114.7" font-size="26" text-anchor="start" style="font-family:'Liberation Sans',Arial,sans-serif;font-weight:bold" >-6</text><text transform="translate(527,1246.5) scale(1.25,1)" font-size="46" text-anchor="middle" style="font-family:'Liberation Serif','Times New Roman',serif;font-style:italic;stroke:#000;stroke-width:1.1px">x</text><text transform="translate(240.2,916.1) rotate(-90)" font-size="46" text-anchor="middle" style="font-family:'Liberation Serif','Times New Roman',serif;font-style:italic;stroke:#000;stroke-width:1.1px">y</text><text x="525.9" y="1277.5" font-size="20.5" text-anchor="middle" style="font-family:'Liberation Sans',Arial,sans-serif;font-weight:bold" >(c)</text><path d="M102.5 292.6L378.5 196.6L594 322.4" stroke="#e4e4e4" stroke-width="1" fill="none"/><path d="M102.5 205.5L378.5 109.5L594 235.3" stroke="#e4e4e4" stroke-width="1" fill="none"/><path d="M102.5 118.4L378.5 22.4L594 148.2" stroke="#e4e4e4" stroke-width="1" fill="none"/><path d="M240.5 331.7L240.5 56.5" stroke="#e4e4e4" stroke-width="1.0" fill="none"/><path d="M378.5 283.7L378.5 8.5" stroke="#e4e4e4" stroke-width="1.0" fill="none"/><path d="M486.2 346.6L486.2 71.4" stroke="#e4e4e4" stroke-width="1.0" fill="none"/><path d="M594 409.5L594 134.3" stroke="#e4e4e4" stroke-width="1.0" fill="none"/><path d="M456 457.5L240.5 331.7" stroke="#e4e4e4" stroke-width="1.0" fill="none"/><path d="M210.2 442.6L486.2 346.6" stroke="#e4e4e4" stroke-width="1.0" fill="none"/><path d="M594 409.5L378.5 283.7" stroke="#e4e4e4" stroke-width="1.0" fill="none"/><path d="M102.5 379.7L378.5 283.7" stroke="#e4e4e4" stroke-width="1.0" fill="none"/><path d="M102.5 379.7L378.5 283.7" stroke="#e4e4e4" stroke-width="1.0" fill="none"/><path d="M321 494.4L569.4 408L375.5 294.8L127.1 381.2Z" fill="#3e26a8" stroke="#3e26a8" stroke-width="0.5"/><g fill="currentColor" stroke="currentColor" stroke-width="0.5" stroke-linejoin="round"><path color="#3e27aa" d="M341 338.2l2.7-0.8-2.1-1.1-2.8 0.9z"/><path color="#3e27aa" d="M345.9 338.4l2.7-0.7-2.1-1.1-2.8 0.8z"/><path color="#3e27aa" d="M350.8 338.7l2.7-0.8-2.1-1-2.8 0.8z"/><path color="#3e27aa" d="M355.7 339l2.8-0.8-2.2-1.1-2.8 0.8z"/><path color="#3e27aa" d="M338.2 339l2.8-0.8-2.2-1-2.8 0.8z"/><path color="#3e27aa" d="M360.6 339.2l2.8-0.7-2.2-1.1-2.7 0.8z"/><path color="#3e27aa" d="M343.1 339.2l2.8-0.8-2.2-1-2.7 0.8z"/><path color="#3e27aa" d="M365.5 339.5l2.8-0.7-2.2-1.1-2.7 0.8z"/><path color="#3e27aa" d="M348 339.4l2.8-0.7-2.2-1-2.7 0.7z"/><path color="#3e27aa" d="M370.4 339.9l2.8-0.8-2.2-1.1-2.7 0.8z"/><path color="#3e27aa" d="M352.9 339.7l2.8-0.7-2.2-1.1-2.7 0.8z"/><path color="#3e27aa" d="M335.4 339.7l2.8-0.7-2.2-1-2.7 0.8z"/><path color="#3e27aa" d="M375.4 340.2l2.7-0.7-2.1-1.1-2.8 0.7z"/><path color="#3e27aa" d="M357.9 339.9l2.7-0.7-2.1-1-2.8 0.8z"/><path color="#3e27aa" d="M340.3 339.9l2.8-0.7-2.1-1-2.8 0.8z"/><path color="#3e27aa" d="M380.3 340.6l2.7-0.8-2.1-1.1-2.8 0.8z"/><path color="#3e27aa" d="M362.8 340.2l2.7-0.7-2.1-1-2.8 0.7z"/><path color="#3e27ab" d="M345.3 340.1l2.7-0.7-2.1-1-2.8 0.8z"/><path color="#3e27aa" d="M367.7 340.5l2.7-0.6-2.1-1.1-2.8 0.7z"/><path color="#3e27ab" d="M350.2 340.3l2.7-0.6-2.1-1-2.8 0.7z"/><path color="#3e27ab" d="M332.7 340.5l2.7-0.8-2.1-0.9-2.8 0.8z"/><path color="#3e27aa" d="M372.6 340.9l2.8-0.7-2.2-1.1-2.8 0.8z"/><path color="#3e27ab" d="M355.1 340.6l2.8-0.7-2.2-0.9-2.8 0.7z"/><path color="#3e27ab" d="M337.6 340.6l2.7-0.7-2.1-0.9-2.8 0.7z"/><path color="#3e27aa" d="M377.5 341.2l2.8-0.6-2.2-1.1-2.7 0.7z"/><path color="#3e27ab" d="M360 340.8l2.8-0.6-2.2-1-2.7 0.7z"/><path color="#3e27ab" d="M342.5 340.7l2.8-0.6-2.2-0.9-2.8 0.7z"/><path color="#3e27aa" d="M382.4 341.6l2.8-0.7-2.2-1.1-2.7 0.8z"/><path color="#3e27ab" d="M364.9 341.1l2.8-0.6-2.2-1-2.7 0.7z"/><path color="#3e27ab" d="M347.4 340.9l2.8-0.6-2.2-0.9-2.7 0.7z"/><path color="#3e27ab" d="M329.9 341.1l2.8-0.6-2.2-0.9-2.7 0.7z"/><path color="#3e27aa" d="M387.3 342l2.8-0.7-2.1-1.1-2.8 0.7z"/><path color="#3e27ab" d="M369.8 341.5l2.8-0.6-2.2-1-2.7 0.6z"/><path color="#3e27ac" d="M352.3 341.1l2.8-0.5-2.2-0.9-2.7 0.6z"/><path color="#3e27ab" d="M334.8 341.2l2.8-0.6-2.2-0.9-2.7 0.8z"/><path color="#3e27ab" d="M374.8 341.8l2.7-0.6-2.1-1-2.8 0.7z"/><path color="#3e27ac" d="M357.2 341.4l2.8-0.6-2.1-0.9-2.8 0.7z"/><path color="#3e28ac" d="M339.7 341.3l2.8-0.6-2.2-0.8-2.7 0.7z"/><path color="#3e27ab" d="M379.7 342.2l2.7-0.6-2.1-1-2.8 0.6z"/><path color="#3e27ac" d="M362.2 341.7l2.7-0.6-2.1-0.9-2.8 0.6z"/><path color="#3e28ac" d="M344.7 341.5l2.7-0.6-2.1-0.8-2.8 0.6z"/><path color="#3e27ac" d="M327.2 341.8l2.7-0.7-2.1-0.8-2.8 0.8z"/><path color="#3e27aa" d="M384.6 342.6l2.7-0.6-2.1-1.1-2.8 0.7z"/><path color="#3e27ac" d="M367.1 342l2.7-0.5-2.1-1-2.8 0.6z"/><path color="#3e28ac" d="M349.6 341.6l2.7-0.5-2.1-0.8-2.8 0.6z"/><path color="#3e28ac" d="M332.1 341.8l2.7-0.6-2.1-0.7-2.8 0.6z"/><path color="#3e27aa" d="M389.5 343.1l2.8-0.7-2.2-1.1-2.8 0.7z"/><path color="#3e27ab" d="M372 342.4l2.8-0.6-2.2-0.9-2.8 0.6z"/><path color="#3e28ad" d="M354.5 341.8l2.7-0.4-2.1-0.8-2.8 0.5z"/><path color="#3e28ad" d="M337 341.9l2.7-0.6-2.1-0.7-2.8 0.6z"/><path color="#3e27ab" d="M376.9 342.8l2.8-0.6-2.2-1-2.7 0.6z"/><path color="#3e28ad" d="M359.4 342.1l2.8-0.4-2.2-0.9-2.8 0.6z"/><path color="#3f28ad" d="M341.9 341.9l2.8-0.4-2.2-0.8-2.8 0.6z"/><path color="#3e28ac" d="M324.4 342.4l2.8-0.6-2.2-0.7-2.8 0.7z"/><path color="#3e27ab" d="M381.8 343.2l2.8-0.6-2.2-1-2.7 0.6z"/><path color="#3e28ad" d="M364.3 342.4l2.8-0.4-2.2-0.9-2.7 0.6z"/><path color="#3f28ad" d="M346.8 342l2.8-0.4-2.2-0.7-2.7 0.6z"/><path color="#3e28ad" d="M329.3 342.4l2.8-0.6-2.2-0.7-2.7 0.7z"/><path color="#3e27ab" d="M386.7 343.6l2.8-0.5-2.2-1.1-2.7 0.6z"/><path color="#3e28ac" d="M369.2 342.7l2.8-0.3-2.2-0.9-2.7 0.5z"/><path color="#3f28ae" d="M351.7 342.2l2.8-0.4-2.2-0.7-2.7 0.5z"/><path color="#3f28ad" d="M334.2 342.3l2.8-0.4-2.2-0.7-2.7 0.6z"/><path color="#3e27ab" d="M391.7 344.1l2.7-0.6-2.1-1.1-2.8 0.7z"/><path color="#3e28ac" d="M374.1 343.2l2.7-0.4-2.1-1-2.8 0.6z"/><path color="#3f28ae" d="M356.6 342.4l2.8-0.3-2.2-0.7-2.7 0.4z"/><path color="#3f28ae" d="M339.1 342.3l2.8-0.4-2.2-0.6-2.7 0.6z"/><path color="#3f28ad" d="M321.6 343l2.8-0.6-2.2-0.6-2.7 0.7z"/><path color="#3e28ac" d="M379.1 343.6l2.7-0.4-2.1-1-2.8 0.6z"/><path color="#3f28ae" d="M361.6 342.6l2.7-0.2-2.1-0.7-2.8 0.4z"/><path color="#3f28af" d="M344.1 342.3l2.7-0.3-2.1-0.5-2.8 0.4z"/><path color="#3f28ae" d="M326.5 342.9l2.8-0.5-2.1-0.6-2.8 0.6z"/><path color="#3e28ac" d="M384 344.1l2.7-0.5-2.1-1-2.8 0.6z"/><path color="#3f28ae" d="M366.5 343l2.7-0.3-2.1-0.7-2.8 0.4z"/><path color="#3f29af" d="M349 342.4l2.7-0.2-2.1-0.6-2.8 0.4z"/><path color="#3f28ae" d="M331.5 342.7l2.7-0.4-2.1-0.5-2.8 0.6z"/><path color="#3e27ab" d="M388.9 344.6l2.8-0.5-2.2-1-2.8 0.5z"/><path color="#3f28ad" d="M371.4 343.4l2.8-0.2-2.2-0.8-2.8 0.3z"/><path color="#3f29af" d="M353.9 342.5l2.7-0.1-2.1-0.6-2.8 0.4z"/><path color="#3f29af" d="M336.4 342.6l2.7-0.3-2.1-0.4-2.8 0.4z"/><path color="#3f28ae" d="M318.9 343.6l2.7-0.6-2.1-0.5-2.8 0.7z"/><path color="#3e27ab" d="M393.8 345.1l2.8-0.5-2.2-1.1-2.7 0.6z"/><path color="#3f28ad" d="M376.3 343.9l2.8-0.3-2.2-0.8-2.7 0.4z"/><path color="#3f29af" d="M358.8 342.7l2.8-0.1-2.2-0.5-2.8 0.3z"/><path color="#3f29b0" d="M341.3 342.4l2.8-0.1-2.2-0.4-2.8 0.4z"/><path color="#3f29af" d="M323.8 343.3l2.7-0.4-2.1-0.5-2.8 0.6z"/><path color="#3e28ad" d="M381.2 344.4l2.8-0.3-2.2-0.9-2.7 0.4z"/><path color="#3f29af" d="M363.7 343l2.8 0-2.2-0.6-2.7 0.2z"/><path color="#3f29b0" d="M346.2 342.4l2.8 0-2.2-0.4-2.7 0.3z"/><path color="#3f29b0" d="M328.7 343l2.8-0.3-2.2-0.3-2.8 0.5z"/><path color="#3e28ac" d="M386.1 345l2.8-0.4-2.2-1-2.7 0.5z"/><path color="#3f29af" d="M368.6 343.4l2.8 0-2.2-0.7-2.7 0.3z"/><path color="#3f29b1" d="M351.1 342.4l2.8 0.1-2.2-0.3-2.7 0.2z"/><path color="#3f29b1" d="M333.6 342.7l2.8-0.1-2.2-0.3-2.7 0.4z"/><path color="#3f28ae" d="M316.1 344.1l2.8-0.5-2.2-0.4-2.7 0.6z"/><path color="#3e28ac" d="M391.1 345.5l2.8-0.4-2.1-1-2.8 0.5z"/><path color="#3f29af" d="M373.5 343.9l2.8 0-2.1-0.7-2.8 0.2z"/><path color="#3f29b1" d="M356 342.5l2.8 0.2-2.2-0.3-2.7 0.1z"/><path color="#3f2ab2" d="M338.5 342.4l2.8 0-2.2-0.1-2.7 0.3z"/><path color="#3f29b0" d="M321 343.7l2.8-0.4-2.2-0.3-2.7 0.6z"/><path color="#3e27ab" d="M396 346.1l2.7-0.5-2.1-1-2.8 0.5z"/><path color="#3f28ae" d="M378.5 344.5l2.7-0.1-2.1-0.8-2.8 0.3z"/><path color="#3f29b1" d="M361 342.8l2.7 0.2-2.1-0.4-2.8 0.1z"/><path color="#3f2ab2" d="M343.4 342.2l2.8 0.2-2.1-0.1-2.8 0.1z"/><path color="#3f29b1" d="M325.9 343.2l2.8-0.2-2.2-0.1-2.7 0.4z"/><path color="#3f28ae" d="M383.4 345.1l2.7-0.1-2.1-0.9-2.8 0.3z"/><path color="#3f29b1" d="M365.9 343.2l2.7 0.2-2.1-0.4-2.8 0z"/><path color="#402ab3" d="M348.4 342l2.7 0.4-2.1 0-2.8 0z"/><path color="#3f2ab2" d="M330.9 342.7l2.7 0-2.1 0-2.8 0.3z"/><path color="#3f29af" d="M313.4 344.6l2.7-0.5-2.1-0.3-2.8 0.7z"/><path color="#3f28ad" d="M388.3 345.8l2.7-0.3-2.1-0.9-2.8 0.4z"/><path color="#3f29b1" d="M370.8 343.7l2.7 0.2-2.1-0.5-2.8 0z"/><path color="#402ab4" d="M353.3 342l2.7 0.5-2.1 0-2.8-0.1z"/><path color="#402ab4" d="M335.8 342.2l2.7 0.2-2.1 0.2-2.8 0.1z"/><path color="#3f29b1" d="M318.3 344.1l2.7-0.4-2.1-0.1-2.8 0.5z"/><path color="#3e28ad" d="M393.2 346.4l2.8-0.3-2.2-1-2.8 0.4z"/><path color="#3f29b0" d="M375.7 344.3l2.8 0.2-2.2-0.6-2.8 0z"/><path color="#402ab4" d="M358.2 342.1l2.8 0.7-2.2-0.1-2.8-0.2z"/><path color="#402bb5" d="M340.7 341.7l2.7 0.5-2.1 0.2-2.8 0z"/><path color="#3f2ab2" d="M323.2 343.4l2.7-0.2-2.1 0.1-2.8 0.4z"/><path color="#3e28ac" d="M398.1 347.1l2.8-0.4-2.2-1.1-2.7 0.5z"/><path color="#3f29b0" d="M380.6 345l2.8 0.1-2.2-0.7-2.7 0.1z"/><path color="#402ab4" d="M363.1 342.5l2.8 0.7-2.2-0.2-2.7-0.2z"/><path color="#402bb6" d="M345.6 341.3l2.8 0.7-2.2 0.4-2.8-0.2z"/><path color="#402ab4" d="M328.1 342.6l2.8 0.1-2.2 0.3-2.8 0.2z"/><path color="#3f29b0" d="M310.6 345.1l2.8-0.5-2.2-0.1-2.8 0.6z"/><path color="#3f29af" d="M385.5 345.7l2.8 0.1-2.2-0.8-2.7 0.1z"/><path color="#402ab4" d="M368 343l2.8 0.7-2.2-0.3-2.7-0.2z"/><path color="#402bb7" d="M350.5 341.1l2.8 0.9-2.2 0.4-2.7-0.4z"/><path color="#402bb6" d="M333 341.8l2.8 0.4-2.2 0.5-2.7 0z"/><path color="#3f2ab2" d="M315.5 344.3l2.8-0.2-2.2 0-2.7 0.5z"/><path color="#3f28ae" d="M390.4 346.5l2.8-0.1-2.2-0.9-2.7 0.3z"/><path color="#3f2ab3" d="M372.9 343.6l2.8 0.7-2.2-0.4-2.7-0.2z"/><path color="#402cb7" d="M355.4 341l2.8 1.1-2.2 0.4-2.7-0.5z"/><path color="#402cb8" d="M337.9 340.9l2.8 0.8-2.2 0.7-2.7-0.2z"/><path color="#402ab4" d="M320.4 343.4l2.8 0-2.2 0.3-2.7 0.4z"/><path color="#3f28ad" d="M395.4 347.2l2.7-0.1-2.1-1-2.8 0.3z"/><path color="#3f2ab2" d="M377.9 344.4l2.7 0.6-2.1-0.5-2.8-0.2z"/><path color="#402cb7" d="M360.3 341.2l2.8 1.3-2.1 0.3-2.8-0.7z"/><path color="#412cb9" d="M342.8 340.2l2.8 1.1-2.2 0.9-2.7-0.5z"/><path color="#402bb6" d="M325.3 342.3l2.8 0.3-2.2 0.6-2.7 0.2z"/><path color="#3e28ad" d="M400.3 348l2.7-0.3-2.1-1-2.8 0.4z"/><path color="#3f29b1" d="M307.8 345.6l2.8-0.5-2.2 0-2.7 0.6z"/><path color="#3f29b1" d="M382.8 345.3l2.7 0.4-2.1-0.6-2.8-0.1z"/><path color="#402bb7" d="M365.3 341.7l2.7 1.3-2.1 0.2-2.8-0.7z"/><path color="#412dbb" d="M347.8 339.7l2.7 1.4-2.1 0.9-2.8-0.7z"/><path color="#402cb9" d="M330.3 341.1l2.7 0.7-2.1 0.9-2.8-0.1z"/><path color="#402ab3" d="M312.8 344.6l2.7-0.3-2.1 0.3-2.8 0.5z"/><path color="#3f29b0" d="M387.7 346.2l2.7 0.3-2.1-0.7-2.8-0.1z"/><path color="#402bb7" d="M370.2 342.4l2.7 1.2-2.1 0.1-2.8-0.7z"/><path color="#412dbc" d="M352.7 339.4l2.7 1.6-2.1 1-2.8-0.9z"/><path color="#412dbb" d="M335.2 339.9l2.7 1-2.1 1.3-2.8-0.4z"/><path color="#402bb6" d="M317.7 343.3l2.7 0.1-2.1 0.7-2.8 0.2z"/><path color="#3f29af" d="M392.6 347.2l2.8 0-2.2-0.8-2.8 0.1z"/><path color="#402bb6" d="M375.1 343.3l2.8 1.1-2.2-0.1-2.8-0.7z"/><path color="#412dbc" d="M357.6 339.4l2.7 1.8-2.1 0.9-2.8-1.1z"/><path color="#412ebd" d="M340.1 338.8l2.7 1.4-2.1 1.5-2.8-0.8z"/><path color="#402cb9" d="M322.6 341.9l2.7 0.4-2.1 1.1-2.8 0z"/><path color="#3f28ae" d="M397.5 348.1l2.8-0.1-2.2-0.9-2.7 0.1z"/><path color="#3f2ab2" d="M305.1 346.1l2.7-0.5-2.1 0.1-2.8 0.7z"/><path color="#402bb4" d="M380 344.3l2.8 1-2.2-0.3-2.7-0.6z"/><path color="#412dbc" d="M362.5 339.7l2.8 2-2.2 0.8-2.8-1.3z"/><path color="#4532c1" d="M345 337.9l2.8 1.8-2.2 1.6-2.8-1.1z"/><path color="#412dbc" d="M327.5 340.3l2.8 0.8-2.2 1.5-2.8-0.3z"/><path color="#3f28ad" d="M402.4 348.9l2.8-0.2-2.2-1-2.7 0.3z"/><path color="#402bb4" d="M310 344.8l2.8-0.2-2.2 0.5-2.8 0.5z"/><path color="#3f2ab3" d="M384.9 345.5l2.8 0.7-2.2-0.5-2.7-0.4z"/><path color="#412dbb" d="M367.4 340.4l2.8 2-2.2 0.6-2.7-1.3z"/><path color="#4936c3" d="M349.9 337.3l2.8 2.1-2.2 1.7-2.7-1.4z"/><path color="#4330bf" d="M332.4 338.7l2.8 1.2-2.2 1.9-2.7-0.7z"/><path color="#402cb7" d="M314.9 343.2l2.8 0.1-2.2 1-2.7 0.3z"/><path color="#3f2ab2" d="M389.8 346.6l2.8 0.6-2.2-0.7-2.7-0.3z"/><path color="#412dba" d="M372.3 341.4l2.8 1.9-2.2 0.3-2.7-1.2z"/><path color="#4b39c5" d="M354.8 337l2.8 2.4-2.2 1.6-2.7-1.6z"/><path color="#4a38c5" d="M337.3 337.1l2.8 1.7-2.2 2.1-2.7-1z"/><path color="#412dbb" d="M319.8 341.4l2.8 0.5-2.2 1.5-2.7-0.1z"/><path color="#3f29b0" d="M394.8 347.8l2.7 0.3-2.1-0.9-2.8 0z"/><path color="#3f2ab3" d="M302.3 346.6l2.8-0.5-2.2 0.3-2.7 0.6z"/><path color="#402cb9" d="M377.2 342.6l2.8 1.7-2.1 0.1-2.8-1.1z"/><path color="#4a38c5" d="M359.7 337.1l2.8 2.6-2.2 1.5-2.7-1.8z"/><path color="#5140c9" d="M342.2 335.7l2.8 2.2-2.2 2.3-2.7-1.4z"/><path color="#422fbf" d="M324.7 339.3l2.8 1-2.2 2-2.7-0.4z"/><path color="#3f29af" d="M399.7 348.8l2.7 0.1-2.1-0.9-2.8 0.1z"/><path color="#402bb6" d="M307.2 345l2.8-0.2-2.2 0.8-2.7 0.5z"/><path color="#402bb7" d="M382.2 344l2.7 1.5-2.1-0.2-2.8-1z"/><path color="#4835c4" d="M364.7 337.6l2.7 2.8-2.1 1.3-2.8-2z"/><path color="#5646cd" d="M347.2 334.6l2.7 2.7-2.1 2.4-2.8-1.8z"/><path color="#4a38c6" d="M329.6 337.2l2.8 1.5-2.1 2.4-2.8-0.8z"/><path color="#3f28ae" d="M404.6 349.8l2.7-0.1-2.1-1-2.8 0.2z"/><path color="#412cb9" d="M312.1 343.1l2.8 0.1-2.1 1.4-2.8 0.2z"/><path color="#402bb5" d="M387.1 345.4l2.7 1.2-2.1-0.4-2.8-0.7z"/><path color="#4330c1" d="M369.6 338.6l2.7 2.8-2.1 1-2.8-2z"/><path color="#5949cf" d="M352.1 333.8l2.7 3.2-2.1 2.4-2.8-2.1z"/><path color="#5343cc" d="M334.6 335.1l2.7 2-2.1 2.8-2.8-1.2z"/><path color="#412ebe" d="M317.1 340.8l2.7 0.6-2.1 1.9-2.8-0.1z"/><path color="#402ab3" d="M392 346.9l2.8 0.9-2.2-0.6-2.8-0.6z"/><path color="#402ab3" d="M299.6 347.1l2.7-0.5-2.1 0.4-2.8 0.7z"/><path color="#412ebf" d="M374.5 339.9l2.7 2.7-2.1 0.7-2.8-1.9z"/><path color="#594ad0" d="M357 333.6l2.7 3.5-2.1 2.3-2.8-2.4z"/><path color="#5b4cd2" d="M339.5 333l2.7 2.7-2.1 3.1-2.8-1.7z"/><path color="#4634c4" d="M322 338.3l2.7 1-2.1 2.6-2.8-0.5z"/><path color="#3f2ab2" d="M396.9 348.3l2.8 0.5-2.2-0.7-2.7-0.3z"/><path color="#402bb7" d="M304.5 345.3l2.7-0.3-2.1 1.1-2.8 0.5z"/><path color="#412dbd" d="M379.4 341.6l2.8 2.4-2.2 0.3-2.8-1.7z"/><path color="#5849d0" d="M361.9 333.9l2.8 3.7-2.2 2.1-2.8-2.6z"/><path color="#6053d6" d="M344.4 331.3l2.8 3.3-2.2 3.3-2.8-2.2z"/><path color="#5141cc" d="M326.9 335.6l2.7 1.6-2.1 3.1-2.8-1z"/><path color="#3f29b0" d="M401.8 349.5l2.8 0.3-2.2-0.9-2.7-0.1z"/><path color="#412dbb" d="M309.4 343l2.7 0.1-2.1 1.7-2.8 0.2z"/><path color="#412dba" d="M384.3 343.4l2.8 2-2.2 0.1-2.7-1.5z"/><path color="#5545ce" d="M366.8 334.8l2.8 3.8-2.2 1.8-2.7-2.8z"/><path color="#6357d9" d="M349.3 329.9l2.8 3.9-2.2 3.5-2.7-2.7z"/><path color="#5b4dd3" d="M331.8 332.7l2.8 2.4-2.2 3.6-2.8-1.5z"/><path color="#3f28af" d="M406.7 350.7l2.8 0-2.2-1-2.7 0.1z"/><path color="#422fc1" d="M314.3 340.2l2.8 0.6-2.2 2.4-2.8-0.1z"/><path color="#402cb8" d="M389.2 345.2l2.8 1.7-2.2-0.3-2.7-1.2z"/><path color="#402ab4" d="M296.8 347.6l2.8-0.5-2.2 0.6-2.8 0.7z"/><path color="#4e3eca" d="M371.7 336.3l2.8 3.6-2.2 1.5-2.7-2.8z"/><path color="#645ada" d="M354.2 329.1l2.8 4.5-2.2 3.4-2.7-3.2z"/><path color="#6257d9" d="M336.7 329.9l2.8 3.1-2.2 4.1-2.7-2z"/><path color="#4b3ac9" d="M319.2 337.2l2.8 1.1-2.2 3.1-2.7-0.6z"/><path color="#402bb5" d="M394.1 347l2.7 1.3-2.1-0.5-2.8-0.9z"/><path color="#402cb8" d="M301.7 345.6l2.8-0.3-2.2 1.3-2.7 0.5z"/><path color="#4634c5" d="M376.6 338.1l2.8 3.5-2.2 1-2.7-2.7z"/><path color="#645adb" d="M359.1 329.1l2.8 4.8-2.2 3.2-2.7-3.5z"/><path color="#665ede" d="M341.6 327.4l2.8 3.9-2.2 4.4-2.7-2.7z"/><path color="#5748d2" d="M324.1 333.8l2.8 1.8-2.2 3.7-2.7-1z"/><path color="#3f2ab3" d="M399.1 348.7l2.7 0.8-2.1-0.7-2.8-0.5z"/><path color="#412ebd" d="M306.6 342.9l2.8 0.1-2.2 2-2.7 0.3z"/><path color="#422fc1" d="M381.6 340.2l2.7 3.2-2.1 0.6-2.8-2.4z"/><path color="#6257da" d="M364.1 329.8l2.7 5-2.1 2.8-2.8-3.7z"/><path color="#6963e1" d="M346.5 325.3l2.8 4.6-2.1 4.7-2.8-3.3z"/><path color="#6055da" d="M329 330.1l2.8 2.6-2.2 4.5-2.7-1.6z"/><path color="#3f29b1" d="M404 350.2l2.7 0.5-2.1-0.9-2.8-0.3z"/><path color="#4230c3" d="M311.5 339.7l2.8 0.5-2.2 2.9-2.7-0.1z"/><path color="#412ebe" d="M386.5 342.5l2.7 2.7-2.1 0.2-2.8-2z"/><path color="#402bb5" d="M294 348.2l2.8-0.6-2.2 0.8-2.7 0.7z"/><path color="#5e52d7" d="M369 331.2l2.7 5.1-2.1 2.3-2.8-3.8z"/><path color="#6b66e4" d="M351.5 323.8l2.7 5.3-2.1 4.7-2.8-3.9z"/><path color="#665fe0" d="M334 326.5l2.7 3.4-2.1 5.2-2.8-2.4z"/><path color="#3f29af" d="M408.9 351.5l2.8 0.2-2.2-1-2.8 0z"/><path color="#4f3fce" d="M316.5 336l2.7 1.2-2.1 3.6-2.8-0.6z"/><path color="#412dba" d="M391.4 344.9l2.8 2.1-2.2-0.1-2.8-1.7z"/><path color="#412cb9" d="M298.9 345.9l2.7-0.3-2.1 1.5-2.8 0.5z"/><path color="#584ad3" d="M373.9 333.3l2.7 4.8-2.1 1.8-2.8-3.6z"/><path color="#6b67e5" d="M356.4 323.2l2.7 5.9-2.1 4.5-2.8-4.5z"/><path color="#6b66e6" d="M338.9 323.1l2.7 4.3-2.1 5.6-2.8-3.1z"/><path color="#5a4fd7" d="M321.4 331.9l2.7 1.9-2.1 4.5-2.8-1.1z"/><path color="#402cb7" d="M396.3 347.1l2.8 1.6-2.2-0.4-2.7-1.3z"/><path color="#412ebf" d="M303.9 342.9l2.7 0-2.1 2.4-2.8 0.3z"/><path color="#4f3ece" d="M378.8 335.9l2.8 4.3-2.2 1.4-2.8-3.5z"/><path color="#6a65e5" d="M361.3 323.5l2.8 6.3-2.2 4.1-2.8-4.8z"/><path color="#6d6cea" d="M343.8 320.2l2.7 5.1-2.1 6-2.8-3.9z"/><path color="#635cdf" d="M326.3 327.4l2.7 2.7-2.1 5.5-2.8-1.8z"/><path color="#402bb4" d="M401.2 349.1l2.8 1.1-2.2-0.7-2.7-0.8z"/><path color="#4432c6" d="M308.8 339.2l2.7 0.5-2.1 3.3-2.8-0.1z"/><path color="#4331c6" d="M383.7 338.7l2.8 3.8-2.2 0.9-2.7-3.2z"/><path color="#402bb5" d="M291.3 348.9l2.7-0.7-2.1 0.9-2.8 0.8z"/><path color="#6862e3" d="M366.2 324.8l2.8 6.4-2.2 3.6-2.7-5z"/><path color="#6f6fee" d="M348.7 318l2.8 5.8-2.2 6.1-2.8-4.6z"/><path color="#6965e7" d="M331.2 323l2.8 3.5-2.2 6.2-2.8-2.6z"/><path color="#3f2ab2" d="M406.1 350.9l2.8 0.6-2.2-0.8-2.7-0.5z"/><path color="#5143d2" d="M313.7 334.9l2.8 1.1-2.2 4.2-2.8-0.5z"/><path color="#422fc2" d="M388.6 341.6l2.8 3.3-2.2 0.3-2.7-2.7z"/><path color="#412dba" d="M296.2 346.3l2.8-0.4-2.2 1.7-2.8 0.6z"/><path color="#645de0" d="M371.1 326.9l2.8 6.4-2.2 3-2.7-5.1z"/><path color="#6f71f0" d="M353.6 316.7l2.8 6.5-2.2 5.9-2.7-5.3z"/><path color="#6d6ded" d="M336.1 318.9l2.8 4.2-2.2 6.8-2.7-3.4z"/><path color="#3f29b0" d="M411.1 352.4l2.8 0.3-2.1-1-2.8-0.2z"/><path color="#5d54dc" d="M318.6 330l2.8 1.9-2.2 5.3-2.7-1.2z"/><path color="#412ebe" d="M393.5 344.4l2.8 2.7-2.1-0.1-2.8-2.1z"/><path color="#422fc1" d="M301.1 343l2.8-0.1-2.2 2.7-2.7 0.3z"/><path color="#5e54db" d="M376 329.8l2.8 6.1-2.2 2.2-2.7-4.8z"/><path color="#6f71f0" d="M358.5 316.3l2.8 7.2-2.2 5.6-2.7-5.9z"/><path color="#6f73f3" d="M341 315.1l2.8 5.1-2.2 7.2-2.7-4.3z"/><path color="#6560e5" d="M323.5 324.8l2.8 2.6-2.2 6.4-2.7-1.9z"/><path color="#412cba" d="M398.5 347.1l2.7 2-2.1-0.4-2.8-1.6z"/><path color="#4533c9" d="M306 338.9l2.8 0.3-2.2 3.7-2.7 0z"/><path color="#5548d5" d="M381 333.2l2.7 5.5-2.1 1.5-2.8-4.3z"/><path color="#402bb6" d="M288.5 349.7l2.8-0.8-2.2 1-2.7 0.8z"/><path color="#6d6fef" d="M363.4 317.2l2.8 7.6-2.1 5-2.8-6.3z"/><path color="#7177f5" d="M345.9 311.9l2.8 6.1-2.2 7.3-2.7-5.1z"/><path color="#6a6aed" d="M328.4 319.7l2.8 3.3-2.2 7.1-2.7-2.7z"/><path color="#402bb6" d="M403.4 349.5l2.7 1.4-2.1-0.7-2.8-1.1z"/><path color="#5246d5" d="M310.9 333.9l2.8 1-2.2 4.8-2.7-0.5z"/><path color="#4838cd" d="M385.9 336.9l2.7 4.7-2.1 0.9-2.8-3.8z"/><path color="#412dbb" d="M293.4 346.9l2.8-0.6-2.2 1.9-2.7 0.7z"/><path color="#6b6bed" d="M368.4 319.1l2.7 7.8-2.1 4.3-2.8-6.4z"/><path color="#717af6" d="M350.9 309.6l2.7 7.1-2.1 7.1-2.8-5.8z"/><path color="#6d72f4" d="M333.4 314.6l2.7 4.3-2.1 7.6-2.8-3.5z"/><path color="#402ab3" d="M408.3 351.5l2.7 0.9-2.1-0.9-2.8-0.6z"/><path color="#5d57e0" d="M315.8 328.2l2.8 1.8-2.1 6-2.8-1.1z"/><path color="#4331c6" d="M390.8 340.5l2.7 3.9-2.1 0.5-2.8-3.3z"/><path color="#422fc2" d="M298.3 343.2l2.8-0.2-2.1 2.9-2.8 0.4z"/><path color="#6764e9" d="M373.3 322.1l2.7 7.7-2.1 3.5-2.8-6.4z"/><path color="#717bf7" d="M355.8 308.5l2.7 7.8-2.1 6.9-2.8-6.5z"/><path color="#7079f6" d="M338.3 309.9l2.7 5.2-2.1 8-2.8-4.2z"/><path color="#3f29b1" d="M413.2 353.3l2.8 0.4-2.2-1-2.8-0.3z"/><path color="#6564ea" d="M320.8 322.4l2.7 2.4-2.1 7.1-2.8-1.9z"/><path color="#422fc1" d="M395.7 343.9l2.8 3.2-2.2 0-2.8-2.7z"/><path color="#4534cb" d="M303.3 338.6l2.7 0.3-2.1 4-2.8 0.1z"/><path color="#615be3" d="M378.2 326l2.8 7.2-2.2 2.7-2.8-6.1z"/><path color="#402bb6" d="M285.8 350.6l2.7-0.9-2.1 1-2.8 0.9z"/><path color="#707af7" d="M360.7 308.7l2.7 8.5-2.1 6.3-2.8-7.2z"/><path color="#717ef8" d="M343.2 305.6l2.7 6.3-2.1 8.3-2.8-5.1z"/><path color="#6a6ef3" d="M325.7 316.5l2.7 3.2-2.1 7.7-2.8-2.6z"/><path color="#412dbc" d="M400.6 347l2.8 2.5-2.2-0.4-2.7-2z"/><path color="#5348d8" d="M308.2 333l2.7 0.9-2.1 5.3-2.8-0.3z"/><path color="#584fdc" d="M383.1 330.3l2.8 6.6-2.2 1.8-2.7-5.5z"/><path color="#412dbc" d="M290.7 347.6l2.7-0.7-2.1 2-2.8 0.8z"/><path color="#6e77f6" d="M365.6 310.3l2.8 8.8-2.2 5.7-2.8-7.6z"/><path color="#7282fa" d="M348.1 302.2l2.8 7.4-2.2 8.4-2.8-6.1z"/><path color="#6d77f6" d="M330.6 310.6l2.8 4-2.2 8.4-2.8-3.3z"/><path color="#402cb8" d="M405.5 349.8l2.8 1.7-2.2-0.6-2.7-1.4z"/><path color="#5d59e4" d="M313.1 326.7l2.7 1.5-2.1 6.7-2.8-1z"/><path color="#4c3fd3" d="M388 334.9l2.8 5.6-2.2 1.1-2.7-4.7z"/><path color="#4230c4" d="M295.6 343.6l2.7-0.4-2.1 3.1-2.8 0.6z"/><path color="#6b72f4" d="M370.5 313.2l2.8 8.9-2.2 4.8-2.7-7.8z"/><path color="#7285fb" d="M353 300l2.8 8.5-2.2 8.2-2.7-7.1z"/><path color="#6f7ff9" d="M335.5 304.8l2.8 5.1-2.2 9-2.7-4.3z"/><path color="#402ab4" d="M410.4 352.2l2.8 1.1-2.2-0.9-2.7-0.9z"/><path color="#6466ef" d="M318 320.2l2.8 2.2-2.2 7.6-2.8-1.8z"/><path color="#4332cb" d="M392.9 339.3l2.8 4.6-2.2 0.5-2.7-3.9z"/><path color="#4434cd" d="M300.5 338.6l2.8 0-2.2 4.4-2.8 0.2z"/><path color="#676bf2" d="M375.4 317.3l2.8 8.7-2.2 3.8-2.7-7.7z"/><path color="#402bb6" d="M283 351.5l2.8-0.9-2.2 1-2.8 1z"/><path color="#7185fc" d="M357.9 299.4l2.8 9.3-2.2 7.6-2.7-7.8z"/><path color="#7185fc" d="M340.4 299.6l2.8 6-2.2 9.5-2.7-5.2z"/><path color="#3f29b1" d="M415.4 354.2l2.7 0.5-2.1-1-2.8-0.4z"/><path color="#6971f5" d="M322.9 313.5l2.8 3-2.2 8.3-2.7-2.4z"/><path color="#4230c4" d="M397.9 343.3l2.7 3.7-2.1 0.1-2.8-3.2z"/><path color="#5249db" d="M305.4 332.4l2.8 0.6-2.2 5.9-2.7-0.3z"/><path color="#6161eb" d="M380.4 322l2.7 8.3-2.1 2.9-2.8-7.2z"/><path color="#412dbc" d="M287.9 348.4l2.8-0.8-2.2 2.1-2.7 0.9z"/><path color="#7083fb" d="M362.8 300.3l2.8 10-2.2 6.9-2.7-8.5z"/><path color="#708bfd" d="M345.3 295l2.8 7.2-2.2 9.7-2.7-6.3z"/><path color="#6c7bf9" d="M327.8 306.8l2.8 3.8-2.2 9.1-2.7-3.2z"/><path color="#412ebe" d="M402.8 347l2.7 2.8-2.1-0.3-2.8-2.5z"/><path color="#5c5ae7" d="M310.3 325.5l2.8 1.2-2.2 7.2-2.7-0.9z"/><path color="#5954e3" d="M385.3 327.3l2.7 7.6-2.1 2-2.8-6.6z"/><path color="#4230c4" d="M292.8 344.2l2.8-0.6-2.2 3.3-2.7 0.7z"/><path color="#6d7ffa" d="M367.8 303l2.7 10.2-2.1 5.9-2.8-8.8z"/><path color="#6d8ffd" d="M350.3 291.6l2.7 8.4-2.1 9.6-2.8-7.4z"/><path color="#6e83fc" d="M332.8 300.3l2.7 4.5-2.1 9.8-2.8-4z"/><path color="#412cb9" d="M407.7 350.2l2.7 2-2.1-0.7-2.8-1.7z"/><path color="#6368f3" d="M315.2 318.3l2.8 1.9-2.2 8-2.7-1.5z"/><path color="#4d44d9" d="M390.2 332.8l2.7 6.5-2.1 1.2-2.8-5.6z"/><path color="#4435cf" d="M297.7 338.7l2.8-0.1-2.2 4.6-2.7 0.4z"/><path color="#6a78f8" d="M372.7 307.2l2.7 10.1-2.1 4.8-2.8-8.9z"/><path color="#402bb6" d="M280.2 352.6l2.8-1.1-2.2 1.1-2.7 1z"/><path color="#6c91fd" d="M355.2 289.7l2.7 9.7-2.1 9.1-2.8-8.5z"/><path color="#6c8cfd" d="M337.7 293.9l2.7 5.7-2.1 10.3-2.8-5.1z"/><path color="#402bb5" d="M412.6 352.9l2.8 1.3-2.2-0.9-2.8-1.1z"/><path color="#6773f7" d="M320.2 311l2.7 2.5-2.1 8.9-2.8-2.2z"/><path color="#4435cf" d="M395.1 338l2.8 5.3-2.2 0.6-2.8-4.6z"/><path color="#5048dd" d="M302.7 332l2.7 0.4-2.1 6.2-2.8 0z"/><path color="#6670f5" d="M377.6 312.4l2.8 9.6-2.2 4-2.8-8.7z"/><path color="#412dbc" d="M285.1 349.4l2.7-1-2.1 2.2-2.8 0.9z"/><path color="#6b90fd" d="M360.1 289.8l2.7 10.5-2.1 8.4-2.8-9.3z"/><path color="#6993fd" d="M342.6 287.9l2.7 7.1-2.1 10.6-2.8-6z"/><path color="#3f2ab2" d="M417.5 355.1l2.8 0.6-2.2-1-2.7-0.5z"/><path color="#6a7efb" d="M325.1 303.6l2.7 3.2-2.1 9.7-2.8-3z"/><path color="#4331c7" d="M400 342.8l2.8 4.2-2.2 0-2.7-3.7z"/><path color="#5a5aea" d="M307.6 324.6l2.7 0.9-2.1 7.5-2.8-0.6z"/><path color="#6065f2" d="M382.5 318.3l2.8 9-2.2 3-2.7-8.3z"/><path color="#4230c5" d="M290.1 345l2.7-0.8-2.1 3.4-2.8 0.8z"/><path color="#6a8dfd" d="M365 291.9l2.8 11.1-2.2 7.3-2.8-10z"/><path color="#6699fd" d="M347.5 282.9l2.8 8.7-2.2 10.6-2.8-7.2z"/><path color="#6988fd" d="M330 296.2l2.8 4.1-2.2 10.3-2.8-3.8z"/><path color="#422fc1" d="M404.9 347l2.8 3.2-2.2-0.4-2.7-2.8z"/><path color="#6068f4" d="M312.5 316.8l2.7 1.5-2.1 8.4-2.8-1.2z"/><path color="#5857e9" d="M387.4 324.5l2.8 8.3-2.2 2.1-2.7-7.6z"/><path color="#4435d0" d="M295 339.2l2.7-0.5-2.1 4.9-2.8 0.6z"/><path color="#6986fd" d="M369.9 295.8l2.8 11.4-2.2 6-2.7-10.2z"/><path color="#402bb6" d="M277.5 353.7l2.7-1.1-2.1 1-2.8 1.1z"/><path color="#649cfd" d="M352.4 279.6l2.8 10.1-2.2 10.3-2.7-8.4z"/><path color="#6592fd" d="M334.9 288.6l2.8 5.3-2.2 10.9-2.7-4.5z"/><path color="#412dbb" d="M409.8 350.6l2.8 2.3-2.2-0.7-2.7-2z"/><path color="#6475f9" d="M317.4 308.8l2.8 2.2-2.2 9.2-2.8-1.9z"/><path color="#4d46de" d="M392.3 330.8l2.8 7.2-2.2 1.3-2.7-6.5z"/><path color="#4d46de" d="M299.9 331.9l2.8 0.1-2.2 6.6-2.8 0.1z"/><path color="#687efc" d="M374.8 301.3l2.8 11.1-2.2 4.9-2.7-10.1z"/><path color="#412dbc" d="M282.4 350.5l2.8-1.1-2.2 2.1-2.8 1.1z"/><path color="#629dfc" d="M357.3 278.4l2.8 11.4-2.2 9.6-2.7-9.7z"/><path color="#619bfd" d="M339.8 281.1l2.8 6.8-2.2 11.7-2.7-5.7z"/><path color="#402bb6" d="M414.8 353.6l2.7 1.5-2.1-0.9-2.8-1.3z"/><path color="#6780fd" d="M322.3 300.9l2.8 2.7-2.2 9.9-2.7-2.5z"/><path color="#4438d3" d="M397.2 336.9l2.8 5.9-2.1 0.5-2.8-5.3z"/><path color="#5759ed" d="M304.8 324l2.8 0.6-2.2 7.8-2.7-0.4z"/><path color="#6373f9" d="M379.7 307.7l2.8 10.6-2.1 3.7-2.8-9.6z"/><path color="#4230c5" d="M287.3 345.9l2.8-0.9-2.2 3.4-2.7 1z"/><path color="#619bfc" d="M362.2 279.6l2.8 12.3-2.2 8.4-2.7-10.5z"/><path color="#5ea1f9" d="M344.7 274.4l2.8 8.5-2.2 12.1-2.7-7.1z"/><path color="#3f2ab3" d="M419.7 356l2.7 0.8-2.1-1.1-2.8-0.6z"/><path color="#638cfd" d="M327.2 292.6l2.8 3.6-2.2 10.6-2.7-3.2z"/><path color="#4332cb" d="M402.2 342.4l2.7 4.6-2.1 0-2.8-4.2z"/><path color="#5d68f5" d="M309.7 315.6l2.8 1.2-2.2 8.7-2.7-0.9z"/><path color="#5d67f5" d="M384.7 314.8l2.7 9.7-2.1 2.8-2.8-9z"/><path color="#4436d0" d="M292.2 339.9l2.8-0.7-2.2 5-2.7 0.8z"/><path color="#6096fd" d="M367.2 283.3l2.7 12.5-2.1 7.2-2.8-11.1z"/><path color="#402bb5" d="M274.7 355l2.8-1.3-2.2 1-2.7 1.2z"/><path color="#5ca6f7" d="M349.6 269.2l2.8 10.4-2.1 12-2.8-8.7z"/><path color="#5e97fd" d="M332.1 283.8l2.8 4.8-2.1 11.7-2.8-4.1z"/><path color="#4230c3" d="M407.1 347.1l2.7 3.5-2.1-0.4-2.8-3.2z"/><path color="#6175fa" d="M314.6 307.2l2.8 1.6-2.2 9.5-2.7-1.5z"/><path color="#5559ef" d="M389.6 322l2.7 8.8-2.1 2-2.8-8.3z"/><path color="#4a44df" d="M297.1 332.2l2.8-0.3-2.2 6.8-2.7 0.5z"/><path color="#608efd" d="M372.1 289l2.7 12.3-2.1 5.9-2.8-11.4z"/><path color="#412dbc" d="M279.6 351.7l2.8-1.2-2.2 2.1-2.7 1.1z"/><path color="#59a8f5" d="M354.6 266.3l2.7 12.1-2.1 11.3-2.8-10.1z"/><path color="#5aa0f8" d="M337.1 274.9l2.7 6.2-2.1 12.8-2.8-5.3z"/><path color="#412dbc" d="M412 351.1l2.8 2.5-2.2-0.7-2.8-2.3z"/><path color="#6182fd" d="M319.6 298.6l2.7 2.3-2.1 10.1-2.8-2.2z"/><path color="#4b47e3" d="M394.5 329l2.7 7.9-2.1 1.1-2.8-7.2z"/><path color="#5457ef" d="M302 323.8l2.8 0.2-2.1 8-2.8-0.1z"/><path color="#6083fd" d="M377 295.9l2.7 11.8-2.1 4.7-2.8-11.1z"/><path color="#4230c5" d="M284.5 347.1l2.8-1.2-2.1 3.5-2.8 1.1z"/><path color="#58a7f5" d="M359.5 266.3l2.7 13.3-2.1 10.2-2.8-11.4z"/><path color="#57a8f4" d="M342 266.4l2.7 8-2.1 13.5-2.8-6.8z"/><path color="#402bb7" d="M416.9 354.4l2.8 1.6-2.2-0.9-2.7-1.5z"/><path color="#5c8ffd" d="M324.5 289.5l2.7 3.1-2.1 11-2.8-2.7z"/><path color="#453bd7" d="M399.4 335.8l2.8 6.6-2.2 0.4-2.8-5.9z"/><path color="#5a67f6" d="M307 314.9l2.7 0.7-2.1 9-2.8-0.6z"/><path color="#5f76fc" d="M381.9 303.6l2.8 11.2-2.2 3.5-2.8-10.6z"/><path color="#4436d1" d="M289.5 340.8l2.7-0.9-2.1 5.1-2.8 0.9z"/><path color="#57a4f6" d="M364.4 269.3l2.8 14-2.2 8.6-2.8-12.3z"/><path color="#402bb5" d="M272 356.3l2.7-1.3-2.1 0.9-2.8 1.1z"/><path color="#55adf1" d="M346.9 259.2l2.7 10-2.1 13.7-2.8-8.5z"/><path color="#402ab3" d="M421.8 357l2.8 0.9-2.2-1.1-2.7-0.8z"/><path color="#589bfa" d="M329.4 279.8l2.7 4-2.1 12.4-2.8-3.6z"/><path color="#4434ce" d="M404.3 342l2.8 5.1-2.2-0.1-2.7-4.6z"/><path color="#5e75fc" d="M311.9 306l2.7 1.2-2.1 9.6-2.8-1.2z"/><path color="#5968f7" d="M386.8 311.7l2.8 10.3-2.2 2.5-2.7-9.7z"/><path color="#4640df" d="M294.4 332.8l2.7-0.6-2.1 7-2.8 0.7z"/><path color="#569df8" d="M369.3 274.9l2.8 14.1-2.2 6.8-2.7-12.5z"/><path color="#412dbb" d="M276.9 353.1l2.7-1.4-2.1 2-2.8 1.3z"/><path color="#53b1ee" d="M351.8 254.2l2.8 12.1-2.2 13.3-2.8-10.4z"/><path color="#53a5f4" d="M334.3 269.6l2.8 5.3-2.2 13.7-2.8-4.8z"/><path color="#4230c5" d="M409.2 347.3l2.8 3.8-2.2-0.5-2.7-3.5z"/><path color="#5b84fd" d="M316.8 296.9l2.8 1.7-2.2 10.2-2.8-1.6z"/><path color="#5259f2" d="M391.7 319.7l2.8 9.3-2.2 1.8-2.7-8.8z"/><path color="#5054f0" d="M299.3 324l2.7-0.2-2.1 8.1-2.8 0.3z"/><path color="#5594fc" d="M374.2 282.5l2.8 13.4-2.2 5.4-2.7-12.3z"/><path color="#4230c4" d="M281.8 348.5l2.7-1.4-2.1 3.4-2.8 1.2z"/><path color="#51b1ed" d="M356.7 252.4l2.8 13.9-2.2 12.1-2.7-12.1z"/><path color="#50adf0" d="M339.2 259.4l2.8 7-2.2 14.7-2.7-6.2z"/><path color="#412ebe" d="M414.1 351.7l2.7 2.7-2.1-0.8-2.8-2.5z"/><path color="#5692fd" d="M321.7 287.1l2.8 2.4-2.2 11.4-2.7-2.3z"/><path color="#4747e8" d="M396.6 327.5l2.8 8.3-2.2 1.1-2.7-7.9z"/><path color="#5665f7" d="M304.2 314.6l2.8 0.3-2.2 9.1-2.8-0.2z"/><path color="#5687fd" d="M379.1 291.2l2.8 12.4-2.2 4.1-2.7-11.8z"/><path color="#4436d0" d="M286.7 342.1l2.8-1.3-2.2 5.1-2.8 1.2z"/><path color="#4fb0ee" d="M361.6 254.1l2.8 15.2-2.2 10.3-2.7-13.3z"/><path color="#402ab4" d="M269.2 357.7l2.8-1.4-2.2 0.7-2.8 1.3z"/><path color="#4eb3eb" d="M344.1 250l2.8 9.2-2.2 15.2-2.7-8z"/><path color="#402cb8" d="M419.1 355.3l2.7 1.7-2.1-1-2.8-1.6z"/><path color="#519df7" d="M326.6 276.6l2.8 3.2-2.2 12.8-2.7-3.1z"/><path color="#453edb" d="M401.6 334.9l2.7 7.1-2.1 0.4-2.8-6.6z"/><path color="#5a74fd" d="M309.1 305.3l2.8 0.7-2.2 9.6-2.7-0.7z"/><path color="#5778fd" d="M384.1 300.2l2.7 11.5-2.1 3.1-2.8-11.2z"/><path color="#4640df" d="M291.6 333.8l2.8-1-2.2 7.1-2.7 0.9z"/><path color="#4dabf0" d="M366.6 259.3l2.7 15.6-2.1 8.4-2.8-14z"/><path color="#412dba" d="M274.1 354.6l2.8-1.5-2.2 1.9-2.7 1.3z"/><path color="#4cb8e7" d="M349 242.7l2.8 11.5-2.2 15-2.7-10z"/><path color="#402ab3" d="M424 358.1l2.7 0.9-2.1-1.1-2.8-0.9z"/><path color="#4ca8f1" d="M331.5 265.3l2.8 4.3-2.2 14.2-2.7-4z"/><path color="#4436d0" d="M406.5 341.8l2.7 5.5-2.1-0.2-2.8-5.1z"/><path color="#5584fd" d="M314 295.6l2.8 1.3-2.2 10.3-2.7-1.2z"/><path color="#5368fa" d="M389 309.1l2.7 10.6-2.1 2.3-2.8-10.3z"/><path color="#4b50f0" d="M296.5 324.6l2.8-0.6-2.2 8.2-2.7 0.6z"/><path color="#4ba3f3" d="M371.5 267.2l2.7 15.3-2.1 6.5-2.8-14.1z"/><path color="#4230c3" d="M279 350l2.8-1.5-2.2 3.2-2.7 1.4z"/><path color="#4bbae4" d="M354 238.6l2.7 13.8-2.1 13.9-2.8-12.1z"/><path color="#4ab0eb" d="M336.5 253.7l2.7 5.7-2.1 15.5-2.8-5.3z"/><path color="#4331c7" d="M411.4 347.7l2.8 4-2.2-0.6-2.8-3.8z"/><path color="#4f92fb" d="M318.9 285.3l2.7 1.8-2.1 11.5-2.8-1.7z"/><path color="#4c58f4" d="M393.9 317.9l2.7 9.6-2.1 1.5-2.8-9.3z"/><path color="#5163f7" d="M301.4 314.7l2.8-0.1-2.2 9.2-2.7 0.2z"/><path color="#4a97f7" d="M376.4 276.9l2.7 14.3-2.1 4.7-2.8-13.4z"/><path color="#4435d0" d="M283.9 343.7l2.8-1.6-2.2 5-2.7 1.4z"/><path color="#49bae4" d="M358.9 238.6l2.7 15.5-2.1 12.2-2.8-13.9z"/><path color="#402ab3" d="M266.4 359.1l2.8-1.4-2.2 0.6-2.7 1.2z"/><path color="#48b8e5" d="M341.4 242.2l2.7 7.8-2.1 16.4-2.8-7z"/><path color="#412ebf" d="M416.3 352.4l2.8 2.9-2.2-0.9-2.7-2.7z"/><path color="#499ef4" d="M323.9 274.3l2.7 2.3-2.1 12.9-2.8-2.4z"/><path color="#474aec" d="M398.8 326.4l2.8 8.5-2.2 0.9-2.8-8.3z"/><path color="#5473fd" d="M306.4 305l2.7 0.3-2.1 9.6-2.8-0.3z"/><path color="#4a8afd" d="M381.3 287.2l2.8 13-2.2 3.4-2.8-12.4z"/><path color="#4640df" d="M288.9 335.2l2.7-1.4-2.1 7-2.8 1.3z"/><path color="#46b6e6" d="M363.8 242.8l2.8 16.5-2.2 10-2.8-15.2z"/><path color="#412cb9" d="M271.3 356.2l2.8-1.6-2.1 1.7-2.8 1.4z"/><path color="#46bedf" d="M346.3 232.2l2.7 10.5-2.1 16.5-2.8-9.2z"/><path color="#402cb8" d="M421.2 356.3l2.8 1.8-2.2-1.1-2.7-1.7z"/><path color="#45a9ee" d="M328.8 262.3l2.7 3-2.1 14.5-2.8-3.2z"/><path color="#4640df" d="M403.7 334.4l2.8 7.4-2.2 0.2-2.7-7.1z"/><path color="#4f84fd" d="M311.3 294.9l2.7 0.7-2.1 10.4-2.8-0.7z"/><path color="#4c79fd" d="M386.2 297.5l2.8 11.6-2.2 2.6-2.7-11.5z"/><path color="#484df0" d="M293.8 325.6l2.7-1-2.1 8.2-2.8 1z"/><path color="#43b0e9" d="M368.7 250.6l2.8 16.6-2.2 7.7-2.7-15.6z"/><path color="#422fc2" d="M276.3 351.7l2.7-1.7-2.1 3.1-2.8 1.5z"/><path color="#45c2da" d="M351.2 225.3l2.8 13.3-2.2 15.6-2.8-11.5z"/><path color="#402ab4" d="M426.1 359.3l2.8 0.9-2.2-1.2-2.7-0.9z"/><path color="#42b3e7" d="M333.7 249.3l2.8 4.4-2.2 15.9-2.8-4.3z"/><path color="#4437d3" d="M408.6 341.8l2.8 5.9-2.2-0.4-2.7-5.5z"/><path color="#4992f9" d="M316.2 284.2l2.8 1.1-2.2 11.6-2.8-1.3z"/><path color="#4c67fc" d="M391.1 307.2l2.8 10.7-2.2 1.8-2.7-10.6z"/><path color="#4d5ff7" d="M298.7 315.3l2.7-0.6-2.1 9.3-2.8 0.6z"/><path color="#40a6ee" d="M373.6 260.8l2.8 16.1-2.2 5.6-2.7-15.3z"/><path color="#4434ce" d="M281.2 345.5l2.7-1.8-2.1 4.8-2.8 1.5z"/><path color="#44c3d7" d="M356.1 222.9l2.8 15.7-2.2 13.8-2.7-13.8z"/><path color="#3f2ab3" d="M263.7 360.5l2.7-1.4-2.1 0.4-2.8 1.3z"/><path color="#40bcde" d="M338.6 235.7l2.8 6.5-2.2 17.2-2.7-5.7z"/><path color="#4331c8" d="M413.5 348.2l2.8 4.2-2.1-0.7-2.8-4z"/><path color="#429ff2" d="M321.1 272.9l2.8 1.4-2.2 12.8-2.7-1.8z"/><path color="#4757f6" d="M396 316.5l2.8 9.9-2.2 1.1-2.7-9.6z"/><path color="#4f71fd" d="M303.6 305.2l2.8-0.2-2.2 9.6-2.8 0.1z"/><path color="#3d99f3" d="M378.5 272.4l2.8 14.8-2.2 4-2.7-14.3z"/><path color="#463fde" d="M286.1 336.9l2.8-1.7-2.2 6.9-2.8 1.6z"/><path color="#41c1d8" d="M361 225.5l2.8 17.3-2.2 11.3-2.7-15.5z"/><path color="#402cb8" d="M268.6 357.8l2.7-1.6-2.1 1.5-2.8 1.4z"/><path color="#42c3d5" d="M343.5 223l2.8 9.2-2.2 17.8-2.7-7.8z"/><path color="#422ec0" d="M418.5 353.3l2.7 3-2.1-1-2.8-2.9z"/><path color="#3ea9eb" d="M326 260.4l2.8 1.9-2.2 14.3-2.7-2.3z"/><path color="#484df0" d="M401 325.6l2.7 8.8-2.1 0.5-2.8-8.5z"/><path color="#4982fd" d="M308.5 294.6l2.8 0.3-2.2 10.4-2.7-0.3z"/><path color="#3e8afa" d="M383.4 284.1l2.8 13.4-2.1 2.7-2.8-13z"/><path color="#484df0" d="M291 327.1l2.8-1.5-2.2 8.2-2.7 1.4z"/><path color="#3bbcdc" d="M365.9 232.8l2.8 17.8-2.1 8.7-2.8-16.5z"/><path color="#422fc1" d="M273.5 353.5l2.8-1.8-2.2 2.9-2.8 1.6z"/><path color="#45c7ce" d="M348.4 213l2.8 12.3-2.2 17.4-2.7-10.5z"/><path color="#402cb9" d="M423.4 357.4l2.7 1.9-2.1-1.2-2.8-1.8z"/><path color="#3ab3e3" d="M330.9 246.3l2.8 3-2.2 16-2.7-3z"/><path color="#4642e2" d="M405.9 334.1l2.7 7.7-2.1 0-2.8-7.4z"/><path color="#4291f8" d="M313.4 283.6l2.8 0.6-2.2 11.4-2.7-0.7z"/><path color="#4078fd" d="M388.4 295.4l2.7 11.8-2.1 1.9-2.8-11.6z"/><path color="#475af7" d="M295.9 316.4l2.8-1.1-2.2 9.3-2.7 1z"/><path color="#37b2e2" d="M370.9 243.5l2.7 17.3-2.1 6.4-2.8-16.6z"/><path color="#4433cd" d="M278.4 347.5l2.8-2-2.2 4.5-2.7 1.7z"/><path color="#4acac8" d="M353.4 207.6l2.7 15.3-2.1 15.7-2.8-13.3z"/><path color="#3f2ab2" d="M260.9 361.9l2.8-1.4-2.2 0.3-2.7 1.3z"/><path color="#402ab4" d="M428.3 360.5l2.7 0.9-2.1-1.2-2.8-0.9z"/><path color="#39bed8" d="M335.8 231l2.8 4.7-2.1 18-2.8-4.4z"/><path color="#4539d5" d="M410.8 342.1l2.7 6.1-2.1-0.5-2.8-5.9z"/><path color="#3a9ef0" d="M318.3 272.2l2.8 0.7-2.1 12.4-2.8-1.1z"/><path color="#4466fc" d="M393.3 305.9l2.7 10.6-2.1 1.4-2.8-10.7z"/><path color="#496dfd" d="M300.8 305.8l2.8-0.6-2.2 9.5-2.7 0.6z"/><path color="#32a6e9" d="M375.8 256.1l2.7 16.3-2.1 4.5-2.8-16.1z"/><path color="#453edc" d="M283.3 339l2.8-2.1-2.2 6.8-2.7 1.8z"/><path color="#48c9c7" d="M358.3 207.9l2.7 17.6-2.1 13.1-2.8-15.7z"/><path color="#402bb7" d="M265.8 359.5l2.8-1.7-2.2 1.3-2.7 1.4z"/><path color="#3ec5cc" d="M340.8 215.7l2.7 7.3-2.1 19.2-2.8-6.5z"/><path color="#4332c9" d="M415.7 348.9l2.8 4.4-2.2-0.9-2.8-4.2z"/><path color="#35a8e9" d="M323.3 259.5l2.7 0.9-2.1 13.9-2.8-1.4z"/><path color="#475af7" d="M398.2 315.6l2.8 10-2.2 0.8-2.8-9.9z"/><path color="#4381fd" d="M305.8 294.8l2.7-0.2-2.1 10.4-2.8 0.2z"/><path color="#2f99ef" d="M380.7 269.2l2.7 14.9-2.1 3.1-2.8-14.8z"/><path color="#484cef" d="M288.2 329l2.8-1.9-2.1 8.1-2.8 1.7z"/><path color="#3cc5cb" d="M363.2 213.9l2.7 18.9-2.1 10-2.8-17.3z"/><path color="#412ebf" d="M270.7 355.4l2.8-1.9-2.2 2.7-2.7 1.6z"/><path color="#50ccbe" d="M345.7 202.4l2.7 10.6-2.1 19.2-2.8-9.2z"/><path color="#422fc0" d="M420.6 354.3l2.8 3.1-2.2-1.1-2.7-3z"/><path color="#31b3df" d="M328.2 244.7l2.7 1.6-2.1 16-2.8-1.9z"/><path color="#484ff1" d="M403.1 325.2l2.8 8.9-2.2 0.3-2.7-8.8z"/><path color="#3c90f7" d="M310.7 283.6l2.7 0-2.1 11.3-2.8-0.3z"/><path color="#3088f7" d="M385.6 282l2.8 13.4-2.2 2.1-2.8-13.4z"/><path color="#475af7" d="M293.2 318l2.7-1.6-2.1 9.2-2.8 1.5z"/><path color="#32bed1" d="M368.1 224.7l2.8 18.8-2.2 7.1-2.8-17.8z"/><path color="#4332cb" d="M275.7 349.6l2.7-2.1-2.1 4.2-2.8 1.8z"/><path color="#5ed0b4" d="M350.6 193.5l2.8 14.1-2.2 17.7-2.8-12.3z"/><path color="#3f29b1" d="M258.2 363.4l2.7-1.5-2.1 0.2-2.8 1.2z"/><path color="#402cb9" d="M425.5 358.6l2.8 1.9-2.2-1.2-2.7-1.9z"/><path color="#32bdd2" d="M333.1 228.1l2.7 2.9-2.1 18.3-2.8-3z"/><path color="#4644e4" d="M408 334.2l2.8 7.9-2.2-0.3-2.7-7.7z"/><path color="#349cef" d="M315.6 272.2l2.7 0-2.1 12-2.8-0.6z"/><path color="#3678fc" d="M390.5 294l2.8 11.9-2.2 1.3-2.7-11.8z"/><path color="#4369fc" d="M298.1 306.9l2.7-1.1-2.1 9.5-2.8 1.1z"/><path color="#27b3da" d="M373 238.5l2.8 17.6-2.2 4.7-2.7-17.3z"/><path color="#453dda" d="M280.6 341.3l2.7-2.3-2.1 6.5-2.8 2z"/><path color="#64d1b0" d="M355.5 190.6l2.8 17.3-2.2 15-2.7-15.3z"/><path color="#402bb6" d="M263.1 361.2l2.7-1.7-2.1 1-2.8 1.4z"/><path color="#402ab4" d="M430.4 361.8l2.8 0.9-2.2-1.3-2.7-0.9z"/><path color="#40c7c2" d="M338 210.6l2.8 5.1-2.2 20-2.8-4.7z"/><path color="#453ad6" d="M412.9 342.6l2.8 6.3-2.2-0.7-2.7-6.1z"/><path color="#2da6e7" d="M320.5 259.4l2.8 0.1-2.2 13.4-2.8-0.7z"/><path color="#4269fc" d="M395.4 305.1l2.8 10.5-2.2 0.9-2.7-10.6z"/><path color="#3d7efd" d="M303 295.5l2.8-0.7-2.2 10.4-2.8 0.6z"/><path color="#21a4e3" d="M377.9 253.2l2.8 16-2.2 3.2-2.7-16.3z"/><path color="#474aed" d="M285.5 331.2l2.7-2.2-2.1 7.9-2.8 2.1z"/><path color="#58ceb2" d="M360.4 194.6l2.8 19.3-2.2 11.6-2.7-17.6z"/><path color="#412ebd" d="M268 357.4l2.7-2-2.1 2.4-2.8 1.7z"/><path color="#5dcfaf" d="M342.9 194.2l2.8 8.2-2.2 20.6-2.7-7.3z"/><path color="#4332ca" d="M417.9 349.8l2.7 4.5-2.1-1-2.8-4.4z"/><path color="#27b1dc" d="M325.4 244.4l2.8 0.3-2.2 15.7-2.7-0.9z"/><path color="#475cf9" d="M400.4 315.2l2.7 10-2.1 0.4-2.8-10z"/><path color="#368ef6" d="M307.9 284l2.8-0.4-2.2 11-2.7 0.2z"/><path color="#1e95eb" d="M382.8 267.5l2.8 14.5-2.2 2.1-2.7-14.9z"/><path color="#4759f6" d="M290.4 320l2.8-2-2.2 9.1-2.8 1.9z"/><path color="#42c8ba" d="M365.3 204.8l2.8 19.9-2.2 8.1-2.7-18.9z"/><path color="#4332c9" d="M272.9 351.8l2.8-2.2-2.2 3.9-2.8 1.9z"/><path color="#7ad4a0" d="M347.8 181.4l2.8 12.1-2.2 19.5-2.7-10.6z"/><path color="#3f29b0" d="M255.4 364.8l2.8-1.4-2.2-0.1-2.8 1.3z"/><path color="#422fc0" d="M422.8 355.5l2.7 3.1-2.1-1.2-2.8-3.1z"/><path color="#29bccd" d="M330.3 227.1l2.8 1-2.2 18.2-2.7-1.6z"/><path color="#4751f2" d="M405.3 325.2l2.7 9-2.1-0.1-2.8-8.9z"/><path color="#2d9aee" d="M312.8 272.6l2.8-0.4-2.2 11.4-2.7 0z"/><path color="#2788f4" d="M387.8 280.9l2.7 13.1-2.1 1.4-2.8-13.4z"/><path color="#4368fc" d="M295.3 308.6l2.8-1.7-2.2 9.5-2.7 1.6z"/><path color="#25bdc6" d="M370.3 219.2l2.7 19.3-2.1 5-2.8-18.8z"/><path color="#453bd7" d="M277.8 343.9l2.8-2.6-2.2 6.2-2.7 2.1z"/><path color="#89d598" d="M352.8 174.8l2.7 15.8-2.1 17-2.8-14.1z"/><path color="#402bb4" d="M260.3 362.8l2.8-1.6-2.2 0.7-2.7 1.5z"/><path color="#402cb9" d="M427.7 359.9l2.7 1.9-2.1-1.3-2.8-1.9z"/><path color="#3ec7b8" d="M335.2 207.9l2.8 2.7-2.2 20.4-2.7-2.9z"/><path color="#4745e6" d="M410.2 334.6l2.7 8-2.1-0.5-2.8-7.9z"/><path color="#26a4e6" d="M317.7 259.9l2.8-0.5-2.2 12.8-2.7 0z"/><path color="#337bfc" d="M392.7 293.4l2.7 11.7-2.1 0.8-2.8-11.9z"/><path color="#3679fc" d="M300.2 296.7l2.8-1.2-2.2 10.3-2.7 1.1z"/><path color="#12b0d2" d="M375.2 235.6l2.7 17.6-2.1 2.9-2.8-17.6z"/><path color="#4748ea" d="M282.7 333.7l2.8-2.5-2.2 7.8-2.7 2.3z"/><path color="#86d496" d="M357.7 175.8l2.7 18.8-2.1 13.3-2.8-17.3z"/><path color="#412dbb" d="M265.2 359.5l2.8-2.1-2.2 2.1-2.7 1.7z"/><path color="#402ab4" d="M432.6 363.1l2.8 0.9-2.2-1.3-2.8-0.9z"/><path color="#69d0a1" d="M340.2 188.7l2.7 5.5-2.1 21.5-2.8-5.1z"/><path color="#453bd7" d="M415.1 343.4l2.8 6.4-2.2-0.9-2.8-6.3z"/><path color="#1dafd9" d="M322.7 245.2l2.7-0.8-2.1 15.1-2.8-0.1z"/><path color="#406cfc" d="M397.6 304.8l2.8 10.4-2.2 0.4-2.8-10.5z"/><path color="#2f8bf5" d="M305.1 284.9l2.7-0.9-2.1 10.8-2.8 0.7z"/><path color="#11a2de" d="M380.1 252l2.7 15.5-2.1 1.7-2.8-16z"/><path color="#4757f6" d="M287.6 322.4l2.8-2.4-2.2 9-2.7 2.2z"/><path color="#6ed19b" d="M362.6 184.4l2.7 20.4-2.1 9.1-2.8-19.3z"/><path color="#4331c6" d="M270.1 354.2l2.8-2.4-2.2 3.6-2.7 2z"/><path color="#92d38e" d="M345.1 172l2.7 9.4-2.1 21-2.8-8.2z"/><path color="#3f29af" d="M252.6 366.2l2.8-1.4-2.2-0.2-2.7 1.3z"/><path color="#4332cb" d="M420 351l2.8 4.5-2.2-1.2-2.7-4.5z"/><path color="#1db9c8" d="M327.6 227.7l2.7-0.6-2.1 17.6-2.8-0.3z"/><path color="#475efa" d="M402.5 315.3l2.8 9.9-2.2 0-2.7-10z"/><path color="#2798ed" d="M310.1 273.4l2.7-0.8-2.1 11-2.8 0.4z"/><path color="#1b96e9" d="M385 267.1l2.8 13.8-2.2 1.1-2.8-14.5z"/><path color="#4466fc" d="M292.6 310.8l2.7-2.2-2.1 9.4-2.8 2z"/><path color="#43c8a7" d="M367.5 198.7l2.8 20.5-2.2 5.5-2.8-19.9z"/><path color="#4539d5" d="M275.1 346.6l2.7-2.7-2.1 5.7-2.8 2.2z"/><path color="#aed383" d="M350 161.2l2.8 13.6-2.2 18.7-2.8-12.1z"/><path color="#402ab3" d="M257.5 364.5l2.8-1.7-2.1 0.6-2.8 1.4z"/><path color="#422fc0" d="M424.9 356.8l2.8 3.1-2.2-1.3-2.7-3.1z"/><path color="#37c5b0" d="M332.5 207.5l2.7 0.4-2.1 20.2-2.8-1z"/><path color="#4752f3" d="M407.4 325.6l2.8 9-2.2-0.4-2.7-9z"/><path color="#1fa2e5" d="M315 261l2.7-1.1-2.1 12.3-2.8 0.4z"/><path color="#258bf3" d="M389.9 280.8l2.8 12.6-2.2 0.6-2.7-13.1z"/><path color="#3678fc" d="M297.5 298.5l2.7-1.8-2.1 10.2-2.8 1.7z"/><path color="#15bab8" d="M372.4 216.4l2.8 19.2-2.2 2.9-2.7-19.3z"/><path color="#4746e7" d="M280 336.5l2.7-2.8-2.1 7.6-2.8 2.6z"/><path color="#b5d27f" d="M354.9 158.3l2.8 17.5-2.2 14.8-2.7-15.8z"/><path color="#412cb9" d="M262.5 361.5l2.7-2-2.1 1.7-2.8 1.6z"/><path color="#402cb9" d="M429.8 361.3l2.8 1.8-2.2-1.3-2.7-1.9z"/><path color="#6dcf94" d="M337.4 186l2.8 2.7-2.2 21.9-2.8-2.7z"/><path color="#4746e7" d="M412.3 335.4l2.8 8-2.2-0.8-2.7-8z"/><path color="#14acd7" d="M319.9 246.7l2.8-1.5-2.2 14.2-2.8 0.5z"/><path color="#327dfb" d="M394.8 293.4l2.8 11.4-2.2 0.3-2.7-11.7z"/><path color="#2987f5" d="M302.4 286.2l2.8-1.3-2.2 10.6-2.8 1.2z"/><path color="#08aecc" d="M377.3 234.9l2.8 17.1-2.2 1.2-2.7-17.6z"/><path color="#4755f5" d="M284.9 325.2l2.7-2.8-2.1 8.8-2.8 2.5z"/><path color="#a5d17e" d="M359.8 164.3l2.8 20.1-2.2 10.2-2.7-18.8z"/><path color="#4230c3" d="M267.4 356.6l2.7-2.4-2.1 3.2-2.8 2.1z"/><path color="#402ab3" d="M434.8 364.6l2.7 0.8-2.1-1.4-2.8-0.9z"/><path color="#a4d07e" d="M342.3 165.9l2.8 6.1-2.2 22.2-2.7-5.5z"/><path color="#3f28ae" d="M249.9 367.6l2.7-1.4-2.1-0.3-2.8 1.3z"/><path color="#453bd8" d="M417.2 344.5l2.8 6.5-2.1-1.2-2.8-6.4z"/><path color="#11b5c5" d="M324.8 229.6l2.8-1.9-2.2 16.7-2.7 0.8z"/><path color="#3e6efc" d="M399.7 305.2l2.8 10.1-2.1-0.1-2.8-10.4z"/><path color="#2195ec" d="M307.3 274.5l2.8-1.1-2.2 10.6-2.7 0.9z"/><path color="#10a3dc" d="M382.2 252.3l2.8 14.8-2.2 0.4-2.7-15.5z"/><path color="#4665fc" d="M289.8 313.3l2.8-2.5-2.2 9.2-2.8 2.4z"/><path color="#7ccd84" d="M364.7 177.8l2.8 20.9-2.2 6.1-2.7-20.4z"/><path color="#4437d1" d="M272.3 349.5l2.8-2.9-2.2 5.2-2.8 2.4z"/><path color="#cbcf73" d="M347.2 150.7l2.8 10.5-2.2 20.2-2.7-9.4z"/><path color="#3f2ab2" d="M254.8 366.1l2.7-1.6-2.1 0.3-2.8 1.4z"/><path color="#4332cb" d="M422.2 352.3l2.7 4.5-2.1-1.3-2.8-4.5z"/><path color="#2ac2a9" d="M329.7 209.2l2.8-1.7-2.2 19.6-2.7 0.6z"/><path color="#4760fa" d="M404.7 316l2.7 9.6-2.1-0.4-2.8-9.9z"/><path color="#1aa0e4" d="M312.2 262.3l2.8-1.3-2.2 11.6-2.7 0.8z"/><path color="#1a98e8" d="M387.2 267.9l2.7 12.9-2.1 0.1-2.8-13.8z"/><path color="#3777fc" d="M294.7 300.8l2.8-2.3-2.2 10.1-2.7 2.2z"/><path color="#3cc492" d="M369.6 196.2l2.8 20.2-2.1 2.8-2.8-20.5z"/><path color="#4644e4" d="M277.2 339.6l2.8-3.1-2.2 7.4-2.7 2.7z"/><path color="#dbce71" d="M352.1 143.3l2.8 15-2.1 16.5-2.8-13.6z"/><path color="#402cb7" d="M259.7 363.5l2.8-2-2.2 1.3-2.8 1.7z"/><path color="#422fc0" d="M427.1 358.3l2.7 3-2.1-1.4-2.8-3.1z"/><path color="#68cc88" d="M334.6 186.3l2.8-0.3-2.2 21.9-2.7-0.4z"/><path color="#4753f3" d="M409.6 326.4l2.7 9-2.1-0.8-2.8-9z"/><path color="#0da9d6" d="M317.1 248.7l2.8-2-2.2 13.2-2.7 1.1z"/><path color="#248cf2" d="M392.1 281.7l2.7 11.7-2.1 0-2.8-12.6z"/><path color="#2986f5" d="M299.6 288.2l2.8-2-2.2 10.5-2.7 1.8z"/><path color="#12b9b1" d="M374.6 216.5l2.7 18.4-2.1 0.7-2.8-19.2z"/><path color="#4753f3" d="M282.1 328.2l2.8-3-2.2 8.5-2.7 2.8z"/><path color="#d7cd6c" d="M357.1 145.6l2.7 18.7-2.1 11.5-2.8-17.5z"/><path color="#422fc1" d="M264.6 359.1l2.8-2.5-2.2 2.9-2.7 2z"/><path color="#402cb8" d="M432 362.9l2.8 1.7-2.2-1.5-2.8-1.8z"/><path color="#adcc70" d="M339.6 163.5l2.7 2.4-2.1 22.8-2.8-2.7z"/><path color="#3f28ae" d="M247.1 368.9l2.8-1.3-2.2-0.4-2.7 1.2z"/><path color="#4747e8" d="M414.5 336.5l2.7 8-2.1-1.1-2.8-8z"/><path color="#08b2c4" d="M322.1 232.4l2.8-2.8-2.1 15.6-2.8 1.5z"/><path color="#317efb" d="M397 294.4l2.7 10.8-2.1-0.4-2.8-11.4z"/><path color="#1e93ec" d="M304.5 276.1l2.8-1.6-2.1 10.4-2.8 1.3z"/><path color="#08afca" d="M379.5 236.2l2.7 16.1-2.1-0.3-2.8-17.1z"/><path color="#4662fc" d="M287 316.1l2.8-2.8-2.2 9.1-2.7 2.8z"/><path color="#bbca66" d="M362 157l2.7 20.8-2.1 6.6-2.8-20.1z"/><path color="#4434ce" d="M269.5 352.5l2.8-3-2.2 4.7-2.7 2.4z"/><path color="#402ab3" d="M436.9 366.1l2.8 0.7-2.2-1.4-2.7-0.8z"/><path color="#ddcb69" d="M344.5 144.2l2.7 6.5-2.1 21.3-2.8-6.1z"/><path color="#3f29b1" d="M252 367.7l2.8-1.6-2.2 0.1-2.7 1.4z"/><path color="#453bd8" d="M419.4 345.9l2.8 6.4-2.2-1.3-2.8-6.5z"/><path color="#1cbda6" d="M327 212.4l2.7-3.2-2.1 18.5-2.8 1.9z"/><path color="#3d6ffc" d="M401.9 306.3l2.8 9.7-2.2-0.7-2.8-10.1z"/><path color="#159de4" d="M309.5 263.9l2.7-1.6-2.1 11.1-2.8 1.1z"/><path color="#0fa4dc" d="M384.4 254.1l2.8 13.8-2.2-0.8-2.8-14.8z"/><path color="#3974fc" d="M292 303.6l2.7-2.8-2.1 10-2.8 2.5z"/><path color="#7cc668" d="M366.9 175.2l2.7 21-2.1 2.5-2.8-20.9z"/><path color="#4641e0" d="M274.4 342.9l2.8-3.3-2.1 7-2.8 2.9z"/><path color="#f2cc6c" d="M349.4 132.1l2.7 11.2-2.1 17.9-2.8-10.5z"/><path color="#402bb6" d="M256.9 365.5l2.8-2-2.2 1-2.7 1.6z"/><path color="#4332ca" d="M424.3 353.9l2.8 4.4-2.2-1.5-2.7-4.5z"/><path color="#5bc87e" d="M331.9 189.2l2.7-2.9-2.1 21.2-2.8 1.7z"/><path color="#4760fb" d="M406.8 317.3l2.8 9.1-2.2-0.8-2.7-9.6z"/><path color="#0ca8d7" d="M314.4 250.9l2.7-2.2-2.1 12.3-2.8 1.3z"/><path color="#1998e8" d="M389.3 270l2.8 11.7-2.2-0.9-2.7-12.9z"/><path color="#2a85f6" d="M296.9 290.6l2.7-2.4-2.1 10.3-2.8 2.3z"/><path color="#3fc48c" d="M371.8 197l2.8 19.5-2.2-0.1-2.8-20.2z"/><path color="#4850f2" d="M279.4 331.5l2.7-3.3-2.1 8.3-2.8 3.1z"/><path color="#f4cc6a" d="M354.3 129.8l2.8 15.8-2.2 12.7-2.8-15z"/><path color="#412ebe" d="M261.9 361.6l2.7-2.5-2.1 2.4-2.8 2z"/><path color="#422ec0" d="M429.2 360l2.8 2.9-2.2-1.6-2.7-3z"/><path color="#aac75f" d="M336.8 164.7l2.8-1.2-2.2 22.5-2.8 0.3z"/><path color="#3f28ad" d="M244.4 370.3l2.7-1.4-2.1-0.5-2.8 1.2z"/><path color="#4753f4" d="M411.7 327.6l2.8 8.9-2.2-1.1-2.7-9z"/><path color="#08b1c5" d="M319.3 235.6l2.7-3.2-2.1 14.3-2.8 2z"/><path color="#248cf1" d="M394.2 283.8l2.8 10.6-2.2-1-2.7-11.7z"/><path color="#1e92ed" d="M301.8 278.2l2.7-2.1-2.1 10.1-2.8 2z"/><path color="#13bab0" d="M376.7 219.1l2.8 17.1-2.2-1.3-2.7-18.4z"/><path color="#4760fa" d="M284.3 319.1l2.7-3-2.1 9.1-2.8 3z"/><path color="#ebc65e" d="M359.2 137.9l2.8 19.1-2.2 7.3-2.7-18.7z"/><path color="#4332ca" d="M266.8 355.5l2.7-3-2.1 4.1-2.8 2.5z"/><path color="#402cb8" d="M434.2 364.5l2.7 1.6-2.1-1.5-2.8-1.7z"/><path color="#e5c65c" d="M341.7 142.1l2.8 2.1-2.2 21.7-2.7-2.4z"/><path color="#3f29b0" d="M249.3 369.3l2.7-1.6-2.1-0.1-2.8 1.3z"/><path color="#4747e8" d="M416.6 337.9l2.8 8-2.2-1.4-2.7-8z"/><path color="#19bca9" d="M324.2 216.8l2.8-4.4-2.2 17.2-2.8 2.8z"/><path color="#317efb" d="M399.1 296.9l2.8 9.4-2.2-1.1-2.7-10.8z"/><path color="#159de4" d="M306.7 265.8l2.8-1.9-2.2 10.6-2.8 1.6z"/><path color="#08afcb" d="M381.6 239.5l2.8 14.6-2.2-1.8-2.7-16.1z"/><path color="#3b72fc" d="M289.2 306.5l2.8-2.9-2.2 9.7-2.8 2.8z"/><path color="#c2c044" d="M364.1 154.7l2.8 20.5-2.2 2.6-2.7-20.8z"/><path color="#453ddb" d="M271.7 346.5l2.7-3.6-2.1 6.6-2.8 3z"/><path color="#3f2ab3" d="M439.1 367.7l2.7 0.6-2.1-1.5-2.8-0.7z"/><path color="#f9ce64" d="M346.6 125.3l2.8 6.8-2.2 18.6-2.7-6.5z"/><path color="#402ab4" d="M254.2 367.4l2.7-1.9-2.1 0.6-2.8 1.6z"/><path color="#453bd7" d="M421.6 347.6l2.7 6.3-2.1-1.6-2.8-6.4z"/><path color="#51c67f" d="M329.1 194.2l2.8-5-2.2 20-2.7 3.2z"/><path color="#3d6ffc" d="M404.1 309l2.7 8.3-2.1-1.3-2.8-9.7z"/><path color="#0ca7d8" d="M311.6 253.2l2.8-2.3-2.2 11.4-2.7 1.6z"/><path color="#10a3dc" d="M386.6 257.8l2.7 12.2-2.1-2.1-2.8-13.8z"/><path color="#2c83f8" d="M294.1 293.4l2.8-2.8-2.2 10.2-2.7 2.8z"/><path color="#82c563" d="M369 176.9l2.8 20.1-2.2-0.8-2.7-21z"/><path color="#484df0" d="M276.6 335.1l2.8-3.6-2.2 8.1-2.8 3.3z"/><path color="#fed467" d="M351.5 118l2.8 11.8-2.2 13.5-2.7-11.2z"/><path color="#412dbb" d="M259.1 364l2.8-2.4-2.2 1.9-2.8 2z"/><path color="#4332c9" d="M426.5 355.7l2.7 4.3-2.1-1.7-2.8-4.4z"/><path color="#9fc354" d="M334 169.1l2.8-4.4-2.2 21.6-2.7 2.9z"/><path color="#3e28ac" d="M241.6 371.6l2.8-1.3-2.2-0.7-2.8 1.2z"/><path color="#4760fb" d="M409 318.8l2.7 8.8-2.1-1.2-2.8-9.1z"/><path color="#08b0c8" d="M316.5 238.9l2.8-3.3-2.2 13.1-2.7 2.2z"/><path color="#1a97e9" d="M391.5 273.9l2.7 9.9-2.1-2.1-2.8-11.7z"/><path color="#1f91ee" d="M299 280.7l2.8-2.5-2.2 10-2.7 2.4z"/><path color="#3ec48d" d="M374 200.9l2.7 18.2-2.1-2.6-2.8-19.5z"/><path color="#475df9" d="M281.5 322.4l2.8-3.3-2.2 9.1-2.7 3.3z"/><path color="#fcce5c" d="M356.5 121.8l2.7 16.1-2.1 7.7-2.8-15.8z"/><path color="#4331c6" d="M264 358.5l2.8-3-2.2 3.6-2.7 2.5z"/><path color="#412ebf" d="M431.4 361.8l2.8 2.7-2.2-1.6-2.8-2.9z"/><path color="#e5bf48" d="M338.9 143.9l2.7-1.8-2.1 21.4-2.8 1.2z"/><path color="#3f29af" d="M246.5 370.7l2.8-1.4-2.2-0.4-2.7 1.4z"/><path color="#4753f4" d="M413.9 328.9l2.7 9-2.1-1.4-2.8-8.9z"/><path color="#15baae" d="M321.4 221.7l2.8-4.9-2.2 15.6-2.7 3.2z"/><path color="#258bf2" d="M396.4 289l2.7 7.9-2.1-2.5-2.8-10.6z"/><path color="#169ce5" d="M303.9 268.2l2.8-2.4-2.2 10.3-2.7 2.1z"/><path color="#10b8b3" d="M378.9 224.1l2.7 15.4-2.1-3.3-2.8-17.1z"/><path color="#3d6ffc" d="M286.4 309.5l2.8-3-2.2 9.6-2.7 3z"/><path color="#f0bc3c" d="M361.4 136l2.7 18.7-2.1 2.3-2.8-19.1z"/><path color="#453ad6" d="M268.9 350.3l2.8-3.8-2.2 6-2.7 3z"/><path color="#402bb7" d="M436.3 366.2l2.8 1.5-2.2-1.6-2.7-1.6z"/><path color="#fdcd56" d="M343.9 122.9l2.7 2.4-2.1 18.9-2.8-2.1z"/><path color="#3f2ab2" d="M251.4 369.2l2.8-1.8-2.2 0.3-2.7 1.6z"/><path color="#4746e7" d="M418.8 339.6l2.8 8-2.2-1.7-2.8-8z"/><path color="#46c587" d="M326.4 200.6l2.7-6.4-2.1 18.2-2.8 4.4z"/><path color="#337cfc" d="M401.3 303.3l2.8 5.7-2.2-2.7-2.8-9.4z"/><path color="#0da6d9" d="M308.9 255.6l2.7-2.4-2.1 10.7-2.8 1.9z"/><path color="#08aece" d="M383.8 245.4l2.8 12.4-2.2-3.7-2.8-14.6z"/><path color="#2e81f9" d="M291.3 296.2l2.8-2.8-2.1 10.2-2.8 2.9z"/><path color="#c6bf42" d="M366.3 157.4l2.7 19.5-2.1-1.7-2.8-20.5z"/><path color="#4749eb" d="M273.8 339.1l2.8-4-2.2 7.8-2.7 3.6z"/><path color="#3f2ab2" d="M441.2 369.3l2.8 0.5-2.2-1.5-2.7-0.6z"/><path color="#fadf5e" d="M348.8 110.5l2.7 7.5-2.1 14.1-2.8-6.8z"/><path color="#402cb8" d="M256.3 366.3l2.8-2.3-2.2 1.5-2.7 1.9z"/><path color="#453ad6" d="M423.7 349.6l2.8 6.1-2.2-1.8-2.7-6.3z"/><path color="#93c45a" d="M331.3 176l2.7-6.9-2.1 20.1-2.8 5z"/><path color="#3e27ac" d="M238.8 372.8l2.8-1.2-2.2-0.8-2.7 1.2z"/><path color="#3e6dfc" d="M406.2 311.8l2.8 7-2.2-1.5-2.7-8.3z"/><path color="#08afca" d="M313.8 242.2l2.7-3.3-2.1 12-2.8 2.3z"/><path color="#12a1df" d="M388.7 264.4l2.8 9.5-2.2-3.9-2.7-12.2z"/><path color="#2090ef" d="M296.3 283.4l2.7-2.7-2.1 9.9-2.8 2.8z"/><path color="#7cc566" d="M371.2 182.4l2.8 18.5-2.2-3.9-2.8-20.1z"/><path color="#475af7" d="M278.8 326.2l2.7-3.8-2.1 9.1-2.8 3.6z"/><path color="#fae059" d="M353.7 109.3l2.8 12.5-2.2 8-2.8-11.8z"/><path color="#422fc3" d="M261.3 361.5l2.7-3-2.1 3.1-2.8 2.4z"/><path color="#4331c8" d="M428.6 357.7l2.8 4.1-2.2-1.8-2.7-4.3z"/><path color="#debc3f" d="M336.2 149.5l2.8-5.6-2.2 20.8-2.8 4.4z"/><path color="#3f28ae" d="M243.8 372.1l2.7-1.4-2.1-0.4-2.8 1.3z"/><path color="#4760fb" d="M411.1 319.8l2.8 9.1-2.2-1.3-2.7-8.8z"/><path color="#10b8b4" d="M318.7 226.6l2.7-4.9-2.1 13.9-2.8 3.3z"/><path color="#1d94ec" d="M393.6 283.3l2.8 5.7-2.2-5.2-2.7-9.9z"/><path color="#179be6" d="M301.2 270.8l2.7-2.6-2.1 10-2.8 2.5z"/><path color="#34c293" d="M376.1 207.9l2.8 16.2-2.2-5-2.7-18.2z"/><path color="#406cfc" d="M283.7 312.9l2.7-3.4-2.1 9.6-2.8 3.3z"/><path color="#fccb34" d="M358.6 119.6l2.8 16.4-2.2 1.9-2.7-16.1z"/><path color="#4437d1" d="M266.2 354.1l2.7-3.8-2.1 5.2-2.8 3z"/><path color="#412ebe" d="M433.5 363.7l2.8 2.5-2.1-1.7-2.8-2.7z"/><path color="#fdc539" d="M341.1 125.5l2.8-2.6-2.2 19.2-2.7 1.8z"/><path color="#3f29b1" d="M248.7 370.9l2.7-1.7-2.1 0.1-2.8 1.4z"/><path color="#4753f3" d="M416 330.6l2.8 9-2.2-1.7-2.7-9z"/><path color="#38c390" d="M323.6 207.7l2.8-7.1-2.2 16.2-2.8 4.9z"/><path color="#398cf7" d="M398.5 303.1l2.8 0.2-2.2-6.4-2.7-7.9z"/><path color="#0ea5da" d="M306.1 258.2l2.8-2.6-2.2 10.2-2.8 2.4z"/><path color="#09b6bb" d="M381 232.4l2.8 13-2.2-5.9-2.7-15.4z"/><path color="#307efb" d="M288.6 299.1l2.7-2.9-2.1 10.3-2.8 3z"/><path color="#f1bd3b" d="M363.5 139.3l2.8 18.1-2.2-2.7-2.7-18.7z"/><path color="#4745e5" d="M271.1 343.4l2.7-4.3-2.1 7.4-2.8 3.8z"/><path color="#402bb6" d="M438.5 368l2.7 1.3-2.1-1.6-2.8-1.5z"/><path color="#f8e24a" d="M346 108.7l2.8 1.8-2.2 14.8-2.7-2.4z"/><path color="#402bb6" d="M253.6 368.5l2.7-2.2-2.1 1.1-2.8 1.8z"/><path color="#4745e6" d="M421 341.7l2.7 7.9-2.1-2-2.8-8z"/><path color="#80c564" d="M328.5 184.5l2.8-8.5-2.2 18.2-2.7 6.4z"/><path color="#3e27ab" d="M236.1 374.1l2.7-1.3-2.1-0.8-2.8 1.2z"/><path color="#3677fc" d="M403.4 309.3l2.8 2.5-2.1-2.8-2.8-5.7z"/><path color="#08aecc" d="M311 245.4l2.8-3.2-2.2 11-2.7 2.4z"/><path color="#09aad4" d="M385.9 255.3l2.8 9.1-2.1-6.6-2.8-12.4z"/><path color="#228ef0" d="M293.5 286l2.8-2.6-2.2 10-2.8 2.8z"/><path color="#bdc046" d="M368.4 164.5l2.8 17.9-2.2-5.5-2.7-19.5z"/><path color="#4756f5" d="M276 330.6l2.8-4.4-2.2 8.9-2.8 4z"/><path color="#3f29b1" d="M443.4 370.9l2.7 0.4-2.1-1.5-2.8-0.5z"/><path color="#f9ee54" d="M350.9 102.4l2.8 6.9-2.2 8.7-2.7-7.5z"/><path color="#412ebf" d="M258.5 364.4l2.8-2.9-2.2 2.5-2.8 2.3z"/><path color="#4539d5" d="M425.9 351.9l2.7 5.8-2.1-2-2.8-6.1z"/><path color="#d0be41" d="M333.4 158.3l2.8-8.8-2.2 19.6-2.7 6.9z"/><path color="#3e28ad" d="M241 373.5l2.8-1.4-2.2-0.5-2.8 1.2z"/><path color="#3e6dfc" d="M408.4 311.5l2.7 8.3-2.1-1-2.8-7z"/><path color="#0bb6b9" d="M315.9 231.2l2.8-4.6-2.2 12.3-2.7 3.3z"/><path color="#1f9ee7" d="M390.9 279.3l2.7 4-2.1-9.4-2.8-9.5z"/><path color="#1899e7" d="M298.4 273.5l2.8-2.7-2.2 9.9-2.7 2.7z"/><path color="#6bc670" d="M373.4 191.5l2.7 16.4-2.1-7-2.8-18.5z"/><path color="#4368fc" d="M280.9 316.7l2.8-3.8-2.2 9.5-2.7 3.8z"/><path color="#f7e229" d="M355.9 107.8l2.8 11.8-2.1 2.2-2.8-12.5z"/><path color="#4433cd" d="M263.4 357.9l2.8-3.8-2.2 4.4-2.7 3z"/><path color="#4331c7" d="M430.8 359.9l2.7 3.8-2.1-1.9-2.8-4.1z"/><path color="#fac237" d="M338.3 133.1l2.8-7.6-2.1 18.4-2.8 5.6z"/><path color="#3f29b0" d="M245.9 372.5l2.8-1.6-2.2-0.2-2.7 1.4z"/><path color="#4760fb" d="M413.3 321l2.7 9.6-2.1-1.7-2.8-9.1z"/><path color="#2ac19a" d="M320.8 214.8l2.8-7.1-2.2 14-2.7 4.9z"/><path color="#4b9bf6" d="M395.8 309.3l2.7-6.2-2.1-14.1-2.8-5.7z"/><path color="#0fa4dc" d="M303.3 261l2.8-2.8-2.2 10-2.7 2.6z"/><path color="#21bfa1" d="M378.3 219l2.7 13.4-2.1-8.3-2.8-16.2z"/><path color="#337cfc" d="M285.8 302.3l2.8-3.2-2.2 10.4-2.7 3.4z"/><path color="#fccb32" d="M360.8 123.9l2.7 15.4-2.1-3.3-2.8-16.4z"/><path color="#4640df" d="M268.3 348l2.8-4.6-2.2 6.9-2.7 3.8z"/><path color="#412dbc" d="M435.7 365.7l2.8 2.3-2.2-1.8-2.8-2.5z"/><path color="#f7dd27" d="M343.3 113.2l2.7-4.5-2.1 14.2-2.8 2.6z"/><path color="#402ab4" d="M250.8 370.6l2.8-2.1-2.2 0.7-2.7 1.7z"/><path color="#4752f3" d="M418.2 332.7l2.8 9-2.2-2.1-2.8-9z"/><path color="#69c671" d="M325.8 194.1l2.7-9.6-2.1 16.1-2.8 7.1z"/><path color="#3e27ab" d="M233.3 375.3l2.8-1.2-2.2-0.9-2.7 1.1z"/><path color="#6a9dfd" d="M400.7 315.9l2.7-6.6-2.1-6-2.8-0.2z"/><path color="#08adce" d="M308.2 248.6l2.8-3.2-2.1 10.2-2.8 2.6z"/><path color="#0ab2c6" d="M383.2 246.2l2.7 9.1-2.1-9.9-2.8-13z"/><path color="#248cf2" d="M290.7 288.4l2.8-2.4-2.2 10.2-2.7 2.9z"/><path color="#edba3d" d="M365.7 147.5l2.7 17-2.1-7.1-2.8-18.1z"/><path color="#4751f2" d="M273.2 335.4l2.8-4.8-2.2 8.5-2.7 4.3z"/><path color="#402bb5" d="M440.6 369.8l2.8 1.1-2.2-1.6-2.7-1.3z"/><path color="#f9f333" d="M348.2 102.3l2.7 0.1-2.1 8.1-2.8-1.8z"/><path color="#412dbc" d="M255.7 367.1l2.8-2.7-2.2 1.9-2.7 2.2z"/><path color="#4644e4" d="M423.1 344.2l2.8 7.7-2.2-2.3-2.7-7.9z"/><path color="#bac047" d="M330.7 169.8l2.7-11.5-2.1 17.7-2.8 8.5z"/><path color="#3e28ac" d="M238.2 374.8l2.8-1.3-2.2-0.7-2.7 1.3z"/><path color="#4481fd" d="M405.6 305.8l2.8 5.7-2.2 0.3-2.8-2.5z"/><path color="#08b5bd" d="M313.2 235.5l2.7-4.3-2.1 11-2.8 3.2z"/><path color="#1aa4e0" d="M388.1 276l2.8 3.3-2.2-14.9-2.8-9.1z"/><path color="#1a98e8" d="M295.7 275.7l2.7-2.2-2.1 9.9-2.8 2.6z"/><path color="#a6c251" d="M370.6 175.5l2.8 16-2.2-9.1-2.8-17.9z"/><path color="#4663fc" d="M278.2 321.1l2.7-4.4-2.1 9.5-2.8 4.4z"/><path color="#3f29b1" d="M445.5 372.5l2.8 0.3-2.2-1.5-2.7-0.4z"/><path color="#f8f21a" d="M353.1 102.7l2.7 5.1-2.1 1.5-2.8-6.9z"/><path color="#4331c8" d="M260.6 361.4l2.8-3.5-2.1 3.6-2.8 2.9z"/><path color="#4437d3" d="M428 354.4l2.8 5.5-2.2-2.2-2.7-5.8z"/><path color="#f3be3a" d="M335.6 145.2l2.7-12.1-2.1 16.4-2.8 8.8z"/><path color="#3f28ae" d="M243.1 374l2.8-1.5-2.1-0.4-2.8 1.4z"/><path color="#3d6ffc" d="M410.5 311.4l2.8 9.6-2.2-1.2-2.7-8.3z"/><path color="#1ebea4" d="M318.1 221.4l2.7-6.6-2.1 11.8-2.8 4.6z"/><path color="#55a0f7" d="M393 318.7l2.8-9.4-2.2-26-2.7-4z"/><path color="#10a2dd" d="M300.6 263.6l2.7-2.6-2.1 9.8-2.8 2.7z"/><path color="#4ec681" d="M375.5 205.6l2.8 13.4-2.2-11.1-2.7-16.4z"/><path color="#3678fc" d="M283.1 306.2l2.7-3.9-2.1 10.6-2.8 3.8z"/><path color="#f6e125" d="M358 114.3l2.8 9.6-2.2-4.3-2.8-11.8z"/><path color="#453cd9" d="M265.6 352.6l2.7-4.6-2.1 6.1-2.8 3.8z"/><path color="#4230c5" d="M432.9 362.2l2.8 3.5-2.2-2-2.7-3.8z"/><path color="#f9d62c" d="M340.5 123l2.8-9.8-2.2 12.3-2.8 7.6z"/><path color="#3f2ab2" d="M248.1 372.5l2.7-1.9-2.1 0.3-2.8 1.6z"/><path color="#4760fa" d="M415.4 322.9l2.8 9.8-2.2-2.1-2.7-9.6z"/><path color="#51c67f" d="M323 203.8l2.8-9.7-2.2 13.6-2.8 7.1z"/><path color="#3e27aa" d="M230.6 376.4l2.7-1.1-2.1-1-2.8 1.1z"/><path color="#7c9ffd" d="M397.9 332.2l2.8-16.3-2.2-12.8-2.7 6.2z"/><path color="#08acd1" d="M305.5 251.7l2.7-3.1-2.1 9.6-2.8 2.8z"/><path color="#12b9b5" d="M380.4 236.7l2.8 9.5-2.2-13.8-2.7-13.4z"/><path color="#268af3" d="M288 291l2.7-2.6-2.1 10.7-2.8 3.2z"/><path color="#fdc436" d="M362.9 134.5l2.8 13-2.2-8.2-2.7-15.4z"/><path color="#484cf0" d="M270.5 340.5l2.7-5.1-2.1 8-2.8 4.6z"/><path color="#412dbb" d="M437.9 367.8l2.7 2-2.1-1.8-2.8-2.3z"/><path color="#f8ef1c" d="M345.4 107.6l2.8-5.3-2.2 6.4-2.7 4.5z"/><path color="#402cb8" d="M253 369.7l2.7-2.6-2.1 1.4-2.8 2.1z"/><path color="#4751f2" d="M420.4 335.3l2.7 8.9-2.1-2.5-2.8-9z"/><path color="#9bc356" d="M327.9 183l2.8-13.2-2.2 14.7-2.7 9.6z"/><path color="#3e27ab" d="M235.5 376.1l2.7-1.3-2.1-0.7-2.8 1.2z"/><path color="#357afc" d="M402.8 305.7l2.8 0.1-2.2 3.5-2.7 6.6z"/><path color="#08b3c1" d="M310.4 239.5l2.8-4-2.2 9.9-2.8 3.2z"/><path color="#13a9d9" d="M385.3 272l2.8 4-2.2-20.7-2.7-9.1z"/><path color="#1a97e9" d="M292.9 277.5l2.8-1.8-2.2 10.3-2.8 2.4z"/><path color="#d9bd40" d="M367.8 160.6l2.8 14.9-2.2-11-2.7-17z"/><path color="#475efa" d="M275.4 326.2l2.8-5.1-2.2 9.5-2.8 4.8z"/><path color="#402ab4" d="M442.8 371.7l2.7 0.8-2.1-1.6-2.8-1.1z"/><path color="#f9f916" d="M350.3 102.8l2.8-0.1-2.2-0.3-2.7-0.1z"/><path color="#4230c3" d="M257.9 364.8l2.7-3.4-2.1 3-2.8 2.7z"/><path color="#4642e2" d="M425.3 346.9l2.7 7.5-2.1-2.5-2.8-7.7z"/><path color="#e2bc3f" d="M332.8 160.3l2.8-15.1-2.2 13.1-2.7 11.5z"/><path color="#3f28ad" d="M240.4 375.5l2.7-1.5-2.1-0.5-2.8 1.3z"/><path color="#4185fc" d="M407.8 301.9l2.7 9.5-2.1 0.1-2.8-5.7z"/><path color="#18bbab" d="M315.3 227.4l2.8-6-2.2 9.8-2.7 4.3z"/><path color="#539df8" d="M390.3 325.5l2.7-6.8-2.1-39.4-2.8-3.3z"/><path color="#11a1df" d="M297.8 265.3l2.8-1.7-2.2 9.9-2.7 2.2z"/><path color="#82c564" d="M372.8 191.6l2.7 14-2.1-14.1-2.8-16z"/><path color="#3a74fc" d="M280.3 310.8l2.8-4.6-2.2 10.5-2.7 4.4z"/><path color="#3f29b0" d="M447.7 374.2l2.7 0.1-2.1-1.5-2.8-0.3z"/><path color="#f8ef1c" d="M355.2 109.7l2.8 4.6-2.2-6.5-2.7-5.1z"/><path color="#4437d3" d="M262.8 357.1l2.8-4.5-2.2 5.3-2.8 3.5z"/><path color="#4436d0" d="M430.2 357.1l2.7 5.1-2.1-2.3-2.8-5.5z"/><path color="#fdc734" d="M337.7 136.7l2.8-13.7-2.2 10.1-2.7 12.1z"/><path color="#3f29b1" d="M245.3 374.3l2.8-1.8-2.2 0-2.8 1.5z"/><path color="#3d6ffc" d="M412.7 312.7l2.7 10.2-2.1-1.9-2.8-9.6z"/><path color="#3dc38d" d="M320.2 213.1l2.8-9.3-2.2 11-2.7 6.6z"/><path color="#3e27aa" d="M227.8 377.6l2.8-1.2-2.2-1-2.8 1.1z"/><path color="#8898fc" d="M395.2 352.1l2.7-19.9-2.1-22.9-2.8 9.4z"/><path color="#09abd3" d="M302.7 254.1l2.8-2.4-2.2 9.3-2.7 2.6z"/><path color="#26c09f" d="M377.7 226.8l2.7 9.9-2.1-17.7-2.8-13.4z"/><path color="#2887f5" d="M285.2 294.5l2.8-3.5-2.2 11.3-2.7 3.9z"/><path color="#f9d62c" d="M360.2 126.5l2.7 8-2.1-10.6-2.8-9.6z"/><path color="#4747e8" d="M267.7 345.8l2.8-5.3-2.2 7.5-2.7 4.6z"/><path color="#4230c3" d="M435.1 364.6l2.8 3.2-2.2-2.1-2.8-3.5z"/><path color="#f7e523" d="M342.7 117.5l2.7-9.9-2.1 5.6-2.8 9.8z"/><path color="#402bb6" d="M250.2 372l2.8-2.3-2.2 0.9-2.7 1.9z"/><path color="#475efa" d="M417.6 325.3l2.8 10-2.2-2.6-2.8-9.8z"/><path color="#78c569" d="M325.1 196.7l2.7-13.7-2.1 11.1-2.8 9.7z"/><path color="#3e27ab" d="M232.7 377.4l2.8-1.3-2.2-0.8-2.7 1.1z"/><path color="#3c70fc" d="M400.1 311.8l2.7-6.1-2.1 10.2-2.8 16.3z"/><path color="#08b2c4" d="M307.6 243l2.8-3.5-2.2 9.1-2.7 3.1z"/><path color="#0dafd1" d="M382.6 266.4l2.7 5.6-2.1-25.8-2.8-9.5z"/><path color="#1b96ea" d="M290.1 279.4l2.8-1.9-2.2 10.9-2.7 2.6z"/><path color="#f3be3b" d="M365.1 150.3l2.7 10.3-2.1-13.1-2.8-13z"/><path color="#4759f7" d="M272.6 331.9l2.8-5.7-2.2 9.2-2.7 5.1z"/><path color="#412cb9" d="M440 370l2.8 1.7-2.2-1.9-2.7-2z"/><path color="#f9f617" d="M347.6 107.5l2.7-4.7-2.1-0.5-2.8 5.3z"/><path color="#412ebf" d="M255.1 367.9l2.8-3.1-2.2 2.3-2.7 2.6z"/><path color="#484ff1" d="M422.5 338.2l2.8 8.7-2.2-2.7-2.7-8.9z"/><path color="#c0c045" d="M330.1 177.3l2.7-17-2.1 9.5-2.8 13.2z"/><path color="#3e28ad" d="M237.6 376.9l2.8-1.4-2.2-0.7-2.7 1.3z"/><path color="#579ef9" d="M405 294.1l2.8 7.8-2.2 3.9-2.8-0.1z"/><path color="#12b9b2" d="M312.6 232.5l2.7-5.1-2.1 8.1-2.8 4z"/><path color="#4697f6" d="M387.5 324.6l2.8 0.9-2.2-49.5-2.8-4z"/><path color="#12a1e0" d="M295.1 266.2l2.7-0.9-2.1 10.4-2.8 1.8z"/><path color="#b3c14b" d="M370 179.4l2.8 12.2-2.2-16.1-2.8-14.9z"/><path color="#3e6efc" d="M277.5 316.3l2.8-5.5-2.1 10.3-2.8 5.1z"/><path color="#402ab3" d="M444.9 373.5l2.8 0.7-2.2-1.7-2.7-0.8z"/><path color="#f9f61f" d="M352.5 109.2l2.7 0.5-2.1-7-2.8 0.1z"/><path color="#4433cd" d="M260 361.3l2.8-4.2-2.2 4.3-2.7 3.4z"/><path color="#4640df" d="M427.4 350l2.8 7.1-2.2-2.7-2.7-7.5z"/><path color="#f3be3b" d="M335 154l2.7-17.3-2.1 8.5-2.8 15.1z"/><path color="#3f29af" d="M242.5 375.9l2.8-1.6-2.2-0.3-2.7 1.5z"/><path color="#317efb" d="M409.9 301.9l2.8 10.8-2.2-1.3-2.7-9.5z"/><path color="#2ac19a" d="M317.5 221.4l2.7-8.3-2.1 8.3-2.8 6z"/><path color="#3e27aa" d="M225 378.7l2.8-1.1-2.2-1.1-2.7 1.1z"/><path color="#8a90f7" d="M392.4 364.9l2.8-12.8-2.2-33.4-2.7 6.8z"/><path color="#09aad4" d="M300 255.2l2.7-1.1-2.1 9.5-2.8 1.7z"/><path color="#4bc685" d="M374.9 215.7l2.8 11.1-2.2-21.2-2.7-14z"/><path color="#2c83f7" d="M282.5 299.2l2.7-4.7-2.1 11.7-2.8 4.6z"/><path color="#3f29af" d="M449.8 375.8l2.8 0.1-2.2-1.6-2.7-0.1z"/><path color="#f6e225" d="M357.4 121.9l2.8 4.6-2.2-12.2-2.8-4.6z"/><path color="#4641e0" d="M265 351.2l2.7-5.4-2.1 6.8-2.8 4.5z"/><path color="#4434ce" d="M432.3 360l2.8 4.6-2.2-2.4-2.7-5.1z"/><path color="#f9d42d" d="M339.9 131.9l2.8-14.4-2.2 5.5-2.8 13.7z"/><path color="#402ab3" d="M247.5 374.1l2.7-2.1-2.1 0.5-2.8 1.8z"/><path color="#3e6efc" d="M414.8 314.9l2.8 10.4-2.2-2.4-2.7-10.2z"/><path color="#56c77c" d="M322.4 209.9l2.8-13.2-2.2 7.1-2.8 9.3z"/><path color="#3e27aa" d="M229.9 378.6l2.8-1.2-2.1-1-2.8 1.2z"/><path color="#475ffa" d="M397.3 321.2l2.8-9.4-2.2 20.4-2.7 19.9z"/><path color="#08b1c6" d="M304.9 245.3l2.7-2.3-2.1 8.7-2.8 2.4z"/><path color="#0cb3c6" d="M379.8 258.9l2.8 7.5-2.2-29.7-2.7-9.9z"/><path color="#1d94eb" d="M287.4 282.2l2.7-2.8-2.1 11.6-2.8 3.5z"/><path color="#fdc436" d="M362.3 142.9l2.8 7.4-2.2-15.8-2.7-8z"/><path color="#4753f3" d="M269.9 337.9l2.7-6-2.1 8.6-2.8 5.3z"/><path color="#422fc1" d="M437.2 367.1l2.8 2.9-2.1-2.2-2.8-3.2z"/><path color="#f7ec1e" d="M344.8 116.8l2.8-9.3-2.2 0.1-2.7 9.9z"/><path color="#412dbb" d="M252.4 370.8l2.7-2.9-2.1 1.8-2.8 2.3z"/><path color="#475cf9" d="M419.7 328.2l2.8 10-2.1-2.9-2.8-10z"/><path color="#92c45b" d="M327.3 195.2l2.8-17.9-2.2 5.7-2.7 13.7z"/><path color="#3e28ac" d="M234.9 378.2l2.7-1.3-2.1-0.8-2.8 1.3z"/><path color="#3b91f6" d="M402.2 288.3l2.8 5.8-2.2 11.6-2.7 6.1z"/><path color="#0db7b7" d="M309.8 236.6l2.8-4.1-2.2 7-2.8 3.5z"/><path color="#3195f2" d="M384.7 316.2l2.8 8.4-2.2-52.6-2.7-5.6z"/><path color="#14a1e0" d="M292.3 267.1l2.8-0.9-2.2 11.3-2.8 1.9z"/><path color="#d6bd40" d="M367.2 170.7l2.8 8.7-2.2-18.8-2.7-10.3z"/><path color="#4467fc" d="M274.8 322.3l2.7-6-2.1 9.9-2.8 5.7z"/><path color="#402cb8" d="M442.2 372.1l2.7 1.4-2.1-1.8-2.8-1.7z"/><path color="#faf648" d="M349.7 112.9l2.8-3.7-2.2-6.4-2.7 4.7z"/><path color="#4331c7" d="M257.3 365.2l2.7-3.9-2.1 3.5-2.8 3.1z"/><path color="#484df0" d="M424.7 341.5l2.7 8.5-2.1-3.1-2.8-8.7z"/><path color="#d3be41" d="M332.2 174.3l2.8-20.3-2.2 6.3-2.7 17z"/><path color="#3f28ae" d="M239.8 377.4l2.7-1.5-2.1-0.4-2.8 1.4z"/><path color="#258bf2" d="M407.2 291.4l2.7 10.5-2.1 0-2.8-7.8z"/><path color="#1dbea5" d="M314.7 228.4l2.8-7-2.2 6-2.7 5.1z"/><path color="#7a7df4" d="M389.6 363.1l2.8 1.8-2.1-39.4-2.8-0.9z"/><path color="#18afd6" d="M297.2 254.9l2.8 0.3-2.2 10.1-2.7 0.9z"/><path color="#72c66d" d="M372.1 205.7l2.8 10-2.1-24.1-2.8-12.2z"/><path color="#307ffa" d="M279.7 305l2.8-5.8-2.2 11.6-2.8 5.5z"/><path color="#3f2ab2" d="M447.1 375.4l2.7 0.4-2.1-1.6-2.8-0.7z"/><path color="#f7e92a" d="M354.6 120.8l2.8 1.1-2.2-12.2-2.7-0.5z"/><path color="#453cd8" d="M262.2 356.5l2.8-5.3-2.2 5.9-2.8 4.2z"/><path color="#453edb" d="M429.6 353.4l2.7 6.6-2.1-2.9-2.8-7.1z"/><path color="#f9c238" d="M337.1 150.6l2.8-18.7-2.2 4.8-2.7 17.3z"/><path color="#3f2ab1" d="M244.7 376.1l2.8-2-2.2 0.2-2.8 1.6z"/><path color="#317efb" d="M412.1 303.5l2.7 11.4-2.1-2.2-2.8-10.8z"/><path color="#3cc390" d="M319.6 221.4l2.8-11.5-2.2 3.2-2.7 8.3z"/><path color="#3e27aa" d="M227.2 379.7l2.7-1.1-2.1-1-2.8 1.1z"/><path color="#4751f2" d="M394.6 328l2.7-6.8-2.1 30.9-2.8 12.8z"/><path color="#0db2c8" d="M302.1 245.6l2.8-0.3-2.2 8.8-2.7 1.1z"/><path color="#11b9b6" d="M377.1 249l2.7 9.9-2.1-32.1-2.8-11.1z"/><path color="#1f92ed" d="M284.6 286.4l2.8-4.2-2.2 12.3-2.7 4.7z"/><path color="#3f28af" d="M452 377.5l2.8-0.1-2.2-1.5-2.8-0.1z"/><path color="#fbce30" d="M359.6 138.2l2.7 4.7-2.1-16.4-2.8-4.6z"/><path color="#484df0" d="M267.1 344l2.8-6.1-2.2 7.9-2.7 5.4z"/><path color="#4332cb" d="M434.5 363l2.7 4.1-2.1-2.5-2.8-4.6z"/><path color="#f8da29" d="M342.1 130.6l2.8-13.8-2.1 0.7-2.8 14.4z"/><path color="#402cb7" d="M249.6 373.5l2.8-2.7-2.2 1.2-2.7 2.1z"/><path color="#406cfc" d="M417 317.7l2.7 10.5-2.1-2.9-2.8-10.4z"/><path color="#62c776" d="M324.5 212.7l2.8-17.5-2.1 1.5-2.8 13.2z"/><path color="#3e27ab" d="M232.1 379.5l2.8-1.3-2.2-0.8-2.8 1.2z"/><path color="#318bf6" d="M399.5 284.3l2.7 4-2.1 23.5-2.8 9.4z"/><path color="#09b6bb" d="M307 238.7l2.8-2.1-2.2 6.4-2.7 2.3z"/><path color="#269beb" d="M382 303.1l2.7 13.1-2.1-49.8-2.8-7.5z"/><path color="#13a0e1" d="M289.5 269l2.8-1.9-2.2 12.3-2.7 2.8z"/><path color="#edba3e" d="M364.5 163.4l2.7 7.3-2.1-20.4-2.8-7.4z"/><path color="#4760fb" d="M272 328.8l2.8-6.5-2.2 9.6-2.7 6z"/><path color="#412ebe" d="M439.4 369.7l2.8 2.4-2.2-2.1-2.8-2.9z"/><path color="#f9ee47" d="M347 120.7l2.7-7.8-2.1-5.4-2.8 9.3z"/><path color="#422fc2" d="M254.5 368.8l2.8-3.6-2.2 2.7-2.7 2.9z"/><path color="#475af7" d="M421.9 331.6l2.8 9.9-2.2-3.3-2.8-10z"/><path color="#9dc356" d="M329.5 196.5l2.7-22.2-2.1 3-2.8 17.9z"/><path color="#3f28ad" d="M237 378.9l2.8-1.5-2.2-0.5-2.7 1.3z"/><path color="#47a8ef" d="M404.4 281.5l2.8 9.9-2.2 2.7-2.8-5.8z"/><path color="#17bbac" d="M312 233.4l2.7-5-2.1 4.1-2.8 4.1z"/><path color="#6773f7" d="M386.9 349l2.7 14.1-2.1-38.5-2.8-8.4z"/><path color="#1bb1d6" d="M294.4 254.2l2.8 0.7-2.1 11.3-2.8 0.9z"/><path color="#96c459" d="M369.4 196.9l2.7 8.8-2.1-26.3-2.8-8.7z"/><path color="#3678fc" d="M276.9 311.7l2.8-6.7-2.2 11.3-2.7 6z"/><path color="#402bb6" d="M444.3 374.3l2.8 1.1-2.2-1.9-2.7-1.4z"/><path color="#f8ec4a" d="M351.9 123l2.7-2.2-2.1-11.6-2.8 3.7z"/><path color="#4436d1" d="M259.4 361.4l2.8-4.9-2.2 4.8-2.7 3.9z"/><path color="#474aec" d="M426.8 345.1l2.8 8.3-2.2-3.4-2.7-8.5z"/><path color="#dfbc3f" d="M334.4 173.3l2.7-22.7-2.1 3.4-2.8 20.3z"/><path color="#3f29b0" d="M241.9 377.8l2.8-1.7-2.2-0.2-2.7 1.5z"/><path color="#248cf1" d="M409.3 291.7l2.8 11.8-2.2-1.6-2.7-10.5z"/><path color="#25c0a0" d="M316.9 230.4l2.7-9-2.1 0-2.8 7z"/><path color="#3e27aa" d="M224.4 380.9l2.8-1.2-2.2-1-2.7 1.1z"/><path color="#5f63f2" d="M391.8 327.1l2.8 0.9-2.2 36.9-2.8-1.8z"/><path color="#26bbcd" d="M299.4 243.9l2.7 1.7-2.1 9.6-2.8-0.3z"/><path color="#22bfa3" d="M374.3 239l2.8 10-2.2-33.3-2.8-10z"/><path color="#228ef0" d="M281.9 292.3l2.7-5.9-2.1 12.8-2.8 5.8z"/><path color="#3f29b1" d="M449.2 377.2l2.8 0.3-2.2-1.7-2.7-0.4z"/><path color="#f9d532" d="M356.8 136.1l2.8 2.1-2.2-16.3-2.8-1.1z"/><path color="#4746e7" d="M264.4 350.1l2.7-6.1-2.1 7.2-2.8 5.3z"/><path color="#453bd7" d="M431.7 357l2.8 6-2.2-3-2.7-6.6z"/><path color="#fdc436" d="M339.3 149.3l2.7-18.7-2.1 1.3-2.8 18.7z"/><path color="#402bb5" d="M246.8 375.8l2.8-2.3-2.1 0.6-2.8 2z"/><path color="#327dfb" d="M414.2 306l2.8 11.7-2.2-2.8-2.7-11.4z"/><path color="#57cca0" d="M321.8 228.2l2.7-15.5-2.1-2.8-2.8 11.5z"/><path color="#3e27ab" d="M229.3 380.7l2.8-1.2-2.2-0.9-2.7 1.1z"/><path color="#3b8ff7" d="M396.7 281.1l2.8 3.2-2.2 36.9-2.7 6.8z"/><path color="#1abbbf" d="M304.3 237.9l2.7 0.8-2.1 6.6-2.8 0.3z"/><path color="#1aa3e1" d="M379.2 287.9l2.8 15.2-2.2-44.2-2.7-9.9z"/><path color="#149ee3" d="M286.8 272.8l2.7-3.8-2.1 13.2-2.8 4.2z"/><path color="#3f28ae" d="M454.2 379.1l2.7-0.2-2.1-1.5-2.8 0.1z"/><path color="#f4be3a" d="M361.7 157.8l2.8 5.6-2.2-20.5-2.7-4.7z"/><path color="#4759f7" d="M269.3 335.8l2.7-7-2.1 9.1-2.8 6.1z"/><path color="#4331c7" d="M436.6 366l2.8 3.7-2.2-2.6-2.7-4.1z"/><path color="#f8dd39" d="M344.2 132.6l2.8-11.9-2.2-3.9-2.8 13.8z"/><path color="#412ebd" d="M251.8 372.1l2.7-3.3-2.1 2-2.8 2.7z"/><path color="#4269fc" d="M419.1 321l2.8 10.6-2.2-3.4-2.7-10.5z"/><path color="#69ca81" d="M326.7 219l2.8-22.5-2.2-1.3-2.8 17.5z"/><path color="#3e28ac" d="M234.3 380.3l2.7-1.4-2.1-0.7-2.8 1.3z"/><path color="#4db2ec" d="M401.6 271.9l2.8 9.6-2.2 6.8-2.7-4z"/><path color="#13bab0" d="M309.2 235.5l2.8-2.1-2.2 3.2-2.8 2.1z"/><path color="#587bfd" d="M384.1 329.3l2.8 19.7-2.2-32.8-2.7-13.1z"/><path color="#0fadd4" d="M291.7 254.9l2.7-0.7-2.1 12.9-2.8 1.9z"/><path color="#b4c14b" d="M366.6 188.2l2.8 8.7-2.2-26.2-2.7-7.3z"/><path color="#3d70fc" d="M274.2 319l2.7-7.3-2.1 10.6-2.8 6.5z"/><path color="#412dbc" d="M441.6 372.2l2.7 2.1-2.1-2.2-2.8-2.4z"/><path color="#f8e858" d="M349.1 128.3l2.8-5.3-2.2-10.1-2.7 7.8z"/><path color="#4332cb" d="M256.7 365.9l2.7-4.5-2.1 3.8-2.8 3.6z"/><path color="#4757f6" d="M424.1 335.5l2.7 9.6-2.1-3.6-2.8-9.9z"/><path color="#a1c354" d="M331.6 199.3l2.8-26-2.2 1-2.7 22.2z"/><path color="#3f28ae" d="M239.2 379.5l2.7-1.7-2.1-0.4-2.8 1.5z"/><path color="#1a97e9" d="M406.6 280l2.7 11.7-2.1-0.3-2.8-9.9z"/><path color="#34c4b3" d="M314.1 236.2l2.8-5.8-2.2-2-2.7 5z"/><path color="#717cf7" d="M389 318.7l2.8 8.4-2.2 36-2.7-14.1z"/><path color="#2bbdcb" d="M296.6 241.4l2.8 2.5-2.2 11-2.8-0.7z"/><path color="#3fc48e" d="M371.5 228l2.8 11-2.2-33.3-2.7-8.8z"/><path color="#2888f4" d="M279.1 299.6l2.8-7.3-2.2 12.7-2.8 6.7z"/><path color="#402bb4" d="M446.5 376.4l2.7 0.8-2.1-1.8-2.8-1.1z"/><path color="#fadb48" d="M354 136.3l2.8-0.2-2.2-15.3-2.7 2.2z"/><path color="#463fde" d="M261.6 356.2l2.8-6.1-2.2 6.4-2.8 4.9z"/><path color="#4746e8" d="M429 349.1l2.7 7.9-2.1-3.6-2.8-8.3z"/><path color="#e6bb3e" d="M336.5 172.9l2.8-23.6-2.2 1.3-2.7 22.7z"/><path color="#3f2ab2" d="M244.1 378l2.7-2.2-2.1 0.3-2.8 1.7z"/><path color="#248cf2" d="M411.5 293.4l2.7 12.6-2.1-2.5-2.8-11.8z"/><path color="#52cdba" d="M319 240.3l2.8-12.1-2.2-6.8-2.7 9z"/><path color="#3e27aa" d="M226.6 381.9l2.7-1.2-2.1-1-2.8 1.2z"/><path color="#4697f6" d="M394 277l2.7 4.1-2.1 46.9-2.8-0.9z"/><path color="#39c4c4" d="M301.5 234.2l2.8 3.7-2.2 7.7-2.7-1.7z"/><path color="#0fadd4" d="M376.5 272.9l2.7 15-2.1-38.9-2.8-10z"/><path color="#179be6" d="M284 278.6l2.8-5.8-2.2 13.6-2.7 5.9z"/><path color="#3f29b0" d="M451.4 379l2.8 0.1-2.2-1.6-2.8-0.3z"/><path color="#f8c138" d="M358.9 154.1l2.7 3.7-2.1-19.6-2.8-2.1z"/><path color="#4752f3" d="M266.5 342.8l2.8-7-2.2 8.2-2.7 6.1z"/><path color="#4438d3" d="M433.9 360.7l2.7 5.3-2.1-3-2.8-6z"/><path color="#fec535" d="M341.4 149.3l2.8-16.7-2.2-2-2.7 18.7z"/><path color="#402cb9" d="M249 375.1l2.8-3-2.2 1.4-2.8 2.3z"/><path color="#337bfc" d="M416.4 309.1l2.7 11.9-2.1-3.3-2.8-11.7z"/><path color="#54cdb0" d="M323.9 240.6l2.8-21.6-2.2-6.3-2.7 15.5z"/><path color="#3e27ab" d="M231.5 381.6l2.8-1.3-2.2-0.8-2.8 1.2z"/><path color="#47b6e6" d="M398.9 262.8l2.7 9.1-2.1 12.4-2.8-3.2z"/><path color="#29c0b6" d="M306.4 233.6l2.8 1.9-2.2 3.2-2.7-0.8z"/><path color="#3c8cf8" d="M381.4 308.7l2.7 20.6-2.1-26.2-2.8-15.2z"/><path color="#0aaad4" d="M288.9 257.9l2.8-3-2.2 14.1-2.7 3.8z"/><path color="#3f28ad" d="M456.3 380.7l2.8-0.3-2.2-1.5-2.7 0.2z"/><path color="#ccbe42" d="M363.9 180.6l2.7 7.6-2.1-24.8-2.8-5.6z"/><path color="#4467fc" d="M271.4 326.5l2.8-7.5-2.2 9.8-2.7 7z"/><path color="#4230c4" d="M438.8 369l2.8 3.2-2.2-2.5-2.8-3.7z"/><path color="#fade55" d="M346.4 136.9l2.7-8.6-2.1-7.6-2.8 11.9z"/><path color="#4230c4" d="M253.9 369.9l2.8-4-2.2 2.9-2.7 3.3z"/><path color="#4466fc" d="M421.3 324.8l2.8 10.7-2.2-3.9-2.8-10.6z"/><path color="#64cc8b" d="M328.9 228.2l2.7-28.9-2.1-2.8-2.8 22.5z"/><path color="#3f28ad" d="M236.4 381l2.8-1.5-2.2-0.6-2.7 1.4z"/><path color="#26a9e2" d="M403.8 267.9l2.8 12.1-2.2 1.5-2.8-9.6z"/><path color="#24bfb3" d="M311.3 237.6l2.8-1.4-2.1-2.8-2.8 2.1z"/><path color="#718ffd" d="M386.3 305.7l2.7 13-2.1 30.3-2.8-19.7z"/><path color="#1fbbc6" d="M293.8 240.3l2.8 1.1-2.2 12.8-2.7 0.7z"/><path color="#5fc778" d="M368.8 216.2l2.7 11.8-2.1-31.1-2.8-8.7z"/><path color="#2f80f9" d="M276.3 307.7l2.8-8.1-2.2 12.1-2.7 7.3z"/><path color="#412cba" d="M443.7 374.8l2.8 1.6-2.2-2.1-2.7-2.1z"/><path color="#fbdc57" d="M351.3 138.4l2.7-2.1-2.1-13.3-2.8 5.3z"/><path color="#4539d5" d="M258.8 361.8l2.8-5.6-2.2 5.2-2.7 4.5z"/><path color="#4753f4" d="M426.2 339.9l2.8 9.2-2.2-4-2.7-9.6z"/><path color="#a2c353" d="M333.8 201.3l2.7-28.4-2.1 0.4-2.8 26z"/><path color="#3f29b0" d="M241.3 379.8l2.8-1.8-2.2-0.2-2.7 1.7z"/><path color="#1998e8" d="M408.7 280.5l2.8 12.9-2.2-1.7-2.7-11.7z"/><path color="#4bcac5" d="M316.3 247.2l2.7-6.9-2.1-9.9-2.8 5.8z"/><path color="#3e27aa" d="M223.8 383.1l2.8-1.2-2.2-1-2.7 1.1z"/><path color="#4aa2f3" d="M391.2 271.5l2.8 5.5-2.2 50.1-2.8-8.4z"/><path color="#43c8bf" d="M298.8 229.3l2.7 4.9-2.1 9.7-2.8-2.5z"/><path color="#0cb4c3" d="M373.7 257.1l2.8 15.8-2.2-33.9-2.8-11z"/><path color="#1b96ea" d="M281.3 286l2.7-7.4-2.1 13.7-2.8 7.3z"/><path color="#3f2ab3" d="M448.6 378.5l2.8 0.5-2.2-1.8-2.7-0.8z"/><path color="#fbc640" d="M356.2 151.6l2.8 2.5-2.2-18-2.8 0.2z"/><path color="#474aed" d="M263.8 349.6l2.7-6.8-2.1 7.3-2.8 6.1z"/><path color="#4643e2" d="M431.1 353.4l2.8 7.3-2.2-3.7-2.7-7.9z"/><path color="#ebbb3e" d="M338.7 171.5l2.7-22.2-2.1 0-2.8 23.6z"/><path color="#402bb6" d="M246.2 377.6l2.8-2.5-2.2 0.7-2.7 2.2z"/><path color="#258bf3" d="M413.6 296l2.8 13.1-2.2-3.1-2.7-12.6z"/><path color="#4bcac9" d="M321.2 258.2l2.7-17.6-2.1-12.4-2.8 12.1z"/><path color="#3e27ab" d="M228.7 382.9l2.8-1.3-2.2-0.9-2.7 1.2z"/><path color="#41bae0" d="M396.1 253.7l2.8 9.1-2.2 18.3-2.7-4.1z"/><path color="#49caba" d="M303.7 227.6l2.7 6-2.1 4.3-2.8-3.7z"/><path color="#249aeb" d="M378.6 289.5l2.8 19.2-2.2-20.8-2.7-15z"/><path color="#0ca7d7" d="M286.2 263.5l2.7-5.6-2.1 14.9-2.8 5.8z"/><path color="#3f29af" d="M453.5 380.8l2.8-0.1-2.1-1.6-2.8-0.1z"/><path color="#ddbc40" d="M361.1 173.9l2.8 6.7-2.2-22.8-2.7-3.7z"/><path color="#475efa" d="M268.7 334.3l2.7-7.8-2.1 9.3-2.8 7z"/><path color="#4435cf" d="M436 364.4l2.8 4.6-2.2-3-2.7-5.3z"/><path color="#fec73d" d="M343.6 149.8l2.8-12.9-2.2-4.3-2.8 16.7z"/><path color="#412ebf" d="M251.2 373.6l2.7-3.7-2.1 2.2-2.8 3z"/><path color="#3678fc" d="M418.5 313l2.8 11.8-2.2-3.8-2.7-11.9z"/><path color="#48c9c1" d="M326.1 262.2l2.8-34-2.2-9.2-2.8 21.6z"/><path color="#3e28ac" d="M233.7 382.4l2.7-1.4-2.1-0.7-2.8 1.3z"/><path color="#37badc" d="M401 255.4l2.8 12.5-2.2 4-2.7-9.1z"/><path color="#18bcab" d="M308.6 233.8l2.7 3.8-2.1-2.1-2.8-1.9z"/><path color="#62a2fa" d="M383.5 290.4l2.8 15.3-2.2 23.6-2.7-20.6z"/><path color="#08b3c1" d="M291.1 242.1l2.7-1.8-2.1 14.6-2.8 3z"/><path color="#3e28ad" d="M458.5 382.3l2.7-0.4-2.1-1.5-2.8 0.3z"/><path color="#82c564" d="M366 204.8l2.8 11.4-2.2-28-2.7-7.6z"/><path color="#3677fc" d="M273.6 316.3l2.7-8.6-2.1 11.3-2.8 7.5z"/><path color="#422fc1" d="M441 372.1l2.7 2.7-2.1-2.6-2.8-3.2z"/><path color="#fcd960" d="M348.5 142.8l2.8-4.4-2.2-10.1-2.7 8.6z"/><path color="#4434cd" d="M256.1 366.9l2.7-5.1-2.1 4.1-2.8 4z"/><path color="#4662fc" d="M423.5 329.2l2.8 10.7-2.1-4.4-2.8-10.7z"/><path color="#51c88e" d="M331 237.1l2.8-35.8-2.2-2-2.7 28.9z"/><path color="#3f29af" d="M238.6 381.5l2.7-1.7-2.1-0.3-2.8 1.5z"/><path color="#10a3dc" d="M405.9 266.7l2.8 13.8-2.1-0.5-2.8-12.1z"/><path color="#2dc1c0" d="M313.5 247.7l2.8-0.5-2.2-11-2.8 1.4z"/><path color="#4aabee" d="M388.4 263.9l2.8 7.6-2.2 47.2-2.7-13z"/><path color="#3fc7b7" d="M296 226l2.8 3.3-2.2 12.1-2.8-1.1z"/><path color="#1abcac" d="M370.9 241l2.8 16.1-2.2-29.1-2.7-11.8z"/><path color="#2090ef" d="M278.5 294.9l2.8-8.9-2.2 13.6-2.8 8.1z"/><path color="#402cb7" d="M445.9 377.2l2.7 1.3-2.1-2.1-2.8-1.6z"/><path color="#fdc94a" d="M353.4 150.1l2.8 1.5-2.2-15.3-2.7 2.1z"/><path color="#4643e2" d="M261 356.4l2.8-6.8-2.2 6.6-2.8 5.6z"/><path color="#484ff1" d="M428.4 344.6l2.7 8.8-2.1-4.3-2.8-9.2z"/><path color="#a7c251" d="M335.9 199.7l2.8-28.2-2.2 1.4-2.7 28.4z"/><path color="#3f2ab3" d="M243.5 379.9l2.7-2.3-2.1 0.4-2.8 1.8z"/><path color="#1a98e8" d="M410.9 282.2l2.7 13.8-2.1-2.6-2.8-12.9z"/><path color="#44c4d3" d="M318.4 266.5l2.8-8.3-2.2-17.9-2.7 6.9z"/><path color="#3e27aa" d="M226 384.1l2.7-1.2-2.1-1-2.8 1.2z"/><path color="#3dbeda" d="M393.4 244.3l2.7 9.4-2.1 23.3-2.8-5.5z"/><path color="#58cfb3" d="M300.9 219.6l2.8 8-2.2 6.6-2.7-4.9z"/><path color="#0fa4db" d="M375.9 270.6l2.8 18.9-2.1-16.6-2.8-15.8z"/><path color="#10a3dd" d="M283.4 271.5l2.8-8-2.2 15.1-2.7 7.4z"/><path color="#3f2ab2" d="M450.8 380.5l2.7 0.3-2.1-1.8-2.8-0.5z"/><path color="#ebbb3e" d="M358.3 168l2.8 5.9-2.1-19.8-2.8-2.5z"/><path color="#4756f5" d="M265.9 342.2l2.8-7.9-2.2 8.5-2.7 6.8z"/><path color="#463fdd" d="M433.3 357.9l2.7 6.5-2.1-3.7-2.8-7.3z"/><path color="#eebb3d" d="M340.8 168.3l2.8-18.5-2.2-0.5-2.7 22.2z"/><path color="#412dba" d="M248.4 376.8l2.8-3.2-2.2 1.5-2.8 2.5z"/><path color="#2788f4" d="M415.8 299.6l2.7 13.4-2.1-3.9-2.8-13.1z"/><path color="#4bc2de" d="M323.3 294.9l2.8-32.7-2.2-21.6-2.7 17.6z"/><path color="#3e27ac" d="M230.9 383.8l2.8-1.4-2.2-0.8-2.8 1.3z"/><path color="#41c3d3" d="M398.3 242.5l2.7 12.9-2.1 7.4-2.8-9.1z"/><path color="#21bfa1" d="M305.8 225l2.8 8.8-2.2-0.2-2.7-6z"/><path color="#53afef" d="M380.8 275.4l2.7 15-2.1 18.3-2.8-19.2z"/><path color="#08b2c4" d="M288.3 247.3l2.8-5.2-2.2 15.8-2.7 5.6z"/><path color="#3f28ae" d="M455.7 382.5l2.8-0.2-2.2-1.6-2.8 0.1z"/><path color="#a3c353" d="M363.3 194.1l2.7 10.7-2.1-24.2-2.8-6.7z"/><path color="#3f6dfc" d="M270.8 325l2.8-8.7-2.2 10.2-2.7 7.8z"/><path color="#4332cb" d="M438.2 368.1l2.8 4-2.2-3.1-2.8-4.6z"/><path color="#fdca4e" d="M345.8 150.5l2.7-7.7-2.1-5.9-2.8 12.9z"/><path color="#4331c6" d="M253.3 371.3l2.8-4.4-2.2 3-2.7 3.7z"/><path color="#3a73fc" d="M420.7 317.6l2.7 11.6-2.1-4.4-2.8-11.8z"/><path color="#38c0d1" d="M328.2 289.9l2.8-52.8-2.1-8.9-2.8 34z"/><path color="#3f28ae" d="M235.8 383.1l2.8-1.6-2.2-0.5-2.7 1.4z"/><path color="#10b0cf" d="M403.2 252.1l2.7 14.6-2.1 1.2-2.8-12.5z"/><path color="#14bab2" d="M310.7 241.2l2.8 6.5-2.2-10.1-2.7-3.8z"/><path color="#47b5e7" d="M385.7 254l2.7 9.9-2.1 41.8-2.8-15.3z"/><path color="#26c0aa" d="M293.2 226.2l2.8-0.2-2.2 14.3-2.7 1.8z"/><path color="#3e28ac" d="M460.6 383.8l2.8-0.4-2.2-1.5-2.7 0.4z"/><path color="#3bc390" d="M368.2 225.3l2.7 15.7-2.1-24.8-2.8-11.4z"/><path color="#2887f5" d="M275.7 304.6l2.8-9.7-2.2 12.8-2.7 8.6z"/><path color="#412ebe" d="M443.1 375.1l2.8 2.1-2.2-2.4-2.7-2.7z"/><path color="#fdcd56" d="M350.7 149.6l2.7 0.5-2.1-11.7-2.8 4.4z"/><path color="#453cd8" d="M258.2 362.7l2.8-6.3-2.2 5.4-2.7 5.1z"/><path color="#475df9" d="M425.6 334.3l2.8 10.3-2.2-4.7-2.8-10.7z"/><path color="#44c58a" d="M333.2 237.5l2.7-37.8-2.1 1.6-2.8 35.8z"/><path color="#3f29b1" d="M240.7 381.9l2.8-2-2.2-0.1-2.7 1.7z"/><path color="#0fa4dc" d="M408.1 267.4l2.8 14.8-2.2-1.7-2.8-13.8z"/><path color="#1bb6cd" d="M315.7 264.2l2.7 2.3-2.1-19.3-2.8 0.5z"/><path color="#3e27aa" d="M223.2 385.2l2.8-1.1-2.2-1-2.7 1.1z"/><path color="#3ec3d1" d="M390.6 234.4l2.8 9.9-2.2 27.2-2.8-7.6z"/><path color="#65d0a8" d="M298.2 213.3l2.7 6.3-2.1 9.7-2.8-3.3z"/><path color="#08b1c7" d="M373.1 252l2.7 18.6-2.1-13.5-2.8-16.1z"/><path color="#169de4" d="M280.6 281l2.8-9.5-2.1 14.5-2.8 8.9z"/><path color="#402bb5" d="M448 379.6l2.8 0.9-2.2-2-2.7-1.3z"/><path color="#f1bd3c" d="M355.6 162.3l2.7 5.7-2.1-16.4-2.8-1.5z"/><path color="#484df0" d="M263.1 349.9l2.8-7.7-2.1 7.4-2.8 6.8z"/><path color="#484bee" d="M430.5 349.6l2.8 8.3-2.2-4.5-2.7-8.8z"/><path color="#b6c14a" d="M338.1 193.2l2.7-24.9-2.1 3.2-2.8 28.2z"/><path color="#402bb6" d="M245.6 379.6l2.8-2.8-2.2 0.8-2.7 2.3z"/><path color="#1b96e9" d="M413 285.2l2.8 14.4-2.2-3.6-2.7-13.8z"/><path color="#4bb5e9" d="M320.6 304.6l2.7-9.7-2.1-36.7-2.8 8.3z"/><path color="#3e27ab" d="M228.1 385l2.8-1.2-2.2-0.9-2.7 1.2z"/><path color="#4acac7" d="M395.5 229.1l2.8 13.4-2.2 11.2-2.7-9.4z"/><path color="#5bcda0" d="M303.1 213.8l2.7 11.2-2.1 2.6-2.8-8z"/><path color="#46b9e3" d="M378 259.7l2.8 15.7-2.2 14.1-2.8-18.9z"/><path color="#08afcb" d="M285.6 255.6l2.7-8.3-2.1 16.2-2.8 8z"/><path color="#3f29b0" d="M452.9 382.4l2.8 0.1-2.2-1.7-2.7-0.3z"/><path color="#c0c045" d="M360.5 184l2.8 10.1-2.2-20.2-2.8-5.9z"/><path color="#4662fc" d="M268.1 333.8l2.7-8.8-2.1 9.3-2.8 7.9z"/><path color="#453bd7" d="M435.4 362.5l2.8 5.6-2.2-3.7-2.7-6.5z"/><path color="#f1bd3c" d="M343 163.5l2.8-13-2.2-0.7-2.8 18.5z"/><path color="#422fc0" d="M250.6 375.3l2.7-4-2.1 2.3-2.8 3.2z"/><path color="#2a85f6" d="M417.9 304.2l2.8 13.4-2.2-4.6-2.7-13.4z"/><path color="#60b0f3" d="M325.5 346.4l2.7-56.5-2.1-27.7-2.8 32.7z"/><path color="#3e28ac" d="M233 384.6l2.8-1.5-2.1-0.7-2.8 1.4z"/><path color="#29bfc4" d="M400.4 236.7l2.8 15.4-2.2 3.3-2.7-12.9z"/><path color="#20bfa2" d="M308 228.5l2.7 12.7-2.1-7.4-2.8-8.8z"/><path color="#41bedd" d="M382.9 244l2.8 10-2.2 36.4-2.7-15z"/><path color="#19bcaa" d="M290.5 230.7l2.7-4.5-2.1 15.9-2.8 5.2z"/><path color="#3f28ad" d="M457.9 384.1l2.7-0.3-2.1-1.5-2.8 0.2z"/><path color="#65c775" d="M365.4 210.6l2.8 14.7-2.2-20.5-2.7-10.7z"/><path color="#317dfb" d="M273 314.7l2.7-10.1-2.1 11.7-2.8 8.7z"/><path color="#4331c6" d="M440.4 371.7l2.7 3.4-2.1-3-2.8-4z"/><path color="#fbcd5a" d="M347.9 151.5l2.8-1.9-2.2-6.8-2.7 7.7z"/><path color="#4435d0" d="M255.5 368.3l2.7-5.6-2.1 4.2-2.8 4.4z"/><path color="#3e6efc" d="M422.8 322.8l2.8 11.5-2.2-5.1-2.7-11.6z"/><path color="#0eadd3" d="M330.4 296.7l2.8-59.2-2.2-0.4-2.8 52.8z"/><path color="#3f29af" d="M238 383.7l2.7-1.8-2.1-0.4-2.8 1.6z"/><path color="#08afcb" d="M405.3 251.3l2.8 16.1-2.2-0.7-2.7-14.6z"/><path color="#0cb4c2" d="M312.9 254.6l2.8 9.6-2.2-16.5-2.8-6.5z"/><path color="#45c8c6" d="M387.8 223.2l2.8 11.2-2.2 29.5-2.7-9.9z"/><path color="#5bcb96" d="M295.4 211.3l2.8 2-2.2 12.7-2.8 0.2z"/><path color="#3e27ab" d="M462.8 385.4l2.7-0.6-2.1-1.4-2.8 0.4z"/><path color="#17bbac" d="M370.3 234.3l2.8 17.7-2.2-11-2.7-15.7z"/><path color="#1c95ea" d="M277.9 291.6l2.7-10.6-2.1 13.9-2.8 9.7z"/><path color="#412dba" d="M445.3 377.9l2.7 1.7-2.1-2.4-2.8-2.1z"/><path color="#f5bf3a" d="M352.8 156.8l2.8 5.5-2.2-12.2-2.7-0.5z"/><path color="#4745e6" d="M260.4 357.2l2.7-7.3-2.1 6.5-2.8 6.3z"/><path color="#4758f6" d="M427.8 339.9l2.7 9.7-2.1-5-2.8-10.3z"/><path color="#55c77e" d="M335.3 226.1l2.8-32.9-2.2 6.5-2.7 37.8z"/><path color="#402ab3" d="M242.9 382l2.7-2.4-2.1 0.3-2.8 2z"/><path color="#10a3dc" d="M410.3 269.6l2.7 15.6-2.1-3-2.8-14.8z"/><path color="#1ca3e3" d="M317.8 290.3l2.8 14.3-2.2-38.1-2.7-2.3z"/><path color="#3e27aa" d="M225.4 386.3l2.7-1.3-2.1-0.9-2.8 1.1z"/><path color="#5bcfb6" d="M392.8 215.6l2.7 13.5-2.1 15.2-2.8-9.9z"/><path color="#7ed398" d="M300.3 204.1l2.8 9.7-2.2 5.8-2.7-6.3z"/><path color="#3bc1d2" d="M375.2 243.5l2.8 16.2-2.2 10.9-2.7-18.6z"/><path color="#0aa9d5" d="M282.8 266l2.8-10.4-2.2 15.9-2.8 9.5z"/><path color="#402ab3" d="M450.2 381.8l2.7 0.6-2.1-1.9-2.8-0.9z"/><path color="#d7bd40" d="M357.7 173.9l2.8 10.1-2.2-16-2.7-5.7z"/><path color="#4759f7" d="M265.3 342.5l2.8-8.7-2.2 8.4-2.8 7.7z"/><path color="#4746e7" d="M432.7 355l2.7 7.5-2.1-4.6-2.8-8.3z"/><path color="#cbbf42" d="M340.2 183.2l2.8-19.7-2.2 4.8-2.7 24.9z"/><path color="#412dbb" d="M247.8 378.7l2.8-3.4-2.2 1.5-2.8 2.8z"/><path color="#1d94eb" d="M415.2 289.4l2.7 14.8-2.1-4.6-2.8-14.4z"/><path color="#7398fd" d="M322.7 356.4l2.8-10-2.2-51.5-2.7 9.7z"/><path color="#3e27ac" d="M230.3 386l2.7-1.4-2.1-0.8-2.8 1.2z"/><path color="#4bcbb2" d="M397.7 220.5l2.7 16.2-2.1 5.8-2.8-13.4z"/><path color="#44c488" d="M305.2 212.9l2.8 15.6-2.2-3.5-2.7-11.2z"/><path color="#43c5d1" d="M380.2 233l2.7 11-2.1 31.4-2.8-15.7z"/><path color="#10b9b3" d="M287.7 239l2.8-8.3-2.2 16.6-2.7 8.3z"/><path color="#3f29af" d="M455.1 384.2l2.8-0.1-2.2-1.6-2.8-0.1z"/><path color="#90c45c" d="M362.7 196.7l2.7 13.9-2.1-16.5-2.8-10.1z"/><path color="#3b72fc" d="M270.2 324.6l2.8-9.9-2.2 10.3-2.7 8.8z"/><path color="#4436d1" d="M437.6 367.1l2.8 4.6-2.2-3.6-2.8-5.6z"/><path color="#f4bf3a" d="M345.1 158.2l2.7-6.7-2.1-1-2.8 13z"/><path color="#4331c8" d="M252.7 373.1l2.8-4.8-2.2 3-2.7 4z"/><path color="#2f80f9" d="M420.1 309.8l2.7 13-2.1-5.2-2.8-13.4z"/><path color="#5889fd" d="M327.6 360.5l2.8-63.8-2.2-6.8-2.7 56.5z"/><path color="#3f28ae" d="M235.2 385.3l2.8-1.6-2.2-0.6-2.8 1.5z"/><path color="#10b8b3" d="M402.6 234.2l2.7 17.1-2.1 0.8-2.8-15.4z"/><path color="#14baaf" d="M310.1 238.7l2.8 15.9-2.2-13.4-2.7-12.7z"/><path color="#51cdb7" d="M385.1 213.3l2.7 9.9-2.1 30.8-2.8-10z"/><path color="#43c489" d="M292.6 214.8l2.8-3.5-2.2 14.9-2.7 4.5z"/><path color="#3e28ad" d="M460 385.8l2.8-0.4-2.2-1.6-2.7 0.3z"/><path color="#40c48b" d="M367.6 217.8l2.7 16.5-2.1-9-2.8-14.7z"/><path color="#238cf1" d="M275.1 303l2.8-11.4-2.2 13-2.7 10.1z"/><path color="#422fc2" d="M442.5 375.3l2.8 2.6-2.2-2.8-2.7-3.4z"/><path color="#f8c139" d="M350.1 153l2.7 3.8-2.1-7.2-2.8 1.9z"/><path color="#453ddb" d="M257.6 364.1l2.8-6.9-2.2 5.5-2.7 5.6z"/><path color="#4368fc" d="M425 328.8l2.8 11.1-2.2-5.6-2.8-11.5z"/><path color="#0cb2c9" d="M332.6 271.8l2.7-45.7-2.1 11.4-2.8 59.2z"/><path color="#3f29b1" d="M240.1 384.1l2.8-2.1-2.2-0.1-2.7 1.8z"/><path color="#08afca" d="M407.5 252.5l2.8 17.1-2.2-2.2-2.8-16.1z"/><path color="#11abd6" d="M315.1 271.3l2.7 19-2.1-26.1-2.8-9.6z"/><path color="#3e27aa" d="M222.6 387.5l2.8-1.2-2.2-1.1-2.7 1.2z"/><path color="#77d4a3" d="M390 201.7l2.8 13.9-2.2 18.8-2.8-11.2z"/><path color="#8bd18a" d="M297.6 199.2l2.7 4.9-2.1 9.2-2.8-2z"/><path color="#3e27ab" d="M464.9 386.9l2.8-0.6-2.2-1.5-2.7 0.6z"/><path color="#41c7bb" d="M372.5 227.8l2.7 15.7-2.1 8.5-2.8-17.7z"/><path color="#11a2de" d="M280 277.8l2.8-11.8-2.2 15-2.7 10.6z"/><path color="#402cb8" d="M447.4 380.7l2.8 1.1-2.2-2.2-2.7-1.7z"/><path color="#edba3d" d="M355 163.7l2.7 10.2-2.1-11.6-2.8-5.5z"/><path color="#4850f2" d="M262.5 350.9l2.8-8.4-2.2 7.4-2.7 7.3z"/><path color="#4753f3" d="M429.9 346l2.8 9-2.2-5.4-2.7-9.7z"/><path color="#7dc567" d="M337.5 209.7l2.7-26.5-2.1 10-2.8 32.9z"/><path color="#402bb7" d="M245 381.7l2.8-3-2.2 0.9-2.7 2.4z"/><path color="#11a2de" d="M412.4 273.3l2.8 16.1-2.2-4.2-2.7-15.6z"/><path color="#4487fd" d="M320 321.6l2.7 34.8-2.1-51.8-2.8-14.3z"/><path color="#3e27ab" d="M227.5 387.3l2.8-1.3-2.2-1-2.7 1.3z"/><path color="#75d39d" d="M394.9 204.1l2.8 16.4-2.2 8.6-2.7-13.5z"/><path color="#7aca7a" d="M302.5 199.3l2.7 13.6-2.1 0.9-2.8-9.7z"/><path color="#51ccc0" d="M377.4 221.3l2.8 11.7-2.2 26.7-2.8-16.2z"/><path color="#08b3c0" d="M285 250.2l2.7-11.2-2.1 16.6-2.8 10.4z"/><path color="#3f2ab2" d="M452.3 384l2.8 0.2-2.2-1.8-2.7-0.6z"/><path color="#b9c048" d="M359.9 183l2.8 13.7-2.2-12.7-2.8-10.1z"/><path color="#4565fc" d="M267.5 334.3l2.7-9.7-2.1 9.2-2.8 8.7z"/><path color="#4640df" d="M434.8 360.5l2.8 6.6-2.2-4.6-2.7-7.5z"/><path color="#e2bc3f" d="M342.4 171.9l2.8-13.7-2.2 5.3-2.8 19.7z"/><path color="#422fc1" d="M250 377.3l2.7-4.2-2.1 2.2-2.8 3.4z"/><path color="#1f91ee" d="M417.3 295l2.8 14.8-2.2-5.6-2.7-14.8z"/><path color="#9594f0" d="M324.9 370.6l2.7-10.1-2.1-14.1-2.8 10z"/><path color="#3e28ad" d="M232.4 386.8l2.8-1.5-2.2-0.7-2.7 1.4z"/><path color="#42c69b" d="M399.8 216l2.8 18.2-2.2 2.5-2.7-16.2z"/><path color="#3ac38f" d="M307.4 219l2.7 19.7-2.1-10.2-2.8-15.6z"/><path color="#69d1a6" d="M382.3 204.4l2.8 8.9-2.2 30.7-2.7-11z"/><path color="#34c293" d="M289.9 222.9l2.7-8.1-2.1 15.9-2.8 8.3z"/><path color="#3f28ae" d="M457.2 386l2.8-0.2-2.1-1.7-2.8 0.1z"/><path color="#71c66d" d="M364.8 202.4l2.8 15.4-2.2-7.2-2.7-13.9z"/><path color="#2e81f9" d="M272.4 314.5l2.7-11.5-2.1 11.7-2.8 9.9z"/><path color="#4433cc" d="M439.7 371.4l2.8 3.9-2.1-3.6-2.8-4.6z"/><path color="#f7c039" d="M347.3 153.6l2.8-0.6-2.2-1.5-2.7 6.7z"/><path color="#4436d1" d="M254.9 370.1l2.7-6-2.1 4.2-2.8 4.8z"/><path color="#337bfc" d="M422.2 316.3l2.8 12.5-2.2-6-2.7-13z"/><path color="#3a8cf7" d="M329.8 318.6l2.8-46.8-2.2 24.9-2.8 63.8z"/><path color="#3f29af" d="M237.4 385.9l2.7-1.8-2.1-0.4-2.8 1.6z"/><path color="#13bab0" d="M404.7 234.1l2.8 18.4-2.2-1.2-2.7-17.1z"/><path color="#08b3c1" d="M312.3 252l2.8 19.3-2.2-16.7-2.8-15.9z"/><path color="#94d390" d="M387.2 189.5l2.8 12.2-2.2 21.5-2.7-9.9z"/><path color="#73c66b" d="M294.8 200.9l2.8-1.7-2.2 12.1-2.8 3.5z"/><path color="#3e28ac" d="M462.2 387.4l2.7-0.5-2.1-1.5-2.8 0.4z"/><path color="#5ccd9d" d="M369.7 213.1l2.8 14.7-2.2 6.5-2.7-16.5z"/><path color="#1999e7" d="M277.3 290.3l2.7-12.5-2.1 13.8-2.8 11.4z"/><path color="#412ebe" d="M444.7 378.6l2.7 2.1-2.1-2.8-2.8-2.6z"/><path color="#f5bf3a" d="M352.2 155l2.8 8.7-2.2-6.9-2.7-3.8z"/><path color="#4746e8" d="M259.8 358.8l2.7-7.9-2.1 6.3-2.8 6.9z"/><path color="#4761fb" d="M427.2 335.4l2.7 10.6-2.1-6.1-2.8-11.1z"/><path color="#1ebea7" d="M334.7 242l2.8-32.3-2.2 16.4-2.7 45.7z"/><path color="#402ab4" d="M242.3 384.2l2.7-2.5-2.1 0.3-2.8 2.1z"/><path color="#08aecc" d="M409.7 255.7l2.8 17.6-2.1-3.7-2.8-17.1z"/><path color="#219ae9" d="M317.2 288.4l2.8 33.2-2.2-31.3-2.7-19z"/><path color="#3e27aa" d="M224.8 388.5l2.7-1.2-2.1-1-2.8 1.2z"/><path color="#9fd388" d="M392.1 188l2.8 16.1-2.1 11.5-2.8-13.9z"/><path color="#a6d17f" d="M299.7 191.7l2.8 7.6-2.2 4.8-2.7-4.9z"/><path color="#3e27ab" d="M467.1 388.4l2.7-0.7-2.1-1.4-2.8 0.6z"/><path color="#6bd2ab" d="M374.6 209.8l2.8 11.5-2.2 22.2-2.7-15.7z"/><path color="#08aecd" d="M282.2 263.2l2.8-13-2.2 15.8-2.8 11.8z"/><path color="#402bb5" d="M449.6 383.2l2.7 0.8-2.1-2.2-2.8-1.1z"/><path color="#dcbc3f" d="M357.1 169.4l2.8 13.6-2.2-9.1-2.7-10.2z"/><path color="#475bf8" d="M264.7 343.8l2.8-9.5-2.2 8.2-2.8 8.4z"/><path color="#484df0" d="M432.1 352.2l2.7 8.3-2.1-5.5-2.8-9z"/><path color="#acc24e" d="M339.6 193.4l2.8-21.5-2.2 11.3-2.7 26.5z"/><path color="#412dbb" d="M247.2 380.9l2.8-3.6-2.2 1.4-2.8 3z"/><path color="#149fe2" d="M414.6 278.8l2.7 16.2-2.1-5.6-2.8-16.1z"/><path color="#4758f6" d="M322.1 332l2.8 38.6-2.2-14.2-2.7-34.8z"/><path color="#3e27ac" d="M229.7 388.2l2.7-1.4-2.1-0.8-2.8 1.3z"/><path color="#7fce83" d="M397.1 197.5l2.7 18.5-2.1 4.5-2.8-16.4z"/><path color="#70c66d" d="M304.6 200.7l2.8 18.3-2.2-6.1-2.7-13.6z"/><path color="#83d397" d="M379.6 195.8l2.7 8.6-2.1 28.6-2.8-11.7z"/><path color="#1ebea4" d="M287.1 234.5l2.8-11.6-2.2 16.1-2.7 11.2z"/><path color="#3f29b0" d="M454.5 386l2.7 0-2.1-1.8-2.8-0.2z"/><path color="#a4c252" d="M362.1 187.3l2.8 15.1-2.1-5.7-2.8-13.7z"/><path color="#3975fc" d="M269.6 325.6l2.8-11.1-2.2 10.1-2.7 9.7z"/><path color="#453bd8" d="M437 365.9l2.7 5.5-2.1-4.3-2.8-6.6z"/><path color="#f1bd3b" d="M344.5 161.7l2.8-8.1-2.1 4.6-2.8 13.7z"/><path color="#4332c8" d="M252.1 375.2l2.8-5.1-2.2 3-2.7 4.2z"/><path color="#248cf2" d="M419.5 302l2.7 14.3-2.1-6.5-2.8-14.8z"/><path color="#4758f6" d="M327 331.9l2.8-13.3-2.2 41.9-2.7 10.1z"/><path color="#3f28ae" d="M234.6 387.5l2.8-1.6-2.2-0.6-2.8 1.5z"/><path color="#3ec48d" d="M402 214.6l2.7 19.5-2.1 0.1-2.8-18.2z"/><path color="#21bfa1" d="M309.5 230.2l2.8 21.8-2.2-13.3-2.7-19.7z"/><path color="#add17f" d="M384.5 180.7l2.7 8.8-2.1 23.8-2.8-8.9z"/><path color="#65c673" d="M292 208.3l2.8-7.4-2.2 13.9-2.7 8.1z"/><path color="#3f28ad" d="M459.4 387.7l2.8-0.3-2.2-1.6-2.8 0.2z"/><path color="#80cc7c" d="M367 199.2l2.7 13.9-2.1 4.7-2.8-15.4z"/><path color="#2090ef" d="M274.5 303.2l2.8-12.9-2.2 12.7-2.7 11.5z"/><path color="#4331c6" d="M441.9 375.5l2.8 3.1-2.2-3.3-2.8-3.9z"/><path color="#f9c238" d="M349.5 150.5l2.7 4.5-2.1-2-2.8 0.6z"/><path color="#453edc" d="M257 366.1l2.8-7.3-2.2 5.3-2.7 6z"/><path color="#3a73fc" d="M424.4 323.6l2.8 11.8-2.2-6.6-2.8-12.5z"/><path color="#0ea5da" d="M332 273.6l2.7-31.6-2.1 29.8-2.8 46.8z"/><path color="#3f29b1" d="M239.5 386.3l2.8-2.1-2.2-0.1-2.7 1.8z"/><path color="#12b9b1" d="M406.9 236.5l2.7 19.2-2.1-3.2-2.8-18.4z"/><path color="#09abd2" d="M314.4 265.6l2.8 22.8-2.1-17.1-2.8-19.3z"/><path color="#3e27aa" d="M222 389.7l2.8-1.2-2.2-1-2.7 1.1z"/><path color="#c6d077" d="M389.4 173.2l2.7 14.8-2.1 13.7-2.8-12.2z"/><path color="#9ec55b" d="M296.9 191.1l2.8 0.6-2.1 7.5-2.8 1.7z"/><path color="#3e27ab" d="M464.3 388.9l2.8-0.5-2.2-1.5-2.7 0.5z"/><path color="#8bd497" d="M371.9 199.2l2.7 10.6-2.1 18-2.8-14.7z"/><path color="#0ea5da" d="M279.4 277.2l2.8-14-2.2 14.6-2.7 12.5z"/><path color="#412dba" d="M446.8 381.7l2.8 1.5-2.2-2.5-2.7-2.1z"/><path color="#f2bd3b" d="M354.4 157.1l2.7 12.3-2.1-5.7-2.8-8.7z"/><path color="#4751f2" d="M261.9 352.8l2.8-9-2.2 7.1-2.7 7.9z"/><path color="#475af7" d="M429.3 342.6l2.8 9.6-2.2-6.2-2.7-10.6z"/><path color="#58c77c" d="M336.9 220.7l2.7-27.3-2.1 16.3-2.8 32.3z"/><path color="#402bb7" d="M244.4 383.9l2.8-3-2.2 0.8-2.7 2.5z"/><path color="#08add0" d="M411.8 261.1l2.8 17.7-2.2-5.5-2.8-17.6z"/><path color="#2788f4" d="M319.4 298.1l2.7 33.9-2.1-10.4-2.8-33.2z"/><path color="#3e27ab" d="M226.9 389.5l2.8-1.3-2.2-0.9-2.7 1.2z"/><path color="#b6cd70" d="M394.3 179.6l2.8 17.9-2.2 6.6-2.8-16.1z"/><path color="#9dc355" d="M301.9 189.5l2.7 11.2-2.1-1.4-2.8-7.6z"/><path color="#3e27aa" d="M469.2 389.8l2.8-0.7-2.2-1.4-2.7 0.7z"/><path color="#9fd288" d="M376.8 188.1l2.8 7.7-2.2 25.5-2.8-11.5z"/><path color="#0cb7b8" d="M284.4 248.5l2.7-14-2.1 15.7-2.8 13z"/><path color="#3f2ab3" d="M451.7 385.6l2.8 0.4-2.2-2-2.7-0.8z"/><path color="#d1be41" d="M359.3 172.3l2.7 15-2.1-4.3-2.8-13.6z"/><path color="#4367fc" d="M266.8 336l2.8-10.4-2.1 8.7-2.8 9.5z"/><path color="#4746e8" d="M434.2 358.7l2.8 7.2-2.2-5.4-2.7-8.3z"/><path color="#d5bd40" d="M341.8 179l2.7-17.3-2.1 10.2-2.8 21.5z"/><path color="#422fc1" d="M249.3 379.6l2.8-4.4-2.1 2.1-2.8 3.6z"/><path color="#179be6" d="M416.7 286l2.8 16-2.2-7-2.7-16.2z"/><path color="#758afd" d="M324.3 315.6l2.7 16.3-2.1 38.7-2.8-38.6z"/><path color="#3e28ad" d="M231.8 389l2.8-1.5-2.2-0.7-2.7 1.4z"/><path color="#7cc566" d="M399.2 194.5l2.8 20.1-2.2 1.4-2.7-18.5z"/><path color="#5ec677" d="M306.8 209.3l2.7 20.9-2.1-11.2-2.8-18.3z"/><path color="#c4cf73" d="M381.7 173.4l2.8 7.3-2.2 23.7-2.7-8.6z"/><path color="#4ac584" d="M289.3 220.1l2.7-11.8-2.1 14.6-2.8 11.6z"/><path color="#3f29af" d="M456.6 387.9l2.8-0.2-2.2-1.7-2.7 0z"/><path color="#a7c559" d="M364.2 185.5l2.8 13.7-2.2 3.2-2.8-15.1z"/><path color="#2c83f8" d="M271.8 315.9l2.7-12.7-2.1 11.3-2.8 11.1z"/><path color="#4436d1" d="M439.1 371.1l2.8 4.4-2.2-4.1-2.7-5.5z"/><path color="#f8c138" d="M346.7 154l2.8-3.5-2.2 3.1-2.8 8.1z"/><path color="#4436d1" d="M254.3 372.4l2.7-6.3-2.1 4-2.8 5.1z"/><path color="#2a85f6" d="M421.6 310.2l2.8 13.4-2.2-7.3-2.7-14.3z"/><path color="#218fef" d="M329.2 292.7l2.8-19.1-2.2 45-2.8 13.3z"/><path color="#3f29af" d="M236.8 388.1l2.7-1.8-2.1-0.4-2.8 1.6z"/><path color="#3fc48c" d="M404.1 216.3l2.8 20.2-2.2-2.4-2.7-19.5z"/><path color="#0fb8b5" d="M311.7 243.6l2.7 22-2.1-13.6-2.8-21.8z"/><path color="#e0cd6e" d="M386.6 162.9l2.8 10.3-2.2 16.3-2.7-8.8z"/><path color="#92c45a" d="M294.2 197.2l2.7-6.1-2.1 9.8-2.8 7.4z"/><path color="#3e28ac" d="M461.6 389.4l2.7-0.5-2.1-1.5-2.8 0.3z"/><path color="#aad383" d="M369.1 189l2.8 10.2-2.2 13.9-2.7-13.9z"/><path color="#179be5" d="M276.7 291.4l2.7-14.2-2.1 13.1-2.8 12.9z"/><path color="#422fc1" d="M444.1 379.3l2.7 2.4-2.1-3.1-2.8-3.1z"/><path color="#fac237" d="M351.6 149.3l2.8 7.8-2.2-2.1-2.7-4.5z"/><path color="#4747e8" d="M259.2 361.2l2.7-8.4-2.1 6-2.8 7.3z"/><path color="#416afc" d="M426.6 331.4l2.7 11.2-2.1-7.2-2.8-11.8z"/><path color="#11b9b2" d="M334.1 249.5l2.8-28.8-2.2 21.3-2.7 31.6z"/><path color="#402ab4" d="M241.7 386.5l2.7-2.6-2.1 0.3-2.8 2.1z"/><path color="#0eb8b6" d="M409 241.8l2.8 19.3-2.2-5.4-2.7-19.2z"/><path color="#11a2de" d="M316.6 277.2l2.8 20.9-2.2-9.7-2.8-22.8z"/><path color="#3e27aa" d="M224.2 390.7l2.7-1.2-2.1-1-2.8 1.2z"/><path color="#e1cb68" d="M391.5 162.6l2.8 17-2.2 8.4-2.7-14.8z"/><path color="#b8c65a" d="M299.1 186.9l2.8 2.6-2.2 2.2-2.8-0.6z"/><path color="#3e27ab" d="M466.5 390.5l2.7-0.7-2.1-1.4-2.8 0.5z"/><path color="#b8d17b" d="M374 181.5l2.8 6.6-2.2 21.7-2.7-10.6z"/><path color="#08b0c9" d="M281.6 263.8l2.8-15.3-2.2 14.7-2.8 14z"/><path color="#402bb7" d="M449 384.6l2.7 1-2.1-2.4-2.8-1.5z"/><path color="#f0bc3c" d="M356.5 158.8l2.8 13.5-2.2-2.9-2.7-12.3z"/><path color="#475bf8" d="M264.1 346.2l2.7-10.2-2.1 7.8-2.8 9z"/><path color="#4753f3" d="M431.5 350l2.7 8.7-2.1-6.5-2.8-9.6z"/><path color="#93c45a" d="M339 204.9l2.8-25.9-2.2 14.4-2.7 27.3z"/><path color="#412dbb" d="M246.6 383.3l2.7-3.7-2.1 1.3-2.8 3z"/><path color="#0ba9d5" d="M414 268.7l2.7 17.3-2.1-7.2-2.8-17.7z"/><path color="#4498f6" d="M321.5 299.2l2.8 16.4-2.2 16.4-2.7-33.9z"/><path color="#3e27ac" d="M229.1 390.4l2.7-1.4-2.1-0.8-2.8 1.3z"/><path color="#c1c453" d="M396.5 175l2.7 19.5-2.1 3-2.8-17.9z"/><path color="#97c458" d="M304 194.4l2.8 14.9-2.2-8.6-2.7-11.2z"/><path color="#3e27aa" d="M471.4 391.3l2.8-0.8-2.2-1.4-2.8 0.7z"/><path color="#d7cc6a" d="M378.9 167.9l2.7 5.5-2.1 22.4-2.8-7.7z"/><path color="#28c09c" d="M286.5 234.8l2.8-14.7-2.2 14.4-2.7 14z"/><path color="#3f29b1" d="M453.9 387.7l2.7 0.2-2.1-1.9-2.8-0.4z"/><path color="#d1be41" d="M361.4 171.9l2.8 13.6-2.2 1.8-2.7-15z"/><path color="#3875fc" d="M269 327.9l2.8-12-2.2 9.7-2.8 10.4z"/><path color="#4640de" d="M436.4 365l2.7 6.1-2.1-5.2-2.8-7.2z"/><path color="#efbb3c" d="M343.9 168.3l2.8-14.3-2.2 7.7-2.7 17.3z"/><path color="#4331c8" d="M251.5 377.7l2.8-5.3-2.2 2.8-2.8 4.4z"/><path color="#1c95ea" d="M418.9 294.9l2.7 15.3-2.1-8.2-2.8-16z"/><path color="#4ea0f5" d="M326.4 298.7l2.8-6-2.2 39.2-2.7-16.3z"/><path color="#3f28ae" d="M234 389.8l2.8-1.7-2.2-0.6-2.8 1.5z"/><path color="#82c563" d="M401.4 195.4l2.7 20.9-2.1-1.7-2.8-20.1z"/><path color="#3fc48c" d="M308.9 222.7l2.8 20.9-2.2-13.4-2.7-20.9z"/><path color="#f1ca6a" d="M383.9 155.5l2.7 7.4-2.1 17.8-2.8-7.3z"/><path color="#77c569" d="M291.4 208.5l2.8-11.3-2.2 11.1-2.7 11.8z"/><path color="#3f28ae" d="M458.8 389.7l2.8-0.3-2.2-1.7-2.8 0.2z"/><path color="#c9ce70" d="M366.4 178.9l2.7 10.1-2.1 10.2-2.8-13.7z"/><path color="#2090ee" d="M273.9 305.6l2.8-14.2-2.2 11.8-2.7 12.7z"/><path color="#4332ca" d="M441.3 375.8l2.8 3.5-2.2-3.8-2.8-4.4z"/><path color="#fdc436" d="M348.9 149.8l2.7-0.5-2.1 1.2-2.8 3.5z"/><path color="#453edb" d="M256.4 368.8l2.8-7.6-2.2 4.9-2.7 6.3z"/><path color="#317dfb" d="M423.8 319.1l2.8 12.3-2.2-7.8-2.8-13.4z"/><path color="#09aad3" d="M331.4 274.1l2.7-24.6-2.1 24.1-2.8 19.1z"/><path color="#3f29b1" d="M238.9 388.6l2.8-2.1-2.2-0.2-2.7 1.8z"/><path color="#39c390" d="M406.3 221.4l2.7 20.4-2.1-5.3-2.8-20.2z"/><path color="#08b1c6" d="M313.8 257.6l2.8 19.6-2.2-11.6-2.7-22z"/><path color="#3e27aa" d="M221.4 391.9l2.8-1.2-2.2-1-2.7 1.1z"/><path color="#f6ce6a" d="M388.8 149.6l2.7 13-2.1 10.6-2.8-10.3z"/><path color="#afc14c" d="M296.3 191.3l2.8-4.4-2.2 4.2-2.7 6.1z"/><path color="#3e28ac" d="M463.7 391l2.8-0.5-2.2-1.6-2.7 0.5z"/><path color="#cfcf71" d="M371.3 175.6l2.7 5.9-2.1 17.7-2.8-10.2z"/><path color="#0da6d9" d="M278.8 279.6l2.8-15.8-2.2 13.4-2.7 14.2z"/><path color="#412dbd" d="M446.2 382.8l2.8 1.8-2.2-2.9-2.7-2.4z"/><path color="#fbc337" d="M353.8 149.8l2.7 9-2.1-1.7-2.8-7.8z"/><path color="#4750f2" d="M261.3 355.7l2.8-9.5-2.2 6.6-2.7 8.4z"/><path color="#4761fb" d="M428.7 339.9l2.8 10.1-2.2-7.4-2.7-11.2z"/><path color="#3fc48e" d="M336.3 235.4l2.7-30.5-2.1 15.8-2.8 28.8z"/><path color="#402bb7" d="M243.8 386.4l2.8-3.1-2.2 0.6-2.7 2.6z"/><path color="#08b4be" d="M411.2 249.9l2.8 18.8-2.2-7.6-2.8-19.3z"/><path color="#169de4" d="M318.8 286.2l2.7 13-2.1-1.1-2.8-20.9z"/><path color="#3e27ab" d="M226.3 391.8l2.8-1.4-2.2-0.9-2.7 1.2z"/><path color="#f0c355" d="M393.7 156.9l2.8 18.1-2.2 4.6-2.8-17z"/><path color="#b5c149" d="M301.3 189l2.7 5.4-2.1-4.9-2.8-2.6z"/><path color="#3e27aa" d="M468.6 391.9l2.8-0.6-2.2-1.5-2.7 0.7z"/><path color="#e4ca67" d="M376.2 164.1l2.8 3.8-2.2 20.2-2.8-6.6z"/><path color="#0fb8b5" d="M283.8 251.1l2.7-16.3-2.1 13.7-2.8 15.3z"/><path color="#402bb4" d="M451.1 387.2l2.8 0.5-2.2-2.1-2.7-1z"/><path color="#f0bc3c" d="M358.7 159.6l2.7 12.3-2.1 0.4-2.8-13.5z"/><path color="#4467fc" d="M266.2 339.1l2.8-11.2-2.2 8.1-2.7 10.2z"/><path color="#484cef" d="M433.6 357.4l2.8 7.6-2.2-6.3-2.7-8.7z"/><path color="#c2c044" d="M341.2 193.4l2.7-25.1-2.1 10.7-2.8 25.9z"/><path color="#422fc1" d="M248.7 382.1l2.8-4.4-2.2 1.9-2.7 3.7z"/><path color="#10a3dc" d="M416.1 278.2l2.8 16.7-2.2-8.9-2.7-17.3z"/><path color="#53abf1" d="M323.7 298.8l2.7-0.1-2.1 16.9-2.8-16.4z"/><path color="#3e28ac" d="M231.2 391.3l2.8-1.5-2.2-0.8-2.7 1.4z"/><path color="#c6bf42" d="M398.6 174.8l2.8 20.6-2.2-0.9-2.7-19.5z"/><path color="#7bc567" d="M306.2 206.8l2.7 15.9-2.1-13.4-2.8-14.9z"/><path color="#f6cc63" d="M381.1 150.8l2.8 4.7-2.2 17.9-2.7-5.5z"/><path color="#50c680" d="M288.7 223.4l2.7-14.9-2.1 11.6-2.8 14.7z"/><path color="#3f29b0" d="M456 389.8l2.8-0.1-2.2-1.8-2.7-0.2z"/><path color="#e1c75e" d="M363.6 168.8l2.8 10.1-2.2 6.6-2.8-13.6z"/><path color="#2c83f8" d="M271.2 319.2l2.7-13.6-2.1 10.3-2.8 12z"/><path color="#453ad6" d="M438.5 371.1l2.8 4.7-2.2-4.7-2.7-6.1z"/><path color="#f7c039" d="M346.1 162.1l2.8-12.3-2.2 4.2-2.8 14.3z"/><path color="#4436d0" d="M253.7 375.2l2.7-6.4-2.1 3.6-2.8 5.3z"/><path color="#228ef0" d="M421 305.1l2.8 14-2.2-8.9-2.7-15.3z"/><path color="#149ee3" d="M328.6 291.4l2.8-17.3-2.2 18.6-2.8 6z"/><path color="#3f29af" d="M236.2 390.5l2.7-1.9-2.1-0.5-2.8 1.7z"/><path color="#7bc567" d="M403.5 200.4l2.8 21-2.2-5.1-2.7-20.9z"/><path color="#1dbea5" d="M311.1 238.7l2.7 18.9-2.1-14-2.8-20.9z"/><path color="#fdd266" d="M386 141.6l2.8 8-2.2 13.3-2.7-7.4z"/><path color="#98c357" d="M293.6 201.3l2.7-10-2.1 5.9-2.8 11.3z"/><path color="#3e28ad" d="M461 391.4l2.7-0.4-2.1-1.6-2.8 0.3z"/><path color="#e1cd6e" d="M368.5 169.8l2.8 5.8-2.2 13.4-2.7-10.1z"/><path color="#179be6" d="M276.1 295.1l2.7-15.5-2.1 11.8-2.8 14.2z"/><path color="#4230c4" d="M443.5 380.2l2.8 2.6-2.1-3.5-2.8-3.5z"/><path color="#fdc834" d="M351 149.3l2.8 0.5-2.2-0.5-2.7 0.5z"/><path color="#4746e7" d="M258.6 364.3l2.7-8.6-2.1 5.5-2.8 7.6z"/><path color="#3a73fc" d="M425.9 328.5l2.8 11.4-2.1-8.5-2.8-12.3z"/><path color="#0bb6bf" d="M333.5 265.1l2.8-29.7-2.2 14.1-2.7 24.6z"/><path color="#402ab3" d="M241.1 388.9l2.7-2.5-2.1 0.1-2.8 2.1z"/><path color="#29c09b" d="M408.4 229.9l2.8 20-2.2-8.1-2.7-20.4z"/><path color="#09abd3" d="M316 271.4l2.8 14.8-2.2-9-2.8-19.6z"/><path color="#3e27aa" d="M223.6 393l2.7-1.2-2.1-1.1-2.8 1.2z"/><path color="#fdcf5b" d="M390.9 141.5l2.8 15.4-2.2 5.7-2.7-13z"/><path color="#bac149" d="M298.5 191.8l2.8-2.8-2.2-2.1-2.8 4.4z"/><path color="#3e27ab" d="M465.9 392.6l2.7-0.7-2.1-1.4-2.8 0.5z"/><path color="#efc864" d="M373.4 161.7l2.8 2.4-2.2 17.4-2.7-5.9z"/><path color="#08afca" d="M281 268.2l2.8-17.1-2.2 12.7-2.8 15.8z"/><path color="#402cb9" d="M448.4 386.1l2.7 1.1-2.1-2.6-2.8-1.8z"/><path color="#fbc337" d="M355.9 151.8l2.8 7.8-2.2-0.8-2.7-9z"/><path color="#475af7" d="M263.5 349.7l2.7-10.6-2.1 7.1-2.8 9.5z"/><path color="#4759f6" d="M430.9 348.5l2.7 8.9-2.1-7.4-2.8-10.1z"/><path color="#68c673" d="M338.4 226.1l2.8-32.7-2.2 11.5-2.7 30.5z"/><path color="#412dbb" d="M246 385.9l2.7-3.8-2.1 1.2-2.8 3.1z"/><path color="#08b0c8" d="M413.4 260.5l2.7 17.7-2.1-9.5-2.8-18.8z"/><path color="#189ae6" d="M320.9 294l2.8 4.8-2.2 0.4-2.7-13z"/><path color="#3e27ab" d="M228.5 392.7l2.7-1.4-2.1-0.9-2.8 1.4z"/><path color="#f1bd3b" d="M395.9 156.1l2.8 18.7-2.1 0.2-2.8-18.1z"/><path color="#a2c353" d="M303.4 198.4l2.8 8.4-2.2-12.4-2.7-5.4z"/><path color="#3e27aa" d="M470.8 393.4l2.7-0.7-2.1-1.4-2.8 0.6z"/><path color="#facc5b" d="M378.3 148.7l2.8 2.1-2.1 17.1-2.8-3.8z"/><path color="#26c09d" d="M285.9 240.2l2.8-16.8-2.2 11.4-2.7 16.3z"/><path color="#3f2ab2" d="M453.3 389.6l2.7 0.2-2.1-2.1-2.8-0.5z"/><path color="#f2bd3b" d="M360.8 160l2.8 8.8-2.2 3.1-2.7-12.3z"/><path color="#3974fc" d="M268.4 331.8l2.8-12.6-2.2 8.7-2.8 11.2z"/><path color="#4644e4" d="M435.8 364.7l2.7 6.4-2.1-6.1-2.8-7.6z"/><path color="#dbbd40" d="M343.3 187l2.8-24.9-2.2 6.2-2.7 25.1z"/><path color="#4331c7" d="M250.9 380.5l2.8-5.3-2.2 2.5-2.8 4.4z"/><path color="#169ce4" d="M418.3 289.5l2.7 15.6-2.1-10.2-2.8-16.7z"/><path color="#1a98e8" d="M325.8 300.3l2.8-8.9-2.2 7.3-2.7 0.1z"/><path color="#3f28ad" d="M233.4 392.1l2.8-1.6-2.2-0.7-2.8 1.5z"/><path color="#c2bf43" d="M400.8 179.6l2.7 20.8-2.1-5-2.8-20.6z"/><path color="#50c681" d="M308.3 223.9l2.8 14.8-2.2-16-2.7-15.9z"/><path color="#fcd85c" d="M383.3 137l2.7 4.6-2.1 13.9-2.8-4.7z"/><path color="#73c66c" d="M290.8 215.5l2.8-14.2-2.2 7.2-2.7 14.9z"/><path color="#3f28ae" d="M458.2 391.7l2.8-0.3-2.2-1.7-2.8 0.1z"/><path color="#f1c968" d="M365.8 164.3l2.7 5.5-2.1 9.1-2.8-10.1z"/><path color="#218fef" d="M273.3 310.1l2.8-15-2.2 10.5-2.7 13.6z"/><path color="#4434ce" d="M440.7 376.5l2.7 3.7-2.1-4.4-2.8-4.7z"/><path color="#fbc337" d="M348.2 160.9l2.8-11.6-2.1 0.5-2.8 12.3z"/><path color="#453dda" d="M255.8 372.1l2.8-7.8-2.2 4.5-2.7 6.4z"/><path color="#2b84f7" d="M423.2 316l2.7 12.5-2.1-9.4-2.8-14z"/><path color="#13a9d9" d="M330.7 288.6l2.8-23.5-2.1 9-2.8 17.3z"/><path color="#3f29b1" d="M238.3 391l2.8-2.1-2.2-0.3-2.7 1.9z"/><path color="#69c671" d="M405.7 209.5l2.7 20.4-2.1-8.5-2.8-21z"/><path color="#09b5bd" d="M313.2 256.2l2.8 15.2-2.2-13.8-2.7-18.9z"/><path color="#3e27aa" d="M220.8 394.2l2.8-1.2-2.2-1.1-2.8 1.2z"/><path color="#fadf5d" d="M388.2 131.9l2.7 9.6-2.1 8.1-2.8-8z"/><path color="#a8c250" d="M295.7 200l2.8-8.2-2.2-0.5-2.7 10z"/><path color="#3e28ac" d="M463.1 393.1l2.8-0.5-2.2-1.6-2.7 0.4z"/><path color="#f4ca62" d="M370.7 160.1l2.7 1.6-2.1 13.9-2.8-5.8z"/><path color="#0ea5da" d="M278.2 285l2.8-16.8-2.2 11.4-2.7 15.5z"/><path color="#412ebf" d="M445.6 384.1l2.8 2-2.2-3.3-2.8-2.6z"/><path color="#fdc834" d="M353.2 152.3l2.7-0.5-2.1-2-2.8-0.5z"/><path color="#484ff1" d="M260.7 359.4l2.8-9.7-2.2 6-2.7 8.6z"/><path color="#4367fc" d="M428.1 338.2l2.8 10.3-2.2-8.6-2.8-11.4z"/><path color="#19bcad" d="M335.7 259.9l2.7-33.8-2.1 9.3-2.8 29.7z"/><path color="#402bb6" d="M243.2 388.9l2.8-3-2.2 0.5-2.7 2.5z"/><path color="#18bcaa" d="M410.6 241.6l2.8 18.9-2.2-10.6-2.8-20z"/><path color="#10a3dc" d="M318.2 284.7l2.7 9.3-2.1-7.8-2.8-14.8z"/><path color="#3e27ab" d="M225.7 394l2.8-1.3-2.2-0.9-2.7 1.2z"/><path color="#fccb32" d="M393.1 139.8l2.7 16.3-2.1 0.8-2.8-15.4z"/><path color="#baca66" d="M300.6 198.6l2.8-0.2-2.1-9.4-2.8 2.8z"/><path color="#3e27ab" d="M468 394.1l2.8-0.7-2.2-1.5-2.7 0.7z"/><path color="#fccb51" d="M375.6 148.9l2.7-0.2-2.1 15.4-2.8-2.4z"/><path color="#0cb7ba" d="M283.1 258.1l2.8-17.9-2.1 10.9-2.8 17.1z"/><path color="#402bb6" d="M450.5 388.9l2.8 0.7-2.2-2.4-2.7-1.1z"/><path color="#fbc237" d="M358.1 155.5l2.7 4.5-2.1-0.4-2.8-7.8z"/><path color="#4565fc" d="M265.6 343.3l2.8-11.5-2.2 7.3-2.7 10.6z"/><path color="#4850f2" d="M433 356.9l2.8 7.8-2.2-7.3-2.7-8.9z"/><path color="#86c562" d="M340.6 221.2l2.7-34.2-2.1 6.4-2.8 32.7z"/><path color="#422ec0" d="M248.1 385l2.8-4.5-2.2 1.6-2.7 3.8z"/><path color="#09aad3" d="M415.5 273l2.8 16.5-2.2-11.3-2.7-17.7z"/><path color="#1e99e9" d="M323.1 301.5l2.7-1.2-2.1-1.5-2.8-4.8z"/><path color="#3e28ac" d="M230.6 393.6l2.8-1.5-2.2-0.8-2.7 1.4z"/><path color="#f0bc3c" d="M398 160.6l2.8 19-2.2-4.8-2.8-18.7z"/><path color="#7ac669" d="M305.6 214.9l2.7 9-2.1-17.1-2.8-8.4z"/><path color="#3e27aa" d="M472.9 394.8l2.8-0.8-2.2-1.3-2.7 0.7z"/><path color="#fada4b" d="M380.5 135.9l2.8 1.1-2.2 13.8-2.8-2.1z"/><path color="#45c589" d="M288.1 232.2l2.7-16.7-2.1 7.9-2.8 16.8z"/><path color="#3f29b0" d="M455.4 391.7l2.8 0-2.2-1.9-2.7-0.2z"/><path color="#f5c348" d="M363 160.5l2.8 3.8-2.2 4.5-2.8-8.8z"/><path color="#2e81f9" d="M270.6 324.2l2.7-14.1-2.1 9.1-2.8 12.6z"/><path color="#453dda" d="M437.9 371.5l2.8 5-2.2-5.4-2.7-6.4z"/><path color="#e7bb3e" d="M345.5 185.7l2.7-24.8-2.1 1.2-2.8 24.9z"/><path color="#4435cf" d="M253 378.5l2.8-6.4-2.1 3.1-2.8 5.3z"/><path color="#1d94eb" d="M420.4 302l2.8 14-2.2-10.9-2.7-15.6z"/><path color="#219ee7" d="M328 303l2.7-14.4-2.1 2.8-2.8 8.9z"/><path color="#3f29af" d="M235.5 392.9l2.8-1.9-2.1-0.5-2.8 1.6z"/><path color="#afc14d" d="M402.9 189.4l2.8 20.1-2.2-9.1-2.7-20.8z"/><path color="#23c0a2" d="M310.5 243.9l2.7 12.3-2.1-17.5-2.8-14.8z"/><path color="#f8e854" d="M385.4 127.3l2.8 4.6-2.2 9.7-2.7-4.6z"/><path color="#87c561" d="M293 212.5l2.7-12.5-2.1 1.3-2.8 14.2z"/><path color="#3f28ad" d="M460.4 393.5l2.7-0.4-2.1-1.7-2.8 0.3z"/><path color="#f7cb5f" d="M367.9 159.6l2.8 0.5-2.2 9.7-2.7-5.5z"/><path color="#1b99e8" d="M275.5 301.2l2.7-16.2-2.1 10.1-2.8 15z"/><path color="#4331c7" d="M442.8 381.4l2.8 2.7-2.2-3.9-2.7-3.7z"/><path color="#fbc94c" d="M350.4 164.6l2.8-12.3-2.2-3-2.8 11.6z"/><path color="#4644e4" d="M258 368.2l2.7-8.8-2.1 4.9-2.8 7.8z"/><path color="#3579fc" d="M425.3 327.1l2.8 11.1-2.2-9.7-2.7-12.5z"/><path color="#0fadd4" d="M332.9 287.8l2.8-27.9-2.2 5.2-2.8 23.5z"/><path color="#3f2ab3" d="M240.5 391.4l2.7-2.5-2.1 0-2.8 2.1z"/><path color="#4cc683" d="M407.8 222.3l2.8 19.3-2.2-11.7-2.7-20.4z"/><path color="#0cafcf" d="M315.4 274.1l2.8 10.6-2.2-13.3-2.8-15.2z"/><path color="#3e27aa" d="M223 395.3l2.7-1.3-2.1-1-2.8 1.2z"/><path color="#f7e339" d="M390.3 128l2.8 11.8-2.2 1.7-2.7-9.6z"/><path color="#b7cf77" d="M297.9 205l2.7-6.4-2.1-6.8-2.8 8.2z"/><path color="#3e27ab" d="M465.3 394.7l2.7-0.6-2.1-1.5-2.8 0.5z"/><path color="#fdc742" d="M372.8 151l2.8-2.1-2.2 12.8-2.7-1.6z"/><path color="#0aaecf" d="M280.4 275.9l2.7-17.8-2.1 10.1-2.8 16.8z"/><path color="#412dba" d="M447.8 387.7l2.7 1.2-2.1-2.8-2.8-2z"/><path color="#fecd53" d="M355.3 158.9l2.8-3.4-2.2-3.7-2.7 0.5z"/><path color="#4859f6" d="M262.9 354.2l2.7-10.9-2.1 6.4-2.8 9.7z"/><path color="#475df9" d="M430.3 348l2.7 8.9-2.1-8.4-2.8-10.3z"/><path color="#23c0a2" d="M337.8 257.6l2.8-36.4-2.2 4.9-2.7 33.8z"/><path color="#412cba" d="M245.4 388.7l2.7-3.7-2.1 0.9-2.8 3z"/><path color="#08b5bd" d="M412.8 255.7l2.7 17.3-2.1-12.5-2.8-18.9z"/><path color="#1d9fe5" d="M320.3 297.4l2.8 4.1-2.2-7.5-2.7-9.3z"/><path color="#3e27ab" d="M227.9 395l2.7-1.4-2.1-0.9-2.8 1.3z"/><path color="#fccb32" d="M395.2 144.5l2.8 16.1-2.2-4.5-2.7-16.3z"/><path color="#91c763" d="M302.8 212.1l2.8 2.8-2.2-16.5-2.8 0.2z"/><path color="#3e27aa" d="M470.2 395.6l2.7-0.8-2.1-1.4-2.8 0.7z"/><path color="#f9d62f" d="M377.7 138.1l2.8-2.2-2.2 12.8-2.7 0.2z"/><path color="#1dbda8" d="M285.3 250.2l2.8-18-2.2 8-2.8 17.9z"/><path color="#402bb3" d="M452.7 391.5l2.7 0.2-2.1-2.1-2.8-0.7z"/><path color="#f9c238" d="M360.2 161l2.8-0.5-2.2-0.5-2.7-4.5z"/><path color="#3e73fc" d="M267.8 336.9l2.8-12.7-2.2 7.6-2.8 11.5z"/><path color="#4848e9" d="M435.2 365l2.7 6.5-2.1-6.8-2.8-7.8z"/><path color="#95c459" d="M342.7 220.4l2.8-34.7-2.2 1.3-2.7 34.2z"/><path color="#4432c6" d="M250.3 383.7l2.7-5.2-2.1 2-2.8 4.5z"/><path color="#11a2df" d="M417.7 286.9l2.7 15.1-2.1-12.5-2.8-16.5z"/><path color="#4eacef" d="M325.2 308.8l2.8-5.8-2.2-2.7-2.7 1.2z"/><path color="#3f28ad" d="M232.8 394.5l2.7-1.6-2.1-0.8-2.8 1.5z"/><path color="#e7bb3e" d="M400.2 170.8l2.7 18.6-2.1-9.8-2.8-19z"/><path color="#44c58a" d="M307.7 235.6l2.8 8.3-2.2-20-2.7-9z"/><path color="#f8ea39" d="M382.7 126.8l2.7 0.5-2.1 9.7-2.8-1.1z"/><path color="#5ac77b" d="M290.2 228.2l2.8-15.7-2.2 3-2.7 16.7z"/><path color="#3f29af" d="M457.6 393.7l2.8-0.2-2.2-1.8-2.8 0z"/><path color="#f8c138" d="M365.2 161.5l2.7-1.9-2.1 4.7-2.8-3.8z"/><path color="#298ef2" d="M272.7 316.6l2.8-15.4-2.2 8.9-2.7 14.1z"/><path color="#483ad2" d="M440.1 377.6l2.7 3.8-2.1-4.9-2.8-5z"/><path color="#e8bd45" d="M347.6 189.4l2.8-24.8-2.2-3.7-2.7 24.8z"/><path color="#493fd8" d="M255.2 375.9l2.8-7.7-2.2 3.9-2.8 6.4z"/><path color="#268af3" d="M422.6 314.8l2.7 12.3-2.1-11.1-2.8-14z"/><path color="#209fe7" d="M330.1 306.1l2.8-18.3-2.2 0.8-2.7 14.4z"/><path color="#402ab0" d="M237.7 393.5l2.8-2.1-2.2-0.4-2.8 1.9z"/><path color="#8ec45c" d="M405.1 203.5l2.7 18.8-2.1-12.8-2.8-20.1z"/><path color="#0bb5c0" d="M312.6 264.9l2.8 9.2-2.2-17.9-2.7-12.3z"/><path color="#3e27aa" d="M220.2 396.5l2.8-1.2-2.2-1.1-2.8 1.1z"/><path color="#f9f245" d="M387.6 122.9l2.7 5.1-2.1 3.9-2.8-4.6z"/><path color="#97cc75" d="M295.1 215.1l2.8-10.1-2.2-5-2.7 12.5z"/><path color="#3f28ad" d="M462.5 395.2l2.8-0.5-2.2-1.6-2.7 0.4z"/><path color="#fcc436" d="M370.1 155.3l2.7-4.3-2.1 9.1-2.8-0.5z"/><path color="#16a3e0" d="M277.6 293l2.8-17.1-2.2 9.1-2.7 16.2z"/><path color="#4533c2" d="M445 385.7l2.8 2-2.2-3.6-2.8-2.7z"/><path color="#f9cd61" d="M352.6 173.1l2.7-14.2-2.1-6.6-2.8 12.3z"/><path color="#4d52f0" d="M260.1 363.9l2.8-9.7-2.2 5.2-2.7 8.8z"/><path color="#436ffc" d="M427.5 338.1l2.8 9.9-2.2-9.8-2.8-11.1z"/><path color="#0dafd0" d="M335.1 288.3l2.7-30.7-2.1 2.3-2.8 27.9z"/><path color="#422db6" d="M242.6 391.6l2.8-2.9-2.2 0.2-2.7 2.5z"/><path color="#28c09c" d="M410 238.1l2.8 17.6-2.2-14.1-2.8-19.3z"/><path color="#17a6de" d="M317.6 291.3l2.7 6.1-2.1-12.7-2.8-10.6z"/><path color="#3f28ab" d="M225.1 396.3l2.8-1.3-2.2-1-2.7 1.3z"/><path color="#f6e125" d="M392.5 131.9l2.7 12.6-2.1-4.7-2.8-11.8z"/><path color="#a4d282" d="M300 215.7l2.8-3.6-2.2-13.5-2.7 6.4z"/><path color="#3f28ab" d="M467.4 396.2l2.8-0.6-2.2-1.5-2.7 0.6z"/><path color="#f9d32d" d="M375 143.3l2.7-5.2-2.1 10.8-2.8 2.1z"/><path color="#0bb4c3" d="M282.5 268.5l2.8-18.3-2.2 7.9-2.7 17.8z"/><path color="#432fb8" d="M449.9 390.8l2.8 0.7-2.2-2.6-2.7-1.2z"/><path color="#facf65" d="M357.5 169l2.7-8-2.1-5.5-2.8 3.4z"/><path color="#4d67fb" d="M265 348.7l2.8-11.8-2.2 6.4-2.7 10.9z"/><path color="#4e59f4" d="M432.4 357.4l2.8 7.6-2.2-8.1-2.7-8.9z"/><path color="#2cc19c" d="M340 257.7l2.7-37.3-2.1 0.8-2.8 36.4z"/><path color="#4633c0" d="M247.5 388.1l2.8-4.4-2.2 1.3-2.7 3.7z"/><path color="#08aecd" d="M414.9 271.3l2.8 15.6-2.2-13.9-2.7-17.3z"/><path color="#2699ec" d="M322.5 309.1l2.7-0.3-2.1-7.3-2.8-4.1z"/><path color="#3f28ac" d="M230 396l2.8-1.5-2.2-0.9-2.7 1.4z"/><path color="#fcc336" d="M397.4 155l2.8 15.8-2.2-10.2-2.8-16.1z"/><path color="#59c77c" d="M305 231l2.7 4.6-2.1-20.7-2.8-2.8z"/><path color="#3e27aa" d="M472.3 397l2.8-0.8-2.2-1.4-2.7 0.8z"/><path color="#f7e821" d="M379.9 130.5l2.8-3.7-2.2 9.1-2.8 2.2z"/><path color="#2dc19b" d="M287.5 245.4l2.7-17.2-2.1 4-2.8 18z"/><path color="#412cb2" d="M454.8 393.8l2.8-0.1-2.2-2-2.7-0.2z"/><path color="#f9cb5a" d="M362.4 168.1l2.8-6.6-2.2-1-2.8 0.5z"/><path color="#3a81fc" d="M269.9 330.7l2.7-14.1-2.1 7.6-2.8 12.7z"/><path color="#4e48de" d="M437.3 372.6l2.8 5-2.2-6.1-2.7-6.5z"/><path color="#96c459" d="M344.9 223.5l2.7-34.1-2.1-3.7-2.8 34.7z"/><path color="#4a3ace" d="M252.4 382.1l2.8-6.2-2.2 2.6-2.7 5.2z"/><path color="#1d99e9" d="M419.8 301.5l2.8 13.3-2.2-12.8-2.7-15.1z"/><path color="#53abf2" d="M327.4 315.4l2.7-9.3-2.1-3.1-2.8 5.8z"/><path color="#402aaf" d="M234.9 395.3l2.8-1.8-2.2-0.6-2.7 1.6z"/><path color="#ccbe41" d="M402.3 186l2.8 17.5-2.2-14.1-2.7-18.6z"/><path color="#18bbaf" d="M309.9 258l2.7 6.9-2.1-21-2.8-8.3z"/><path color="#f9f51c" d="M384.8 122.9l2.8 0-2.2 4.4-2.7-0.5z"/><path color="#61c777" d="M292.4 228.7l2.7-13.6-2.1-2.6-2.8 15.7z"/><path color="#402aae" d="M459.7 395.6l2.8-0.4-2.1-1.7-2.8 0.2z"/><path color="#fac237" d="M367.3 163l2.8-7.7-2.2 4.3-2.7 1.9z"/><path color="#2498ec" d="M274.9 309.3l2.7-16.3-2.1 8.2-2.8 15.4z"/><path color="#4c3bcb" d="M442.2 382.9l2.8 2.8-2.2-4.3-2.7-3.8z"/><path color="#e1c75d" d="M349.8 198.1l2.8-25-2.2-8.5-2.8 24.8z"/><path color="#504ce2" d="M257.4 372.7l2.7-8.8-2.1 4.3-2.8 7.7z"/><path color="#3882fc" d="M424.7 327.5l2.8 10.6-2.2-11-2.7-12.3z"/><path color="#209fe7" d="M332.3 309l2.8-20.7-2.2-0.5-2.8 18.3z"/><path color="#422db3" d="M239.9 394l2.7-2.4-2.1-0.2-2.8 2.1z"/><path color="#61c676" d="M407.2 220.8l2.8 17.3-2.2-15.8-2.7-18.8z"/><path color="#10acd5" d="M314.8 285.3l2.8 6-2.2-17.2-2.8-9.2z"/><path color="#3f28aa" d="M222.3 397.6l2.7-1.3-2.1-1-2.8 1.2z"/><path color="#f8f21a" d="M389.7 125l2.8 6.9-2.2-3.9-2.7-5.1z"/><path color="#97d38e" d="M297.3 223.3l2.7-7.6-2.1-10.7-2.8 10.1z"/><path color="#3f29ac" d="M464.7 396.8l2.7-0.6-2.1-1.5-2.8 0.5z"/><path color="#fbcd30" d="M372.2 151.9l2.8-8.6-2.2 7.7-2.7 4.3z"/><path color="#10aad7" d="M279.8 286.2l2.7-17.7-2.1 7.4-2.8 17.1z"/><path color="#4835be" d="M447.2 389.5l2.7 1.3-2.1-3.1-2.8-2z"/><path color="#f3cb69" d="M354.7 186.3l2.8-17.3-2.2-10.1-2.7 14.2z"/><path color="#525ff5" d="M262.3 359.5l2.7-10.8-2.1 5.5-2.8 9.7z"/><path color="#5168fa" d="M429.7 348.9l2.8 8.5-2.1-9.4-2.8-9.9z"/><path color="#0dafce" d="M337.2 289.3l2.8-31.6-2.2-0.1-2.7 30.7z"/><path color="#4632ba" d="M244.8 391.6l2.7-3.5-2.1 0.6-2.8 2.9z"/><path color="#11b8b6" d="M412.1 255.6l2.8 15.7-2.1-15.6-2.8-17.6z"/><path color="#239ce9" d="M319.7 307.4l2.8 1.7-2.2-11.7-2.7-6.1z"/><path color="#3f28ac" d="M227.3 397.4l2.7-1.4-2.1-1-2.8 1.3z"/><path color="#f8d82a" d="M394.6 143.2l2.8 11.8-2.2-10.5-2.7-12.6z"/><path color="#77cf8d" d="M302.2 231.2l2.8-0.2-2.2-18.9-2.8 3.6z"/><path color="#3f28ab" d="M469.6 397.7l2.7-0.7-2.1-1.4-2.8 0.6z"/><path color="#f6e125" d="M377.1 138.3l2.8-7.8-2.2 7.6-2.7 5.2z"/><path color="#10b8b8" d="M284.7 263.3l2.8-17.9-2.2 4.8-2.8 18.3z"/><path color="#4430b5" d="M452.1 393.5l2.7 0.3-2.1-2.3-2.8-0.7z"/><path color="#f5cc6a" d="M359.6 181.7l2.8-13.6-2.2-7.1-2.7 8z"/><path color="#4b74fd" d="M267.2 343.2l2.8-12.5-2.2 6.2-2.8 11.8z"/><path color="#5557ed" d="M434.6 366.3l2.7 6.3-2.1-7.6-2.8-7.6z"/><path color="#2cc19b" d="M342.1 259.8l2.8-36.3-2.2-3.1-2.7 37.3z"/><path color="#4c3ac6" d="M249.7 387.2l2.7-5.1-2.1 1.6-2.8 4.4z"/><path color="#14a6dc" d="M417.1 287.6l2.7 13.9-2.1-14.6-2.8-15.6z"/><path color="#53a7f4" d="M324.6 319.9l2.8-4.5-2.2-6.6-2.7 0.3z"/><path color="#402aae" d="M232.2 396.9l2.7-1.6-2.1-0.8-2.8 1.5z"/><path color="#f1bd3c" d="M399.6 171l2.7 15-2.1-15.2-2.8-15.8z"/><path color="#22bfa3" d="M307.1 252.8l2.8 5.2-2.2-22.4-2.7-4.6z"/><path color="#f8f319" d="M382.1 127.6l2.8-4.7-2.1 3.9-2.8 3.7z"/><path color="#37c393" d="M289.6 244.3l2.8-15.6-2.2-0.5-2.7 17.2z"/><path color="#422cb0" d="M457 395.8l2.7-0.2-2.1-1.9-2.8 0.1z"/><path color="#f6ca5b" d="M364.5 175.9l2.8-12.9-2.1-1.5-2.8 6.6z"/><path color="#338cf6" d="M272.1 324.5l2.8-15.2-2.2 7.3-2.7 14.1z"/><path color="#5347d6" d="M439.5 379.2l2.7 3.7-2.1-5.3-2.8-5z"/><path color="#93cb71" d="M347 230.7l2.8-32.6-2.2-8.7-2.7 34.1z"/><path color="#5247d7" d="M254.6 380.1l2.8-7.4-2.2 3.2-2.8 6.2z"/><path color="#2c90f2" d="M422 316.1l2.7 11.4-2.1-12.7-2.8-13.3z"/><path color="#4ba4f3" d="M329.5 320.5l2.8-11.5-2.2-2.9-2.7 9.3z"/><path color="#422cb1" d="M237.1 396l2.8-2-2.2-0.5-2.8 1.8z"/><path color="#9dc356" d="M404.5 205l2.7 15.8-2.1-17.3-2.8-17.5z"/><path color="#0db0cc" d="M312 279.8l2.8 5.5-2.2-20.4-2.7-6.9z"/><path color="#f9f916" d="M387 125l2.7 0-2.1-2.1-2.8 0z"/><path color="#79d296" d="M294.5 233.8l2.8-10.5-2.2-8.2-2.7 13.6z"/><path color="#412aad" d="M461.9 397.3l2.8-0.5-2.2-1.6-2.8 0.4z"/><path color="#fcc436" d="M369.5 164.8l2.7-12.9-2.1 3.4-2.8 7.7z"/><path color="#1e9fe6" d="M277 303l2.8-16.8-2.2 6.8-2.7 16.3z"/><path color="#4e3dc6" d="M444.4 387.5l2.8 2-2.2-3.8-2.8-2.8z"/><path color="#cfcd6a" d="M352 211.9l2.7-25.6-2.1-13.2-2.8 25z"/><path color="#5758ec" d="M259.5 369.2l2.8-9.7-2.2 4.4-2.7 8.8z"/><path color="#4a77fd" d="M426.9 339.6l2.7 9.3-2.1-10.8-2.8-10.6z"/><path color="#219ee7" d="M334.4 310.7l2.8-21.4-2.1-1-2.8 20.7z"/><path color="#4631b6" d="M242 394.4l2.8-2.8-2.2 0-2.7 2.4z"/><path color="#32c296" d="M409.4 240.3l2.7 15.3-2.1-17.5-2.8-17.3z"/><path color="#1fa0e5" d="M316.9 305l2.8 2.4-2.1-16.1-2.8-6z"/><path color="#3f28ab" d="M224.5 398.7l2.8-1.3-2.2-1.1-2.7 1.3z"/><path color="#f7e920" d="M391.9 135.6l2.7 7.6-2.1-11.3-2.8-6.9z"/><path color="#7bd49b" d="M299.4 235.8l2.8-4.6-2.2-15.5-2.7 7.6z"/><path color="#4029ab" d="M466.8 398.4l2.8-0.7-2.2-1.5-2.7 0.6z"/><path color="#f9d62c" d="M374.4 150.1l2.7-11.8-2.1 5-2.8 8.6z"/><path color="#0dafcf" d="M281.9 281.1l2.8-17.8-2.2 5.2-2.7 17.7z"/><path color="#4935ba" d="M449.3 392.8l2.8 0.7-2.2-2.7-2.7-1.3z"/><path color="#e0cd6d" d="M356.9 203l2.7-21.3-2.1-12.7-2.8 17.3z"/><path color="#5569f9" d="M264.4 354.9l2.8-11.7-2.2 5.5-2.7 10.8z"/><path color="#5864f5" d="M431.8 359.1l2.8 7.2-2.2-8.9-2.8-8.5z"/><path color="#0db0ce" d="M339.4 290.4l2.7-30.6-2.1-2.1-2.8 31.6z"/><path color="#4b39c0" d="M246.9 391.3l2.8-4.1-2.2 0.9-2.7 3.5z"/><path color="#0cb0cb" d="M414.3 273.9l2.8 13.7-2.2-16.3-2.8-15.7z"/><path color="#50a4f4" d="M321.9 325.4l2.7-5.5-2.1-10.8-2.8-1.7z"/><path color="#402aac" d="M229.4 398.4l2.8-1.5-2.2-0.9-2.7 1.4z"/><path color="#fdc535" d="M396.8 159.8l2.8 11.2-2.2-16-2.8-11.8z"/><path color="#37c4a0" d="M304.4 249.7l2.7 3.1-2.1-21.8-2.8 0.2z"/><path color="#3f28aa" d="M471.7 399.2l2.8-0.8-2.2-1.4-2.7 0.7z"/><path color="#f7ea1f" d="M379.3 136.9l2.7-9.3-2.1 2.9-2.8 7.8z"/><path color="#16bbb1" d="M286.9 261l2.8-16.7-2.1 1.1-2.8 17.9z"/><path color="#4530b3" d="M454.2 395.9l2.8-0.1-2.2-2-2.7-0.3z"/><path color="#e9ca69" d="M361.8 195.4l2.7-19.5-2.1-7.8-2.8 13.6z"/><path color="#457efd" d="M269.3 338.2l2.8-13.7-2.1 6.2-2.8 12.5z"/><path color="#5954e2" d="M436.7 374.4l2.8 4.8-2.2-6.6-2.7-6.3z"/><path color="#2fc3a6" d="M344.3 264.3l2.7-33.6-2.1-7.2-2.8 36.3z"/><path color="#5242cd" d="M251.8 386l2.8-5.9-2.2 2-2.7 5.1z"/><path color="#219ce8" d="M419.2 304l2.8 12.1-2.2-14.6-2.7-13.9z"/><path color="#65a8f8" d="M326.8 329.9l2.7-9.4-2.1-5.1-2.8 4.5z"/><path color="#422caf" d="M234.3 397.8l2.8-1.8-2.2-0.7-2.7 1.6z"/><path color="#cfbe41" d="M401.7 191.3l2.8 13.7-2.2-19-2.7-15z"/><path color="#0cb4c4" d="M309.3 274.3l2.7 5.5-2.1-21.8-2.8-5.2z"/><path color="#f9f72f" d="M384.2 130.2l2.8-5.2-2.2-2.1-2.8 4.7z"/><path color="#4ac9a0" d="M291.8 246.9l2.7-13.1-2.1-5.1-2.8 15.6z"/><path color="#422caf" d="M459.1 397.7l2.8-0.4-2.2-1.7-2.7 0.2z"/><path color="#f3c553" d="M366.7 183.2l2.8-18.4-2.2-1.8-2.8 12.9z"/><path color="#2c94f0" d="M274.3 318.9l2.7-15.9-2.1 6.3-2.8 15.2z"/><path color="#5546cf" d="M441.6 384.9l2.8 2.6-2.2-4.6-2.7-3.7z"/><path color="#84d08a" d="M349.2 242.3l2.8-30.4-2.2-13.8-2.8 32.6z"/><path color="#5952df" d="M256.8 377.6l2.7-8.4-2.1 3.5-2.8 7.4z"/><path color="#3d86fb" d="M424.1 330l2.8 9.6-2.2-12.1-2.7-11.4z"/><path color="#3998f3" d="M331.7 323.1l2.7-12.4-2.1-1.7-2.8 11.5z"/><path color="#4530b3" d="M239.2 396.7l2.8-2.3-2.1-0.4-2.8 2z"/><path color="#63c776" d="M406.6 226.2l2.8 14.1-2.2-19.5-2.7-15.8z"/><path color="#1aa4e1" d="M314.2 300.5l2.7 4.5-2.1-19.7-2.8-5.5z"/><path color="#f8f11e" d="M389.1 133.8l2.8 1.8-2.2-10.6-2.7 0z"/><path color="#70d3a7" d="M296.7 242.8l2.7-7-2.1-12.5-2.8 10.5z"/><path color="#412aad" d="M464.1 399l2.7-0.6-2.1-1.6-2.8 0.5z"/><path color="#fec536" d="M371.6 166.8l2.8-16.7-2.2 1.8-2.7 12.9z"/><path color="#19a4e0" d="M279.2 298l2.7-16.9-2.1 5.1-2.8 16.8z"/><path color="#4f3dc1" d="M446.6 391.6l2.7 1.2-2.1-3.3-2.8-2z"/><path color="#add17f" d="M354.1 230.2l2.8-27.2-2.2-16.7-2.7 25.6z"/><path color="#5a61f3" d="M261.7 365.5l2.7-10.6-2.1 4.6-2.8 9.7z"/><path color="#586ffb" d="M429 351.2l2.8 7.9-2.2-10.2-2.7-9.3z"/><path color="#209fe7" d="M336.6 311l2.8-20.6-2.2-1.1-2.8 21.4z"/><path color="#4a36ba" d="M244.2 394.6l2.7-3.3-2.1 0.3-2.8 2.8z"/><path color="#11b9b6" d="M411.5 260.5l2.8 13.4-2.2-18.3-2.7-15.3z"/><path color="#4da1f4" d="M319.1 330.8l2.8-5.4-2.2-18-2.8-2.4z"/><path color="#4029ac" d="M226.7 399.7l2.7-1.3-2.1-1-2.8 1.3z"/><path color="#f9d52c" d="M394 153l2.8 6.8-2.2-16.6-2.7-7.6z"/><path color="#51ccab" d="M301.6 250.8l2.8-1.1-2.2-18.5-2.8 4.6z"/><path color="#4029ab" d="M469 399.9l2.7-0.7-2.1-1.5-2.8 0.7z"/><path color="#f7db29" d="M376.5 150.7l2.8-13.8-2.2 1.4-2.7 11.8z"/><path color="#0cb2c9" d="M284.1 278l2.7-17-2.1 2.3-2.8 17.8z"/><path color="#4934b7" d="M451.5 395.6l2.7 0.3-2.1-2.4-2.8-0.7z"/><path color="#c0d076" d="M359 221.8l2.8-26.4-2.2-13.7-2.7 21.3z"/><path color="#5572fd" d="M266.6 350.5l2.7-12.3-2.1 5-2.8 11.7z"/><path color="#5d60ef" d="M434 368.5l2.7 5.9-2.1-8.1-2.8-7.2z"/><path color="#0dafd0" d="M341.5 292.1l2.8-27.8-2.2-4.5-2.7 30.6z"/><path color="#5240c6" d="M249.1 390.8l2.7-4.8-2.1 1.2-2.8 4.1z"/><path color="#16a6dd" d="M416.5 291.9l2.7 12.1-2.1-16.4-2.8-13.7z"/><path color="#73a5fd" d="M324 348.5l2.8-18.6-2.2-10-2.7 5.5z"/><path color="#412bae" d="M231.6 399.3l2.7-1.5-2.1-0.9-2.8 1.5z"/><path color="#eebb3d" d="M399 180.9l2.7 10.4-2.1-20.3-2.8-11.2z"/><path color="#0db7bc" d="M306.5 269l2.8 5.3-2.2-21.5-2.7-3.1z"/><path color="#f8ee35" d="M381.4 140.1l2.8-9.9-2.2-2.6-2.7 9.3z"/><path color="#18bbae" d="M289 261.7l2.8-14.8-2.2-2.6-2.8 16.7z"/><path color="#452fb2" d="M456.4 398l2.7-0.3-2.1-1.9-2.8 0.1z"/><path color="#d5ca64" d="M363.9 207.9l2.8-24.7-2.2-7.3-2.7 19.5z"/><path color="#3e87fb" d="M271.5 333.4l2.8-14.5-2.2 5.6-2.8 13.7z"/><path color="#5c51d9" d="M438.9 381.4l2.7 3.5-2.1-5.7-2.8-4.8z"/><path color="#39c5b7" d="M346.4 271.7l2.8-29.4-2.2-11.6-2.7 33.6z"/><path color="#594bd5" d="M254 384.5l2.8-6.9-2.2 2.5-2.8 5.9z"/><path color="#2f92f2" d="M421.4 319.8l2.7 10.2-2.1-13.9-2.8-12.1z"/><path color="#599afa" d="M328.9 335.1l2.8-12-2.2-2.6-2.7 9.4z"/><path color="#442eb1" d="M236.5 398.6l2.7-1.9-2.1-0.7-2.8 1.8z"/><path color="#93c45b" d="M403.9 214.1l2.7 12.1-2.1-21.2-2.8-13.7z"/><path color="#14a8da" d="M311.4 293.9l2.8 6.6-2.2-20.7-2.7-5.5z"/><path color="#f9f34e" d="M386.4 138.4l2.7-4.6-2.1-8.8-2.8 5.2z"/><path color="#56ceb2" d="M293.9 252.8l2.8-10-2.2-9-2.7 13.1z"/><path color="#422cae" d="M461.3 399.5l2.8-0.5-2.2-1.7-2.8 0.4z"/><path color="#f0c049" d="M368.9 188.9l2.7-22.1-2.1-2-2.8 18.4z"/><path color="#2699ec" d="M276.4 314.1l2.8-16.1-2.2 5-2.7 15.9z"/><path color="#5645c9" d="M443.8 389.7l2.8 1.9-2.2-4.1-2.8-2.6z"/><path color="#6ad1a5" d="M351.4 258.7l2.7-28.5-2.1-18.3-2.8 30.4z"/><path color="#5e5ce8" d="M258.9 374.9l2.8-9.4-2.2 3.7-2.7 8.4z"/><path color="#4e7bfd" d="M426.3 342.8l2.7 8.4-2.1-11.6-2.8-9.6z"/><path color="#2f93f2" d="M333.8 322.4l2.8-11.4-2.2-0.3-2.7 12.4z"/><path color="#4834b6" d="M241.4 397.2l2.8-2.6-2.2-0.2-2.8 2.3z"/><path color="#2bc19c" d="M408.8 248.2l2.7 12.3-2.1-20.2-2.8-14.1z"/><path color="#2e95f1" d="M316.3 325.8l2.8 5-2.2-25.8-2.7-4.5z"/><path color="#f7dd2a" d="M391.3 150.6l2.7 2.4-2.1-17.4-2.8-1.8z"/><path color="#55ceb5" d="M298.8 254.6l2.8-3.8-2.2-15-2.7 7z"/><path color="#412aac" d="M466.2 400.6l2.8-0.7-2.2-1.5-2.7 0.6z"/><path color="#fdc535" d="M373.8 169.3l2.7-18.6-2.1-0.6-2.8 16.7z"/><path color="#14a8da" d="M281.3 294.7l2.8-16.7-2.2 3.1-2.7 16.9z"/><path color="#4e3bbd" d="M448.7 395l2.8 0.6-2.2-2.8-2.7-1.2z"/><path color="#80d49a" d="M356.3 253.9l2.7-32.1-2.1-18.8-2.8 27.2z"/><path color="#5b69f7" d="M263.8 361.9l2.8-11.4-2.2 4.4-2.7 10.6z"/><path color="#5e69f5" d="M431.2 361.9l2.8 6.6-2.2-9.4-2.8-7.9z"/><path color="#209fe6" d="M338.8 310.2l2.7-18.1-2.1-1.7-2.8 20.6z"/><path color="#503dbf" d="M246.3 394.6l2.8-3.8-2.2 0.5-2.7 3.3z"/><path color="#0dafce" d="M413.7 280.5l2.8 11.4-2.2-18-2.8-13.4z"/><path color="#7f9bfd" d="M321.3 369.5l2.7-21-2.1-23.1-2.8 5.4z"/><path color="#412bad" d="M228.8 400.8l2.8-1.5-2.2-0.9-2.7 1.3z"/><path color="#f7c039" d="M396.2 174.4l2.8 6.5-2.2-21.1-2.8-6.8z"/><path color="#22bdbb" d="M303.8 266.6l2.7 2.4-2.1-19.3-2.8 1.1z"/><path color="#4029aa" d="M471.1 401.4l2.8-0.8-2.2-1.4-2.7 0.7z"/><path color="#f8de3d" d="M378.7 154.4l2.7-14.3-2.1-3.2-2.8 13.8z"/><path color="#0cb3c5" d="M286.2 277.2l2.8-15.5-2.2-0.7-2.7 17z"/><path color="#4833b5" d="M453.6 398.1l2.8-0.1-2.2-2.1-2.7-0.3z"/><path color="#98d186" d="M361.2 240.7l2.7-32.8-2.1-12.5-2.8 26.4z"/><path color="#4f7afd" d="M268.7 346.3l2.8-12.9-2.2 4.8-2.7 12.3z"/><path color="#615ce3" d="M436.1 376.9l2.8 4.5-2.2-7-2.7-5.9z"/><path color="#20b4d6" d="M343.7 295l2.7-23.3-2.1-7.4-2.8 27.8z"/><path color="#5848cc" d="M251.2 390l2.8-5.5-2.2 1.5-2.7 4.8z"/><path color="#249bea" d="M418.6 309.5l2.8 10.3-2.2-15.8-2.7-12.1z"/><path color="#7493fd" d="M326.2 362.2l2.7-27.1-2.1-5.2-2.8 18.6z"/><path color="#432daf" d="M233.7 400.3l2.8-1.7-2.2-0.8-2.7 1.5z"/><path color="#bbc047" d="M401.1 204.7l2.8 9.4-2.2-22.8-2.7-10.4z"/><path color="#0eadd3" d="M308.7 286.7l2.7 7.2-2.1-19.6-2.8-5.3z"/><path color="#f9eb55" d="M383.6 148.1l2.8-9.7-2.2-8.2-2.8 9.9z"/><path color="#36c4bc" d="M291.2 265l2.7-12.2-2.1-5.9-2.8 14.8z"/><path color="#442eb0" d="M458.5 399.9l2.8-0.4-2.2-1.8-2.7 0.3z"/><path color="#bfc85f" d="M366.1 216.9l2.8-28-2.2-5.7-2.8 24.7z"/><path color="#378df6" d="M273.7 329.1l2.7-15-2.1 4.8-2.8 14.5z"/><path color="#5c4ed1" d="M441 387.3l2.8 2.4-2.2-4.8-2.7-3.5z"/><path color="#3cc5cb" d="M348.6 283.1l2.8-24.4-2.2-16.4-2.8 29.4z"/><path color="#5f55dc" d="M256.1 382.8l2.7-7.9-2.1 2.7-2.8 6.9z"/><path color="#4186fc" d="M423.5 334.3l2.8 8.5-2.2-12.8-2.7-10.2z"/><path color="#3c89f9" d="M331.1 331.7l2.7-9.3-2.1 0.7-2.8 12z"/><path color="#4731b3" d="M238.6 399.3l2.8-2.1-2.2-0.5-2.7 1.9z"/><path color="#4fc682" d="M406 237.6l2.8 10.6-2.2-22-2.7-12.1z"/><path color="#269aeb" d="M313.6 312.8l2.7 13-2.1-25.3-2.8-6.6z"/><path color="#f8e450" d="M388.5 153.2l2.8-2.6-2.2-16.8-2.7 4.6z"/><path color="#52cdbf" d="M296.1 261.1l2.7-6.5-2.1-11.8-2.8 10z"/><path color="#422bad" d="M463.5 401.2l2.8-0.6-2.1-1.6-2.8 0.5z"/><path color="#ecbc43" d="M371 192.8l2.8-23.5-2.2-2.5-2.7 22.1z"/><path color="#229de8" d="M278.6 310.4l2.7-15.7-2.1 3.3-2.8 16.1z"/><path color="#5543c3" d="M445.9 393.9l2.8 1.1-2.1-3.4-2.8-1.9z"/><path color="#4ecbc5" d="M353.5 285.4l2.8-31.5-2.2-23.7-2.7 28.5z"/><path color="#6163f0" d="M261.1 372l2.7-10.1-2.1 3.6-2.8 9.4z"/><path color="#5c71fb" d="M428.4 354.9l2.8 7-2.2-10.7-2.7-8.4z"/><path color="#2b95f0" d="M336 319.2l2.8-9-2.2 0.8-2.8 11.4z"/><path color="#4d39ba" d="M243.6 397.6l2.7-3-2.1 0-2.8 2.6z"/><path color="#0bb6be" d="M410.9 269.9l2.8 10.6-2.2-20-2.7-12.3z"/><path color="#5b7afd" d="M318.5 361.8l2.8 7.7-2.2-38.7-2.8-5z"/><path color="#fcc53c" d="M393.4 172.2l2.8 2.2-2.2-21.4-2.7-2.4z"/><path color="#38c4c2" d="M301 267.3l2.8-0.7-2.2-15.8-2.8 3.8z"/><path color="#402aab" d="M468.4 402.1l2.7-0.7-2.1-1.5-2.8 0.7z"/><path color="#fdc844" d="M375.9 173.1l2.8-18.7-2.2-3.7-2.7 18.6z"/><path color="#11abd7" d="M283.5 292.9l2.7-15.7-2.1 0.8-2.8 16.7z"/><path color="#4d39b9" d="M450.9 397.9l2.7 0.2-2.1-2.5-2.8-0.6z"/><path color="#52cdbb" d="M358.4 286.3l2.8-45.6-2.2-18.9-2.7 32.1z"/><path color="#5b70fa" d="M266 358.4l2.7-12.1-2.1 4.2-2.8 11.4z"/><path color="#6365ee" d="M433.4 371.6l2.7 5.3-2.1-8.4-2.8-6.6z"/><path color="#1fa0e6" d="M340.9 309.1l2.8-14.1-2.2-2.9-2.7 18.1z"/><path color="#5544c4" d="M248.5 394.4l2.7-4.4-2.1 0.8-2.8 3.8z"/><path color="#19a4e0" d="M415.9 299.4l2.8 10.1-2.1-17.6-2.8-11.4z"/><path color="#9092f5" d="M323.4 393.4l2.8-31.2-2.2-13.7-2.7 21z"/><path color="#422cae" d="M231 401.8l2.7-1.5-2.1-1-2.8 1.5z"/><path color="#d3be41" d="M398.3 198.6l2.8 6.1-2.1-23.8-2.8-6.5z"/><path color="#0db1cc" d="M305.9 281.2l2.8 5.5-2.2-17.7-2.7-2.4z"/><path color="#fadc57" d="M380.8 161.8l2.8-13.7-2.2-8-2.7 14.3z"/><path color="#14b6c7" d="M288.4 278.5l2.8-13.5-2.2-3.3-2.8 15.5z"/><path color="#4732b3" d="M455.8 400.2l2.7-0.3-2.1-1.9-2.8 0.1z"/><path color="#6ecf90" d="M363.3 254.6l2.8-37.7-2.2-9-2.7 32.8z"/><path color="#4981fd" d="M270.9 342.8l2.8-13.7-2.2 4.3-2.8 12.9z"/><path color="#6257da" d="M438.3 384.2l2.7 3.1-2.1-5.9-2.8-4.5z"/><path color="#3bb8df" d="M345.8 300l2.8-16.9-2.2-11.4-2.7 23.3z"/><path color="#5d4fd2" d="M253.4 389.1l2.8-6.3-2.2 1.7-2.8 5.5z"/><path color="#3490f4" d="M420.8 325.7l2.7 8.6-2.1-14.5-2.8-10.3z"/><path color="#567cfd" d="M328.3 350.4l2.8-18.7-2.2 3.4-2.7 27.1z"/><path color="#452fb1" d="M235.9 401.1l2.7-1.8-2.1-0.7-2.8 1.7z"/><path color="#72c66d" d="M403.3 229.4l2.7 8.2-2.1-23.5-2.8-9.4z"/><path color="#1ca2e3" d="M310.8 301.3l2.8 11.5-2.2-18.9-2.7-7.2z"/><path color="#fae05f" d="M385.8 160.7l2.7-7.5-2.1-14.8-2.8 9.7z"/><path color="#41c6c8" d="M293.3 270.4l2.8-9.3-2.2-8.3-2.7 12.2z"/><path color="#442eaf" d="M460.7 401.8l2.7-0.6-2.1-1.7-2.8 0.4z"/><path color="#abc456" d="M368.2 221.1l2.8-28.3-2.1-3.9-2.8 28z"/><path color="#3092f2" d="M275.8 325.6l2.8-15.2-2.2 3.7-2.7 15z"/><path color="#5c4cca" d="M443.2 392.2l2.7 1.7-2.1-4.2-2.8-2.4z"/><path color="#4bc2de" d="M350.7 304.1l2.8-18.7-2.1-26.7-2.8 24.4z"/><path color="#635de2" d="M258.3 380.9l2.8-8.9-2.2 2.9-2.7 7.9z"/><path color="#537afd" d="M425.7 347.5l2.7 7.4-2.1-12.1-2.8-8.5z"/><path color="#2987f5" d="M333.2 323.5l2.8-4.3-2.2 3.2-2.7 9.3z"/><path color="#4a35b6" d="M240.8 400l2.8-2.4-2.2-0.4-2.8 2.1z"/><path color="#1bbdab" d="M408.2 260.7l2.7 9.2-2.1-21.7-2.8-10.6z"/><path color="#4387fc" d="M315.7 332.9l2.8 28.9-2.2-36-2.7-13z"/><path color="#fdcd55" d="M390.7 174.1l2.7-1.9-2.1-21.6-2.8 2.6z"/><path color="#43c7c9" d="M298.2 270.5l2.8-3.2-2.2-12.7-2.7 6.5z"/><path color="#422bac" d="M465.6 402.8l2.8-0.7-2.2-1.5-2.8 0.6z"/><path color="#e7bd45" d="M373.2 195.8l2.7-22.7-2.1-3.8-2.8 23.5z"/><path color="#1ea0e5" d="M280.7 308.2l2.8-15.3-2.2 1.8-2.7 15.7z"/><path color="#5340be" d="M448.1 397.4l2.8 0.5-2.2-2.9-2.8-1.1z"/><path color="#4fbee3" d="M355.7 333.1l2.7-46.8-2.1-32.4-2.8 31.5z"/><path color="#6169f4" d="M263.2 369.2l2.8-10.8-2.2 3.5-2.7 10.1z"/><path color="#626cf5" d="M430.6 365.8l2.8 5.8-2.2-9.7-2.8-7z"/><path color="#2194ed" d="M338.2 314.6l2.7-5.5-2.1 1.1-2.8 9z"/><path color="#523fbe" d="M245.7 397.9l2.8-3.5-2.2 0.2-2.7 3z"/><path color="#10acd5" d="M413.1 290.3l2.7 9.1-2.1-18.9-2.8-10.6z"/><path color="#7571e7" d="M320.6 383.6l2.8 9.8-2.1-23.9-2.8-7.7z"/><path color="#e1be46" d="M395.6 196.2l2.7 2.4-2.1-24.2-2.8-2.2z"/><path color="#19b6cb" d="M303.1 279.2l2.8 2-2.1-14.6-2.8 0.7z"/><path color="#4029ab" d="M470.5 403.6l2.8-0.8-2.2-1.4-2.7 0.7z"/><path color="#facb57" d="M378.1 179.1l2.7-17.3-2.1-7.4-2.8 18.7z"/><path color="#10acd5" d="M285.6 292.8l2.8-14.3-2.2-1.3-2.7 15.7z"/><path color="#4b36b6" d="M453 400.4l2.8-0.2-2.2-2.1-2.7-0.2z"/><path color="#36bfd1" d="M360.6 313.8l2.7-59.2-2.1-13.9-2.8 45.6z"/><path color="#5a75fd" d="M268.1 355.1l2.8-12.3-2.2 3.5-2.7 12.1z"/><path color="#6660e3" d="M435.5 380.2l2.8 4-2.2-7.3-2.7-5.3z"/><path color="#2ba4e7" d="M343.1 308.5l2.7-8.5-2.1-5-2.8 14.1z"/><path color="#5b4bc9" d="M250.6 394.1l2.8-5-2.2 0.9-2.7 4.4z"/><path color="#2898ed" d="M418 317.2l2.8 8.5-2.2-16.2-2.8-10.1z"/><path color="#585cf0" d="M325.6 371.6l2.7-21.2-2.1 11.8-2.8 31.2z"/><path color="#442eaf" d="M233.1 402.8l2.8-1.7-2.2-0.8-2.7 1.5z"/><path color="#8dc55e" d="M400.5 223.9l2.8 5.5-2.2-24.7-2.8-6.1z"/><path color="#14a8da" d="M308.1 293l2.7 8.3-2.1-14.6-2.8-5.5z"/><path color="#fdd465" d="M383 172.8l2.8-12.1-2.2-12.6-2.8 13.7z"/><path color="#2cbccf" d="M290.6 281.5l2.7-11.1-2.1-5.4-2.8 13.5z"/><path color="#4630b1" d="M457.9 402.2l2.8-0.4-2.2-1.9-2.7 0.3z"/><path color="#45c589" d="M365.5 256.8l2.7-35.7-2.1-4.2-2.8 37.7z"/><path color="#4286fc" d="M273 339.7l2.8-14.1-2.1 3.5-2.8 13.7z"/><path color="#6253d2" d="M440.4 390.1l2.8 2.1-2.2-4.9-2.7-3.1z"/><path color="#54b9ea" d="M348 309.8l2.7-5.7-2.1-21-2.8 16.9z"/><path color="#6357d8" d="M255.5 388.1l2.8-7.2-2.1 1.9-2.8 6.3z"/><path color="#4784fd" d="M422.9 340.3l2.8 7.2-2.2-13.2-2.7-8.6z"/><path color="#327dfb" d="M330.5 328.8l2.7-5.3-2.1 8.2-2.8 18.7z"/><path color="#4832b3" d="M238 402l2.8-2-2.2-0.7-2.7 1.8z"/><path color="#2fc299" d="M405.4 253.4l2.8 7.3-2.2-23.1-2.7-8.2z"/><path color="#2394ed" d="M313 312.1l2.7 20.8-2.1-20.1-2.8-11.5z"/><path color="#fbcf63" d="M387.9 179.6l2.8-5.5-2.2-20.9-2.7 7.5z"/><path color="#43c6d0" d="M295.5 276.8l2.7-6.3-2.1-9.4-2.8 9.3z"/><path color="#432dae" d="M462.8 403.5l2.8-0.7-2.2-1.6-2.7 0.6z"/><path color="#a3c353" d="M370.4 221.7l2.8-25.9-2.2-3-2.8 28.3z"/><path color="#2c96ef" d="M278 323l2.7-14.8-2.1 2.2-2.8 15.2z"/><path color="#5a48c4" d="M445.3 396.4l2.8 1-2.2-3.5-2.7-1.7z"/><path color="#5daef3" d="M352.9 346.3l2.8-13.2-2.2-47.7-2.8 18.7z"/><path color="#6564e9" d="M260.5 378.8l2.7-9.6-2.1 2.8-2.8 8.9z"/><path color="#5f72f9" d="M427.8 359.7l2.8 6.1-2.2-10.9-2.7-7.4z"/><path color="#218fef" d="M335.4 314.4l2.8 0.2-2.2 4.6-2.8 4.3z"/><path color="#4e3ab9" d="M243 400.6l2.7-2.7-2.1-0.3-2.8 2.4z"/><path color="#0cb1c9" d="M410.3 282.4l2.8 7.9-2.2-20.4-2.7-9.2z"/><path color="#475ffa" d="M317.9 343.9l2.7 39.7-2.1-21.8-2.8-28.9z"/><path color="#e7c559" d="M392.8 197.4l2.8-1.2-2.2-24-2.7 1.9z"/><path color="#31bed0" d="M300.4 279.5l2.7-0.3-2.1-11.9-2.8 3.2z"/><path color="#412aac" d="M467.8 404.4l2.7-0.8-2.1-1.5-2.8 0.7z"/><path color="#e2c250" d="M375.3 199.4l2.8-20.3-2.2-6-2.7 22.7z"/><path color="#1ca2e3" d="M282.9 307.2l2.7-14.4-2.1 0.1-2.8 15.3z"/><path color="#503cba" d="M450.3 400.3l2.7 0.1-2.1-2.5-2.8-0.5z"/><path color="#67a7f9" d="M357.8 377.9l2.8-64.1-2.2-27.5-2.7 46.8z"/><path color="#616df6" d="M265.4 366.6l2.7-11.5-2.1 3.3-2.8 10.8z"/><path color="#6767ed" d="M432.8 375.6l2.7 4.6-2.1-8.6-2.8-5.8z"/><path color="#1b96ea" d="M340.3 309.2l2.8-0.7-2.2 0.6-2.7 5.5z"/><path color="#5846c2" d="M247.9 398.1l2.7-4-2.1 0.3-2.8 3.5z"/><path color="#1f9fe6" d="M415.2 309.2l2.8 8-2.2-17.8-2.7-9.1z"/><path color="#716de7" d="M322.8 363.8l2.8 7.8-2.2 21.8-2.8-9.8z"/><path color="#a1c55b" d="M397.7 221.3l2.8 2.6-2.2-25.3-2.7-2.4z"/><path color="#0facd4" d="M305.3 288.8l2.8 4.2-2.2-11.8-2.8-2z"/><path color="#f5cc65" d="M380.2 187.9l2.8-15.1-2.2-11-2.7 17.3z"/><path color="#17aed7" d="M287.8 294.1l2.8-12.6-2.2-3-2.8 14.3z"/><path color="#4934b3" d="M455.2 402.5l2.7-0.3-2.1-2-2.8 0.2z"/><path color="#0eaed2" d="M362.7 309.5l2.8-52.7-2.2-2.2-2.7 59.2z"/><path color="#547afd" d="M270.3 352.3l2.7-12.6-2.1 3.1-2.8 12.3z"/><path color="#675cda" d="M437.7 387.4l2.7 2.7-2.1-5.9-2.8-4z"/><path color="#4db0ec" d="M345.2 309.4l2.8 0.4-2.2-9.8-2.7 8.5z"/><path color="#6152cf" d="M252.8 393.7l2.7-5.6-2.1 1-2.8 5z"/><path color="#3b8cf8" d="M420.2 333.2l2.7 7.1-2.1-14.6-2.8-8.5z"/><path color="#3f6cfc" d="M327.7 334.1l2.8-5.3-2.2 21.6-2.7 21.2z"/><path color="#4630b0" d="M235.3 403.7l2.7-1.7-2.1-0.9-2.8 1.7z"/><path color="#44c58a" d="M402.7 248.3l2.7 5.1-2.1-24-2.8-5.5z"/><path color="#159ee3" d="M310.2 301l2.8 11.1-2.2-10.8-2.7-8.3z"/><path color="#f6ce6b" d="M385.2 188.5l2.7-8.9-2.1-18.9-2.8 12.1z"/><path color="#39bfd5" d="M292.7 285.6l2.8-8.8-2.2-6.4-2.7 11.1z"/><path color="#452faf" d="M460.1 404l2.7-0.5-2.1-1.7-2.8 0.4z"/><path color="#48c587" d="M367.6 250.5l2.8-28.8-2.2-0.6-2.7 35.7z"/><path color="#3d8af9" d="M275.2 337.2l2.8-14.2-2.2 2.6-2.8 14.1z"/><path color="#6050cb" d="M442.6 395.1l2.7 1.3-2.1-4.2-2.8-2.1z"/><path color="#3293f3" d="M350.1 329.5l2.8 16.8-2.2-42.2-2.7 5.7z"/><path color="#675edd" d="M257.7 386.9l2.8-8.1-2.2 2.1-2.8 7.2z"/><path color="#5978fd" d="M425.1 353.4l2.7 6.3-2.1-12.2-2.8-7.2z"/><path color="#228ff0" d="M332.6 312.3l2.8 2.1-2.2 9.1-2.7 5.3z"/><path color="#4b36b5" d="M240.2 402.8l2.8-2.2-2.2-0.6-2.8 2z"/><path color="#0bb6bf" d="M407.6 276l2.7 6.4-2.1-21.7-2.8-7.3z"/><path color="#2887f5" d="M315.1 316.9l2.8 27-2.2-11-2.7-20.8z"/><path color="#e4c965" d="M390.1 201.8l2.7-4.4-2.1-23.3-2.8 5.5z"/><path color="#42c2d6" d="M297.6 283.3l2.8-3.8-2.2-9-2.7 6.3z"/><path color="#422cad" d="M465 405.1l2.8-0.7-2.2-1.6-2.8 0.7z"/><path color="#a1c354" d="M372.6 221.5l2.7-22.1-2.1-3.6-2.8 25.9z"/><path color="#2998ed" d="M280.1 321.4l2.8-14.2-2.2 1-2.7 14.8z"/><path color="#5644bf" d="M447.5 399.9l2.8 0.4-2.2-2.9-2.8-1z"/><path color="#8691f9" d="M355.1 388l2.7-10.1-2.1-44.8-2.8 13.2z"/><path color="#6668ef" d="M262.6 376.8l2.8-10.2-2.2 2.6-2.7 9.6z"/><path color="#656cf4" d="M430 370.6l2.8 5-2.2-9.8-2.8-6.1z"/><path color="#42a9ed" d="M337.6 304.4l2.7 4.8-2.1 5.4-2.8-0.2z"/><path color="#5340bc" d="M245.1 401.2l2.8-3.1-2.2-0.2-2.7 2.7z"/><path color="#17a6de" d="M412.5 302.1l2.7 7.1-2.1-18.9-2.8-7.9z"/><path color="#687cfb" d="M320 334.4l2.8 29.4-2.2 19.8-2.7-39.7z"/><path color="#aeca67" d="M395 221.5l2.7-0.2-2.1-25.1-2.8 1.2z"/><path color="#12b0d2" d="M302.5 287.1l2.8 1.7-2.2-9.6-2.7 0.3z"/><path color="#412aab" d="M469.9 405.9l2.8-0.8-2.2-1.5-2.7 0.8z"/><path color="#dbc85f" d="M377.5 204.9l2.7-17-2.1-8.8-2.8 20.3z"/><path color="#1ba3e2" d="M285 307.3l2.8-13.2-2.2-1.3-2.7 14.4z"/><path color="#4d39b7" d="M452.4 402.7l2.8-0.2-2.2-2.1-2.7-0.1z"/><path color="#4d82fd" d="M360 366.3l2.7-56.8-2.1 4.3-2.8 64.1z"/><path color="#5f71f9" d="M267.5 364.2l2.8-11.9-2.2 2.8-2.7 11.5z"/><path color="#6a63e2" d="M434.9 384.1l2.8 3.3-2.2-7.2-2.7-4.6z"/><path color="#2aa1e9" d="M342.5 303.8l2.7 5.6-2.1-0.9-2.8 0.7z"/><path color="#5d4dc7" d="M250 398.1l2.8-4.4-2.2 0.4-2.7 4z"/><path color="#2f94f1" d="M417.4 326.4l2.8 6.8-2.2-16-2.8-8z"/><path color="#6685fd" d="M325 328.9l2.7 5.2-2.1 37.5-2.8-7.8z"/><path color="#56c883" d="M399.9 245.7l2.8 2.6-2.2-24.4-2.8-2.6z"/><path color="#12a6dc" d="M307.5 295.2l2.7 5.8-2.1-8-2.8-4.2z"/><path color="#e9cc6e" d="M382.4 200l2.8-11.5-2.2-15.7-2.8 15.1z"/><path color="#28b3db" d="M289.9 296.3l2.7-10.7-2.1-4.1-2.8 12.6z"/><path color="#4732b1" d="M457.3 404.5l2.8-0.5-2.2-1.8-2.7 0.3z"/><path color="#0cb3c7" d="M364.9 284.4l2.7-33.9-2.1 6.3-2.8 52.7z"/><path color="#4f7efd" d="M272.4 350.1l2.8-12.9-2.2 2.5-2.7 12.6z"/><path color="#6658d2" d="M439.8 393.3l2.8 1.8-2.2-5-2.7-2.7z"/><path color="#2597ed" d="M347.4 312.2l2.7 17.3-2.1-19.7-2.8-0.4z"/><path color="#6557d3" d="M254.9 393.2l2.8-6.3-2.2 1.2-2.7 5.6z"/><path color="#4e80fd" d="M422.3 347.4l2.8 6-2.2-13.1-2.7-7.1z"/><path color="#2e94f1" d="M329.9 309.5l2.7 2.8-2.1 16.5-2.8 5.3z"/><path color="#4833b2" d="M237.4 404.6l2.8-1.8-2.2-0.8-2.7 1.7z"/><path color="#14bab3" d="M404.8 271.2l2.8 4.8-2.2-22.6-2.7-5.1z"/><path color="#1999e7" d="M312.4 304.2l2.7 12.7-2.1-4.8-2.8-11.1z"/><path color="#dbcd6c" d="M387.3 208.7l2.8-6.9-2.2-22.2-2.7 8.9z"/><path color="#3ebfda" d="M294.9 290l2.7-6.7-2.1-6.5-2.8 8.8z"/><path color="#442eae" d="M462.2 405.7l2.8-0.6-2.2-1.6-2.7 0.5z"/><path color="#54c77e" d="M369.8 244l2.8-22.5-2.2 0.2-2.8 28.8z"/><path color="#398df7" d="M277.4 335.4l2.7-14-2.1 1.6-2.8 14.2z"/><path color="#5d4cc5" d="M444.7 399.2l2.8 0.7-2.2-3.5-2.7-1.3z"/><path color="#5d78fd" d="M352.3 348.8l2.8 39.2-2.2-41.7-2.8-16.8z"/><path color="#6a63e2" d="M259.9 385.6l2.7-8.8-2.1 2-2.8 8.1z"/><path color="#6271f8" d="M427.2 365.4l2.8 5.2-2.2-10.9-2.7-6.3z"/><path color="#48b0eb" d="M334.8 297.7l2.8 6.7-2.2 10-2.8-2.1z"/><path color="#4e3ab7" d="M242.3 403.6l2.8-2.4-2.1-0.6-2.8 2.2z"/><path color="#11abd6" d="M409.7 296.4l2.8 5.7-2.2-19.7-2.7-6.4z"/><path color="#4195f6" d="M317.3 313.4l2.7 21-2.1 9.5-2.8-27z"/><path color="#b0ce73" d="M392.2 224.5l2.8-3-2.2-24.1-2.7 4.4z"/><path color="#38bdda" d="M299.8 288.9l2.7-1.8-2.1-7.6-2.8 3.8z"/><path color="#422bac" d="M467.2 406.6l2.7-0.7-2.1-1.5-2.8 0.7z"/><path color="#a2c65e" d="M374.7 222.8l2.8-17.9-2.2-5.5-2.7 22.1z"/><path color="#279aec" d="M282.3 320.6l2.7-13.3-2.1-0.1-2.8 14.2z"/><path color="#523fbb" d="M449.6 402.8l2.8-0.1-2.1-2.4-2.8-0.4z"/><path color="#4745e5" d="M357.2 376.3l2.8-10-2.2 11.6-2.7 10.1z"/><path color="#666bf3" d="M264.8 374.9l2.7-10.7-2.1 2.4-2.8 10.2z"/><path color="#6a69ea" d="M432.1 380.2l2.8 3.9-2.1-8.5-2.8-5z"/><path color="#4ab5e9" d="M339.7 293.7l2.8 10.1-2.2 5.4-2.7-4.8z"/><path color="#5846c0" d="M247.3 401.6l2.7-3.5-2.1 0-2.8 3.1z"/><path color="#279aec" d="M414.6 320.2l2.8 6.2-2.2-17.2-2.7-7.1z"/><path color="#659ffc" d="M322.2 315.5l2.8 13.4-2.2 34.9-2.8-29.4z"/><path color="#69cd89" d="M397.1 245.3l2.8 0.4-2.2-24.4-2.7 0.2z"/><path color="#0fa9d7" d="M304.7 292.3l2.8 2.9-2.2-6.4-2.8-1.7z"/><path color="#cece6e" d="M379.6 213.2l2.8-13.2-2.2-12.1-2.7 17z"/><path color="#1ba3e2" d="M287.2 308.2l2.8-11.9-2.2-2.2-2.8 13.2z"/><path color="#4a36b4" d="M454.6 404.9l2.7-0.4-2.1-2-2.8 0.2z"/><path color="#2091ee" d="M362.1 317.1l2.8-32.7-2.2 25.1-2.7 56.8z"/><path color="#5e74fb" d="M269.7 362.2l2.7-12.1-2.1 2.2-2.8 11.9z"/><path color="#6a5ed9" d="M437.1 391.1l2.7 2.2-2.1-5.9-2.8-3.3z"/><path color="#169ce5" d="M344.6 298.4l2.8 13.8-2.2-2.8-2.7-5.6z"/><path color="#6353cb" d="M252.2 398.1l2.7-4.9-2.1 0.5-2.8 4.4z"/><path color="#4387fc" d="M419.6 341.7l2.7 5.7-2.1-14.2-2.8-6.8z"/><path color="#4aa6f1" d="M327.1 304.7l2.8 4.8-2.2 24.6-2.7-5.2z"/><path color="#1ebdac" d="M402.1 268.4l2.8 2.8-2.1-22.9-2.8-2.6z"/><path color="#11a1df" d="M309.6 297.9l2.8 6.3-2.2-3.2-2.7-5.8z"/><path color="#cbd074" d="M384.5 217.3l2.8-8.6-2.1-20.2-2.8 11.5z"/><path color="#31b4de" d="M292.1 298.9l2.8-8.9-2.2-4.4-2.7 10.7z"/><path color="#4630b0" d="M459.5 406.3l2.7-0.6-2.1-1.7-2.8 0.5z"/><path color="#17bbaf" d="M367 265.5l2.8-21.5-2.2 6.5-2.7 33.9z"/><path color="#4a82fd" d="M274.6 348.5l2.8-13.1-2.2 1.8-2.8 12.9z"/><path color="#6454cb" d="M442 398.1l2.7 1.1-2.1-4.1-2.8-1.8z"/><path color="#268af3" d="M349.5 313.9l2.8 34.9-2.2-19.3-2.7-17.3z"/><path color="#695dd8" d="M257.1 392.6l2.8-7-2.2 1.3-2.8 6.3z"/><path color="#5e76fc" d="M424.5 360.2l2.7 5.2-2.1-12-2.8-6z"/><path color="#44b3e8" d="M332 291.2l2.8 6.5-2.2 14.6-2.7-2.8z"/><path color="#4b36b4" d="M239.6 405.6l2.7-2-2.1-0.8-2.8 1.8z"/><path color="#0dafcf" d="M407 292.1l2.7 4.3-2.1-20.4-2.8-4.8z"/><path color="#29a1e8" d="M314.5 302.2l2.8 11.2-2.2 3.5-2.7-12.7z"/><path color="#aad07d" d="M389.5 229.5l2.7-5-2.1-22.7-2.8 6.9z"/><path color="#3ebcdd" d="M297 293.9l2.8-5-2.2-5.6-2.7 6.7z"/><path color="#432dad" d="M464.4 407.3l2.8-0.7-2.2-1.5-2.8 0.6z"/><path color="#5fc778" d="M372 240.3l2.7-17.5-2.1-1.3-2.8 22.5z"/><path color="#3590f5" d="M279.5 334.2l2.8-13.6-2.2 0.8-2.7 14z"/><path color="#5946bf" d="M446.9 402.6l2.7 0.2-2.1-2.9-2.8-0.7z"/><path color="#5c6cf7" d="M354.4 340.9l2.8 35.4-2.1 11.7-2.8-39.2z"/><path color="#6b67e7" d="M262 384.4l2.8-9.5-2.2 1.9-2.7 8.8z"/><path color="#696df2" d="M429.4 376l2.7 4.2-2.1-9.6-2.8-5.2z"/><path color="#48bbe2" d="M336.9 282.4l2.8 11.3-2.1 10.7-2.8-6.7z"/><path color="#523fba" d="M244.5 404.3l2.8-2.7-2.2-0.4-2.8 2.4z"/><path color="#219fe7" d="M411.9 314.9l2.7 5.3-2.1-18.1-2.8-5.7z"/><path color="#54adf0" d="M319.4 303.8l2.8 11.7-2.2 18.9-2.7-21z"/><path color="#72d090" d="M394.4 246.9l2.7-1.6-2.1-23.8-2.8 3z"/><path color="#25b3da" d="M301.9 292.8l2.8-0.5-2.2-5.2-2.7 1.8z"/><path color="#412aab" d="M469.3 408.1l2.8-0.8-2.2-1.4-2.7 0.7z"/><path color="#a3ce76" d="M376.9 227l2.7-13.8-2.1-8.3-2.8 17.9z"/><path color="#269beb" d="M284.4 320.7l2.8-12.5-2.2-0.9-2.7 13.3z"/><path color="#4f3ab7" d="M451.8 405.2l2.8-0.3-2.2-2.2-2.8 0.1z"/><path color="#3c70fc" d="M359.4 326.7l2.7-9.6-2.1 49.2-2.8 10z"/><path color="#656ef5" d="M266.9 373.3l2.8-11.1-2.2 2-2.7 10.7z"/><path color="#6d65df" d="M434.3 388.4l2.8 2.7-2.2-7-2.8-3.9z"/><path color="#41b9e1" d="M341.9 282.8l2.7 15.6-2.1 5.4-2.8-10.1z"/><path color="#5d4cc4" d="M249.4 402l2.8-3.9-2.2 0-2.7 3.5z"/><path color="#398df7" d="M416.8 336.4l2.8 5.3-2.2-15.3-2.8-6.2z"/><path color="#50b1ee" d="M324.4 297.8l2.7 6.9-2.1 24.2-2.8-13.4z"/><path color="#30c3ad" d="M399.3 267.4l2.7 1-2.1-22.7-2.8-0.4z"/><path color="#0ea6d9" d="M306.9 294.6l2.8 3.3-2.1-2.7-2.8-2.9z"/><path color="#b4d281" d="M381.8 226.9l2.7-9.6-2.1-17.3-2.8 13.2z"/><path color="#24a6e4" d="M289.3 309.6l2.8-10.7-2.1-2.6-2.8 11.9z"/><path color="#4833b2" d="M456.7 406.9l2.8-0.6-2.2-1.8-2.7 0.4z"/><path color="#08acd2" d="M364.3 283.1l2.7-17.6-2.1 18.9-2.8 32.7z"/><path color="#5c77fd" d="M271.8 360.6l2.8-12.1-2.2 1.6-2.7 12.1z"/><path color="#695bd1" d="M439.2 396.7l2.8 1.4-2.2-4.8-2.7-2.2z"/><path color="#17a0e3" d="M346.8 292.2l2.7 21.7-2.1-1.7-2.8-13.8z"/><path color="#6758cf" d="M254.3 398.1l2.8-5.5-2.2 0.6-2.7 4.9z"/><path color="#567bfd" d="M421.7 355.2l2.8 5-2.2-12.8-2.7-5.7z"/><path color="#41b7e3" d="M329.3 285.3l2.7 5.9-2.1 18.3-2.8-4.8z"/><path color="#0cb1ca" d="M404.2 289.1l2.8 3-2.2-20.9-2.8-2.8z"/><path color="#1ca6e0" d="M311.8 296.6l2.7 5.6-2.1 2-2.8-6.3z"/><path color="#9dd288" d="M386.7 236l2.8-6.5-2.2-20.8-2.8 8.6z"/><path color="#34b3e0" d="M294.3 301.5l2.7-7.6-2.1-3.9-2.8 8.9z"/><path color="#452fae" d="M461.6 408l2.8-0.7-2.2-1.6-2.7 0.6z"/><path color="#2bc19c" d="M369.2 255.9l2.8-15.6-2.2 3.7-2.8 21.5z"/><path color="#4785fd" d="M276.8 347.3l2.7-13.1-2.1 1.2-2.8 13.1z"/><path color="#5f4ec5" d="M444.1 402.1l2.8 0.5-2.2-3.4-2.7-1.1z"/><path color="#3994f4" d="M351.7 307l2.7 33.9-2.1 7.9-2.8-34.9z"/><path color="#6d62dc" d="M259.2 392.1l2.8-7.7-2.1 1.2-2.8 7z"/><path color="#6670f6" d="M426.6 371.7l2.8 4.3-2.2-10.6-2.7-5.2z"/><path color="#42c0db" d="M334.2 272.6l2.7 9.8-2.1 15.3-2.8-6.5z"/><path color="#4e39b6" d="M241.7 406.5l2.8-2.2-2.2-0.7-2.7 2z"/><path color="#1ba3e2" d="M409.1 310.6l2.8 4.3-2.2-18.5-2.7-4.3z"/><path color="#49b5e8" d="M316.7 295.6l2.7 8.2-2.1 9.6-2.8-11.2z"/><path color="#72d198" d="M391.6 250.2l2.8-3.3-2.2-22.4-2.7 5z"/><path color="#37b7de" d="M299.2 296.8l2.7-4-2.1-3.9-2.8 5z"/><path color="#422cac" d="M466.6 408.9l2.7-0.8-2.1-1.5-2.8 0.7z"/><path color="#64c778" d="M374.1 240.3l2.8-13.3-2.2-4.2-2.7 17.5z"/><path color="#3391f4" d="M281.7 333.7l2.7-13-2.1-0.1-2.8 13.6z"/><path color="#5440bb" d="M449 405.3l2.8-0.1-2.2-2.4-2.7-0.2z"/><path color="#669efd" d="M356.6 312.2l2.8 14.5-2.2 49.6-2.8-35.4z"/><path color="#6b6aeb" d="M264.2 383.3l2.7-10-2.1 1.6-2.8 9.5z"/><path color="#6d69e6" d="M431.5 385.3l2.8 3.1-2.2-8.2-2.7-4.2z"/><path color="#44c3d6" d="M339.1 266.8l2.8 16-2.2 10.9-2.8-11.3z"/><path color="#5744bd" d="M246.7 405l2.7-3-2.1-0.4-2.8 2.7z"/><path color="#3193f2" d="M414 331.6l2.8 4.8-2.2-16.2-2.7-5.3z"/><path color="#4cb8e7" d="M321.6 290.6l2.8 7.2-2.2 17.7-2.8-11.7z"/><path color="#3dc7b1" d="M396.5 268l2.8-0.6-2.2-22.1-2.7 1.6z"/><path color="#0da8d7" d="M304.1 294.8l2.7-0.2-2.1-2.3-2.8 0.5z"/><path color="#99d38e" d="M379 236.8l2.8-9.9-2.2-13.7-2.7 13.8z"/><path color="#259bea" d="M286.6 321.3l2.7-11.7-2.1-1.4-2.8 12.5z"/><path color="#4c37b4" d="M454 407.3l2.7-0.4-2.1-2-2.8 0.3z"/><path color="#149fe2" d="M361.5 291.4l2.8-8.3-2.2 34-2.7 9.6z"/><path color="#6470f7" d="M269.1 372.1l2.7-11.5-2.1 1.6-2.8 11.1z"/><path color="#6d60d7" d="M436.5 395l2.7 1.7-2.1-5.6-2.8-2.7z"/><path color="#36bcd8" d="M344 271.9l2.8 20.3-2.2 6.2-2.7-15.6z"/><path color="#6252c7" d="M251.6 402.4l2.7-4.3-2.1 0-2.8 3.9z"/><path color="#4d81fd" d="M419 350.6l2.7 4.6-2.1-13.5-2.8-5.3z"/><path color="#40bcde" d="M326.5 279.7l2.8 5.6-2.2 19.4-2.7-6.9z"/><path color="#19b7c9" d="M401.4 287.5l2.8 1.6-2.2-20.7-2.7-1z"/><path color="#0da6d9" d="M309 293.8l2.8 2.8-2.2 1.3-2.8-3.3z"/><path color="#8dd493" d="M383.9 243.2l2.8-7.2-2.2-18.7-2.7 9.6z"/><path color="#28a7e5" d="M291.5 311.2l2.8-9.7-2.2-2.6-2.8 10.7z"/><path color="#4731b0" d="M458.9 408.7l2.7-0.7-2.1-1.7-2.8 0.6z"/><path color="#0db7b7" d="M366.4 268.1l2.8-12.2-2.2 9.6-2.7 17.6z"/><path color="#5879fd" d="M274 359.5l2.8-12.2-2.2 1.2-2.8 12.1z"/><path color="#6656ca" d="M441.4 401.3l2.7 0.8-2.1-4-2.8-1.4z"/><path color="#33b1e1" d="M348.9 283.7l2.8 23.3-2.2 6.9-2.7-21.7z"/><path color="#6b5dd3" d="M256.5 398l2.7-5.9-2.1 0.5-2.8 5.5z"/><path color="#6273f9" d="M423.9 367.5l2.7 4.2-2.1-11.5-2.8-5z"/><path color="#3ec2d2" d="M331.4 265.4l2.8 7.2-2.2 18.6-2.7-5.9z"/><path color="#17a6de" d="M406.4 307.6l2.7 3-2.1-18.5-2.8-3z"/><path color="#40b8e1" d="M313.9 291.5l2.8 4.1-2.2 6.6-2.7-5.6z"/><path color="#6dd1a1" d="M388.9 254.7l2.7-4.5-2.1-20.7-2.8 6.5z"/><path color="#2eb0e0" d="M296.4 303.6l2.8-6.8-2.2-2.9-2.7 7.6z"/><path color="#442dad" d="M463.8 409.6l2.8-0.7-2.2-1.6-2.8 0.7z"/><path color="#3ac391" d="M371.4 252l2.7-11.7-2.1 0-2.8 15.6z"/><path color="#4487fc" d="M278.9 346.7l2.8-13-2.2 0.5-2.7 13.1z"/><path color="#5a48bf" d="M446.3 405.3l2.7 0-2.1-2.7-2.8-0.5z"/><path color="#51b1ed" d="M353.8 293l2.8 19.2-2.2 28.7-2.7-33.9z"/><path color="#6e66e0" d="M261.4 391.6l2.8-8.3-2.2 1.1-2.8 7.7z"/><path color="#6c6ced" d="M428.8 381.9l2.7 3.4-2.1-9.3-2.8-4.3z"/><path color="#49c9c9" d="M336.3 254l2.8 12.8-2.2 15.6-2.7-9.8z"/><path color="#513db8" d="M243.9 407.3l2.8-2.3-2.2-0.7-2.8 2.2z"/><path color="#2a97ee" d="M411.3 327.6l2.7 4-2.1-16.7-2.8-4.3z"/><path color="#45bce0" d="M318.8 285.2l2.8 5.4-2.2 13.2-2.7-8.2z"/><path color="#43c9b5" d="M393.8 270l2.7-2-2.1-21.1-2.8 3.3z"/><path color="#1faddb" d="M301.3 298.5l2.8-3.7-2.2-2-2.7 4z"/><path color="#412bab" d="M468.7 410.4l2.8-0.9-2.2-1.4-2.7 0.8z"/><path color="#7bd399" d="M376.3 246.2l2.7-9.4-2.1-9.8-2.8 13.3z"/><path color="#3192f3" d="M283.8 333.8l2.8-12.5-2.2-0.6-2.7 13z"/><path color="#503bb7" d="M451.2 407.7l2.8-0.4-2.2-2.1-2.8 0.1z"/><path color="#46b4e8" d="M358.8 289.2l2.7 2.2-2.1 35.3-2.8-14.5z"/><path color="#6b6cef" d="M266.3 382.3l2.8-10.2-2.2 1.2-2.7 10z"/><path color="#7065dc" d="M433.7 392.9l2.8 2.1-2.2-6.6-2.8-3.1z"/><path color="#45c8c7" d="M341.3 252.3l2.7 19.6-2.1 10.9-2.8-16z"/><path color="#5c4ac1" d="M248.8 405.7l2.8-3.3-2.2-0.4-2.7 3z"/><path color="#4487fd" d="M416.2 346.5l2.8 4.1-2.2-14.2-2.8-4.8z"/><path color="#3ec0d8" d="M323.8 274.5l2.7 5.2-2.1 18.1-2.8-7.2z"/><path color="#24bbca" d="M398.7 287.2l2.7 0.3-2.1-20.1-2.8 0.6z"/><path color="#0ca8d6" d="M306.2 294.5l2.8-0.7-2.2 0.8-2.7 0.2z"/><path color="#7cd49f" d="M381.2 250.4l2.7-7.2-2.1-16.3-2.8 9.9z"/><path color="#259bea" d="M288.7 322.3l2.8-11.1-2.2-1.6-2.7 11.7z"/><path color="#4934b2" d="M456.1 409.3l2.8-0.6-2.2-1.8-2.7 0.4z"/><path color="#08b1c5" d="M363.7 275.2l2.7-7.1-2.1 15-2.8 8.3z"/><path color="#6272f8" d="M271.2 371.1l2.8-11.6-2.2 1.1-2.7 11.5z"/><path color="#6b5ccf" d="M438.6 400.3l2.8 1-2.2-4.6-2.7-1.7z"/><path color="#35c1cd" d="M346.2 261.3l2.7 22.4-2.1 8.5-2.8-20.3z"/><path color="#6758cb" d="M253.7 402.7l2.8-4.7-2.2 0.1-2.7 4.3z"/><path color="#5f76fc" d="M421.1 363.4l2.8 4.1-2.2-12.3-2.7-4.6z"/><path color="#3bc4ca" d="M328.7 260.2l2.7 5.2-2.1 19.9-2.8-5.6z"/><path color="#1babdb" d="M403.6 305.7l2.8 1.9-2.2-18.5-2.8-1.6z"/><path color="#2cb5db" d="M311.2 290.1l2.7 1.4-2.1 5.1-2.8-2.8z"/><path color="#65d0aa" d="M386.1 259.7l2.8-5-2.2-18.7-2.8 7.2z"/><path color="#25a5e5" d="M293.7 312.7l2.7-9.1-2.1-2.1-2.8 9.7z"/><path color="#452fae" d="M461 410.4l2.8-0.8-2.2-1.6-2.7 0.7z"/><path color="#1dbea6" d="M368.6 261.3l2.8-9.3-2.2 3.9-2.8 12.2z"/><path color="#557bfd" d="M276.1 358.8l2.7-12.1-2.1 0.6-2.8 12.2z"/><path color="#604fc4" d="M443.5 405.1l2.8 0.2-2.2-3.2-2.7-0.8z"/><path color="#3bbedb" d="M351.1 273.6l2.7 19.4-2.1 14-2.8-23.3z"/><path color="#6e61d6" d="M258.6 398l2.8-6.4-2.2 0.5-2.7 5.9z"/><path color="#6a6ff3" d="M426 378.4l2.8 3.5-2.2-10.2-2.7-4.2z"/><path color="#51cdba" d="M333.6 245.6l2.7 8.4-2.1 18.6-2.8-7.2z"/><path color="#269aeb" d="M408.5 324.4l2.8 3.2-2.2-17-2.7-3z"/><path color="#36bcd9" d="M316.1 283.5l2.7 1.7-2.1 10.4-2.8-4.1z"/><path color="#45c9ba" d="M391 272.8l2.8-2.8-2.2-19.8-2.7 4.5z"/><path color="#1da9de" d="M298.6 305l2.7-6.5-2.1-1.7-2.8 6.8z"/><path color="#432cac" d="M465.9 411.2l2.8-0.8-2.1-1.5-2.8 0.7z"/><path color="#5acda2" d="M373.5 254.8l2.8-8.6-2.2-5.9-2.7 11.7z"/><path color="#4288fb" d="M281.1 346.5l2.7-12.7-2.1-0.1-2.8 13z"/><path color="#5441ba" d="M448.4 408l2.8-0.3-2.2-2.4-2.7 0z"/><path color="#48bfdf" d="M356 279.7l2.8 9.5-2.2 23-2.8-19.2z"/><path color="#6f69e3" d="M263.6 391.2l2.7-8.9-2.1 1-2.8 8.3z"/><path color="#7069e2" d="M430.9 390.6l2.8 2.3-2.2-7.6-2.7-3.4z"/><path color="#61d0b2" d="M338.5 237.2l2.8 15.1-2.2 14.5-2.8-12.8z"/><path color="#5542bb" d="M246.1 408.2l2.7-2.5-2.1-0.7-2.8 2.3z"/><path color="#3d8bf9" d="M413.4 342.9l2.8 3.6-2.2-14.9-2.7-4z"/><path color="#38c0d1" d="M321 272.4l2.8 2.1-2.2 16.1-2.8-5.4z"/><path color="#2dbecc" d="M395.9 288l2.8-0.8-2.2-19.2-2.7 2z"/><path color="#0fa8d8" d="M303.5 298.7l2.7-4.2-2.1 0.3-2.8 3.7z"/><path color="#6cd2aa" d="M378.4 257.2l2.8-6.8-2.2-13.6-2.7 9.4z"/><path color="#3093f2" d="M286 334.3l2.7-12-2.1-1-2.8 12.5z"/><path color="#4c37b4" d="M453.4 409.8l2.7-0.5-2.1-2-2.8 0.4z"/><path color="#24b9cf" d="M360.9 276l2.8-0.8-2.2 16.2-2.7-2.2z"/><path color="#6a6ef3" d="M268.5 381.7l2.7-10.6-2.1 1-2.8 10.2z"/><path color="#6f61d4" d="M435.9 399l2.8 1.3-2.1-5.3-2.8-2.1z"/><path color="#51cdb3" d="M343.4 240.1l2.8 21.2-2.2 10.6-2.7-19.6z"/><path color="#604fc4" d="M251 406.3l2.7-3.6-2.1-0.3-2.8 3.3z"/><path color="#587bfd" d="M418.3 359.7l2.8 3.7-2.1-12.8-2.8-4.1z"/><path color="#3ec6c2" d="M325.9 257.4l2.8 2.8-2.2 19.5-2.7-5.2z"/><path color="#23b0db" d="M400.8 304.8l2.8 0.9-2.2-18.2-2.7-0.3z"/><path color="#09aad3" d="M308.4 292.2l2.8-2.1-2.2 3.7-2.8 0.7z"/><path color="#5bcfb2" d="M383.3 264.7l2.8-5-2.2-16.5-2.7 7.2z"/><path color="#259bea" d="M290.9 323.4l2.8-10.7-2.2-1.5-2.8 11.1z"/><path color="#4732b0" d="M458.3 411l2.7-0.6-2.1-1.7-2.8 0.6z"/><path color="#11b9b3" d="M365.8 267.4l2.8-6.1-2.2 6.8-2.7 7.1z"/><path color="#6173f9" d="M273.4 370.6l2.8-11.8-2.2 0.7-2.8 11.6z"/><path color="#6757c9" d="M440.8 404.7l2.7 0.4-2.1-3.8-2.8-1z"/><path color="#3dc6c0" d="M348.3 251.8l2.8 21.8-2.2 10.1-2.7-22.4z"/><path color="#6b5cce" d="M255.9 403.1l2.7-5.1-2.1 0-2.8 4.7z"/><path color="#6671f6" d="M423.3 375l2.7 3.4-2.1-10.9-2.8-4.1z"/><path color="#57cdac" d="M330.8 241.1l2.8 4.5-2.2 19.8-2.7-5.2z"/><path color="#249ee9" d="M405.8 322.1l2.7 2.3-2.1-16.8-2.8-1.9z"/><path color="#18b3d0" d="M313.3 284.3l2.8-0.8-2.2 8-2.7-1.4z"/><path color="#44c8bf" d="M388.2 276.1l2.8-3.3-2.1-18.1-2.8 5z"/><path color="#1da1e4" d="M295.8 314l2.8-9-2.2-1.4-2.7 9.1z"/><path color="#442ead" d="M463.2 412l2.7-0.8-2.1-1.6-2.8 0.8z"/><path color="#2fc3a6" d="M370.7 262.2l2.8-7.4-2.1-2.8-2.8 9.3z"/><path color="#537dfd" d="M278.3 358.7l2.8-12.2-2.2 0.2-2.7 12.1z"/><path color="#5a48be" d="M445.7 408.1l2.7-0.1-2.1-2.7-2.8-0.2z"/><path color="#3ec4cf" d="M353.2 264.1l2.8 15.6-2.2 13.3-2.7-19.4z"/><path color="#7064d9" d="M260.8 398.1l2.8-6.9-2.2 0.4-2.8 6.4z"/><path color="#6f6ce8" d="M428.2 388l2.7 2.6-2.1-8.7-2.8-3.5z"/><path color="#7ad49e" d="M335.7 228.3l2.8 8.9-2.2 16.8-2.7-8.4z"/><path color="#378ff6" d="M410.7 339.8l2.7 3.1-2.1-15.3-2.8-3.2z"/><path color="#1ebac8" d="M318.2 273.6l2.8-1.2-2.2 12.8-2.7-1.7z"/><path color="#32bfce" d="M393.2 289.6l2.7-1.6-2.1-18-2.8 2.8z"/><path color="#15a6dd" d="M300.7 305.6l2.8-6.9-2.2-0.2-2.7 6.5z"/><path color="#422bab" d="M468.1 412.6l2.8-0.8-2.2-1.4-2.8 0.8z"/><path color="#5dd0b4" d="M375.7 263.5l2.7-6.3-2.1-11-2.8 8.6z"/><path color="#4089fb" d="M283.2 346.8l2.8-12.5-2.2-0.5-2.7 12.7z"/><path color="#503cb6" d="M450.6 410.3l2.8-0.5-2.2-2.1-2.8 0.3z"/><path color="#43c5d1" d="M358.2 270l2.7 6-2.1 13.2-2.8-9.5z"/><path color="#706be6" d="M265.7 390.9l2.8-9.2-2.2 0.6-2.7 8.9z"/><path color="#7165d9" d="M433.1 397.6l2.7 1.4-2.1-6.1-2.8-2.3z"/><path color="#81d499" d="M340.7 224.2l2.7 15.9-2.1 12.2-2.8-15.1z"/><path color="#5946bd" d="M248.2 409.1l2.8-2.8-2.2-0.6-2.7 2.5z"/><path color="#517ffd" d="M415.6 356.4l2.7 3.3-2.1-13.2-2.8-3.6z"/><path color="#2dc1b6" d="M323.1 258.9l2.8-1.5-2.1 17.1-2.8-2.1z"/><path color="#2ab3db" d="M398.1 304.7l2.7 0.1-2.1-17.6-2.8 0.8z"/><path color="#0ba9d6" d="M305.6 297.6l2.8-5.4-2.2 2.3-2.7 4.2z"/><path color="#52cdba" d="M380.6 269.7l2.7-5-2.1-14.3-2.8 6.8z"/><path color="#3093f2" d="M288.1 335.1l2.8-11.7-2.2-1.1-2.7 12z"/><path color="#4a34b1" d="M455.5 411.7l2.8-0.7-2.2-1.7-2.7 0.5z"/><path color="#0cb7b8" d="M363.1 269.3l2.7-1.9-2.1 7.8-2.8 0.8z"/><path color="#696ff4" d="M270.6 381.3l2.8-10.7-2.2 0.5-2.7 10.6z"/><path color="#6c5dcd" d="M438 404l2.8 0.7-2.2-4.4-2.8-1.3z"/><path color="#66cf9e" d="M345.6 231.1l2.7 20.7-2.1 9.5-2.8-21.2z"/><path color="#6555c6" d="M253.1 407l2.8-3.9-2.2-0.4-2.7 3.6z"/><path color="#6373f8" d="M420.5 371.8l2.8 3.2-2.2-11.6-2.8-3.7z"/><path color="#52ca9e" d="M328.1 241.8l2.7-0.7-2.1 19.1-2.8-2.8z"/><path color="#2aa3e8" d="M403 320.7l2.8 1.4-2.2-16.4-2.8-0.9z"/><path color="#08aece" d="M310.6 288.6l2.7-4.3-2.1 5.8-2.8 2.1z"/><path color="#42c7c4" d="M385.5 279.6l2.7-3.5-2.1-16.4-2.8 5z"/><path color="#259bea" d="M293.1 324.5l2.8-10.5-2.1-1.3-2.8 10.7z"/><path color="#4630ae" d="M460.4 412.7l2.8-0.7-2.2-1.6-2.7 0.6z"/><path color="#1abcac" d="M368 267.8l2.7-5.6-2.1-0.9-2.8 6.1z"/><path color="#6075fa" d="M275.5 370.4l2.8-11.7-2.1 0.1-2.8 11.8z"/><path color="#604fc2" d="M442.9 408.1l2.8 0-2.2-3-2.7-0.4z"/><path color="#47cab0" d="M350.5 244.8l2.7 19.3-2.1 9.5-2.8-21.8z"/><path color="#6e60d1" d="M258 403.5l2.8-5.4-2.2-0.1-2.7 5.1z"/><path color="#6d6eee" d="M425.4 385.3l2.8 2.7-2.2-9.6-2.7-3.4z"/><path color="#83d18d" d="M333 225.8l2.7 2.5-2.1 17.3-2.8-4.5z"/><path color="#3292f3" d="M407.9 337.4l2.8 2.4-2.2-15.4-2.7-2.3z"/><path color="#08b3c2" d="M315.5 277.4l2.7-3.8-2.1 9.9-2.8 0.8z"/><path color="#35c0d0" d="M390.4 291.7l2.8-2.1-2.2-16.8-2.8 3.3z"/><path color="#1ca1e4" d="M298 314.9l2.7-9.3-2.1-0.6-2.8 9z"/><path color="#432cac" d="M465.3 413.5l2.8-0.9-2.2-1.4-2.7 0.8z"/><path color="#51cdbc" d="M372.9 269.2l2.8-5.7-2.2-8.7-2.8 7.4z"/><path color="#517efd" d="M280.5 358.9l2.7-12.1-2.1-0.3-2.8 12.2z"/><path color="#5441b9" d="M447.8 410.6l2.8-0.3-2.2-2.3-2.7 0.1z"/><path color="#43c8c0" d="M355.4 257.9l2.8 12.1-2.2 9.7-2.8-15.6z"/><path color="#7267dc" d="M263 398.3l2.7-7.4-2.1 0.3-2.8 6.9z"/><path color="#7369de" d="M430.3 396l2.8 1.6-2.2-7-2.7-2.6z"/><path color="#a2d388" d="M337.9 216.1l2.8 8.1-2.2 13-2.8-8.9z"/><path color="#4a83fd" d="M412.8 353.7l2.8 2.7-2.2-13.5-2.7-3.1z"/><path color="#15baae" d="M320.4 263.4l2.7-4.5-2.1 13.5-2.8 1.2z"/><path color="#30b5dc" d="M395.3 305.3l2.8-0.6-2.2-16.7-2.7 1.6z"/><path color="#14a7dc" d="M302.9 305.6l2.7-8-2.1 1.1-2.8 6.9z"/><path color="#4dcbc0" d="M377.8 274.3l2.8-4.6-2.2-12.5-2.7 6.3z"/><path color="#3f8afa" d="M285.4 347.5l2.7-12.4-2.1-0.8-2.8 12.5z"/><path color="#4c38b3" d="M452.8 412.3l2.7-0.6-2.1-1.9-2.8 0.5z"/><path color="#40c6c3" d="M360.3 266.2l2.8 3.1-2.2 6.7-2.7-6z"/><path color="#706ce8" d="M267.9 390.9l2.7-9.6-2.1 0.4-2.8 9.2z"/><path color="#7062d2" d="M435.2 403.2l2.8 0.8-2.2-5-2.7-1.4z"/><path color="#9ad183" d="M342.8 216.5l2.8 14.6-2.2 9-2.7-15.9z"/><path color="#5d4bc0" d="M250.4 409.9l2.7-2.9-2.1-0.7-2.8 2.8z"/><path color="#6076fb" d="M417.7 368.9l2.8 2.9-2.2-12.1-2.7-3.3z"/><path color="#38c390" d="M325.3 246.9l2.8-5.1-2.2 15.6-2.8 1.5z"/><path color="#30a7e7" d="M400.2 320.1l2.8 0.6-2.2-15.9-2.7-0.1z"/><path color="#09abd2" d="M307.8 295.8l2.8-7.2-2.2 3.6-2.8 5.4z"/><path color="#3fc6c9" d="M382.7 283.1l2.8-3.5-2.2-14.9-2.7 5z"/><path color="#2f94f2" d="M290.3 336.2l2.7-11.7-2.1-1.1-2.8 11.7z"/><path color="#4732af" d="M457.7 413.4l2.7-0.7-2.1-1.7-2.8 0.7z"/><path color="#14bab1" d="M365.2 270.5l2.8-2.7-2.2-0.4-2.7 1.9z"/><path color="#6870f4" d="M272.8 381.3l2.7-10.9-2.1 0.2-2.8 10.7z"/><path color="#6656c7" d="M440.2 408l2.7 0.1-2.1-3.4-2.8-0.7z"/><path color="#71cd88" d="M347.7 227.1l2.8 17.7-2.2 7-2.7-20.7z"/><path color="#6959c9" d="M255.3 407.7l2.7-4.2-2.1-0.4-2.8 3.9z"/><path color="#6b6ff3" d="M422.7 382.7l2.7 2.6-2.1-10.3-2.8-3.2z"/><path color="#6bc670" d="M330.2 230.1l2.8-4.3-2.2 15.3-2.7 0.7z"/><path color="#3397f1" d="M405.2 335.7l2.7 1.7-2.1-15.3-2.8-1.4z"/><path color="#08b1c6" d="M312.7 284.4l2.8-7-2.2 6.9-2.7 4.3z"/><path color="#37bfd3" d="M387.6 294l2.8-2.3-2.2-15.6-2.7 3.5z"/><path color="#259bea" d="M295.2 325.7l2.8-10.8-2.2-0.9-2.8 10.5z"/><path color="#442ead" d="M462.6 414.3l2.7-0.8-2.1-1.5-2.8 0.7z"/><path color="#49cac1" d="M370.1 273.9l2.8-4.7-2.2-7-2.7 5.6z"/><path color="#6075fb" d="M277.7 370.6l2.8-11.7-2.2-0.2-2.8 11.7z"/><path color="#5947bd" d="M445.1 411l2.7-0.4-2.1-2.5-2.8 0z"/><path color="#48c89c" d="M352.6 243.1l2.8 14.8-2.2 6.2-2.7-19.3z"/><path color="#7163d3" d="M260.2 404l2.8-5.7-2.2-0.2-2.8 5.4z"/><path color="#726ce3" d="M427.6 394.1l2.7 1.9-2.1-8-2.8-2.7z"/><path color="#a3ca6b" d="M335.1 216.9l2.8-0.8-2.2 12.2-2.7-2.5z"/><path color="#4587fd" d="M410.1 351.5l2.7 2.2-2.1-13.9-2.8-2.4z"/><path color="#10b8b4" d="M317.6 270.6l2.8-7.2-2.2 10.2-2.7 3.8z"/><path color="#34b6dd" d="M392.6 306.5l2.7-1.2-2.1-15.7-2.8 2.1z"/><path color="#1ca2e3" d="M300.1 315.6l2.8-10-2.2 0-2.7 9.3z"/><path color="#47c9c5" d="M375.1 278.8l2.7-4.5-2.1-10.8-2.8 5.7z"/><path color="#507ffd" d="M282.6 359.6l2.8-12.1-2.2-0.7-2.7 12.1z"/><path color="#503cb6" d="M450 412.8l2.8-0.5-2.2-2-2.8 0.3z"/><path color="#22bfa8" d="M357.6 258.3l2.7 7.9-2.1 3.8-2.8-12.1z"/><path color="#736ade" d="M265.1 398.6l2.8-7.7-2.2 0-2.7 7.4z"/><path color="#7366d6" d="M432.5 402.2l2.7 1-2.1-5.6-2.8-1.6z"/><path color="#bacf76" d="M340 211.6l2.8 4.9-2.1 7.7-2.8-8.1z"/><path color="#5d78fd" d="M415 366.3l2.7 2.6-2.1-12.5-2.8-2.7z"/><path color="#2ec198" d="M322.5 254.8l2.8-7.9-2.2 12-2.7 4.5z"/><path color="#34aae7" d="M397.5 320.1l2.7 0-2.1-15.4-2.8 0.6z"/><path color="#12a8da" d="M305 305.3l2.8-9.5-2.2 1.8-2.7 8z"/><path color="#3dc4cd" d="M380 286.7l2.7-3.6-2.1-13.4-2.8 4.6z"/><path color="#3f8afa" d="M287.5 348.6l2.8-12.4-2.2-1.1-2.7 12.4z"/><path color="#4a34b1" d="M454.9 414.1l2.8-0.7-2.2-1.7-2.7 0.6z"/><path color="#14baaf" d="M362.5 269.4l2.7 1.1-2.1-1.2-2.8-3.1z"/><path color="#6f6dea" d="M270 391.1l2.8-9.8-2.2 0-2.7 9.6z"/><path color="#6c5dcb" d="M437.4 407.7l2.8 0.3-2.2-4-2.8-0.8z"/><path color="#98c55d" d="M345 216.7l2.7 10.4-2.1 4-2.8-14.6z"/><path color="#614fc2" d="M252.5 410.8l2.8-3.1-2.2-0.7-2.7 2.9z"/><path color="#6871f5" d="M419.9 380.2l2.8 2.5-2.2-10.9-2.8-2.9z"/><path color="#60c676" d="M327.5 238.2l2.7-8.1-2.1 11.7-2.8 5.1z"/><path color="#379cf0" d="M402.4 334.5l2.8 1.2-2.2-15-2.8-0.6z"/><path color="#0aafce" d="M309.9 293.9l2.7-9.5-2.1 4.2-2.8 7.2z"/><path color="#38bfd5" d="M384.9 296.5l2.7-2.5-2.1-14.4-2.8 3.5z"/><path color="#2f94f2" d="M292.4 337.5l2.8-11.8-2.2-1.2-2.7 11.7z"/><path color="#4630ae" d="M459.8 415.1l2.8-0.8-2.2-1.6-2.7 0.7z"/><path color="#3dc6c2" d="M367.4 276.7l2.7-2.8-2.1-6.1-2.8 2.7z"/><path color="#6871f5" d="M274.9 381.6l2.8-11-2.2-0.2-2.7 10.9z"/><path color="#5f4dc0" d="M442.3 411.2l2.8-0.2-2.2-2.9-2.7-0.1z"/><path color="#6ac671" d="M349.9 230.4l2.7 12.7-2.1 1.7-2.8-17.7z"/><path color="#6c5dcb" d="M257.4 408.4l2.8-4.4-2.2-0.5-2.7 4.2z"/><path color="#716de7" d="M424.8 392.3l2.8 1.8-2.2-8.8-2.7-2.6z"/><path color="#92c45a" d="M332.4 223.8l2.7-6.9-2.1 8.9-2.8 4.3z"/><path color="#428afb" d="M407.3 349.7l2.8 1.8-2.2-14.1-2.7-1.7z"/><path color="#08b5be" d="M314.9 280.7l2.7-10.1-2.1 6.8-2.8 7z"/><path color="#37b7de" d="M389.8 307.9l2.8-1.4-2.2-14.8-2.8 2.3z"/><path color="#259bea" d="M297.4 326.9l2.7-11.3-2.1-0.7-2.8 10.8z"/><path color="#41c6ca" d="M372.3 282.9l2.8-4.1-2.2-9.6-2.8 4.7z"/><path color="#5f76fb" d="M279.9 371.3l2.7-11.7-2.1-0.7-2.8 11.7z"/><path color="#5440b8" d="M447.2 413.3l2.8-0.5-2.2-2.2-2.7 0.4z"/><path color="#3cc38e" d="M354.8 248.1l2.8 10.2-2.2-0.4-2.8-14.8z"/><path color="#7366d5" d="M262.4 404.5l2.7-5.9-2.1-0.3-2.8 5.7z"/><path color="#7568da" d="M429.7 401.2l2.8 1-2.2-6.2-2.7-1.9z"/><path color="#b1c14b" d="M337.3 214.9l2.7-3.3-2.1 4.5-2.8 0.8z"/><path color="#587bfd" d="M412.2 364.2l2.8 2.1-2.2-12.6-2.7-2.2z"/><path color="#1ebea4" d="M319.8 265.5l2.7-10.7-2.1 8.6-2.8 7.2z"/><path color="#38ace8" d="M394.7 320.5l2.8-0.4-2.2-14.8-2.7 1.2z"/><path color="#1ba2e2" d="M302.3 316.4l2.7-11.1-2.1 0.3-2.8 10z"/><path color="#3ec3d0" d="M377.2 290.3l2.8-3.6-2.2-12.4-2.7 4.5z"/><path color="#4f7ffd" d="M284.8 360.6l2.7-12-2.1-1.1-2.8 12.1z"/><path color="#4c37b3" d="M452.1 414.8l2.8-0.7-2.1-1.8-2.8 0.5z"/><path color="#1cbda6" d="M359.7 264.4l2.8 5-2.2-3.2-2.7-7.9z"/><path color="#746bdf" d="M267.3 399.1l2.7-8-2.1-0.2-2.8 7.7z"/><path color="#7062cf" d="M434.6 407.3l2.8 0.4-2.2-4.5-2.7-1z"/><path color="#b2c14b" d="M342.2 214.7l2.8 2-2.2-0.2-2.8-4.9z"/><path color="#6572f7" d="M417.1 378.1l2.8 2.1-2.2-11.3-2.7-2.6z"/><path color="#4ac584" d="M324.7 249.4l2.8-11.2-2.2 8.7-2.8 7.9z"/><path color="#3a9ff0" d="M399.6 334l2.8 0.5-2.2-14.4-2.7 0z"/><path color="#11aad7" d="M307.2 305.1l2.8-11.2-2.2 1.9-2.8 9.5z"/><path color="#3abed7" d="M382.1 299.3l2.8-2.8-2.2-13.4-2.7 3.6z"/><path color="#3f8afa" d="M289.7 350l2.7-12.5-2.1-1.3-2.8 12.4z"/><path color="#4732af" d="M457.1 415.8l2.7-0.7-2.1-1.7-2.8 0.7z"/><path color="#13b9b5" d="M364.6 276.7l2.8 0-2.2-6.2-2.7-1.1z"/><path color="#6f6eeb" d="M272.2 391.6l2.7-10-2.1-0.3-2.8 9.8z"/><path color="#6554c4" d="M439.6 411.3l2.7-0.1-2.1-3.2-2.8-0.3z"/><path color="#94c459" d="M347.1 223.6l2.8 6.8-2.2-3.3-2.7-10.4z"/><path color="#6554c4" d="M254.7 411.7l2.7-3.3-2.1-0.7-2.8 3.1z"/><path color="#6f6eec" d="M422 390.4l2.8 1.9-2.1-9.6-2.8-2.5z"/><path color="#7dc566" d="M329.6 234.5l2.8-10.7-2.2 6.3-2.7 8.1z"/><path color="#448ff9" d="M404.5 348.5l2.8 1.2-2.1-14-2.8-1.2z"/><path color="#0bb1c9" d="M312.1 292.5l2.8-11.8-2.2 3.7-2.7 9.5z"/><path color="#39b7df" d="M387 309.7l2.8-1.8-2.2-13.9-2.7 2.5z"/><path color="#2f94f2" d="M294.6 339.1l2.8-12.2-2.2-1.2-2.8 11.8z"/><path color="#39c3cb" d="M369.5 285.9l2.8-3-2.2-9-2.7 2.8z"/><path color="#6771f5" d="M277.1 382.4l2.8-11.1-2.2-0.7-2.8 11z"/><path color="#5845bb" d="M444.5 413.8l2.7-0.5-2.1-2.3-2.8 0.2z"/><path color="#61c676" d="M352 239.4l2.8 8.7-2.2-5-2.7-12.7z"/><path color="#6f61cd" d="M259.6 409.2l2.8-4.7-2.2-0.5-2.8 4.4z"/><path color="#756bde" d="M427 400.1l2.7 1.1-2.1-7.1-2.8-1.8z"/><path color="#a4c252" d="M334.5 223.6l2.8-8.7-2.2 2-2.7 6.9z"/><path color="#537efd" d="M409.5 362.6l2.7 1.6-2.1-12.7-2.8-1.8z"/><path color="#12b9b5" d="M317 278.4l2.8-12.9-2.2 5.1-2.7 10.1z"/><path color="#3bade8" d="M392 321.4l2.7-0.9-2.1-14-2.8 1.4z"/><path color="#249bea" d="M299.5 328.4l2.8-12-2.2-0.8-2.7 11.3z"/><path color="#3ec2d3" d="M374.5 294l2.7-3.7-2.1-11.5-2.8 4.1z"/><path color="#5f76fc" d="M282 372.3l2.8-11.7-2.2-1-2.7 11.7z"/><path color="#4f3bb5" d="M449.4 415.4l2.7-0.6-2.1-2-2.8 0.5z"/><path color="#31c296" d="M356.9 257.4l2.8 7-2.1-6.1-2.8-10.2z"/><path color="#7568d7" d="M264.5 405.2l2.8-6.1-2.2-0.5-2.7 5.9z"/><path color="#7466d3" d="M431.9 406.8l2.7 0.5-2.1-5.1-2.8-1z"/><path color="#c1cb69" d="M339.4 219.5l2.8-4.8-2.2-3.1-2.7 3.3z"/><path color="#6374f9" d="M414.4 376.2l2.7 1.9-2.1-11.8-2.8-2.1z"/><path color="#2fc299" d="M321.9 263.2l2.8-13.8-2.2 5.4-2.7 10.7z"/><path color="#3ea2ef" d="M396.9 334l2.7 0-2.1-13.9-2.8 0.4z"/><path color="#1aa3e1" d="M304.4 317.4l2.8-12.3-2.2 0.2-2.7 11.1z"/><path color="#3cbeda" d="M379.4 302.3l2.7-3-2.1-12.6-2.8 3.6z"/><path color="#507ffd" d="M286.9 362.1l2.8-12.1-2.2-1.4-2.7 12z"/><path color="#4934b1" d="M454.3 416.5l2.8-0.7-2.2-1.7-2.8 0.7z"/><path color="#16bbb0" d="M361.9 273.9l2.7 2.8-2.1-7.3-2.8-5z"/><path color="#756ce0" d="M269.4 399.8l2.8-8.2-2.2-0.5-2.7 8z"/><path color="#6a5ac8" d="M436.8 411.3l2.8 0-2.2-3.6-2.8-0.4z"/><path color="#a7c251" d="M344.4 223.6l2.7 0-2.1-6.9-2.8-2z"/><path color="#6e6ff0" d="M419.3 388.6l2.7 1.8-2.1-10.2-2.8-2.1z"/><path color="#5dc779" d="M326.9 248.5l2.8-14-2.1 3.7-2.8 11.2z"/><path color="#4693f8" d="M401.8 347.8l2.7 0.7-2.1-14-2.8-0.5z"/><path color="#10acd5" d="M309.3 305.6l2.8-13.1-2.1 1.4-2.8 11.2z"/><path color="#3cb7e1" d="M384.3 311.9l2.7-2.2-2.1-13.2-2.8 2.8z"/><path color="#408bfa" d="M291.8 351.7l2.8-12.6-2.2-1.6-2.7 12.5z"/><path color="#24bcc6" d="M366.8 287l2.7-1.1-2.1-9.2-2.8 0z"/><path color="#6f6fec" d="M274.3 392.3l2.8-9.9-2.2-0.8-2.7 10z"/><path color="#5d4bbe" d="M441.7 414.2l2.8-0.4-2.2-2.6-2.7 0.1z"/><path color="#7fc565" d="M349.3 235.3l2.7 4.1-2.1-9-2.8-6.8z"/><path color="#6858c6" d="M256.8 412.7l2.8-3.5-2.2-0.8-2.7 3.3z"/><path color="#756de1" d="M424.2 398.9l2.8 1.2-2.2-7.8-2.8-1.9z"/><path color="#88c561" d="M331.8 236.5l2.7-12.9-2.1 0.2-2.8 10.7z"/><path color="#5483fd" d="M406.7 361.4l2.8 1.2-2.2-12.9-2.8-1.2z"/><path color="#0cb3c5" d="M314.3 292.5l2.7-14.1-2.1 2.3-2.8 11.8z"/><path color="#3eaee9" d="M389.2 322.7l2.8-1.3-2.2-13.5-2.8 1.8z"/><path color="#3295f2" d="M296.8 341.1l2.7-12.7-2.1-1.5-2.8 12.2z"/><path color="#3ac0d4" d="M371.7 297l2.8-3-2.2-11.1-2.8 3z"/><path color="#6771f6" d="M279.2 383.4l2.8-11.1-2.1-1-2.8 11.1z"/><path color="#533fb7" d="M446.6 416l2.8-0.6-2.2-2.1-2.7 0.5z"/><path color="#4bc685" d="M354.2 252.1l2.7 5.3-2.1-9.3-2.8-8.7z"/><path color="#7264cf" d="M261.7 410l2.8-4.8-2.1-0.7-2.8 4.7z"/><path color="#7669d6" d="M429.1 406.2l2.8 0.6-2.2-5.6-2.7-1.1z"/><path color="#b3ce74" d="M336.7 229.8l2.7-10.3-2.1-4.6-2.8 8.7z"/><path color="#6175fa" d="M411.6 374.7l2.8 1.5-2.2-12-2.7-1.6z"/><path color="#18bbaf" d="M319.2 278.5l2.7-15.3-2.1 2.3-2.8 12.9z"/><path color="#41a4ef" d="M394.1 334.5l2.8-0.5-2.2-13.5-2.7 0.9z"/><path color="#259bea" d="M301.7 330.3l2.7-12.9-2.1-1-2.8 12z"/><path color="#3dbddc" d="M376.6 305.6l2.8-3.3-2.2-12-2.7 3.7z"/><path color="#5f76fc" d="M284.2 373.8l2.7-11.7-2.1-1.5-2.8 11.7z"/><path color="#4c37b2" d="M451.5 417.3l2.8-0.8-2.2-1.7-2.7 0.6z"/><path color="#1fbea6" d="M359.1 270l2.8 3.9-2.2-9.5-2.8-7z"/><path color="#7669d8" d="M266.7 406.1l2.7-6.3-2.1-0.7-2.8 6.1z"/><path color="#6f60cc" d="M434 411.3l2.8 0-2.2-4-2.7-0.5z"/><path color="#b8d07a" d="M341.6 230l2.8-6.4-2.2-8.9-2.8 4.8z"/><path color="#6c70f3" d="M416.5 387.1l2.8 1.5-2.2-10.5-2.7-1.9z"/><path color="#38c393" d="M324.1 264.6l2.7-16.1-2.1 0.9-2.8 13.8z"/><path color="#4997f7" d="M399 347.5l2.8 0.3-2.2-13.8-2.7 0z"/><path color="#1aa4e1" d="M306.6 319.2l2.7-13.6-2.1-0.5-2.8 12.3z"/><path color="#40b7e2" d="M381.5 314.5l2.8-2.6-2.2-12.6-2.7 3z"/><path color="#5381fd" d="M289.1 363.9l2.7-12.2-2.1-1.7-2.8 12.1z"/><path color="#0bb6be" d="M364 286.1l2.8 0.9-2.2-10.3-2.7-2.8z"/><path color="#756de1" d="M271.6 400.7l2.7-8.4-2.1-0.7-2.8 8.2z"/><path color="#6251c1" d="M438.9 414.5l2.7-0.3-2.1-2.9-2.8 0z"/><path color="#98cc74" d="M346.5 237.5l2.8-2.2-2.2-11.7-2.7 0z"/><path color="#746ee4" d="M421.4 397.8l2.8 1.1-2.2-8.5-2.7-1.8z"/><path color="#6aca80" d="M329 252.4l2.8-15.9-2.2-2-2.8 14z"/><path color="#5588fd" d="M403.9 360.7l2.8 0.7-2.2-12.9-2.7-0.7z"/><path color="#0facd4" d="M311.5 307.2l2.8-14.7-2.2 0-2.8 13.1z"/><path color="#42afe9" d="M386.4 324.5l2.8-1.8-2.2-13-2.7 2.2z"/><path color="#468dfb" d="M294 353.9l2.8-12.8-2.2-2-2.8 12.6z"/><path color="#2ebbd3" d="M368.9 298.8l2.8-1.8-2.2-11.1-2.7 1.1z"/><path color="#6f6fed" d="M276.5 393.4l2.7-10-2.1-1-2.8 9.9z"/><path color="#5643b9" d="M443.9 416.6l2.7-0.6-2.1-2.2-2.8 0.4z"/><path color="#5cc77a" d="M351.4 250.9l2.8 1.2-2.2-12.7-2.7-4.1z"/><path color="#6b5bc8" d="M259 413.7l2.7-3.7-2.1-0.8-2.8 3.5z"/><path color="#776ad9" d="M426.4 405.7l2.7 0.5-2.1-6.1-2.8-1.2z"/><path color="#97d082" d="M333.9 244l2.8-14.2-2.2-6.2-2.7 12.9z"/><path color="#637afc" d="M408.9 373.5l2.7 1.2-2.1-12.1-2.8-1.2z"/><path color="#0cb4c4" d="M316.4 294.4l2.8-15.9-2.2-0.1-2.7 14.1z"/><path color="#45a6f0" d="M391.4 335.5l2.7-1-2.1-13.1-2.8 1.3z"/><path color="#3897f3" d="M298.9 343.5l2.8-13.2-2.2-1.9-2.7 12.7z"/><path color="#3dbbde" d="M373.8 308.6l2.8-3-2.1-11.6-2.8 3z"/><path color="#6772f6" d="M281.4 384.9l2.8-11.1-2.2-1.5-2.8 11.1z"/><path color="#4e3ab4" d="M448.8 418l2.7-0.7-2.1-1.9-2.8 0.6z"/><path color="#2bc19c" d="M356.3 267.5l2.8 2.5-2.2-12.6-2.7-5.3z"/><path color="#7466d0" d="M263.9 411l2.8-4.9-2.2-0.9-2.8 4.8z"/><path color="#7365cf" d="M431.3 411.2l2.7 0.1-2.1-4.5-2.8-0.6z"/><path color="#a7d385" d="M338.8 241.4l2.8-11.4-2.2-10.5-2.7 10.3z"/><path color="#6971f5" d="M413.8 385.8l2.7 1.3-2.1-10.9-2.8-1.5z"/><path color="#1cbdaf" d="M321.3 281.5l2.8-16.9-2.2-1.4-2.7 15.3z"/><path color="#4b9af7" d="M396.3 347.7l2.7-0.2-2.1-13.5-2.8 0.5z"/><path color="#2c9eeb" d="M303.8 332.8l2.8-13.6-2.2-1.8-2.7 12.9z"/><path color="#43b6e4" d="M378.8 317.5l2.7-3-2.1-12.2-2.8 3.3z"/><path color="#6379fc" d="M286.3 375.6l2.8-11.7-2.2-1.8-2.7 11.7z"/><path color="#0fb8b9" d="M361.3 284.4l2.7 1.7-2.1-12.2-2.8-3.9z"/><path color="#776bd9" d="M268.8 407.1l2.8-6.4-2.2-0.9-2.7 6.3z"/><path color="#6857c5" d="M436.2 414.8l2.8-0.3-2.2-3.2-2.8 0z"/><path color="#9dd389" d="M343.8 245.1l2.7-7.6-2.1-13.9-2.8 6.4z"/><path color="#726fe8" d="M418.7 396.8l2.7 1-2.1-9.2-2.8-1.5z"/><path color="#4bc9a0" d="M326.2 269.6l2.8-17.2-2.2-3.9-2.7 16.1z"/><path color="#578cfd" d="M401.2 360.4l2.7 0.3-2.1-12.9-2.8-0.3z"/><path color="#21a6e2" d="M308.7 321.9l2.8-14.7-2.2-1.6-2.7 13.6z"/><path color="#46b0eb" d="M383.7 326.8l2.7-2.3-2.1-12.6-2.8 2.6z"/><path color="#5984fd" d="M291.2 366.1l2.8-12.2-2.2-2.2-2.7 12.2z"/><path color="#1db6cf" d="M366.2 299.1l2.7-0.3-2.1-11.8-2.8-0.9z"/><path color="#756ee2" d="M273.7 401.8l2.8-8.4-2.2-1.1-2.7 8.4z"/><path color="#5b48bc" d="M441.1 417.1l2.8-0.5-2.2-2.4-2.7 0.3z"/><path color="#7bd190" d="M348.7 254.6l2.7-3.7-2.1-15.6-2.8 2.2z"/><path color="#786cdc" d="M423.6 405.1l2.8 0.6-2.2-6.8-2.8-1.1z"/><path color="#73d198" d="M331.2 260.6l2.7-16.6-2.1-7.5-2.8 15.9z"/><path color="#657efd" d="M406.1 372.8l2.8 0.7-2.2-12.1-2.8-0.7z"/><path color="#19afd6" d="M313.7 310.4l2.7-16-2.1-1.9-2.8 14.7z"/><path color="#49a7f0" d="M388.6 337l2.8-1.5-2.2-12.8-2.8 1.8z"/><path color="#4c8ffb" d="M296.1 356.6l2.7-13.1-2.1-2.4-2.8 12.8z"/><path color="#37b8de" d="M371.1 310.9l2.7-2.3-2.1-11.6-2.8 1.8z"/><path color="#7070ed" d="M278.6 394.9l2.8-10-2.2-1.5-2.7 10z"/><path color="#513db5" d="M446 418.6l2.8-0.6-2.2-2-2.7 0.6z"/><path color="#45c79f" d="M353.6 268.4l2.7-0.9-2.1-15.4-2.8-1.2z"/><path color="#6d5ec9" d="M261.1 414.8l2.8-3.8-2.2-1-2.7 3.7z"/><path color="#7668d2" d="M428.5 411l2.8 0.2-2.2-5-2.7-0.5z"/><path color="#89d495" d="M336.1 255.9l2.7-14.5-2.1-11.6-2.8 14.2z"/><path color="#6b75f6" d="M411 385l2.8 0.8-2.2-11.1-2.7-1.2z"/><path color="#1fb9ca" d="M318.6 298.6l2.7-17.1-2.1-3-2.8 15.9z"/><path color="#4f9cf7" d="M393.5 348.5l2.8-0.8-2.2-13.2-2.7 1z"/><path color="#4099f4" d="M301.1 346.6l2.7-13.8-2.1-2.5-2.8 13.2z"/><path color="#44b5e6" d="M376 320.6l2.8-3.1-2.2-11.9-2.8 3z"/><path color="#6c75f6" d="M283.6 386.7l2.7-11.1-2.1-1.8-2.8 11.1z"/><path color="#1abbb6" d="M358.5 284l2.8 0.4-2.2-14.4-2.8-2.5z"/><path color="#7668d1" d="M266.1 412.1l2.7-5-2.1-1-2.8 4.9z"/><path color="#6c5cc8" d="M433.4 415l2.8-0.2-2.2-3.5-2.7-0.1z"/><path color="#8bd597" d="M341 256.6l2.8-11.5-2.2-15.1-2.8 11.4z"/><path color="#7270eb" d="M415.9 395.9l2.8 0.9-2.2-9.7-2.7-1.3z"/><path color="#34c3bc" d="M323.5 287.4l2.7-17.8-2.1-5-2.8 16.9z"/><path color="#598ffd" d="M398.4 360.6l2.8-0.2-2.2-12.9-2.7 0.2z"/><path color="#37a2ed" d="M306 336.3l2.7-14.4-2.1-2.7-2.8 13.6z"/><path color="#4ab0ec" d="M380.9 329.6l2.8-2.8-2.2-12.3-2.7 3z"/><path color="#687dfb" d="M288.5 377.9l2.7-11.8-2.1-2.2-2.8 11.7z"/><path color="#18b5cc" d="M363.4 299.1l2.8 0-2.2-13-2.7-1.7z"/><path color="#786cd9" d="M271 408.3l2.7-6.5-2.1-1.1-2.8 6.4z"/><path color="#5f4dbf" d="M438.3 417.6l2.8-0.5-2.1-2.6-2.8 0.3z"/><path color="#79d49e" d="M345.9 262.7l2.8-8.1-2.2-17.1-2.7 7.6z"/><path color="#786ede" d="M420.8 404.7l2.8 0.4-2.2-7.3-2.7-1z"/><path color="#4fccb1" d="M328.4 278.1l2.8-17.5-2.2-8.2-2.8 17.2z"/><path color="#6782fd" d="M403.3 372.5l2.8 0.3-2.2-12.1-2.7-0.3z"/><path color="#2faae5" d="M310.9 325.7l2.8-15.3-2.2-3.2-2.8 14.7z"/><path color="#4da8f1" d="M385.8 339l2.8-2-2.2-12.5-2.7 2.3z"/><path color="#5f86fd" d="M293.4 368.8l2.8-12.2-2.2-2.7-2.8 12.2z"/><path color="#2fb4dd" d="M368.3 312.3l2.8-1.4-2.2-12.1-2.7 0.3z"/><path color="#7770e2" d="M275.9 403.2l2.7-8.3-2.1-1.5-2.8 8.4z"/><path color="#5441b7" d="M443.3 419.3l2.7-0.7-2.1-2-2.8 0.5z"/><path color="#59ceac" d="M350.8 273l2.8-4.6-2.2-17.5-2.7 3.7z"/><path color="#786bd4" d="M425.8 410.9l2.7 0.1-2.1-5.3-2.8-0.6z"/><path color="#68d1aa" d="M333.3 272.2l2.8-16.3-2.2-11.9-2.7 16.6z"/><path color="#6d79f7" d="M408.2 384.4l2.8 0.6-2.1-11.5-2.8-0.7z"/><path color="#2cb4dc" d="M315.8 315.2l2.8-16.6-2.2-4.2-2.7 16z"/><path color="#539ef7" d="M390.7 349.8l2.8-1.3-2.1-13-2.8 1.5z"/><path color="#5491fd" d="M298.3 359.8l2.8-13.2-2.2-3.1-2.7 13.1z"/><path color="#42b3e7" d="M373.2 323.2l2.8-2.6-2.2-12-2.7 2.3z"/><path color="#7474ed" d="M280.8 396.6l2.8-9.9-2.2-1.8-2.8 10z"/><path color="#36c4bd" d="M355.7 286.1l2.8-2.1-2.2-16.5-2.7 0.9z"/><path color="#6f60ca" d="M263.3 415.9l2.8-3.8-2.2-1.1-2.8 3.8z"/><path color="#7162cb" d="M430.7 415.3l2.7-0.3-2.1-3.8-2.8-0.2z"/><path color="#70d3a8" d="M338.2 270.7l2.8-14.1-2.2-15.2-2.7 14.5z"/><path color="#7474ee" d="M413.2 395.3l2.7 0.6-2.1-10.1-2.8-0.8z"/><path color="#30bdd2" d="M320.7 305l2.8-17.6-2.2-5.9-2.7 17.1z"/><path color="#5c92fd" d="M395.7 361.3l2.7-0.7-2.1-12.9-2.8 0.8z"/><path color="#499bf6" d="M303.2 350.4l2.8-14.1-2.2-3.5-2.7 13.8z"/><path color="#4cafed" d="M378.2 332.6l2.7-3-2.1-12.1-2.8 3.1z"/><path color="#7179f6" d="M285.7 388.8l2.8-10.9-2.2-2.3-2.7 11.1z"/><path color="#25bacd" d="M360.7 300.2l2.7-1.1-2.1-14.7-2.8-0.4z"/><path color="#776ad2" d="M268.2 413.3l2.8-5-2.2-1.2-2.7 5z"/><path color="#6352c1" d="M435.6 418.1l2.7-0.5-2.1-2.8-2.8 0.2z"/><path color="#6ad2ad" d="M343.1 273.8l2.8-11.1-2.1-17.6-2.8 11.5z"/><path color="#7971e1" d="M418.1 404.3l2.7 0.4-2.1-7.9-2.8-0.9z"/><path color="#3ac4c9" d="M325.6 296l2.8-17.9-2.2-8.5-2.7 17.8z"/><path color="#6985fd" d="M400.6 372.7l2.7-0.2-2.1-12.1-2.8 0.2z"/><path color="#41a4ef" d="M308.1 340.7l2.8-15-2.2-3.8-2.7 14.4z"/><path color="#51a9f2" d="M383.1 341.7l2.7-2.7-2.1-12.2-2.8 2.8z"/><path color="#6d7ffb" d="M290.6 380.6l2.8-11.8-2.2-2.7-2.7 11.8z"/><path color="#2cb4dc" d="M365.6 313.6l2.7-1.3-2.1-13.2-2.8 0z"/><path color="#7b6fda" d="M273.1 409.6l2.8-6.4-2.2-1.4-2.7 6.5z"/><path color="#5844b9" d="M440.5 419.9l2.8-0.6-2.2-2.2-2.8 0.5z"/><path color="#56ceb8" d="M348.1 281.1l2.7-8.1-2.1-18.4-2.8 8.1z"/><path color="#7b6ed7" d="M423 410.8l2.8 0.1-2.2-5.8-2.8-0.4z"/><path color="#4bcac0" d="M330.6 289.4l2.7-17.2-2.1-11.6-2.8 17.5z"/><path color="#6f7cf8" d="M405.5 384.2l2.7 0.2-2.1-11.6-2.8-0.3z"/><path color="#3cade9" d="M313.1 330.9l2.8-15.7-2.1-4.8-2.8 15.3z"/><path color="#58a0f8" d="M388 351.7l2.7-1.9-2.1-12.8-2.8 2z"/><path color="#6688fd" d="M295.5 372l2.8-12.2-2.1-3.2-2.8 12.2z"/><path color="#3eb0e7" d="M370.5 325.4l2.7-2.2-2.1-12.3-2.8 1.4z"/><path color="#7b74e3" d="M278 404.8l2.8-8.2-2.2-1.7-2.7 8.3z"/><path color="#42c7c5" d="M353 291.4l2.7-5.3-2.1-17.7-2.8 4.6z"/><path color="#7567ce" d="M427.9 415.5l2.8-0.2-2.2-4.3-2.7-0.1z"/><path color="#55cebd" d="M335.5 286.3l2.7-15.6-2.1-14.8-2.8 16.3z"/><path color="#7577f0" d="M410.4 394.9l2.8 0.4-2.2-10.3-2.8-0.6z"/><path color="#3ab5e1" d="M318 321.6l2.7-16.6-2.1-6.4-2.8 16.6z"/><path color="#6095fd" d="M392.9 362.4l2.8-1.1-2.2-12.8-2.8 1.3z"/><path color="#5b93fd" d="M300.5 363.5l2.7-13.1-2.1-3.8-2.8 13.2z"/><path color="#4cadee" d="M375.4 335.4l2.8-2.8-2.2-12-2.8 2.6z"/><path color="#7877ed" d="M283 398.6l2.7-9.8-2.1-2.1-2.8 9.9z"/><path color="#35bfd2" d="M357.9 303.4l2.8-3.2-2.2-16.2-2.8 2.1z"/><path color="#7162cb" d="M265.4 417.1l2.8-3.8-2.1-1.2-2.8 3.8z"/><path color="#6958c4" d="M432.8 418.6l2.8-0.5-2.2-3.1-2.7 0.3z"/><path color="#56cebe" d="M340.4 287.1l2.7-13.3-2.1-17.2-2.8 14.1z"/><path color="#7b74e3" d="M415.3 404.1l2.8 0.2-2.2-8.4-2.7-0.6z"/><path color="#3bbeda" d="M322.9 313.2l2.7-17.2-2.1-8.6-2.8 17.6z"/><path color="#6b89fd" d="M397.8 373.3l2.8-0.6-2.2-12.1-2.7 0.7z"/><path color="#529cf8" d="M305.4 354.9l2.7-14.2-2.1-4.4-2.8 14.1z"/><path color="#54a9f3" d="M380.3 344.6l2.8-2.9-2.2-12.1-2.7 3z"/><path color="#757cf5" d="M287.9 391.3l2.7-10.7-2.1-2.7-2.8 10.9z"/><path color="#35b6de" d="M362.8 315.8l2.8-2.2-2.2-14.5-2.7 1.1z"/><path color="#7b6dd3" d="M270.4 414.6l2.7-5-2.1-1.3-2.8 5z"/><path color="#5b48bc" d="M437.7 420.6l2.8-0.7-2.2-2.3-2.7 0.5z"/><path color="#50cbc4" d="M345.3 291.7l2.8-10.6-2.2-18.4-2.8 11.1z"/><path color="#7d71da" d="M420.2 410.8l2.8 0-2.2-6.1-2.7-0.4z"/><path color="#41c3d3" d="M327.8 306.5l2.8-17.1-2.2-11.3-2.8 17.9z"/><path color="#7280f9" d="M402.7 384.4l2.8-0.2-2.2-11.7-2.7 0.2z"/><path color="#4ba5f2" d="M310.3 346l2.7-15.1-2.1-5.2-2.8 15z"/><path color="#5ca1f9" d="M385.2 354.1l2.8-2.4-2.2-12.7-2.7 2.7z"/><path color="#7282fa" d="M292.8 383.7l2.7-11.7-2.1-3.2-2.8 11.8z"/><path color="#3fafe8" d="M367.7 327.5l2.8-2.1-2.2-13.1-2.7 1.3z"/><path color="#7f73db" d="M275.3 411.1l2.7-6.3-2.1-1.6-2.8 6.4z"/><path color="#44c7ce" d="M350.2 299.4l2.8-8-2.2-18.4-2.7 8.1z"/><path color="#796bd1" d="M425.1 415.7l2.7-0.2-2.1-4.6-2.8-0.1z"/><path color="#45c7cf" d="M332.7 302.4l2.8-16.1-2.2-14.1-2.7 17.2z"/><path color="#787af2" d="M407.6 394.8l2.8 0.1-2.2-10.5-2.7-0.2z"/><path color="#47adec" d="M315.2 337.4l2.8-15.8-2.2-6.4-2.8 15.7z"/><path color="#6497fd" d="M390.1 364.2l2.8-1.8-2.2-12.6-2.7 1.9z"/><path color="#6d8afd" d="M297.7 375.7l2.8-12.2-2.2-3.7-2.8 12.2z"/><path color="#4babef" d="M372.6 338l2.8-2.6-2.2-12.2-2.7 2.2z"/><path color="#7f77e3" d="M280.2 406.6l2.8-8-2.2-2-2.8 8.2z"/><path color="#40c1d7" d="M355.1 309l2.8-5.6-2.2-17.3-2.7 5.3z"/><path color="#6e5ec7" d="M430.1 419l2.7-0.4-2.1-3.3-2.8 0.2z"/><path color="#48c8cf" d="M337.6 301.5l2.8-14.4-2.2-16.4-2.7 15.6z"/><path color="#7d77e5" d="M412.6 404l2.7 0.1-2.1-8.8-2.8-0.4z"/><path color="#46b5e7" d="M320.1 329.5l2.8-16.3-2.2-8.2-2.7 16.6z"/><path color="#6f8bfd" d="M395.1 374.4l2.7-1.1-2.1-12-2.8 1.1z"/><path color="#6393fd" d="M302.6 367.8l2.8-12.9-2.2-4.5-2.7 13.1z"/><path color="#56a7f4" d="M377.6 347.6l2.7-3-2.1-12-2.8 2.8z"/><path color="#7c7bec" d="M285.1 400.9l2.8-9.6-2.2-2.5-2.7 9.8z"/><path color="#40b9e1" d="M360 319.7l2.8-3.9-2.1-15.6-2.8 3.2z"/><path color="#7465cc" d="M267.6 418.4l2.8-3.8-2.2-1.3-2.8 3.8z"/><path color="#5f4dbe" d="M435 421.2l2.7-0.6-2.1-2.5-2.8 0.5z"/><path color="#48c7d1" d="M342.5 303.9l2.8-12.2-2.2-17.9-2.7 13.3z"/><path color="#7f74dc" d="M417.5 410.9l2.7-0.1-2.1-6.5-2.8-0.2z"/><path color="#45bbe1" d="M325 322.9l2.8-16.4-2.2-10.5-2.7 17.2z"/><path color="#7583f9" d="M400 385l2.7-0.6-2.1-11.7-2.8 0.6z"/><path color="#5b9cfa" d="M307.5 360l2.8-14-2.2-5.3-2.7 14.2z"/><path color="#60a0fa" d="M382.5 357l2.7-2.9-2.1-12.4-2.8 2.9z"/><path color="#7a7ff5" d="M290 394.2l2.8-10.5-2.2-3.1-2.7 10.7z"/><path color="#44b1e9" d="M365 330.5l2.7-3-2.1-13.9-2.8 2.2z"/><path color="#7e71d4" d="M272.5 416l2.8-4.9-2.2-1.5-2.7 5z"/><path color="#48c5d6" d="M347.5 309.2l2.7-9.8-2.1-18.3-2.8 10.6z"/><path color="#7d6fd3" d="M422.4 416l2.8-0.3-2.2-4.9-2.8 0z"/><path color="#46c0de" d="M330 318.3l2.7-15.9-2.1-13-2.8 17.1z"/><path color="#7a7df4" d="M404.9 395.1l2.7-0.3-2.1-10.6-2.8 0.2z"/><path color="#55a5f5" d="M312.4 352.3l2.8-14.9-2.2-6.5-2.7 15.1z"/><path color="#6998fd" d="M387.4 366.4l2.7-2.2-2.1-12.5-2.8 2.4z"/><path color="#7684f9" d="M294.9 387.2l2.8-11.5-2.2-3.7-2.7 11.7z"/><path color="#4daaf0" d="M369.9 340.8l2.7-2.8-2.1-12.6-2.8 2.1z"/><path color="#8276db" d="M277.4 412.8l2.8-6.2-2.2-1.8-2.7 6.3z"/><path color="#46c0dd" d="M352.4 316.6l2.7-7.6-2.1-17.6-2.8 8z"/><path color="#7263ca" d="M427.3 419.5l2.8-0.5-2.2-3.5-2.7 0.2z"/><path color="#48c2dc" d="M334.9 316.2l2.7-14.7-2.1-15.2-2.8 16.1z"/><path color="#7f7ae7" d="M409.8 404.2l2.8-0.2-2.2-9.1-2.8-0.1z"/><path color="#51acf0" d="M317.4 345l2.7-15.5-2.1-7.9-2.8 15.8z"/><path color="#728efd" d="M392.3 376l2.8-1.6-2.2-12-2.8 1.8z"/><path color="#748afd" d="M299.9 379.9l2.7-12.1-2.1-4.3-2.8 12.2z"/><path color="#58a5f6" d="M374.8 350.7l2.8-3.1-2.2-12.2-2.8 2.6z"/><path color="#827ae3" d="M282.4 408.7l2.7-7.8-2.1-2.3-2.8 8z"/><path color="#49b9e4" d="M357.3 325.4l2.7-5.7-2.1-16.3-2.8 5.6z"/><path color="#6352c0" d="M432.2 421.8l2.8-0.6-2.2-2.6-2.7 0.4z"/><path color="#49c3dc" d="M339.8 316.9l2.7-13-2.1-16.8-2.8 14.4z"/><path color="#8277de" d="M414.7 411.1l2.8-0.2-2.2-6.8-2.7-0.1z"/><path color="#50b2ec" d="M322.3 338.6l2.7-15.7-2.1-9.7-2.8 16.3z"/><path color="#7785f9" d="M397.2 386l2.8-1-2.2-11.7-2.7 1.1z"/><path color="#6c93fd" d="M304.8 372.6l2.7-12.6-2.1-5.1-2.8 12.9z"/><path color="#639ffb" d="M379.7 360l2.8-3-2.2-12.4-2.7 3z"/><path color="#807eeb" d="M287.3 403.5l2.7-9.3-2.1-2.9-2.8 9.6z"/><path color="#4db2eb" d="M362.2 334.7l2.8-4.2-2.2-14.7-2.8 3.9z"/><path color="#7768cd" d="M269.8 419.8l2.7-3.8-2.1-1.4-2.8 3.8z"/><path color="#4bc1df" d="M344.7 320.2l2.8-11-2.2-17.5-2.8 12.2z"/><path color="#8073d5" d="M419.6 416.4l2.8-0.4-2.2-5.2-2.7 0.1z"/><path color="#4fb7e9" d="M327.2 333.7l2.8-15.4-2.2-11.8-2.8 16.4z"/><path color="#7c80f4" d="M402.1 395.7l2.8-0.6-2.2-10.7-2.7 0.6z"/><path color="#649cfd" d="M309.7 365.7l2.7-13.4-2.1-6.3-2.8 14z"/><path color="#6d98fd" d="M384.6 369l2.8-2.6-2.2-12.3-2.7 2.9z"/><path color="#7e81f4" d="M292.2 397.4l2.7-10.2-2.1-3.5-2.8 10.5z"/><path color="#52abf1" d="M367.1 344.4l2.8-3.6-2.2-13.3-2.7 3z"/><path color="#8073d4" d="M274.7 417.6l2.7-4.8-2.1-1.7-2.8 4.9z"/><path color="#4dbde4" d="M349.6 325.6l2.8-9-2.2-17.2-2.7 9.8z"/><path color="#7768cc" d="M424.5 420l2.8-0.5-2.1-3.8-2.8 0.3z"/><path color="#4fbbe7" d="M332.1 330.8l2.8-14.6-2.2-13.8-2.7 15.9z"/><path color="#817ce8" d="M407 404.6l2.8-0.4-2.2-9.4-2.7 0.3z"/><path color="#5fa3f8" d="M314.6 359.2l2.8-14.2-2.2-7.6-2.8 14.9z"/><path color="#768ffd" d="M389.5 378l2.8-2-2.2-11.8-2.7 2.2z"/><path color="#7b86f8" d="M297.1 391l2.8-11.1-2.2-4.2-2.8 11.5z"/><path color="#5ba4f7" d="M372 353.9l2.8-3.2-2.2-12.7-2.7 2.8z"/><path color="#8579db" d="M279.6 414.6l2.8-5.9-2.2-2.1-2.8 6.2z"/><path color="#51b8e9" d="M354.5 332.5l2.8-7.1-2.2-16.4-2.7 7.6z"/><path color="#6857c3" d="M429.5 422.5l2.7-0.7-2.1-2.8-2.8 0.5z"/><path color="#50bce6" d="M337 330.1l2.8-13.2-2.2-15.4-2.7 14.7z"/><path color="#847adf" d="M412 411.5l2.7-0.4-2.1-7.1-2.8 0.2z"/><path color="#5aaaf4" d="M319.5 353.3l2.8-14.7-2.2-9.1-2.7 15.5z"/><path color="#7a88f9" d="M394.5 387.5l2.7-1.5-2.1-11.6-2.8 1.6z"/><path color="#798bfc" d="M302 384.4l2.8-11.8-2.2-4.8-2.7 12.1z"/><path color="#669efc" d="M376.9 363.1l2.8-3.1-2.1-12.4-2.8 3.1z"/><path color="#867de2" d="M284.5 410.9l2.8-7.4-2.2-2.6-2.7 7.8z"/><path color="#54b2ee" d="M359.4 340.5l2.8-5.8-2.2-15-2.7 5.7z"/><path color="#52bbe7" d="M341.9 331.8l2.8-11.6-2.2-16.3-2.7 13z"/><path color="#8276d7" d="M416.9 416.8l2.7-0.4-2.1-5.5-2.8 0.2z"/><path color="#59aff1" d="M324.4 348.4l2.8-14.7-2.2-10.8-2.7 15.7z"/><path color="#7f82f5" d="M399.4 396.7l2.7-1-2.1-10.7-2.8 1z"/><path color="#7492fd" d="M306.9 378l2.8-12.3-2.2-5.7-2.7 12.6z"/><path color="#7097fd" d="M381.9 371.9l2.7-2.9-2.1-12-2.8 3z"/><path color="#8480e9" d="M289.4 406.3l2.8-8.9-2.2-3.2-2.7 9.3z"/><path color="#58acf3" d="M364.4 349l2.7-4.6-2.1-13.9-2.8 4.2z"/><path color="#786acd" d="M271.9 421.2l2.8-3.6-2.2-1.6-2.7 3.8z"/><path color="#54b9ea" d="M346.9 335.5l2.8-9.9-2.1-16.4-2.8 11z"/><path color="#7a6ccf" d="M421.8 420.6l2.7-0.6-2.1-4-2.8 0.4z"/><path color="#58b3ef" d="M329.3 345l2.8-14.2-2.1-12.5-2.8 15.4z"/><path color="#837fe9" d="M404.3 405.3l2.7-0.7-2.1-9.5-2.8 0.6z"/><path color="#6d99fd" d="M311.8 371.9l2.8-12.7-2.2-6.9-2.7 13.4z"/><path color="#7a90fd" d="M386.8 380.5l2.7-2.5-2.1-11.6-2.8 2.6z"/><path color="#8283f2" d="M294.3 400.9l2.8-9.9-2.2-3.8-2.7 10.2z"/><path color="#60a4f8" d="M369.3 357.8l2.7-3.9-2.1-13.1-2.8 3.6z"/><path color="#8275d5" d="M276.8 419.2l2.8-4.6-2.2-1.8-2.7 4.8z"/><path color="#57b5ee" d="M351.8 340.9l2.7-8.4-2.1-15.9-2.8 9z"/><path color="#6c5cc5" d="M426.7 423.2l2.8-0.7-2.2-3-2.8 0.5z"/><path color="#59b5ee" d="M334.3 343.5l2.7-13.4-2.1-13.9-2.8 14.6z"/><path color="#867ce0" d="M409.2 412.1l2.8-0.6-2.2-7.3-2.8 0.4z"/><path color="#68a0fc" d="M316.8 366.5l2.7-13.2-2.1-8.3-2.8 14.2z"/><path color="#7d8af9" d="M391.7 389.4l2.8-1.9-2.2-11.5-2.8 2z"/><path color="#8087f7" d="M299.2 395.1l2.8-10.7-2.1-4.5-2.8 11.1z"/><path color="#699dfd" d="M374.2 366.5l2.7-3.4-2.1-12.4-2.8 3.2z"/><path color="#877cdb" d="M281.7 416.5l2.8-5.6-2.1-2.2-2.8 5.9z"/><path color="#5bb0f1" d="M356.7 347.5l2.7-7-2.1-15.1-2.8 7.1z"/><path color="#5ab5ee" d="M339.2 343.9l2.7-12.1-2.1-14.9-2.8 13.2z"/><path color="#8579d8" d="M414.1 417.3l2.8-0.5-2.2-5.7-2.7 0.4z"/><path color="#65a6f9" d="M321.7 361.9l2.7-13.5-2.1-9.8-2.8 14.7z"/><path color="#8185f5" d="M396.6 398.1l2.8-1.4-2.2-10.7-2.7 1.5z"/><path color="#7d8cfa" d="M304.2 389.4l2.7-11.4-2.1-5.4-2.8 11.8z"/><path color="#7396fd" d="M379.1 374.9l2.8-3-2.2-11.9-2.8 3.1z"/><path color="#897fe1" d="M286.7 413.2l2.7-6.9-2.1-2.8-2.8 7.4z"/><path color="#60aaf6" d="M361.6 354.7l2.8-5.7-2.2-14.3-2.8 5.8z"/><path color="#5bb4f0" d="M344.1 346.2l2.7-10.7-2.1-15.3-2.8 11.6z"/><path color="#7e70d0" d="M419 421.2l2.8-0.6-2.2-4.2-2.7 0.4z"/><path color="#63aaf7" d="M326.6 358.4l2.7-13.4-2.1-11.3-2.8 14.7z"/><path color="#8581ea" d="M401.5 406.3l2.8-1-2.2-9.6-2.7 1z"/><path color="#7c91fd" d="M309.1 383.8l2.7-11.9-2.1-6.2-2.8 12.3z"/><path color="#7c90fd" d="M384 383.3l2.8-2.8-2.2-11.5-2.7 2.9z"/><path color="#8882e8" d="M291.6 409.2l2.7-8.3-2.1-3.5-2.8 8.9z"/><path color="#66a4fa" d="M366.5 362.5l2.8-4.7-2.2-13.4-2.7 4.6z"/><path color="#796bcd" d="M274.1 422.7l2.7-3.5-2.1-1.6-2.8 3.6z"/><path color="#5eb1f2" d="M349 350.1l2.8-9.2-2.2-15.3-2.8 9.9z"/><path color="#7060c7" d="M423.9 423.9l2.8-0.7-2.2-3.2-2.7 0.6z"/><path color="#62adf5" d="M331.5 356.3l2.8-12.8-2.2-12.7-2.8 14.2z"/><path color="#887fe1" d="M406.4 412.9l2.8-0.8-2.2-7.5-2.7 0.7z"/><path color="#7797fd" d="M314 378.6l2.8-12.1-2.2-7.3-2.8 12.7z"/><path color="#808bf8" d="M388.9 391.7l2.8-2.3-2.2-11.4-2.7 2.5z"/><path color="#8685ef" d="M296.5 404.5l2.7-9.4-2.1-4.1-2.8 9.9z"/><path color="#6e9cfd" d="M371.4 370.4l2.8-3.9-2.2-12.6-2.7 3.9z"/><path color="#8477d4" d="M279 421l2.7-4.5-2.1-1.9-2.8 4.6z"/><path color="#62adf5" d="M353.9 355.2l2.8-7.7-2.2-15-2.7 8.4z"/><path color="#62aef5" d="M336.4 355.8l2.8-11.9-2.2-13.8-2.7 13.4z"/><path color="#877bda" d="M411.3 418l2.7-0.7-2.1-5.8-2.8 0.6z"/><path color="#729dfd" d="M318.9 374.1l2.8-12.2-2.2-8.6-2.7 13.2z"/><path color="#8487f4" d="M393.8 399.9l2.8-1.8-2.1-10.6-2.8 1.9z"/><path color="#8488f5" d="M301.4 399.5l2.8-10.1-2.2-5-2.8 10.7z"/><path color="#7795fd" d="M376.3 378.2l2.8-3.3-2.2-11.8-2.7 3.4z"/><path color="#897dda" d="M283.9 418.6l2.8-5.4-2.2-2.3-2.8 5.6z"/><path color="#67a8f9" d="M358.8 361.3l2.8-6.6-2.2-14.2-2.7 7z"/><path color="#63aef5" d="M341.3 356.9l2.8-10.7-2.2-14.4-2.7 12.1z"/><path color="#8173d2" d="M416.3 421.9l2.7-0.7-2.1-4.4-2.8 0.5z"/><path color="#6fa1fd" d="M323.8 370.6l2.8-12.2-2.2-10-2.7 13.5z"/><path color="#8784ea" d="M398.8 407.5l2.7-1.2-2.1-9.6-2.8 1.4z"/><path color="#828cf8" d="M306.3 394.5l2.8-10.7-2.2-5.8-2.7 11.4z"/><path color="#7e90fc" d="M381.3 386.3l2.7-3-2.1-11.4-2.8 3z"/><path color="#8b81e0" d="M288.8 415.6l2.8-6.4-2.2-2.9-2.7 6.9z"/><path color="#6da2fd" d="M363.8 367.8l2.7-5.3-2.1-13.5-2.8 5.7z"/><path color="#66acf7" d="M346.2 359.6l2.8-9.5-2.2-14.6-2.7 10.7z"/><path color="#7464c9" d="M421.2 424.6l2.7-0.7-2.1-3.3-2.8 0.6z"/><path color="#6da5fc" d="M328.7 368.2l2.8-11.9-2.2-11.3-2.7 13.4z"/><path color="#8a81e2" d="M403.7 413.9l2.7-1-2.1-7.6-2.8 1z"/><path color="#8190fb" d="M311.2 389.8l2.8-11.2-2.2-6.7-2.7 11.9z"/><path color="#828bf8" d="M386.2 394.2l2.7-2.5-2.1-11.2-2.8 2.8z"/><path color="#8b84e6" d="M293.7 412.2l2.8-7.7-2.2-3.6-2.7 8.3z"/><path color="#749bfd" d="M368.7 374.7l2.7-4.3-2.1-12.6-2.8 4.7z"/><path color="#7a6ccd" d="M276.2 424.3l2.8-3.3-2.2-1.8-2.7 3.5z"/><path color="#6aa9f9" d="M351.2 363.5l2.7-8.3-2.1-14.3-2.8 9.2z"/><path color="#6da6fb" d="M333.7 367.2l2.7-11.4-2.1-12.3-2.8 12.8z"/><path color="#897edb" d="M408.6 418.9l2.8-0.9-2.2-5.9-2.8 0.8z"/><path color="#8094fd" d="M316.1 385.5l2.7-11.4-2.1-7.6-2.8 12.1z"/><path color="#8688f3" d="M391.1 402l2.7-2.1-2.1-10.5-2.8 2.3z"/><path color="#8a87ec" d="M298.6 408.3l2.8-8.8-2.2-4.4-2.7 9.4z"/><path color="#7c95fd" d="M373.6 382l2.7-3.8-2.1-11.7-2.8 3.9z"/><path color="#8478d4" d="M281.1 422.7l2.8-4.1-2.2-2.1-2.7 4.5z"/><path color="#6fa5fc" d="M356.1 368.3l2.7-7-2.1-13.8-2.8 7.7z"/><path color="#6ea7fb" d="M338.6 367.4l2.7-10.5-2.1-13-2.8 11.9z"/><path color="#8376d3" d="M413.5 422.7l2.8-0.8-2.2-4.6-2.7 0.7z"/><path color="#7c98fd" d="M321.1 382l2.7-11.4-2.1-8.7-2.8 12.2z"/><path color="#8985ea" d="M396 409.1l2.8-1.6-2.2-9.4-2.8 1.8z"/><path color="#8889f2" d="M303.6 404.1l2.7-9.6-2.1-5.1-2.8 10.1z"/><path color="#8190fb" d="M378.5 389.6l2.8-3.3-2.2-11.4-2.8 3.3z"/><path color="#8a7fda" d="M286.1 420.7l2.7-5.1-2.1-2.4-2.8 5.4z"/><path color="#749ffd" d="M361 373.7l2.8-5.9-2.2-13.1-2.8 6.6z"/><path color="#70a6fc" d="M343.5 369l2.7-9.4-2.1-13.4-2.8 10.7z"/><path color="#7768cb" d="M418.4 425.4l2.8-0.8-2.2-3.4-2.7 0.7z"/><path color="#7a9cfd" d="M326 379.3l2.7-11.1-2.1-9.8-2.8 12.2z"/><path color="#8c83e2" d="M400.9 415l2.8-1.1-2.2-7.6-2.7 1.2z"/><path color="#878cf6" d="M308.5 399.8l2.7-10-2.1-6-2.8 10.7z"/><path color="#858cf7" d="M383.4 397l2.8-2.8-2.2-10.9-2.7 3z"/><path color="#8d83df" d="M291 418.2l2.7-6-2.1-3-2.8 6.4z"/><path color="#7b9afd" d="M365.9 379.8l2.8-5.1-2.2-12.2-2.7 5.3z"/><path color="#72a4fd" d="M348.4 371.8l2.8-8.3-2.2-13.4-2.8 9.5z"/><path color="#789efd" d="M330.9 377.8l2.8-10.6-2.2-10.9-2.8 11.9z"/><path color="#8b80db" d="M405.8 419.8l2.8-0.9-2.2-6-2.7 1z"/><path color="#858ff9" d="M313.4 395.9l2.8-10.4-2.2-6.9-2.8 11.2z"/><path color="#8889f2" d="M388.3 404.3l2.8-2.3-2.2-10.3-2.7 2.5z"/><path color="#8e86e4" d="M295.9 415.3l2.7-7-2.1-3.8-2.8 7.7z"/><path color="#8194fd" d="M370.8 386.4l2.8-4.4-2.2-11.6-2.7 4.3z"/><path color="#7a6bcc" d="M278.4 425.9l2.7-3.2-2.1-1.7-2.8 3.3z"/><path color="#77a0fd" d="M353.3 375.5l2.8-7.2-2.2-13.1-2.7 8.3z"/><path color="#789ffd" d="M335.8 377.4l2.8-10-2.2-11.6-2.7 11.4z"/><path color="#8579d4" d="M410.7 423.5l2.8-0.8-2.1-4.7-2.8 0.9z"/><path color="#8492fb" d="M318.3 392.6l2.8-10.6-2.2-7.9-2.7 11.4z"/><path color="#8c87e9" d="M393.2 410.9l2.8-1.8-2.2-9.2-2.7 2.1z"/><path color="#8d88e9" d="M300.8 412.1l2.8-8-2.2-4.6-2.8 8.8z"/><path color="#8490f9" d="M375.7 393.2l2.8-3.6-2.2-11.4-2.7 3.8z"/><path color="#8578d3" d="M283.3 424.6l2.8-3.9-2.2-2.1-2.8 4.1z"/><path color="#7b9cfd" d="M358.2 380.1l2.8-6.4-2.2-12.4-2.7 7z"/><path color="#799ffd" d="M340.7 378.2l2.8-9.2-2.2-12.1-2.7 10.5z"/><path color="#796bcc" d="M415.7 426.2l2.7-0.8-2.1-3.5-2.8 0.8z"/><path color="#8495fc" d="M323.2 389.9l2.8-10.6-2.2-8.7-2.7 11.4z"/><path color="#8d85e2" d="M398.2 416.4l2.7-1.4-2.1-7.5-2.8 1.6z"/><path color="#8c8aee" d="M305.7 408.6l2.8-8.8-2.2-5.3-2.7 9.6z"/><path color="#878df6" d="M380.6 400.1l2.8-3.1-2.1-10.7-2.8 3.3z"/><path color="#8b80d9" d="M288.2 422.8l2.8-4.6-2.2-2.6-2.7 5.1z"/><path color="#8197fd" d="M363.1 385.4l2.8-5.6-2.1-12-2.8 5.9z"/><path color="#7c9efd" d="M345.6 380.1l2.8-8.3-2.2-12.2-2.7 9.4z"/><path color="#8497fd" d="M328.1 388l2.8-10.2-2.2-9.6-2.7 11.1z"/><path color="#8c81dc" d="M403.1 420.9l2.7-1.1-2.1-5.9-2.8 1.1z"/><path color="#8b8df3" d="M310.6 405.2l2.8-9.3-2.2-6.1-2.7 10z"/><path color="#8b8af0" d="M385.6 406.8l2.7-2.5-2.1-10.1-2.8 2.8z"/><path color="#8f84de" d="M293.1 420.7l2.8-5.4-2.2-3.1-2.7 6z"/><path color="#8493fb" d="M368.1 391.1l2.7-4.7-2.1-11.7-2.8 5.1z"/><path color="#7f9bfd" d="M350.6 383l2.7-7.5-2.1-12-2.8 8.3z"/><path color="#8399fd" d="M333.1 387.2l2.8-9.8-2.1-10.2-2.8 10.6z"/><path color="#877bd5" d="M408 424.5l2.7-1-2.1-4.6-2.8 0.9z"/><path color="#8a8ff6" d="M315.5 402.1l2.8-9.5-2.1-7.1-2.8 10.4z"/><path color="#8e88e8" d="M390.5 412.9l2.7-2-2.1-8.9-2.8 2.3z"/><path color="#9087e2" d="M298 418.3l2.8-6.2-2.2-3.8-2.7 7z"/><path color="#8790f8" d="M373 397.2l2.7-4-2.1-11.2-2.8 4.4z"/><path color="#796acb" d="M280.5 427.5l2.8-2.9-2.2-1.9-2.7 3.2z"/><path color="#8399fd" d="M355.5 386.8l2.7-6.7-2.1-11.8-2.8 7.2z"/><path color="#8499fd" d="M338 387.4l2.7-9.2-2.1-10.8-2.8 10z"/><path color="#7c6dcd" d="M412.9 427.1l2.8-0.9-2.2-3.5-2.8 0.8z"/><path color="#8991f8" d="M320.5 399.4l2.7-9.5-2.1-7.9-2.8 10.6z"/><path color="#8f86e2" d="M395.4 418l2.8-1.6-2.2-7.3-2.8 1.8z"/><path color="#908ae6" d="M303 415.8l2.7-7.2-2.1-4.5-2.8 8z"/><path color="#8a8df5" d="M377.9 403.4l2.7-3.3-2.1-10.5-2.8 3.6z"/><path color="#8477d2" d="M285.4 426.4l2.8-3.6-2.1-2.1-2.8 3.9z"/><path color="#8696fc" d="M360.4 391.3l2.7-5.9-2.1-11.7-2.8 6.4z"/><path color="#8599fd" d="M342.9 388.6l2.7-8.5-2.1-11.1-2.8 9.2z"/><path color="#8893f9" d="M325.4 397.5l2.7-9.5-2.1-8.7-2.8 10.6z"/><path color="#8e83dc" d="M400.3 422.2l2.8-1.3-2.2-5.9-2.7 1.4z"/><path color="#8f8bea" d="M307.9 413.1l2.7-7.9-2.1-5.4-2.8 8.8z"/><path color="#8d8bee" d="M382.8 409.5l2.8-2.7-2.2-9.8-2.8 3.1z"/><path color="#8c80d7" d="M290.4 425l2.7-4.3-2.1-2.5-2.8 4.6z"/><path color="#8893f9" d="M365.3 396.2l2.8-5.1-2.2-11.3-2.8 5.6z"/><path color="#8697fc" d="M347.8 390.7l2.8-7.7-2.2-11.2-2.8 8.3z"/><path color="#8894fa" d="M330.3 396.4l2.7-9.2-2.1-9.4-2.8 10.2z"/><path color="#897cd5" d="M405.2 425.6l2.8-1.1-2.2-4.7-2.7 1.1z"/><path color="#8f8def" d="M312.8 410.5l2.7-8.4-2.1-6.2-2.8 9.3z"/><path color="#8f89e7" d="M387.7 415l2.8-2.1-2.2-8.6-2.7 2.5z"/><path color="#9085dc" d="M295.3 423.3l2.7-5-2.1-3-2.8 5.4z"/><path color="#8a90f7" d="M370.2 401.5l2.8-4.3-2.2-10.8-2.7 4.7z"/><path color="#8796fb" d="M352.7 393.6l2.8-6.8-2.2-11.3-2.7 7.5z"/><path color="#8995fa" d="M335.2 396.1l2.8-8.7-2.2-10-2.8 9.8z"/><path color="#7d6fce" d="M410.1 428.1l2.8-1-2.2-3.6-2.7 1z"/><path color="#8e8ff2" d="M317.7 408.1l2.8-8.7-2.2-6.8-2.8 9.5z"/><path color="#9187e1" d="M392.6 419.7l2.8-1.7-2.2-7.1-2.7 2z"/><path color="#9288e0" d="M300.2 421.4l2.8-5.6-2.2-3.7-2.8 6.2z"/><path color="#8d8ef3" d="M375.1 407l2.8-3.6-2.2-10.2-2.7 4z"/><path color="#7768ca" d="M282.7 429.2l2.7-2.8-2.1-1.8-2.8 2.9z"/><path color="#8994f9" d="M357.6 397.3l2.8-6-2.2-11.2-2.7 6.7z"/><path color="#8995fa" d="M340.1 396.7l2.8-8.1-2.2-10.4-2.7 9.2z"/><path color="#8e90f5" d="M322.6 406.2l2.8-8.7-2.2-7.6-2.7 9.5z"/><path color="#8f84dc" d="M397.5 423.6l2.8-1.4-2.1-5.8-2.8 1.6z"/><path color="#938ae4" d="M305.1 419.3l2.8-6.2-2.2-4.5-2.7 7.2z"/><path color="#8f8cec" d="M380 412.4l2.8-2.9-2.2-9.4-2.7 3.3z"/><path color="#8275d0" d="M287.6 428.3l2.8-3.3-2.2-2.2-2.8 3.6z"/><path color="#8b92f7" d="M362.5 401.4l2.8-5.2-2.2-10.8-2.7 5.9z"/><path color="#8a95f9" d="M345 398.1l2.8-7.4-2.2-10.6-2.7 8.5z"/><path color="#8d91f6" d="M327.5 404.8l2.8-8.4-2.2-8.4-2.7 9.5z"/><path color="#8a7ed6" d="M402.5 426.7l2.7-1.1-2.1-4.7-2.8 1.3z"/><path color="#938ce7" d="M310 417.3l2.8-6.8-2.2-5.3-2.7 7.9z"/><path color="#918ae6" d="M385 417.3l2.7-2.3-2.1-8.2-2.8 2.7z"/><path color="#8b7fd6" d="M292.5 427.2l2.8-3.9-2.2-2.6-2.7 4.3z"/><path color="#8e90f5" d="M367.5 406l2.7-4.5-2.1-10.4-2.8 5.1z"/><path color="#8b94f8" d="M350 400.4l2.7-6.8-2.1-10.6-2.8 7.7z"/><path color="#8d92f7" d="M332.4 404.2l2.8-8.1-2.2-8.9-2.7 9.2z"/><path color="#7f71ce" d="M407.4 429.1l2.7-1-2.1-3.6-2.8 1.1z"/><path color="#928eea" d="M314.9 415.4l2.8-7.3-2.2-6-2.7 8.4z"/><path color="#9288e1" d="M389.9 421.5l2.7-1.8-2.1-6.8-2.8 2.1z"/><path color="#9085da" d="M297.4 425.8l2.8-4.4-2.2-3.1-2.7 5z"/><path color="#8f8eef" d="M372.4 410.8l2.7-3.8-2.1-9.8-2.8 4.3z"/><path color="#8d93f7" d="M354.9 403.3l2.7-6-2.1-10.5-2.8 6.8z"/><path color="#8e93f7" d="M337.4 404.4l2.7-7.7-2.1-9.3-2.8 8.7z"/><path color="#928fed" d="M319.9 413.7l2.7-7.5-2.1-6.8-2.8 8.7z"/><path color="#9085db" d="M394.8 425l2.7-1.4-2.1-5.6-2.8 1.7z"/><path color="#9388de" d="M302.4 424.3l2.7-5-2.1-3.5-2.8 5.6z"/><path color="#928dea" d="M377.3 415.4l2.7-3-2.1-9-2.8 3.6z"/><path color="#7465c8" d="M284.8 430.8l2.8-2.5-2.2-1.9-2.7 2.8z"/><path color="#8f91f6" d="M359.8 406.8l2.7-5.4-2.1-10.1-2.8 6z"/><path color="#8e93f6" d="M342.3 405.3l2.7-7.2-2.1-9.5-2.8 8.1z"/><path color="#9190ef" d="M324.8 412.5l2.7-7.7-2.1-7.3-2.8 8.7z"/><path color="#8a7ed5" d="M399.7 427.9l2.8-1.2-2.2-4.5-2.8 1.4z"/><path color="#948be1" d="M307.3 422.8l2.7-5.5-2.1-4.2-2.8 6.2z"/><path color="#938be5" d="M382.2 419.6l2.8-2.3-2.2-7.8-2.8 2.9z"/><path color="#8072ce" d="M289.8 430.2l2.7-3-2.1-2.2-2.8 3.3z"/><path color="#9090f1" d="M364.7 410.6l2.8-4.6-2.2-9.8-2.8 5.2z"/><path color="#8f92f6" d="M347.2 407l2.8-6.6-2.2-9.7-2.8 7.4z"/><path color="#9191f0" d="M329.7 411.7l2.7-7.5-2.1-7.8-2.8 8.4z"/><path color="#7f71ce" d="M404.6 430.2l2.8-1.1-2.2-3.5-2.7 1.1z"/><path color="#958de4" d="M312.2 421.2l2.7-5.8-2.1-4.9-2.8 6.8z"/><path color="#9389e0" d="M387.1 423.4l2.8-1.9-2.2-6.5-2.7 2.3z"/><path color="#897cd4" d="M294.7 429.3l2.7-3.5-2.1-2.5-2.8 3.9z"/><path color="#928fec" d="M369.6 414.6l2.8-3.8-2.2-9.3-2.7 4.5z"/><path color="#9092f4" d="M352.1 409.2l2.8-5.9-2.2-9.7-2.7 6.8z"/><path color="#9291f1" d="M334.6 411.6l2.8-7.2-2.2-8.3-2.8 8.1z"/><path color="#958ee6" d="M317.1 419.9l2.8-6.2-2.2-5.6-2.8 7.3z"/><path color="#9186db" d="M392 426.6l2.8-1.6-2.2-5.3-2.7 1.8z"/><path color="#8f84d8" d="M299.6 428.3l2.8-4-2.2-2.9-2.8 4.4z"/><path color="#948ee7" d="M374.5 418.5l2.8-3.1-2.2-8.4-2.7 3.8z"/><path color="#9291f0" d="M357 412l2.8-5.2-2.2-9.5-2.7 6z"/><path color="#9292f1" d="M339.5 412.1l2.8-6.8-2.2-8.6-2.7 7.7z"/><path color="#958fe8" d="M322 418.8l2.8-6.3-2.2-6.3-2.7 7.5z"/><path color="#8b7ed5" d="M396.9 429.3l2.8-1.4-2.2-4.3-2.7 1.4z"/><path color="#9388dc" d="M304.5 427.2l2.8-4.4-2.2-3.5-2.7 5z"/><path color="#958ce3" d="M379.4 422.1l2.8-2.5-2.2-7.2-2.7 3z"/><path color="#7161c6" d="M287 432.5l2.8-2.3-2.2-1.9-2.8 2.5z"/><path color="#9390ed" d="M361.9 415.1l2.8-4.5-2.2-9.2-2.7 5.4z"/><path color="#9392f0" d="M344.4 413.2l2.8-6.2-2.2-8.9-2.7 7.2z"/><path color="#9590ea" d="M326.9 418.1l2.8-6.4-2.2-6.9-2.7 7.7z"/><path color="#7f71ce" d="M401.9 431.3l2.7-1.1-2.1-3.5-2.8 1.2z"/><path color="#958bde" d="M309.4 426l2.8-4.8-2.2-3.9-2.7 5.5z"/><path color="#948adf" d="M384.4 425.4l2.7-2-2.1-6.1-2.8 2.3z"/><path color="#7c6ecc" d="M291.9 432l2.8-2.7-2.2-2.1-2.7 3z"/><path color="#958fe9" d="M366.9 418.3l2.8-3.7-2.1-8.6-2.8 4.6z"/><path color="#9491ee" d="M349.3 414.8l2.8-5.6-2.1-8.8-2.8 6.6z"/><path color="#9591ea" d="M331.8 417.8l2.8-6.2-2.2-7.4-2.7 7.5z"/><path color="#968de1" d="M314.3 424.9l2.8-5-2.2-4.5-2.7 5.8z"/><path color="#9186da" d="M389.3 428.2l2.7-1.6-2.1-5.1-2.8 1.9z"/><path color="#8678d1" d="M296.8 431.3l2.8-3-2.2-2.5-2.7 3.5z"/><path color="#968ee5" d="M371.8 421.5l2.7-3-2.1-7.7-2.8 3.8z"/><path color="#9591ec" d="M354.3 416.9l2.7-4.9-2.1-8.7-2.8 5.9z"/><path color="#9591eb" d="M336.8 418l2.7-5.9-2.1-7.7-2.8 7.2z"/><path color="#978ee3" d="M319.2 424l2.8-5.2-2.1-5.1-2.8 6.2z"/><path color="#8a7ed4" d="M394.2 430.6l2.7-1.3-2.1-4.3-2.8 1.6z"/><path color="#8d81d6" d="M301.7 430.6l2.8-3.4-2.1-2.9-2.8 4z"/><path color="#968ce1" d="M376.7 424.5l2.7-2.4-2.1-6.7-2.8 3.1z"/><path color="#9690e9" d="M359.2 419.3l2.7-4.2-2.1-8.3-2.8 5.2z"/><path color="#9691ea" d="M341.7 418.7l2.7-5.5-2.1-7.9-2.8 6.8z"/><path color="#978fe4" d="M324.2 423.4l2.7-5.3-2.1-5.6-2.8 6.3z"/><path color="#7f71cd" d="M399.1 432.5l2.8-1.2-2.2-3.4-2.8 1.4z"/><path color="#9186d9" d="M306.7 429.8l2.7-3.8-2.1-3.2-2.8 4.4z"/><path color="#948add" d="M381.6 427.4l2.8-2-2.2-5.8-2.8 2.5z"/><path color="#6d5dc4" d="M289.2 434.1l2.7-2.1-2.1-1.8-2.8 2.3z"/><path color="#978fe6" d="M364.1 421.8l2.7-3.5-2.1-7.7-2.8 4.5z"/><path color="#9691e9" d="M346.6 419.8l2.7-5-2.1-7.8-2.8 6.2z"/><path color="#9890e5" d="M329.1 423l2.7-5.2-2.1-6.1-2.8 6.4z"/><path color="#958adc" d="M311.6 429l2.7-4.1-2.1-3.7-2.8 4.8z"/><path color="#9185d9" d="M386.5 429.9l2.8-1.7-2.2-4.8-2.7 2z"/><path color="#7868c9" d="M294.1 433.8l2.7-2.5-2.1-2-2.8 2.7z"/><path color="#978ee3" d="M369 424.4l2.8-2.9-2.2-6.9-2.8 3.7z"/><path color="#9791e8" d="M351.5 421.3l2.8-4.4-2.2-7.7-2.8 5.6z"/><path color="#9890e6" d="M334 423.1l2.8-5.1-2.2-6.4-2.8 6.2z"/><path color="#968cde" d="M316.5 428.3l2.7-4.3-2.1-4.1-2.8 5z"/><path color="#897cd3" d="M391.4 432l2.8-1.4-2.2-4-2.7 1.6z"/><path color="#8173ce" d="M299 433.3l2.7-2.7-2.1-2.3-2.8 3z"/><path color="#968de0" d="M373.9 427l2.8-2.5-2.2-6-2.7 3z"/><path color="#9890e6" d="M356.4 423.2l2.8-3.9-2.2-7.3-2.7 4.9z"/><path color="#9890e5" d="M338.9 423.5l2.8-4.8-2.2-6.6-2.7 5.9z"/><path color="#978edf" d="M321.4 427.8l2.8-4.4-2.2-4.6-2.8 5.2z"/><path color="#7e6fcc" d="M396.3 433.7l2.8-1.2-2.2-3.2-2.7 1.3z"/><path color="#897cd3" d="M303.9 432.8l2.8-3-2.2-2.6-2.8 3.4z"/><path color="#948adc" d="M378.8 429.4l2.8-2-2.2-5.3-2.7 2.4z"/><path color="#988fe3" d="M361.3 425.2l2.8-3.4-2.2-6.7-2.7 4.2z"/><path color="#9990e5" d="M343.8 424.2l2.8-4.4-2.2-6.6-2.7 5.5z"/><path color="#988fe0" d="M326.3 427.5l2.8-4.5-2.2-4.9-2.7 5.3z"/><path color="#8e82d6" d="M308.8 432.3l2.8-3.3-2.2-3-2.7 3.8z"/><path color="#9084d7" d="M383.8 431.6l2.7-1.7-2.1-4.5-2.8 2z"/><path color="#6a58c1" d="M291.3 435.8l2.8-2-2.2-1.8-2.7 2.1z"/><path color="#988ee1" d="M366.2 427.3l2.8-2.9-2.2-6.1-2.7 3.5z"/><path color="#9990e4" d="M348.7 425.3l2.8-4-2.2-6.5-2.7 5z"/><path color="#998fe1" d="M331.2 427.4l2.8-4.3-2.2-5.3-2.7 5.2z"/><path color="#9287d9" d="M313.7 431.8l2.8-3.5-2.2-3.4-2.7 4.1z"/><path color="#887bd2" d="M388.7 433.5l2.7-1.5-2.1-3.8-2.8 1.7z"/><path color="#7262c6" d="M296.2 435.5l2.8-2.2-2.2-2-2.7 2.5z"/><path color="#978cde" d="M371.2 429.4l2.7-2.4-2.1-5.5-2.8 2.9z"/><path color="#9990e2" d="M353.7 426.7l2.7-3.5-2.1-6.3-2.8 4.4z"/><path color="#9990e1" d="M336.2 427.6l2.7-4.1-2.1-5.5-2.8 5.1z"/><path color="#958adb" d="M318.6 431.4l2.8-3.6-2.2-3.8-2.7 4.3z"/><path color="#7c6dcb" d="M393.6 435l2.7-1.3-2.1-3.1-2.8 1.4z"/><path color="#7b6ccb" d="M301.1 435.2l2.8-2.4-2.2-2.2-2.7 2.7z"/><path color="#9489da" d="M376.1 431.5l2.7-2.1-2.1-4.9-2.8 2.5z"/><path color="#998fe0" d="M358.6 428.3l2.7-3.1-2.1-5.9-2.8 3.9z"/><path color="#9990e1" d="M341.1 428.2l2.7-4-2.1-5.5-2.8 4.8z"/><path color="#968cdc" d="M323.6 431.2l2.7-3.7-2.1-4.1-2.8 4.4z"/><path color="#8375cf" d="M306.1 434.9l2.7-2.6-2.1-2.5-2.8 3z"/><path color="#8e82d6" d="M381 433.3l2.8-1.7-2.2-4.2-2.8 2z"/><path color="#988ede" d="M363.5 430l2.7-2.7-2.1-5.5-2.8 3.4z"/><path color="#9990e0" d="M346 429l2.7-3.7-2.1-5.5-2.8 4.4z"/><path color="#978ddd" d="M328.5 431.1l2.7-3.7-2.1-4.4-2.8 4.5z"/><path color="#897cd2" d="M311 434.6l2.7-2.8-2.1-2.8-2.8 3.3z"/><path color="#8578d0" d="M385.9 434.9l2.8-1.4-2.2-3.6-2.7 1.7z"/><path color="#6554bf" d="M293.5 437.4l2.7-1.9-2.1-1.7-2.8 2z"/><path color="#968bdb" d="M368.4 431.8l2.8-2.4-2.2-5-2.8 2.9z"/><path color="#998fdf" d="M350.9 430l2.8-3.3-2.2-5.4-2.8 4z"/><path color="#988edd" d="M333.4 431.2l2.8-3.6-2.2-4.5-2.8 4.3z"/><path color="#8e81d5" d="M315.9 434.4l2.7-3-2.1-3.1-2.8 3.5z"/><path color="#796aca" d="M390.8 436.3l2.8-1.3-2.2-3-2.7 1.5z"/><path color="#6d5cc3" d="M298.4 437.2l2.7-2-2.1-1.9-2.8 2.2z"/><path color="#9286d8" d="M373.3 433.4l2.8-1.9-2.2-4.5-2.7 2.4z"/><path color="#988ede" d="M355.8 431.2l2.8-2.9-2.2-5.1-2.7 3.5z"/><path color="#988edd" d="M338.3 431.6l2.8-3.4-2.2-4.7-2.7 4.1z"/><path color="#9185d7" d="M320.8 434.2l2.8-3-2.2-3.4-2.8 3.6z"/><path color="#7565c7" d="M303.3 437.1l2.8-2.2-2.2-2.1-2.8 2.4z"/><path color="#8b7fd4" d="M378.2 435l2.8-1.7-2.2-3.9-2.7 2.1z"/><path color="#968cdc" d="M360.7 432.6l2.8-2.6-2.2-4.8-2.7 3.1z"/><path color="#988edd" d="M343.2 432.2l2.8-3.2-2.2-4.8-2.7 4z"/><path color="#9387d8" d="M325.7 434.2l2.8-3.1-2.2-3.6-2.7 3.7z"/><path color="#7c6dcb" d="M308.2 436.9l2.8-2.3-2.2-2.3-2.7 2.6z"/><path color="#8274ce" d="M383.1 436.3l2.8-1.4-2.1-3.3-2.8 1.7z"/><path color="#9388d9" d="M365.6 434l2.8-2.2-2.2-4.5-2.7 2.7z"/><path color="#978ddc" d="M348.1 432.9l2.8-2.9-2.2-4.7-2.7 3.7z"/><path color="#9489d9" d="M330.6 434.3l2.8-3.1-2.2-3.8-2.7 3.7z"/><path color="#8274ce" d="M313.1 436.8l2.8-2.4-2.2-2.6-2.7 2.8z"/><path color="#7667c8" d="M388.1 437.5l2.7-1.2-2.1-2.8-2.8 1.4z"/><path color="#614fbd" d="M295.6 438.9l2.8-1.7-2.2-1.7-2.7 1.9z"/><path color="#8f82d5" d="M370.6 435.3l2.7-1.9-2.1-4-2.8 2.4z"/><path color="#968bda" d="M353 433.9l2.8-2.7-2.1-4.5-2.8 3.3z"/><path color="#9489d9" d="M335.5 434.5l2.8-2.9-2.1-4-2.8 3.6z"/><path color="#8679d0" d="M318 436.7l2.8-2.5-2.2-2.8-2.7 3z"/><path color="#6856c0" d="M300.5 438.9l2.8-1.8-2.2-1.9-2.7 2z"/><path color="#877ad1" d="M375.5 436.6l2.7-1.6-2.1-3.5-2.8 1.9z"/><path color="#9388d8" d="M358 434.9l2.7-2.3-2.1-4.3-2.8 2.9z"/><path color="#9489d9" d="M340.5 434.9l2.7-2.7-2.1-4-2.8 3.4z"/><path color="#8a7dd2" d="M323 436.7l2.7-2.5-2.1-3-2.8 3z"/><path color="#6e5dc3" d="M305.5 438.8l2.7-1.9-2.1-2-2.8 2.2z"/><path color="#7e6fcc" d="M380.4 437.8l2.7-1.5-2.1-3-2.8 1.7z"/><path color="#9084d6" d="M362.9 436l2.7-2-2.1-4-2.8 2.6z"/><path color="#9388d8" d="M345.4 435.5l2.7-2.6-2.1-3.9-2.8 3.2z"/><path color="#8c7fd3" d="M327.9 436.8l2.7-2.5-2.1-3.2-2.8 3.1z"/><path color="#7464c6" d="M310.4 438.8l2.7-2-2.1-2.2-2.8 2.3z"/><path color="#7363c6" d="M385.3 438.8l2.8-1.3-2.2-2.6-2.8 1.4z"/><path color="#8a7dd2" d="M367.8 437.1l2.8-1.8-2.2-3.5-2.8 2.2z"/><path color="#9186d7" d="M350.3 436.2l2.7-2.3-2.1-3.9-2.8 2.9z"/><path color="#8d81d4" d="M332.8 437l2.7-2.5-2.1-3.3-2.8 3.1z"/><path color="#796ac9" d="M315.3 438.8l2.7-2.1-2.1-2.3-2.8 2.4z"/><path color="#5d4aba" d="M297.8 440.5l2.7-1.6-2.1-1.7-2.8 1.7z"/><path color="#8274ce" d="M372.7 438.2l2.8-1.6-2.2-3.2-2.7 1.9z"/><path color="#8e82d5" d="M355.2 437l2.8-2.1-2.2-3.7-2.8 2.7z"/><path color="#8d81d4" d="M337.7 437.3l2.8-2.4-2.2-3.3-2.8 2.9z"/><path color="#7d6fcb" d="M320.2 438.8l2.8-2.1-2.2-2.5-2.8 2.5z"/><path color="#6350bd" d="M302.7 440.5l2.8-1.7-2.2-1.7-2.8 1.8z"/><path color="#796ac9" d="M377.6 439.2l2.8-1.4-2.2-2.8-2.7 1.6z"/><path color="#8a7dd2" d="M360.1 437.9l2.8-1.9-2.2-3.4-2.7 2.3z"/><path color="#8c80d3" d="M342.6 437.8l2.8-2.3-2.2-3.3-2.7 2.7z"/><path color="#8072cd" d="M325.1 438.9l2.8-2.1-2.2-2.6-2.7 2.5z"/><path color="#6856c0" d="M307.6 440.5l2.8-1.7-2.2-1.9-2.7 1.9z"/><path color="#6f5fc4" d="M382.5 440.1l2.8-1.3-2.2-2.5-2.7 1.5z"/><path color="#8376cf" d="M365 438.8l2.8-1.7-2.2-3.1-2.7 2z"/><path color="#8a7dd2" d="M347.5 438.3l2.8-2.1-2.2-3.3-2.7 2.6z"/><path color="#8274ce" d="M330 439.1l2.8-2.1-2.2-2.7-2.7 2.5z"/><path color="#6c5cc2" d="M312.5 440.6l2.8-1.8-2.2-2-2.7 2z"/><path color="#7c6dca" d="M369.9 439.7l2.7-1.5-2.1-2.9-2.8 1.8z"/><path color="#8779d0" d="M352.4 439l2.8-2-2.2-3.1-2.7 2.3z"/><path color="#8375ce" d="M334.9 439.4l2.8-2.1-2.2-2.8-2.7 2.5z"/><path color="#7160c4" d="M317.4 440.7l2.8-1.9-2.2-2.1-2.7 2.1z"/><path color="#5a46b8" d="M299.9 442l2.8-1.5-2.2-1.6-2.7 1.6z"/><path color="#7364c6" d="M374.9 440.6l2.7-1.4-2.1-2.6-2.8 1.6z"/><path color="#8274ce" d="M357.4 439.7l2.7-1.8-2.1-3-2.8 2.1z"/><path color="#8274ce" d="M339.9 439.8l2.7-2-2.1-2.9-2.8 2.4z"/><path color="#7464c6" d="M322.4 440.8l2.7-1.9-2.1-2.2-2.8 2.1z"/><path color="#5e4bba" d="M304.8 442.1l2.8-1.6-2.1-1.7-2.8 1.7z"/><path color="#6b5ac2" d="M379.8 441.4l2.7-1.3-2.1-2.3-2.8 1.4z"/><path color="#7c6dcb" d="M362.3 440.4l2.7-1.6-2.1-2.8-2.8 1.9z"/><path color="#8172cd" d="M344.8 440.2l2.7-1.9-2.1-2.8-2.8 2.3z"/><path color="#7667c7" d="M327.3 441l2.7-1.9-2.1-2.3-2.8 2.1z"/><path color="#624fbd" d="M309.8 442.2l2.7-1.6-2.1-1.8-2.8 1.7z"/><path color="#7566c7" d="M367.2 441.2l2.8-1.5-2.2-2.6-2.8 1.7z"/><path color="#7e6fcb" d="M349.7 440.7l2.7-1.7-2.1-2.8-2.8 2.1z"/><path color="#7768c8" d="M332.2 441.2l2.7-1.8-2.1-2.4-2.8 2.1z"/><path color="#6554be" d="M314.7 442.3l2.7-1.6-2.1-1.9-2.8 1.8z"/><path color="#6e5dc3" d="M372.1 441.9l2.8-1.3-2.2-2.4-2.7 1.5z"/><path color="#796ac9" d="M354.6 441.3l2.8-1.6-2.2-2.7-2.8 2z"/><path color="#7768c8" d="M337.1 441.5l2.8-1.7-2.2-2.5-2.8 2.1z"/><path color="#6957c0" d="M319.6 442.5l2.8-1.7-2.2-2-2.8 1.9z"/><path color="#5743b6" d="M302.1 443.5l2.7-1.4-2.1-1.6-2.8 1.5z"/><path color="#6755bf" d="M377 442.6l2.8-1.2-2.2-2.2-2.7 1.4z"/><path color="#7465c6" d="M359.5 441.9l2.8-1.5-2.2-2.5-2.7 1.8z"/><path color="#7667c7" d="M342 441.9l2.8-1.7-2.2-2.4-2.7 2z"/><path color="#6b5ac1" d="M324.5 442.6l2.8-1.6-2.2-2.1-2.7 1.9z"/><path color="#5946b8" d="M307 443.7l2.8-1.5-2.2-1.7-2.8 1.6z"/><path color="#6f5ec3" d="M364.4 442.6l2.8-1.4-2.2-2.4-2.7 1.6z"/><path color="#7464c6" d="M346.9 442.4l2.8-1.7-2.2-2.4-2.7 1.9z"/><path color="#6c5bc2" d="M329.4 442.9l2.8-1.7-2.2-2.1-2.7 1.9z"/><path color="#5c49ba" d="M311.9 443.8l2.8-1.5-2.2-1.7-2.7 1.6z"/><path color="#6957c0" d="M369.3 443.2l2.8-1.3-2.1-2.2-2.8 1.5z"/><path color="#7161c4" d="M351.8 442.9l2.8-1.6-2.2-2.3-2.7 1.7z"/><path color="#6d5cc2" d="M334.3 443.2l2.8-1.7-2.2-2.1-2.7 1.8z"/><path color="#5f4cbb" d="M316.8 444l2.8-1.5-2.2-1.8-2.7 1.6z"/><path color="#6350bd" d="M374.3 443.9l2.7-1.3-2.1-2-2.8 1.3z"/><path color="#6d5cc2" d="M356.8 443.4l2.7-1.5-2.1-2.2-2.8 1.6z"/><path color="#6c5cc2" d="M339.2 443.5l2.8-1.6-2.1-2.1-2.8 1.7z"/><path color="#614fbc" d="M321.7 444.2l2.8-1.6-2.1-1.8-2.8 1.7z"/><path color="#5440b5" d="M304.2 445l2.8-1.3-2.2-1.6-2.7 1.4z"/><path color="#6857c0" d="M361.7 444l2.7-1.4-2.1-2.2-2.8 1.5z"/><path color="#6b5ac1" d="M344.2 443.9l2.7-1.5-2.1-2.2-2.8 1.7z"/><path color="#6351bd" d="M326.7 444.4l2.7-1.5-2.1-1.9-2.8 1.6z"/><path color="#5642b6" d="M309.2 445.2l2.7-1.4-2.1-1.6-2.8 1.5z"/><path color="#6351bd" d="M366.6 444.5l2.7-1.3-2.1-2-2.8 1.4z"/><path color="#6957c0" d="M349.1 444.3l2.7-1.4-2.1-2.2-2.8 1.7z"/><path color="#6452bd" d="M331.6 444.7l2.7-1.5-2.1-2-2.8 1.7z"/><path color="#5844b7" d="M314.1 445.4l2.7-1.4-2.1-1.7-2.8 1.5z"/><path color="#5f4cbb" d="M371.5 445.1l2.8-1.2-2.2-2-2.8 1.3z"/><path color="#6654bf" d="M354 444.8l2.8-1.4-2.2-2.1-2.8 1.6z"/><path color="#6452bd" d="M336.5 445l2.7-1.5-2.1-2-2.8 1.7z"/><path color="#5a46b8" d="M319 445.6l2.7-1.4-2.1-1.7-2.8 1.5z"/><path color="#6250bd" d="M358.9 445.3l2.8-1.3-2.2-2.1-2.7 1.5z"/><path color="#6351bd" d="M341.4 445.3l2.8-1.4-2.2-2-2.8 1.6z"/><path color="#5b48b9" d="M323.9 445.8l2.8-1.4-2.2-1.8-2.8 1.6z"/><path color="#513db3" d="M306.4 446.5l2.8-1.3-2.2-1.5-2.8 1.3z"/><path color="#5f4cbb" d="M363.8 445.8l2.8-1.3-2.2-1.9-2.7 1.4z"/><path color="#624fbc" d="M346.3 445.7l2.8-1.4-2.2-1.9-2.7 1.5z"/><path color="#5c49b9" d="M328.8 446.1l2.8-1.4-2.2-1.8-2.7 1.5z"/><path color="#533fb4" d="M311.3 446.7l2.8-1.3-2.2-1.6-2.7 1.4z"/><path color="#5b47b8" d="M368.7 446.3l2.8-1.2-2.2-1.9-2.7 1.3z"/><path color="#604dbb" d="M351.2 446.1l2.8-1.3-2.2-1.9-2.7 1.4z"/><path color="#5d4aba" d="M333.7 446.3l2.8-1.3-2.2-1.8-2.7 1.5z"/><path color="#5540b5" d="M316.2 446.9l2.8-1.3-2.2-1.6-2.7 1.4z"/><path color="#5d4aba" d="M356.1 446.6l2.7-1.3-2.1-1.9-2.8 1.4z"/><path color="#5c49b9" d="M338.6 446.7l2.8-1.4-2.2-1.8-2.7 1.5z"/><path color="#5642b6" d="M321.1 447.1l2.8-1.3-2.2-1.6-2.7 1.4z"/><path color="#5a47b8" d="M361.1 447l2.7-1.2-2.1-1.8-2.8 1.3z"/><path color="#5c48b9" d="M343.6 447l2.7-1.3-2.1-1.8-2.8 1.4z"/><path color="#5743b6" d="M326.1 447.4l2.7-1.3-2.1-1.7-2.8 1.4z"/><path color="#4f3ab2" d="M308.6 447.9l2.7-1.2-2.1-1.5-2.8 1.3z"/><path color="#5743b6" d="M366 447.5l2.7-1.2-2.1-1.8-2.8 1.3z"/><path color="#5a47b8" d="M348.5 447.4l2.7-1.3-2.1-1.8-2.8 1.4z"/><path color="#5743b6" d="M331 447.6l2.7-1.3-2.1-1.6-2.8 1.4z"/><path color="#503bb2" d="M313.5 448.1l2.7-1.2-2.1-1.5-2.8 1.3z"/><path color="#5845b7" d="M353.4 447.8l2.8-1.2-2.2-1.8-2.8 1.3z"/><path color="#5743b6" d="M335.9 447.9l2.7-1.2-2.1-1.7-2.8 1.3z"/><path color="#513db3" d="M318.4 448.4l2.7-1.3-2.1-1.5-2.8 1.3z"/><path color="#5642b6" d="M358.3 448.2l2.8-1.2-2.2-1.7-2.7 1.3z"/><path color="#5743b6" d="M340.8 448.3l2.8-1.3-2.2-1.7-2.8 1.4z"/><path color="#523eb4" d="M323.3 448.6l2.8-1.2-2.2-1.6-2.8 1.3z"/><path color="#5440b5" d="M363.2 448.7l2.8-1.2-2.2-1.7-2.7 1.2z"/><path color="#5642b6" d="M345.7 448.6l2.8-1.2-2.2-1.7-2.7 1.3z"/><path color="#533eb4" d="M328.2 448.9l2.8-1.3-2.2-1.5-2.7 1.3z"/><path color="#4c37b0" d="M310.7 449.3l2.8-1.2-2.2-1.4-2.7 1.2z"/><path color="#5540b5" d="M350.6 449l2.8-1.2-2.2-1.7-2.7 1.3z"/><path color="#533eb4" d="M333.1 449.2l2.8-1.3-2.2-1.6-2.7 1.3z"/><path color="#4d38b1" d="M315.6 449.5l2.8-1.1-2.2-1.5-2.7 1.2z"/><path color="#533fb4" d="M355.5 449.4l2.8-1.2-2.1-1.6-2.8 1.2z"/><path color="#533eb4" d="M338 449.5l2.8-1.2-2.2-1.6-2.7 1.2z"/><path color="#4e39b1" d="M320.5 449.8l2.8-1.2-2.2-1.5-2.7 1.3z"/><path color="#523db3" d="M360.5 449.8l2.7-1.1-2.1-1.7-2.8 1.2z"/><path color="#523eb4" d="M343 449.8l2.7-1.2-2.1-1.6-2.8 1.3z"/><path color="#4f3ab2" d="M325.5 450.1l2.7-1.2-2.1-1.5-2.8 1.2z"/><path color="#513db3" d="M347.9 450.2l2.7-1.2-2.1-1.6-2.8 1.2z"/><path color="#4f3ab2" d="M330.4 450.4l2.7-1.2-2.1-1.6-2.8 1.3z"/><path color="#4a34af" d="M312.9 450.7l2.7-1.2-2.1-1.4-2.8 1.2z"/><path color="#503bb2" d="M352.8 450.5l2.7-1.1-2.1-1.6-2.8 1.2z"/><path color="#4f3ab2" d="M335.3 450.7l2.7-1.2-2.1-1.6-2.8 1.3z"/><path color="#4b35af" d="M317.8 450.9l2.7-1.1-2.1-1.4-2.8 1.1z"/><path color="#4f3ab2" d="M357.7 450.9l2.8-1.1-2.2-1.6-2.8 1.2z"/><path color="#4f3ab2" d="M340.2 451l2.8-1.2-2.2-1.5-2.8 1.2z"/><path color="#4b36b0" d="M322.7 451.2l2.8-1.1-2.2-1.5-2.8 1.2z"/><path color="#4e39b1" d="M345.1 451.3l2.8-1.1-2.2-1.6-2.7 1.2z"/><path color="#4c36b0" d="M327.6 451.5l2.8-1.1-2.2-1.5-2.7 1.2z"/><path color="#4e38b1" d="M350 451.7l2.8-1.2-2.2-1.5-2.7 1.2z"/><path color="#4c37b0" d="M332.5 451.8l2.8-1.1-2.2-1.5-2.7 1.2z"/><path color="#4c37b0" d="M354.9 452l2.8-1.1-2.2-1.5-2.7 1.1z"/><path color="#4c36b0" d="M337.4 452.1l2.8-1.1-2.2-1.5-2.7 1.2z"/><path color="#4b36b0" d="M342.3 452.4l2.8-1.1-2.1-1.5-2.8 1.2z"/><path color="#4b35af" d="M347.3 452.7l2.7-1-2.1-1.5-2.8 1.1z"/><path color="#4a34af" d="M352.2 453.1l2.7-1.1-2.1-1.5-2.8 1.2z"/></g><path d="M318 505.5L594 409.5" stroke="#666" stroke-width="1.2" fill="none"/><path d="M102.5 379.7L318 505.5" stroke="#666" stroke-width="1.2" fill="none"/><path d="M102.5 379.7L102.5 104.5" stroke="#ababab" stroke-width="1.5" fill="none"/><path d="M318 505.5L312 502" stroke="#4a4a4a" stroke-width="1.0" fill="none"/><path d="M318 505.5L325.7 502.8" stroke="#4a4a4a" stroke-width="1.0" fill="none"/><path d="M456 457.5L450 454" stroke="#4a4a4a" stroke-width="1.0" fill="none"/><path d="M210.2 442.6L218 439.9" stroke="#4a4a4a" stroke-width="1.0" fill="none"/><path d="M594 409.5L588 406" stroke="#4a4a4a" stroke-width="1.0" fill="none"/><path d="M102.5 379.7L110.2 377" stroke="#4a4a4a" stroke-width="1.0" fill="none"/><path d="M102.5 379.7L95 375.3" stroke="#4a4a4a" stroke-width="1.0" fill="none"/><path d="M102.5 292.6L95 288.2" stroke="#4a4a4a" stroke-width="1.0" fill="none"/><path d="M102.5 205.5L95 201.1" stroke="#4a4a4a" stroke-width="1.0" fill="none"/><path d="M102.5 118.4L95 114" stroke="#4a4a4a" stroke-width="1.0" fill="none"/><text x="89.5" y="123" font-size="28.5" text-anchor="end" style="font-family:'Liberation Sans',Arial,sans-serif;font-weight:bold" >0.3</text><text x="89.5" y="210.1" font-size="28.5" text-anchor="end" style="font-family:'Liberation Sans',Arial,sans-serif;font-weight:bold" >0.2</text><text x="89.5" y="297.2" font-size="28.5" text-anchor="end" style="font-family:'Liberation Sans',Arial,sans-serif;font-weight:bold" >0.1</text><text x="89.5" y="384.3" font-size="28.5" text-anchor="end" style="font-family:'Liberation Sans',Arial,sans-serif;font-weight:bold" >0</text><text x="88.5" y="414.3" font-size="28.5" text-anchor="end" style="font-family:'Liberation Sans',Arial,sans-serif;font-weight:bold" >5</text><text x="194.3" y="477.2" font-size="28.5" text-anchor="end" style="font-family:'Liberation Sans',Arial,sans-serif;font-weight:bold" >0</text><text x="301.3" y="540.1" font-size="28.5" text-anchor="end" style="font-family:'Liberation Sans',Arial,sans-serif;font-weight:bold" >-5</text><text x="330.3" y="542.8" font-size="28.5" text-anchor="start" style="font-family:'Liberation Sans',Arial,sans-serif;font-weight:bold" >-5</text><text x="469.8" y="494.8" font-size="28.5" text-anchor="start" style="font-family:'Liberation Sans',Arial,sans-serif;font-weight:bold" >0</text><text x="607.8" y="446.8" font-size="28.5" text-anchor="start" style="font-family:'Liberation Sans',Arial,sans-serif;font-weight:bold" >5</text><text transform="translate(464.5,568.5) scale(1.25,1)" font-size="46" text-anchor="middle" style="font-family:'Liberation Serif','Times New Roman',serif;font-style:italic;stroke:#000;stroke-width:1.1px">x</text><text x="182.5" y="561" font-size="46" text-anchor="middle" style="font-family:'Liberation Serif','Times New Roman',serif;font-style:italic;stroke:#000;stroke-width:1.1px" >y</text><text transform="translate(35,242.2) rotate(-90)" font-size="46" text-anchor="middle" style="font-family:'Liberation Serif','Times New Roman',serif;font-style:italic;stroke:#000;stroke-width:1.1px"><tspan style="font-style:normal;stroke-width:0">|</tspan>U<tspan style="font-style:normal;stroke-width:0">|</tspan></text><text x="316.3" y="602.3" font-size="20.5" text-anchor="middle" style="font-family:'Liberation Sans',Arial,sans-serif;font-weight:bold" >(a)</text></svg></body></html>
